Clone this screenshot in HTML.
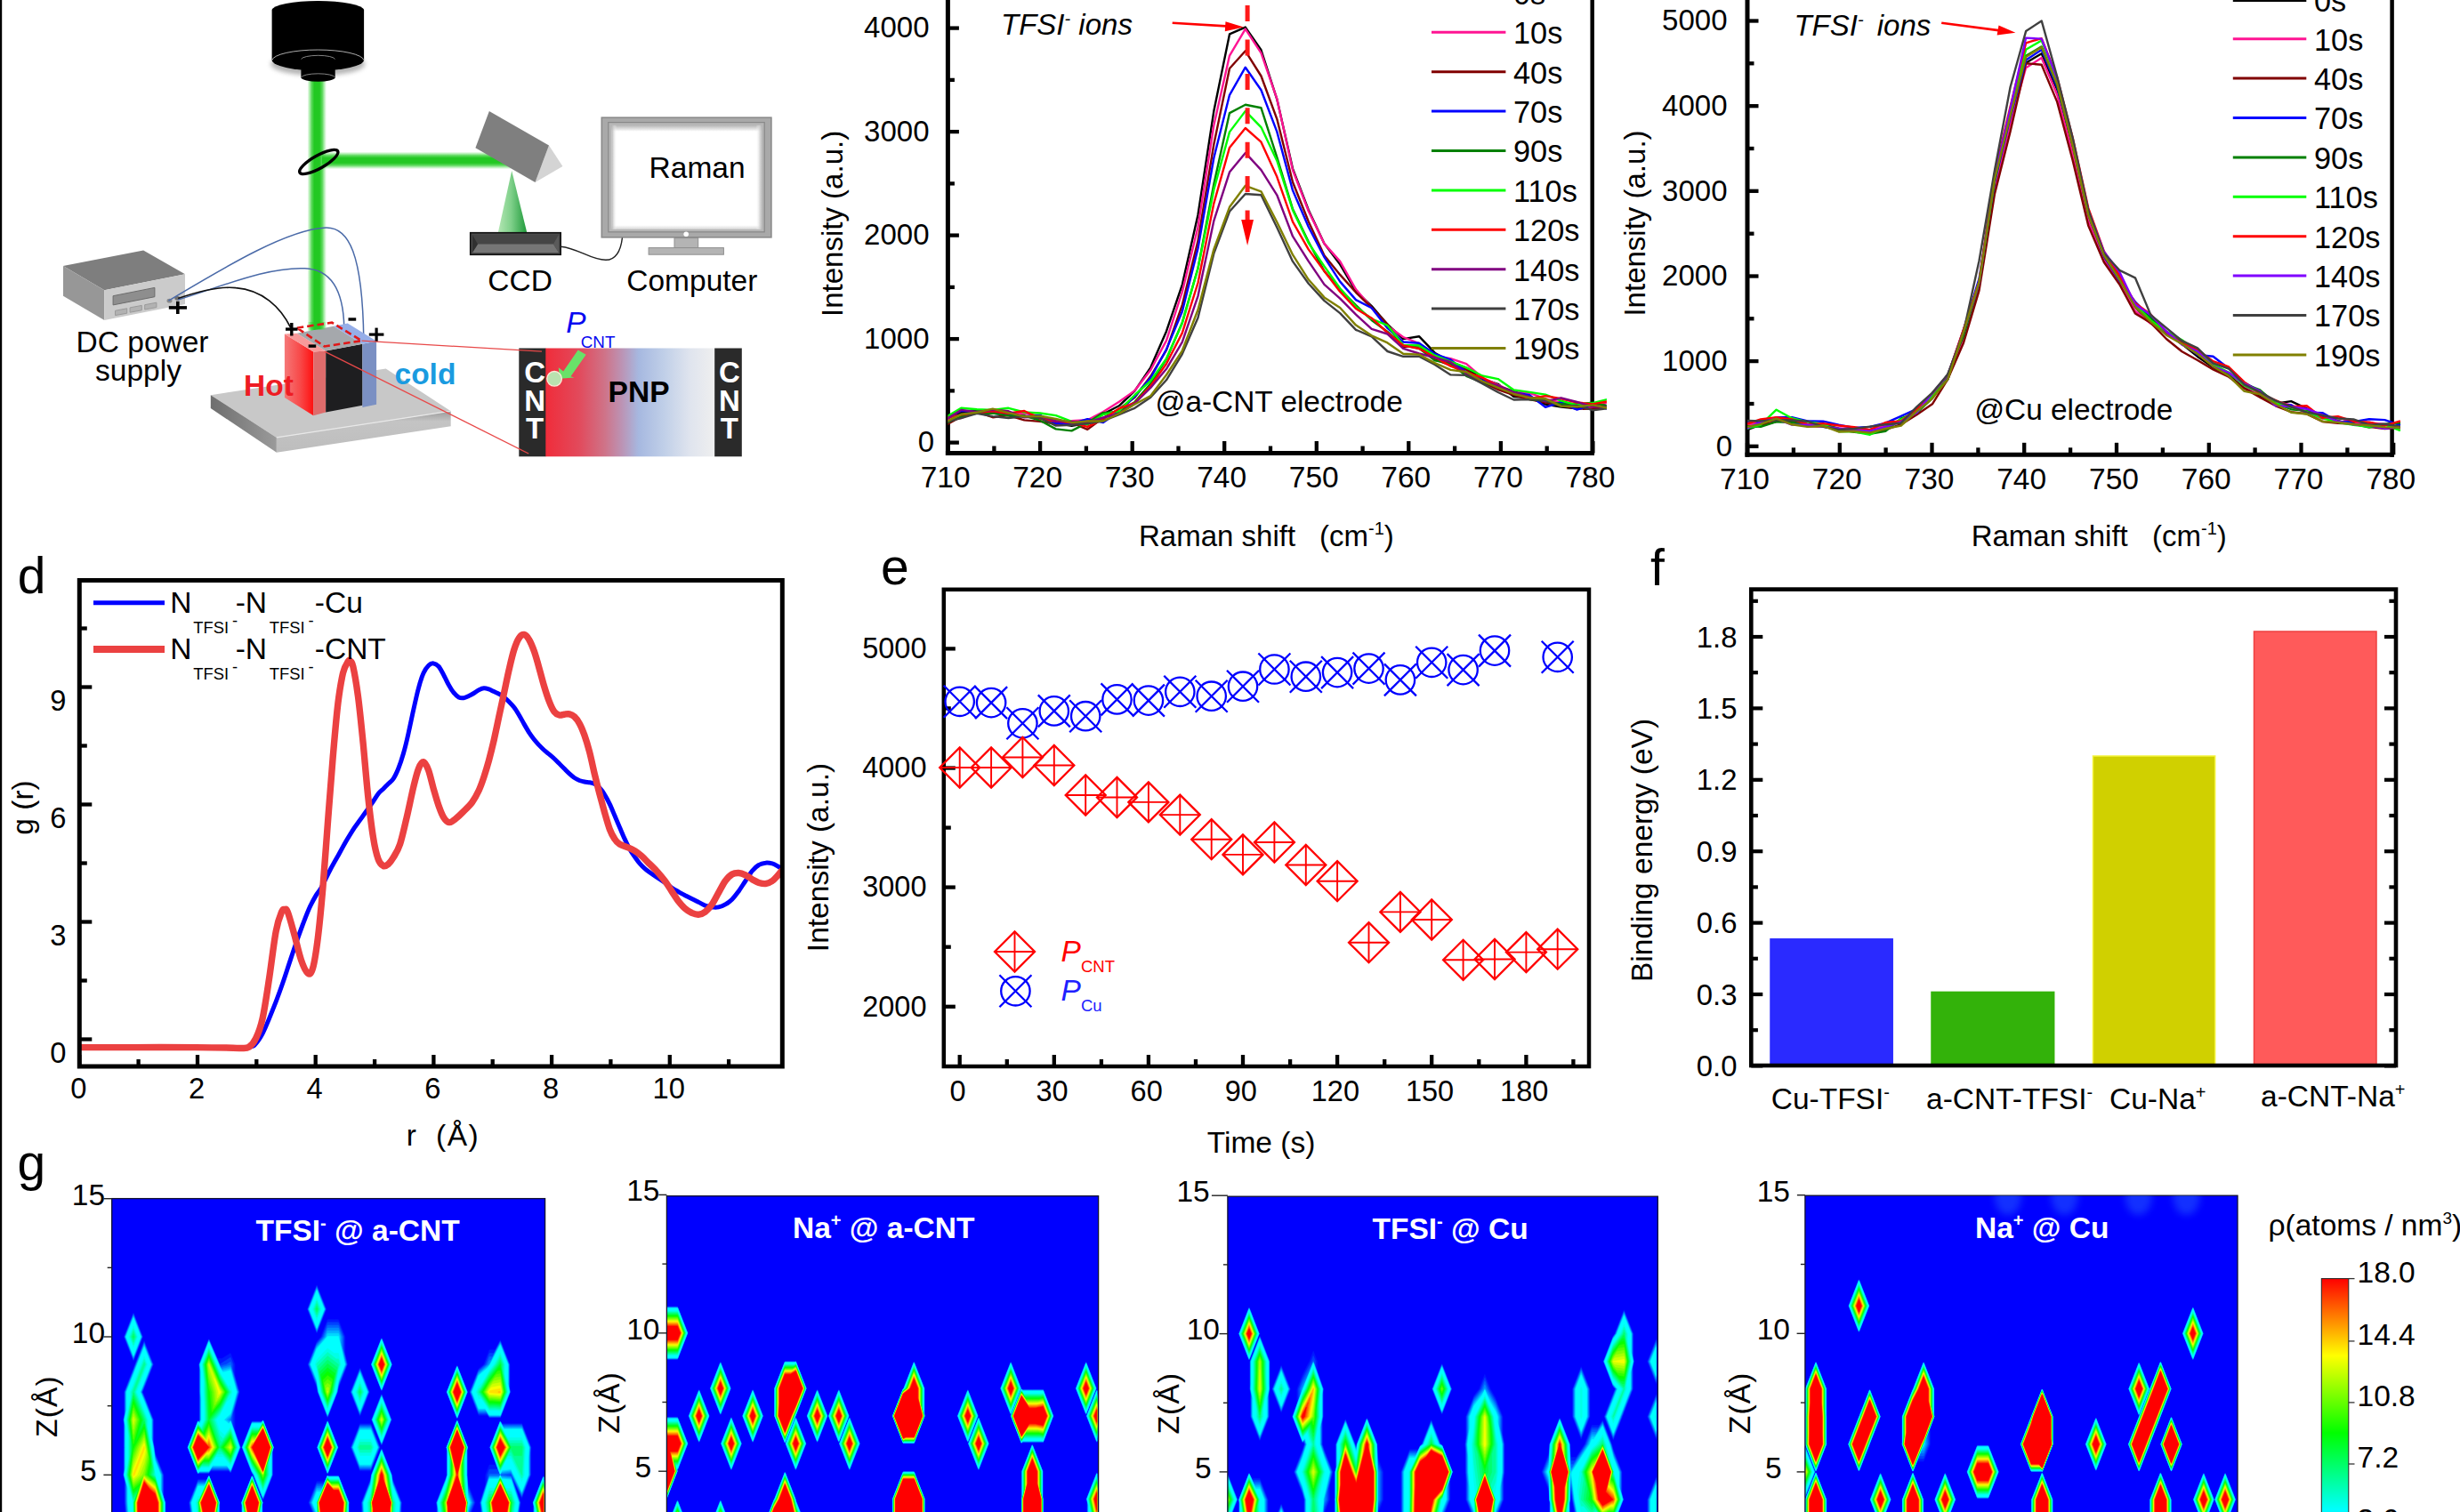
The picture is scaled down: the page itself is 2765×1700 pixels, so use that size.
<!DOCTYPE html>
<html><head><meta charset="utf-8"><title>figure</title>
<style>html,body{margin:0;padding:0;background:#fff}svg{display:block}text{font-family:"Liberation Sans",sans-serif}</style>
</head><body>
<svg width="2765" height="1700" viewBox="0 0 2765 1700" font-family='"Liberation Sans", sans-serif'>
<defs>
<clipPath id="clipb"><rect x="1065.4" y="-10" width="740.5" height="530"/></clipPath>
<clipPath id="clipc"><rect x="1964" y="-10" width="741" height="530"/></clipPath>
<linearGradient id="gbv" x1="0" x2="1" y1="0" y2="0">
<stop offset="0" stop-color="#5fe05f" stop-opacity="0"/><stop offset="0.22" stop-color="#3fd23f" stop-opacity="0.85"/><stop offset="0.36" stop-color="#22c822"/><stop offset="0.64" stop-color="#22c822"/><stop offset="0.78" stop-color="#3fd23f" stop-opacity="0.85"/><stop offset="1" stop-color="#5fe05f" stop-opacity="0"/></linearGradient>
<linearGradient id="gbh" x1="0" x2="0" y1="0" y2="1">
<stop offset="0" stop-color="#5fe05f" stop-opacity="0"/><stop offset="0.22" stop-color="#3fd23f" stop-opacity="0.85"/><stop offset="0.36" stop-color="#22c822"/><stop offset="0.64" stop-color="#22c822"/><stop offset="0.78" stop-color="#3fd23f" stop-opacity="0.85"/><stop offset="1" stop-color="#5fe05f" stop-opacity="0"/></linearGradient>
<linearGradient id="gcone" x1="0" x2="1" y1="0" y2="0"><stop offset="0" stop-color="#b4e6b4"/><stop offset="0.45" stop-color="#7fd08a"/><stop offset="1" stop-color="#1f9a3a"/></linearGradient>
<linearGradient id="ghot" x1="0" x2="1" y1="0" y2="0"><stop offset="0" stop-color="#f57878"/><stop offset="0.55" stop-color="#f84848"/><stop offset="1" stop-color="#ff1010"/></linearGradient>
<linearGradient id="gpnp" x1="0" x2="1" y1="0" y2="0"><stop offset="0" stop-color="#f02c3a"/><stop offset="0.2" stop-color="#e24a5c"/><stop offset="0.35" stop-color="#cf7388"/><stop offset="0.45" stop-color="#bc93b4"/><stop offset="0.55" stop-color="#a6b8e0"/><stop offset="0.7" stop-color="#c0cfe8"/><stop offset="0.85" stop-color="#dfe4ee"/><stop offset="1" stop-color="#efefef"/></linearGradient>
<linearGradient id="gplate" x1="0" x2="1" y1="0" y2="0"><stop offset="0" stop-color="#6e6e6e"/><stop offset="1" stop-color="#9a9a9a"/></linearGradient>
<linearGradient id="gplf" x1="0" x2="0" y1="0" y2="1"><stop offset="0" stop-color="#9c9c9c"/><stop offset="0.25" stop-color="#c4c4c4"/><stop offset="1" stop-color="#bdbdbd"/></linearGradient>
<linearGradient id="gscr" x1="0" x2="0" y1="0" y2="1"><stop offset="0" stop-color="#b5b5b5"/><stop offset="0.06" stop-color="#fff"/><stop offset="0.96" stop-color="#fff"/><stop offset="1" stop-color="#d8d8d8"/></linearGradient>
<linearGradient id="gscr2" x1="0" x2="1" y1="0" y2="0"><stop offset="0" stop-color="#b5b5b5"/><stop offset="0.035" stop-color="#fff" stop-opacity="0"/><stop offset="0.965" stop-color="#fff" stop-opacity="0"/><stop offset="1" stop-color="#c0c0c0"/></linearGradient>
<filter id="blur1" x="-20%" y="-20%" width="140%" height="140%"><feGaussianBlur stdDeviation="1.2"/></filter>
<filter id="shadow" x="-20%" y="-20%" width="140%" height="150%"><feGaussianBlur stdDeviation="2.5"/></filter>
<clipPath id="clipd"><rect x="89.3" y="652.5" width="790" height="546.5"/></clipPath>
<filter id="gblur" x="-50%" y="-50%" width="200%" height="200%"><feGaussianBlur stdDeviation="4"/></filter>
<linearGradient id="gcb" x1="0" x2="0" y1="0" y2="1"><stop offset="0" stop-color="#ff0000"/><stop offset="0.25" stop-color="#ffff00"/><stop offset="0.5" stop-color="#00ff00"/><stop offset="0.75" stop-color="#00ffff"/><stop offset="1" stop-color="#0000ff"/></linearGradient>
<clipPath id="cg1"><rect x="125.7" y="1347.6" width="486.9" height="360"/></clipPath>
<clipPath id="cg2"><rect x="749.4" y="1344.7" width="485.2" height="360"/></clipPath>
<clipPath id="cg3"><rect x="1379.9" y="1345.2" width="483.4" height="360"/></clipPath>
<clipPath id="cg4"><rect x="2028.9" y="1344.2" width="486.1" height="360"/></clipPath>
</defs>
<rect x="0" y="0" width="2765" height="1700" fill="#fff"/>
<line x1="1065.4" y1="497.6" x2="1077.9" y2="497.6" stroke="#000" stroke-width="4.3"/>
<text x="1050" y="508.4" font-size="33" text-anchor="end">0</text>
<line x1="1065.4" y1="439.4" x2="1072.9" y2="439.4" stroke="#000" stroke-width="4.3"/>
<line x1="1065.4" y1="381.1" x2="1077.9" y2="381.1" stroke="#000" stroke-width="4.3"/>
<text x="1044.5" y="391.9" font-size="33" text-anchor="end">1000</text>
<line x1="1065.4" y1="322.9" x2="1072.9" y2="322.9" stroke="#000" stroke-width="4.3"/>
<line x1="1065.4" y1="264.6" x2="1077.9" y2="264.6" stroke="#000" stroke-width="4.3"/>
<text x="1044.5" y="275.4" font-size="33" text-anchor="end">2000</text>
<line x1="1065.4" y1="206.4" x2="1072.9" y2="206.4" stroke="#000" stroke-width="4.3"/>
<line x1="1065.4" y1="148.1" x2="1077.9" y2="148.1" stroke="#000" stroke-width="4.3"/>
<text x="1044.5" y="158.9" font-size="33" text-anchor="end">3000</text>
<line x1="1065.4" y1="89.9" x2="1072.9" y2="89.9" stroke="#000" stroke-width="4.3"/>
<line x1="1065.4" y1="31.6" x2="1077.9" y2="31.6" stroke="#000" stroke-width="4.3"/>
<text x="1044.5" y="42.4" font-size="33" text-anchor="end">4000</text>
<line x1="1065.6" y1="509.5" x2="1065.6" y2="496" stroke="#000" stroke-width="4.3"/>
<text x="1062.6" y="547.8" font-size="33.5" text-anchor="middle">710</text>
<line x1="1117.4" y1="509.5" x2="1117.4" y2="501.5" stroke="#000" stroke-width="4.3"/>
<line x1="1169.1" y1="509.5" x2="1169.1" y2="496" stroke="#000" stroke-width="4.3"/>
<text x="1166.1" y="547.8" font-size="33.5" text-anchor="middle">720</text>
<line x1="1220.9" y1="509.5" x2="1220.9" y2="501.5" stroke="#000" stroke-width="4.3"/>
<line x1="1272.7" y1="509.5" x2="1272.7" y2="496" stroke="#000" stroke-width="4.3"/>
<text x="1269.7" y="547.8" font-size="33.5" text-anchor="middle">730</text>
<line x1="1324.5" y1="509.5" x2="1324.5" y2="501.5" stroke="#000" stroke-width="4.3"/>
<line x1="1376.2" y1="509.5" x2="1376.2" y2="496" stroke="#000" stroke-width="4.3"/>
<text x="1373.2" y="547.8" font-size="33.5" text-anchor="middle">740</text>
<line x1="1428" y1="509.5" x2="1428" y2="501.5" stroke="#000" stroke-width="4.3"/>
<line x1="1479.8" y1="509.5" x2="1479.8" y2="496" stroke="#000" stroke-width="4.3"/>
<text x="1476.8" y="547.8" font-size="33.5" text-anchor="middle">750</text>
<line x1="1531.6" y1="509.5" x2="1531.6" y2="501.5" stroke="#000" stroke-width="4.3"/>
<line x1="1583.3" y1="509.5" x2="1583.3" y2="496" stroke="#000" stroke-width="4.3"/>
<text x="1580.3" y="547.8" font-size="33.5" text-anchor="middle">760</text>
<line x1="1635.1" y1="509.5" x2="1635.1" y2="501.5" stroke="#000" stroke-width="4.3"/>
<line x1="1686.9" y1="509.5" x2="1686.9" y2="496" stroke="#000" stroke-width="4.3"/>
<text x="1683.9" y="547.8" font-size="33.5" text-anchor="middle">770</text>
<line x1="1738.7" y1="509.5" x2="1738.7" y2="501.5" stroke="#000" stroke-width="4.3"/>
<line x1="1790.4" y1="509.5" x2="1790.4" y2="496" stroke="#000" stroke-width="4.3"/>
<text x="1787.4" y="547.8" font-size="33.5" text-anchor="middle">780</text>
<line x1="1065.4" y1="-5" x2="1065.4" y2="512" stroke="#000" stroke-width="5"/>
<line x1="1789.7" y1="-5" x2="1789.7" y2="512" stroke="#000" stroke-width="4.5"/>
<line x1="1062.9" y1="509.5" x2="1792" y2="509.5" stroke="#000" stroke-width="5"/>
<g clip-path="url(#clipb)">
<polyline points="1062.5,470.7 1080.3,464.2 1098,461.6 1115.8,462.4 1133.5,466.7 1151.3,467.9 1169,470.2 1186.8,475.5 1204.5,478.7 1222.3,475.9 1240,465.5 1257.8,456.3 1275.5,439.4 1293.3,413.1 1311,372.4 1328.8,320.1 1346.5,241.5 1364.3,125.1 1382,38.4 1399.8,30.6 1417.5,56.3 1435.3,111.6 1453,189.6 1470.7,235.9 1488.5,273.9 1506.2,297.3 1524,327.5 1541.7,344.1 1559.5,364.7 1577.2,381.1 1595,378.2 1612.7,396.7 1630.5,406.8 1648.2,413.7 1666,425.9 1683.7,431.8 1701.5,446 1719.2,447.1 1737,454.6 1754.7,457.6 1772.5,459.4 1790.2,453.4 1808,458" fill="none" stroke="#000000" stroke-width="2.4" stroke-linejoin="round"/>
<polyline points="1062.5,472.3 1080.3,470.1 1098,462.9 1115.8,461.7 1133.5,465.9 1151.3,464.9 1169,467.4 1186.8,476.9 1204.5,473.3 1222.3,472.2 1240,463 1257.8,451.8 1275.5,439.1 1293.3,416 1311,382.9 1328.8,328.1 1346.5,255.2 1364.3,141 1382,62.6 1399.8,32.6 1417.5,59.6 1435.3,111.2 1453,191.2 1470.7,237.2 1488.5,273.9 1506.2,293.9 1524,325.3 1541.7,346 1559.5,366.3 1577.2,379 1595,386.1 1612.7,400 1630.5,403.1 1648.2,409.2 1666,424.5 1683.7,432.8 1701.5,440.7 1719.2,441.8 1737,448.3 1754.7,452.6 1772.5,454.3 1790.2,459.4 1808,451.8" fill="none" stroke="#ff1493" stroke-width="2.4" stroke-linejoin="round"/>
<polyline points="1062.5,478.2 1080.3,468.5 1098,463.2 1115.8,469.2 1133.5,467 1151.3,472.4 1169,473.9 1186.8,476.5 1204.5,475.2 1222.3,482.9 1240,469.7 1257.8,460 1275.5,446.7 1293.3,423 1311,393.7 1328.8,342.9 1346.5,270.9 1364.3,162.5 1382,77 1399.8,57.3 1417.5,85.5 1435.3,133.8 1453,204.7 1470.7,249 1488.5,287.3 1506.2,308.9 1524,328.8 1541.7,345.9 1559.5,364.7 1577.2,390.2 1595,388.4 1612.7,404.1 1630.5,410.9 1648.2,415.5 1666,429.5 1683.7,438 1701.5,444.1 1719.2,449 1737,452.6 1754.7,455.9 1772.5,459.8 1790.2,459.5 1808,458.5" fill="none" stroke="#800000" stroke-width="2.4" stroke-linejoin="round"/>
<polyline points="1062.5,471.5 1080.3,461.7 1098,463.2 1115.8,464.5 1133.5,466.7 1151.3,468.2 1169,466.8 1186.8,476 1204.5,476.4 1222.3,471.2 1240,475 1257.8,462.6 1275.5,445.6 1293.3,424.8 1311,392.9 1328.8,350.3 1346.5,279.2 1364.3,177.8 1382,106.8 1399.8,75.7 1417.5,101.3 1435.3,148.1 1453,214.1 1470.7,255 1488.5,289.2 1506.2,316.6 1524,337.1 1541.7,346.2 1559.5,368.9 1577.2,384.5 1595,385.8 1612.7,398 1630.5,404.4 1648.2,418.6 1666,427.4 1683.7,435.6 1701.5,441.3 1719.2,444.1 1737,457.8 1754.7,452.2 1772.5,460.6 1790.2,454.8 1808,460.1" fill="none" stroke="#0000ff" stroke-width="2.4" stroke-linejoin="round"/>
<polyline points="1062.5,476.1 1080.3,468.4 1098,464.7 1115.8,464.6 1133.5,467.4 1151.3,467.5 1169,472.7 1186.8,482.4 1204.5,484.4 1222.3,475.2 1240,464.1 1257.8,463 1275.5,451.9 1293.3,431.4 1311,403.9 1328.8,362.7 1346.5,301.5 1364.3,207.2 1382,127.1 1399.8,117.8 1417.5,121.3 1435.3,176.8 1453,235.1 1470.7,271.7 1488.5,304.9 1506.2,325.1 1524,343.2 1541.7,360 1559.5,373 1577.2,388.2 1595,391.5 1612.7,405.4 1630.5,408.5 1648.2,422.8 1666,430 1683.7,434.2 1701.5,439.8 1719.2,449 1737,450.9 1754.7,454.5 1772.5,454.4 1790.2,452.8 1808,456.5" fill="none" stroke="#008000" stroke-width="2.4" stroke-linejoin="round"/>
<polyline points="1062.5,469.5 1080.3,458.8 1098,460.2 1115.8,461 1133.5,458.8 1151.3,463.5 1169,464.5 1186.8,467.1 1204.5,473.8 1222.3,477.5 1240,466.1 1257.8,462.1 1275.5,444 1293.3,428.1 1311,403.1 1328.8,363.4 1346.5,301.8 1364.3,213.4 1382,148.4 1399.8,124.9 1417.5,143.1 1435.3,180.7 1453,236.2 1470.7,273.1 1488.5,299.4 1506.2,324.2 1524,344.9 1541.7,358.5 1559.5,365.8 1577.2,388 1595,388.4 1612.7,399.7 1630.5,406.5 1648.2,413.4 1666,422.5 1683.7,426.1 1701.5,438.4 1719.2,440.9 1737,443.6 1754.7,450.7 1772.5,455.3 1790.2,453.2 1808,448.7" fill="none" stroke="#00ff00" stroke-width="2.4" stroke-linejoin="round"/>
<polyline points="1062.5,470.4 1080.3,466.3 1098,464.1 1115.8,462.3 1133.5,464.7 1151.3,462 1169,470.7 1186.8,473.5 1204.5,475.2 1222.3,479.8 1240,471.2 1257.8,459.3 1275.5,453 1293.3,433.9 1311,409 1328.8,374.4 1346.5,318 1364.3,228.8 1382,165.9 1399.8,144 1417.5,159.7 1435.3,198.8 1453,249.3 1470.7,280.4 1488.5,304.8 1506.2,327.9 1524,347 1541.7,357.7 1559.5,374 1577.2,388.4 1595,392 1612.7,401.5 1630.5,411.6 1648.2,418.7 1666,424.5 1683.7,434.1 1701.5,441.6 1719.2,448.2 1737,445.1 1754.7,448.3 1772.5,452.5 1790.2,454.4 1808,451.2" fill="none" stroke="#ff0000" stroke-width="2.4" stroke-linejoin="round"/>
<polyline points="1062.5,472.1 1080.3,460.9 1098,463.2 1115.8,460.8 1133.5,462.3 1151.3,469.3 1169,468.2 1186.8,473.2 1204.5,474.1 1222.3,474.9 1240,469.5 1257.8,464.8 1275.5,453.5 1293.3,436 1311,414.8 1328.8,384.6 1346.5,332.8 1364.3,248.4 1382,193.6 1399.8,171.9 1417.5,191.1 1435.3,219.3 1453,265.7 1470.7,293.6 1488.5,319.8 1506.2,335.6 1524,353.7 1541.7,369.9 1559.5,375.5 1577.2,391.8 1595,397.5 1612.7,402 1630.5,407.2 1648.2,420.4 1666,428.8 1683.7,433.5 1701.5,441 1719.2,446.1 1737,451.3 1754.7,447.3 1772.5,452 1790.2,457.4 1808,457.5" fill="none" stroke="#800080" stroke-width="2.4" stroke-linejoin="round"/>
<polyline points="1062.5,474.5 1080.3,470.2 1098,464.8 1115.8,468.1 1133.5,470.1 1151.3,468 1169,470 1186.8,478.6 1204.5,477.8 1222.3,476.3 1240,473.2 1257.8,466.1 1275.5,458.8 1293.3,446.7 1311,427.3 1328.8,398.1 1346.5,357.3 1364.3,285.2 1382,237.8 1399.8,218 1417.5,219.2 1435.3,255.7 1453,293.9 1470.7,318.7 1488.5,338.1 1506.2,352.1 1524,370.8 1541.7,378.3 1559.5,395 1577.2,400.8 1595,400.7 1612.7,410 1630.5,421.4 1648.2,421.9 1666,431.1 1683.7,441 1701.5,449.5 1719.2,449.1 1737,450.1 1754.7,456.5 1772.5,456 1790.2,461.2 1808,459.1" fill="none" stroke="#404040" stroke-width="2.4" stroke-linejoin="round"/>
<polyline points="1062.5,474.6 1080.3,465.8 1098,463.8 1115.8,459.7 1133.5,464.1 1151.3,468.4 1169,467.8 1186.8,471 1204.5,475.1 1222.3,473.5 1240,473.5 1257.8,465 1275.5,454.5 1293.3,445 1311,421.5 1328.8,394.3 1346.5,348.2 1364.3,280.4 1382,232.8 1399.8,208.8 1417.5,215.3 1435.3,249.7 1453,286.4 1470.7,314.3 1488.5,334.4 1506.2,346 1524,365.6 1541.7,377.3 1559.5,385.4 1577.2,397.8 1595,398.6 1612.7,408.1 1630.5,415.9 1648.2,418.3 1666,428.5 1683.7,435.9 1701.5,443 1719.2,447.2 1737,448.3 1754.7,456.6 1772.5,457.3 1790.2,455.4 1808,458.8" fill="none" stroke="#808000" stroke-width="2.4" stroke-linejoin="round"/>
</g>
<line x1="1609" y1="-8.1" x2="1692.4" y2="-8.1" stroke="#000000" stroke-width="3"/>
<text x="1701" y="4.7" font-size="34.3">0s</text>
<line x1="1609" y1="36.3" x2="1692.4" y2="36.3" stroke="#ff1493" stroke-width="3"/>
<text x="1701" y="49.1" font-size="34.3">10s</text>
<line x1="1609" y1="80.7" x2="1692.4" y2="80.7" stroke="#800000" stroke-width="3"/>
<text x="1701" y="93.5" font-size="34.3">40s</text>
<line x1="1609" y1="125.1" x2="1692.4" y2="125.1" stroke="#0000ff" stroke-width="3"/>
<text x="1701" y="137.9" font-size="34.3">70s</text>
<line x1="1609" y1="169.5" x2="1692.4" y2="169.5" stroke="#008000" stroke-width="3"/>
<text x="1701" y="182.3" font-size="34.3">90s</text>
<line x1="1609" y1="213.9" x2="1692.4" y2="213.9" stroke="#00ff00" stroke-width="3"/>
<text x="1701" y="226.7" font-size="34.3">110s</text>
<line x1="1609" y1="258.3" x2="1692.4" y2="258.3" stroke="#ff0000" stroke-width="3"/>
<text x="1701" y="271.1" font-size="34.3">120s</text>
<line x1="1609" y1="302.7" x2="1692.4" y2="302.7" stroke="#800080" stroke-width="3"/>
<text x="1701" y="315.5" font-size="34.3">140s</text>
<line x1="1609" y1="347.1" x2="1692.4" y2="347.1" stroke="#404040" stroke-width="3"/>
<text x="1701" y="359.9" font-size="34.3">170s</text>
<line x1="1609" y1="391.5" x2="1692.4" y2="391.5" stroke="#808000" stroke-width="3"/>
<text x="1701" y="404.3" font-size="34.3">190s</text>
<text x="1125" y="39.2" font-size="33" font-style="italic">TFSI<tspan dy="-11" font-size="20">-</tspan><tspan dy="11"> ions</tspan></text>
<line x1="1317.7" y1="25.7" x2="1382" y2="29.6" stroke="#ff0000" stroke-width="2.6"/>
<polygon points="1398,30.6 1377.5,24.2 1376.8,35.2" fill="#ff0000"/>
<line x1="1402.1" y1="-32.3" x2="1402.1" y2="250" stroke="#ff1a1a" stroke-width="5" stroke-dasharray="18 20.4"/>
<polygon points="1402.1,276 1395.2,247 1409,247" fill="#ff0000"/>
<text x="1298.5" y="463.4" font-size="33.4">@a-CNT electrode</text>
<text x="1280" y="613.8" font-size="33">Raman shift</text>
<text x="1483" y="613.8" font-size="33">(cm<tspan dy="-13" font-size="20">-1</tspan><tspan dy="13">)</tspan></text>
<text transform="translate(946.5 251.4) rotate(-90)" font-size="33" text-anchor="middle">Intensity (a.u.)</text>
<line x1="1964" y1="501.8" x2="1976.5" y2="501.8" stroke="#000" stroke-width="4.3"/>
<text x="1947" y="512.6" font-size="33" text-anchor="end">0</text>
<line x1="1964" y1="454" x2="1971.5" y2="454" stroke="#000" stroke-width="4.3"/>
<line x1="1964" y1="406.1" x2="1976.5" y2="406.1" stroke="#000" stroke-width="4.3"/>
<text x="1941.5" y="416.9" font-size="33" text-anchor="end">1000</text>
<line x1="1964" y1="358.3" x2="1971.5" y2="358.3" stroke="#000" stroke-width="4.3"/>
<line x1="1964" y1="310.5" x2="1976.5" y2="310.5" stroke="#000" stroke-width="4.3"/>
<text x="1941.5" y="321.3" font-size="33" text-anchor="end">2000</text>
<line x1="1964" y1="262.7" x2="1971.5" y2="262.7" stroke="#000" stroke-width="4.3"/>
<line x1="1964" y1="214.8" x2="1976.5" y2="214.8" stroke="#000" stroke-width="4.3"/>
<text x="1941.5" y="225.6" font-size="33" text-anchor="end">3000</text>
<line x1="1964" y1="167" x2="1971.5" y2="167" stroke="#000" stroke-width="4.3"/>
<line x1="1964" y1="119.2" x2="1976.5" y2="119.2" stroke="#000" stroke-width="4.3"/>
<text x="1941.5" y="130" font-size="33" text-anchor="end">4000</text>
<line x1="1964" y1="71.3" x2="1971.5" y2="71.3" stroke="#000" stroke-width="4.3"/>
<line x1="1964" y1="23.5" x2="1976.5" y2="23.5" stroke="#000" stroke-width="4.3"/>
<text x="1941.5" y="34.3" font-size="33" text-anchor="end">5000</text>
<line x1="1964" y1="511.3" x2="1964" y2="497.8" stroke="#000" stroke-width="4.3"/>
<text x="1961" y="549.7" font-size="33.5" text-anchor="middle">710</text>
<line x1="2015.9" y1="511.3" x2="2015.9" y2="503.3" stroke="#000" stroke-width="4.3"/>
<line x1="2067.8" y1="511.3" x2="2067.8" y2="497.8" stroke="#000" stroke-width="4.3"/>
<text x="2064.8" y="549.7" font-size="33.5" text-anchor="middle">720</text>
<line x1="2119.6" y1="511.3" x2="2119.6" y2="503.3" stroke="#000" stroke-width="4.3"/>
<line x1="2171.5" y1="511.3" x2="2171.5" y2="497.8" stroke="#000" stroke-width="4.3"/>
<text x="2168.5" y="549.7" font-size="33.5" text-anchor="middle">730</text>
<line x1="2223.4" y1="511.3" x2="2223.4" y2="503.3" stroke="#000" stroke-width="4.3"/>
<line x1="2275.2" y1="511.3" x2="2275.2" y2="497.8" stroke="#000" stroke-width="4.3"/>
<text x="2272.2" y="549.7" font-size="33.5" text-anchor="middle">740</text>
<line x1="2327.1" y1="511.3" x2="2327.1" y2="503.3" stroke="#000" stroke-width="4.3"/>
<line x1="2379" y1="511.3" x2="2379" y2="497.8" stroke="#000" stroke-width="4.3"/>
<text x="2376" y="549.7" font-size="33.5" text-anchor="middle">750</text>
<line x1="2430.9" y1="511.3" x2="2430.9" y2="503.3" stroke="#000" stroke-width="4.3"/>
<line x1="2482.8" y1="511.3" x2="2482.8" y2="497.8" stroke="#000" stroke-width="4.3"/>
<text x="2479.8" y="549.7" font-size="33.5" text-anchor="middle">760</text>
<line x1="2534.6" y1="511.3" x2="2534.6" y2="503.3" stroke="#000" stroke-width="4.3"/>
<line x1="2586.5" y1="511.3" x2="2586.5" y2="497.8" stroke="#000" stroke-width="4.3"/>
<text x="2583.5" y="549.7" font-size="33.5" text-anchor="middle">770</text>
<line x1="2638.4" y1="511.3" x2="2638.4" y2="503.3" stroke="#000" stroke-width="4.3"/>
<line x1="2690.2" y1="511.3" x2="2690.2" y2="497.8" stroke="#000" stroke-width="4.3"/>
<text x="2687.2" y="549.7" font-size="33.5" text-anchor="middle">780</text>
<line x1="1964" y1="-5" x2="1964" y2="513.8" stroke="#000" stroke-width="5"/>
<line x1="2688.6" y1="-5" x2="2688.6" y2="513.8" stroke="#000" stroke-width="4.5"/>
<line x1="1961.5" y1="511.3" x2="2690.8" y2="511.3" stroke="#000" stroke-width="5"/>
<g clip-path="url(#clipc)">
<polyline points="1961.5,484.1 1979,477.3 1996.6,473.7 2014.1,472.9 2031.6,476.9 2049.2,479.1 2066.7,483.9 2084.2,483.6 2101.8,482.9 2119.3,480.5 2136.8,473 2154.4,461.1 2171.9,444.4 2189.4,426.3 2207,371.4 2224.5,318.2 2242,206.8 2259.6,135.4 2277.1,70.7 2294.7,60.2 2312.2,100.7 2329.7,168.5 2347.3,244.7 2364.8,289.5 2382.3,313.8 2399.9,345.1 2417.4,363.3 2434.9,373.6 2452.5,386.9 2470,400.9 2487.5,412.9 2505.1,421.6 2522.6,435.6 2540.1,444.8 2557.7,453.7 2575.2,451.1 2592.7,459.4 2610.3,468.6 2627.8,473.2 2645.3,477 2662.9,476.7 2680.4,476.9 2697.9,475.5" fill="none" stroke="#000000" stroke-width="2.4" stroke-linejoin="round"/>
<polyline points="1961.5,478.5 1979,474.7 1996.6,473.4 2014.1,469.9 2031.6,477.2 2049.2,477.4 2066.7,481.4 2084.2,481.8 2101.8,484.8 2119.3,477.9 2136.8,473.4 2154.4,459.9 2171.9,445.1 2189.4,424.1 2207,380.5 2224.5,320.6 2242,211.5 2259.6,138.6 2277.1,76.2 2294.7,65.1 2312.2,106.5 2329.7,172.7 2347.3,248.4 2364.8,292.4 2382.3,317.6 2399.9,349.8 2417.4,363.8 2434.9,374.6 2452.5,386.7 2470,398.1 2487.5,410.3 2505.1,419.2 2522.6,433.9 2540.1,443.3 2557.7,451.6 2575.2,455.3 2592.7,464.7 2610.3,470.5 2627.8,469 2645.3,475.2 2662.9,475.3 2680.4,477.2 2697.9,481.5" fill="none" stroke="#ff1493" stroke-width="2.4" stroke-linejoin="round"/>
<polyline points="1961.5,480.9 1979,478.3 1996.6,474.1 2014.1,472.5 2031.6,479.3 2049.2,479.6 2066.7,482.9 2084.2,485.7 2101.8,487.2 2119.3,483.1 2136.8,477.2 2154.4,466.3 2171.9,454.3 2189.4,426 2207,385.4 2224.5,326.6 2242,217.9 2259.6,147.8 2277.1,71.3 2294.7,72.7 2312.2,114.6 2329.7,180.5 2347.3,253.9 2364.8,294.7 2382.3,319.8 2399.9,352.5 2417.4,362.9 2434.9,381 2452.5,395.2 2470,405 2487.5,415.4 2505.1,423.7 2522.6,436.8 2540.1,446.8 2557.7,456.3 2575.2,463.2 2592.7,465.3 2610.3,474 2627.8,475.9 2645.3,476.8 2662.9,479.8 2680.4,482.1 2697.9,481" fill="none" stroke="#800000" stroke-width="2.4" stroke-linejoin="round"/>
<polyline points="1961.5,474 1979,473.7 1996.6,469.3 2014.1,469.1 2031.6,473.4 2049.2,473.7 2066.7,477.7 2084.2,481 2101.8,479.9 2119.3,475.6 2136.8,467.8 2154.4,459.9 2171.9,442.9 2189.4,423 2207,370.6 2224.5,313.4 2242,204.6 2259.6,131.9 2277.1,67.5 2294.7,55.9 2312.2,97.8 2329.7,163.2 2347.3,241.5 2364.8,288.2 2382.3,315.6 2399.9,339.3 2417.4,357.4 2434.9,374.2 2452.5,384.7 2470,398.9 2487.5,400.8 2505.1,414.2 2522.6,430 2540.1,440 2557.7,453.9 2575.2,455.5 2592.7,463.6 2610.3,464.1 2627.8,474.1 2645.3,474.1 2662.9,471.3 2680.4,472.1 2697.9,478.1" fill="none" stroke="#0000ff" stroke-width="2.4" stroke-linejoin="round"/>
<polyline points="1961.5,478.9 1979,479.9 1996.6,474.2 2014.1,475 2031.6,478.1 2049.2,476.8 2066.7,481.9 2084.2,484.2 2101.8,487.7 2119.3,484.9 2136.8,470.3 2154.4,464.2 2171.9,447.8 2189.4,420.3 2207,377.5 2224.5,318.2 2242,203 2259.6,129.2 2277.1,62.9 2294.7,52.4 2312.2,95.6 2329.7,163.6 2347.3,240.9 2364.8,283.4 2382.3,313.9 2399.9,343.3 2417.4,357.7 2434.9,373.1 2452.5,385.1 2470,397.4 2487.5,410.9 2505.1,420.1 2522.6,431.6 2540.1,438.4 2557.7,453.5 2575.2,460.2 2592.7,461.9 2610.3,469.7 2627.8,473.6 2645.3,476.7 2662.9,480.6 2680.4,477.3 2697.9,475.2" fill="none" stroke="#008000" stroke-width="2.4" stroke-linejoin="round"/>
<polyline points="1961.5,482.4 1979,477.6 1996.6,460.7 2014.1,470.2 2031.6,474.4 2049.2,476.8 2066.7,485 2084.2,485.2 2101.8,488.7 2119.3,480.2 2136.8,471.7 2154.4,463.5 2171.9,444.5 2189.4,421.5 2207,372.2 2224.5,316.8 2242,200.2 2259.6,124.9 2277.1,55.8 2294.7,45.5 2312.2,89.8 2329.7,158.7 2347.3,237.9 2364.8,283.8 2382.3,309.3 2399.9,342.4 2417.4,360.4 2434.9,372.5 2452.5,382.3 2470,395.5 2487.5,409.5 2505.1,418.7 2522.6,433.3 2540.1,441.4 2557.7,453.5 2575.2,457.8 2592.7,462.9 2610.3,470.2 2627.8,474.7 2645.3,477.8 2662.9,479.7 2680.4,477.3 2697.9,484.2" fill="none" stroke="#00ff00" stroke-width="2.4" stroke-linejoin="round"/>
<polyline points="1961.5,477.2 1979,471.5 1996.6,469.3 2014.1,471.4 2031.6,477.2 2049.2,476.1 2066.7,478.5 2084.2,480.1 2101.8,483.2 2119.3,475 2136.8,473.5 2154.4,459.9 2171.9,442.5 2189.4,421.6 2207,370.5 2224.5,316.6 2242,194.6 2259.6,119.7 2277.1,48.4 2294.7,43.1 2312.2,87.1 2329.7,155.1 2347.3,234.1 2364.8,282.3 2382.3,309.9 2399.9,340.8 2417.4,353.5 2434.9,373.3 2452.5,386.2 2470,393.4 2487.5,406.1 2505.1,412.5 2522.6,429.7 2540.1,442.4 2557.7,450 2575.2,457.3 2592.7,456.3 2610.3,469.8 2627.8,468.1 2645.3,473.7 2662.9,474.6 2680.4,478.7 2697.9,473.4" fill="none" stroke="#ff0000" stroke-width="2.4" stroke-linejoin="round"/>
<polyline points="1961.5,482.7 1979,474.3 1996.6,470.9 2014.1,477.6 2031.6,477.6 2049.2,479.7 2066.7,481.7 2084.2,483.9 2101.8,484.7 2119.3,479.9 2136.8,474.4 2154.4,464 2171.9,441.9 2189.4,421.2 2207,373.2 2224.5,317.8 2242,198.5 2259.6,122.1 2277.1,42.6 2294.7,43.6 2312.2,88.3 2329.7,157.2 2347.3,237.1 2364.8,283.1 2382.3,305.8 2399.9,342.2 2417.4,354.1 2434.9,372.5 2452.5,387.6 2470,395 2487.5,411.8 2505.1,419 2522.6,431.6 2540.1,439.7 2557.7,456 2575.2,457.3 2592.7,459.7 2610.3,466.4 2627.8,473.8 2645.3,477.2 2662.9,478.3 2680.4,481.9 2697.9,480.1" fill="none" stroke="#8000ff" stroke-width="2.4" stroke-linejoin="round"/>
<polyline points="1961.5,473 1979,473.4 1996.6,472.2 2014.1,472.5 2031.6,473.7 2049.2,479.8 2066.7,483 2084.2,482 2101.8,479.6 2119.3,477.2 2136.8,475.7 2154.4,457.4 2171.9,441.6 2189.4,420.8 2207,373.2 2224.5,293.3 2242,191.2 2259.6,97.8 2277.1,35.1 2294.7,23.4 2312.2,86.2 2329.7,155.1 2347.3,236.5 2364.8,284.8 2382.3,303.8 2399.9,312.3 2417.4,354.1 2434.9,368.7 2452.5,383.2 2470,391.4 2487.5,408.4 2505.1,414.5 2522.6,432.3 2540.1,440.9 2557.7,450.4 2575.2,457.5 2592.7,463.3 2610.3,467 2627.8,470.5 2645.3,471.5 2662.9,477.6 2680.4,476.7 2697.9,479.7" fill="none" stroke="#404040" stroke-width="2.4" stroke-linejoin="round"/>
<polyline points="1961.5,480.6 1979,476.9 1996.6,470.6 2014.1,477.3 2031.6,479.9 2049.2,478.9 2066.7,485.5 2084.2,484.7 2101.8,486.6 2119.3,482 2136.8,478.6 2154.4,462.3 2171.9,448.1 2189.4,426.3 2207,372.9 2224.5,317.2 2242,201.5 2259.6,129.7 2277.1,64.1 2294.7,53.1 2312.2,94.5 2329.7,164.3 2347.3,242.1 2364.8,287.1 2382.3,314.5 2399.9,344.8 2417.4,361.9 2434.9,376.7 2452.5,386.8 2470,397.9 2487.5,412 2505.1,422.6 2522.6,439.9 2540.1,443.3 2557.7,454.3 2575.2,463.7 2592.7,465.5 2610.3,473.7 2627.8,474.9 2645.3,477.1 2662.9,478.4 2680.4,480.4 2697.9,480.6" fill="none" stroke="#808000" stroke-width="2.4" stroke-linejoin="round"/>
</g>
<line x1="2509.8" y1="0.4" x2="2592.3" y2="0.4" stroke="#000000" stroke-width="3"/>
<text x="2601" y="13.2" font-size="34.3">0s</text>
<line x1="2509.8" y1="43.7" x2="2592.3" y2="43.7" stroke="#ff1493" stroke-width="3"/>
<text x="2601" y="56.5" font-size="34.3">10s</text>
<line x1="2509.8" y1="88.1" x2="2592.3" y2="88.1" stroke="#800000" stroke-width="3"/>
<text x="2601" y="100.9" font-size="34.3">40s</text>
<line x1="2509.8" y1="132.5" x2="2592.3" y2="132.5" stroke="#0000ff" stroke-width="3"/>
<text x="2601" y="145.3" font-size="34.3">70s</text>
<line x1="2509.8" y1="176.9" x2="2592.3" y2="176.9" stroke="#008000" stroke-width="3"/>
<text x="2601" y="189.7" font-size="34.3">90s</text>
<line x1="2509.8" y1="221.3" x2="2592.3" y2="221.3" stroke="#00ff00" stroke-width="3"/>
<text x="2601" y="234.1" font-size="34.3">110s</text>
<line x1="2509.8" y1="265.7" x2="2592.3" y2="265.7" stroke="#ff0000" stroke-width="3"/>
<text x="2601" y="278.5" font-size="34.3">120s</text>
<line x1="2509.8" y1="310.1" x2="2592.3" y2="310.1" stroke="#8000ff" stroke-width="3"/>
<text x="2601" y="322.9" font-size="34.3">140s</text>
<line x1="2509.8" y1="354.5" x2="2592.3" y2="354.5" stroke="#404040" stroke-width="3"/>
<text x="2601" y="367.3" font-size="34.3">170s</text>
<line x1="2509.8" y1="398.9" x2="2592.3" y2="398.9" stroke="#808000" stroke-width="3"/>
<text x="2601" y="411.7" font-size="34.3">190s</text>
<text x="2016.4" y="40.4" font-size="33" font-style="italic">TFSI<tspan dy="-11" font-size="20">-</tspan><tspan dy="11" dx="6"> ions</tspan></text>
<line x1="2182.2" y1="25.7" x2="2250" y2="34.6" stroke="#ff0000" stroke-width="2.6"/>
<polygon points="2265.4,36.7 2246.5,28.5 2244.6,39.6" fill="#ff0000"/>
<text x="2219.2" y="471.9" font-size="33.4">@Cu electrode</text>
<text x="2215.7" y="613.8" font-size="33">Raman shift</text>
<text x="2419" y="613.8" font-size="33">(cm<tspan dy="-13" font-size="20">-1</tspan><tspan dy="13">)</tspan></text>
<text transform="translate(1848.5 251) rotate(-90)" font-size="33" text-anchor="middle">Intensity (a.u.)</text>
<polygon points="236.8,444.2 433.7,414.6 506.7,462.2 310.9,491.9" fill="#c8c8c8"/>
<polygon points="236.8,444.2 310.9,491.9 310.9,508.8 236.8,459" fill="url(#gplate)"/>
<polygon points="310.9,491.9 506.7,462.2 506.7,479.2 310.9,508.8" fill="url(#gplf)"/>
<line x1="310.9" y1="491.9" x2="506.7" y2="462.2" stroke="#e8e8e8" stroke-width="1.2"/>
<rect x="345.4" y="90" width="21.6" height="282" fill="url(#gbv)"/>
<rect x="362" y="170.6" width="212" height="19.6" fill="url(#gbh)"/>
<ellipse cx="357.3" cy="72" rx="53" ry="13" fill="#777" opacity="0.55" filter="url(#shadow)"/>
<path d="M305.6,11 A51.8,10.5 0 0 1 409.1,11 L409.1,67.7 A51.8,12.2 0 0 1 305.6,67.7 Z" fill="#000"/>
<path d="M305.8,67.7 A51.6,12.2 0 0 1 408.9,67.7" fill="none" stroke="#d8d8d8" stroke-width="0.8"/>
<path d="M338.4,67 L338.4,87.3 A19.2,4.8 0 0 0 376.7,87.3 L376.7,67 Z" fill="#000"/>
<path d="M338.6,66.5 A19,4.5 0 0 1 376.5,66.5" fill="none" stroke="#bbb" stroke-width="0.7"/>
<path d="M338.6,87 A19,4.5 0 0 1 376.5,87" fill="none" stroke="#bbb" stroke-width="0.7"/>
<ellipse cx="358.3" cy="182" rx="24.5" ry="7.2" transform="rotate(-29.5 358.3 182)" fill="none" stroke="#000" stroke-width="3.4"/>
<polygon points="617,163.6 632.4,186.9 601.5,204.9" fill="#d4d4d4"/>
<polygon points="549.9,124.9 617,163.6 601.5,204.9 534.4,166.2" fill="#7f7f7f"/>
<polygon points="575.2,192 559.7,262 592.4,262" fill="url(#gcone)"/>
<rect x="528.7" y="261.7" width="101.5" height="24.6" fill="#4a4a4a" stroke="#111" stroke-width="1.6"/>
<polygon points="531,264 628,264 622,274.5 537,274.5" fill="#454545"/>
<polygon points="537,274.5 622,274.5 628,284 531,284" fill="#767676"/>
<polygon points="531,264 537,274.5 531,284" fill="#303030"/>
<polygon points="628,264 622,274.5 628,284" fill="#5a5a5a"/>
<path d="M630.2,277.2 C650,279 664,292.5 681,292.3 C694,292 698,280 699.5,266.8" fill="none" stroke="#222" stroke-width="1.4"/>
<rect x="676.3" y="132.2" width="190.6" height="134.6" fill="#a9a9a9" stroke="#8a8a8a" stroke-width="1.6"/>
<rect x="683.8" y="137.6" width="175.4" height="123.2" fill="#b6b6b6" stroke="#888" stroke-width="1.2"/>
<rect x="687.6" y="140.8" width="167.8" height="117" fill="url(#gscr)"/>
<rect x="687.6" y="140.8" width="167.8" height="117" fill="url(#gscr2)"/>
<circle cx="771.2" cy="263.3" r="2.8" fill="#fff"/>
<rect x="758" y="267.6" width="26.7" height="11" fill="#b4b4b4" stroke="#8f8f8f" stroke-width="1"/>
<rect x="729.1" y="278.6" width="84.3" height="7.6" fill="#b4b4b4" stroke="#8f8f8f" stroke-width="1"/>
<text x="729.6" y="199.6" font-size="33.5">Raman</text>
<text x="548.3" y="326.7" font-size="33.5">CCD</text>
<text x="704.3" y="326.7" font-size="33.5">Computer</text>
<polygon points="71,299 161.2,281.5 208,308.3 117.3,326.3" fill="#7e7e7e"/>
<polygon points="71,299 117.3,326.3 117.3,360 71,332.7" fill="#979797"/>
<polygon points="117.3,326.3 208,308.3 208,342 117.3,360" fill="#cbcbcb"/>
<polygon points="127.1,332.7 173.9,323.4 173.9,333.7 127.1,342.9" fill="#8e8e8e" stroke="#6c6c6c" stroke-width="1"/>
<polygon points="129.5,349.3 142.7,346.8 142.7,352.2 129.5,354.6" fill="#b2b2b2" stroke="#9a9a9a" stroke-width="1"/>
<polygon points="146.1,345.9 159.3,343.4 159.3,348.8 146.1,351.2" fill="#b2b2b2" stroke="#9a9a9a" stroke-width="1"/>
<polygon points="162.7,342.7 175.9,340.2 175.9,345.6 162.7,348" fill="#b2b2b2" stroke="#9a9a9a" stroke-width="1"/>
<ellipse cx="190.5" cy="338.2" rx="3" ry="2.4" fill="#8a8a8a"/><ellipse cx="199.3" cy="335.3" rx="3" ry="2.4" fill="#6f6f6f"/>
<text x="85.6" y="395.6" font-size="33.5">DC power</text>
<text x="107.1" y="428.4" font-size="33.5">supply</text>
<path d="M189.5,338 C250,302 322,258 366,256 C392,255 407.5,285 408.8,382" fill="none" stroke="#4a6aa8" stroke-width="1.5"/>
<path d="M200.2,337 C250,322 300,300 342.6,301.8 C375,303 386,330 386.8,368" fill="none" stroke="#4a6aa8" stroke-width="1.5"/>
<path d="M200.2,335.5 C225,327 250,322 265,323.6 C295,326 315,345 326.5,368" fill="none" stroke="#111" stroke-width="1.7"/>
<line x1="189.8" y1="345.9" x2="210" y2="345.9" stroke="#000" stroke-width="3.6"/>
<line x1="199.8" y1="338.8" x2="199.8" y2="353" stroke="#000" stroke-width="3.6"/>
<polygon points="319.9,375.6 352.3,395.6 352.3,467.3 319.9,446.9" fill="url(#ghot)"/>
<polygon points="352.3,395.6 366.2,394.6 366.2,463.6 352.3,467.3" fill="#de6c6c"/>
<polygon points="366.2,394.6 407.4,386.8 407.4,455.7 366.2,463.6" fill="#1e1e20"/>
<polygon points="407.4,386.8 423.1,383.5 423.1,454.8 407.4,458.1" fill="#7b90c3"/>
<polygon points="319.9,375.6 333.8,374.7 366.2,394.6 352.3,395.6" fill="#f79a9a"/>
<polygon points="333.8,374.7 375,366.8 407.4,386.8 366.2,394.6" fill="#a5a8ac"/>
<polygon points="375,366.8 390.7,363.6 423.1,383.5 407.4,386.8" fill="#96aee8"/>
<rect x="345.4" y="362" width="21.6" height="8.5" fill="url(#gbv)" opacity="0.9"/>
<polygon points="333.8,368.7 373.1,362.7 406.5,383.1 364.8,389.5" fill="none" stroke="#e01818" stroke-width="2.6" stroke-dasharray="7.5 4"/>
<line x1="321" y1="370.1" x2="334.5" y2="370.1" stroke="#000" stroke-width="3.4"/>
<line x1="327.8" y1="363" x2="327.8" y2="377.5" stroke="#000" stroke-width="3.4"/>
<line x1="414.8" y1="376.1" x2="431.4" y2="376.1" stroke="#000" stroke-width="3.2"/>
<line x1="423.1" y1="368.6" x2="423.1" y2="384" stroke="#000" stroke-width="3.2"/>
<line x1="391.5" y1="359" x2="400.2" y2="359" stroke="#000" stroke-width="3.4"/>
<line x1="346.7" y1="389.1" x2="355.2" y2="389.1" stroke="#000" stroke-width="3.4"/>
<text x="274" y="445.3" font-size="33.5" font-weight="bold" fill="#ee1c24">Hot</text>
<text x="443.5" y="431.5" font-size="33.5" font-weight="bold" fill="#1a9be0">cold</text>
<rect x="613" y="391.5" width="190.5" height="121.8" fill="url(#gpnp)"/>
<rect x="583.3" y="391.5" width="30" height="121.8" fill="#2a2a2a"/>
<rect x="803.2" y="391.5" width="30.6" height="121.8" fill="#2a2a2a"/>
<text x="601.1" y="430" font-size="33" text-anchor="middle" font-weight="bold" fill="#fff">C</text>
<text x="601.1" y="462" font-size="33" text-anchor="middle" font-weight="bold" fill="#fff">N</text>
<text x="601.1" y="493.4" font-size="33" text-anchor="middle" font-weight="bold" fill="#fff">T</text>
<text x="819.9" y="430" font-size="33" text-anchor="middle" font-weight="bold" fill="#fff">C</text>
<text x="819.9" y="462" font-size="33" text-anchor="middle" font-weight="bold" fill="#fff">N</text>
<text x="819.9" y="493.4" font-size="33" text-anchor="middle" font-weight="bold" fill="#fff">T</text>
<text x="683.6" y="452" font-size="33.5" font-weight="bold">PNP</text>
<line x1="406.5" y1="383.1" x2="609" y2="395.2" stroke="#e84848" stroke-width="1.3"/>
<line x1="364.8" y1="395.1" x2="594.2" y2="510" stroke="#e84848" stroke-width="1.3"/>
<polygon points="649.7,393.6 658.7,398.8 641.5,423.2 645.6,424.4 628.9,425.8 627.8,413.3 633.2,417.5" fill="#69e169"/>
<circle cx="623.1" cy="425.8" r="8.3" fill="#b9e1af" stroke="#fbe9d7" stroke-width="1.4"/>
<text x="636.2" y="374.2" font-size="33.5" font-style="italic" fill="#0808f0">P</text>
<text x="652.8" y="391.1" font-size="18.8" fill="#0808f0">CNT</text>
<line x1="89.3" y1="1168.5" x2="103.3" y2="1168.5" stroke="#000" stroke-width="4.3"/>
<text x="74.5" y="1194.5" font-size="32.7" text-anchor="end">0</text>
<line x1="89.3" y1="1102.5" x2="97.8" y2="1102.5" stroke="#000" stroke-width="4.3"/>
<line x1="89.3" y1="1036.5" x2="103.3" y2="1036.5" stroke="#000" stroke-width="4.3"/>
<text x="74.5" y="1062.5" font-size="32.7" text-anchor="end">3</text>
<line x1="89.3" y1="970.5" x2="97.8" y2="970.5" stroke="#000" stroke-width="4.3"/>
<line x1="89.3" y1="904.5" x2="103.3" y2="904.5" stroke="#000" stroke-width="4.3"/>
<text x="74.5" y="930.5" font-size="32.7" text-anchor="end">6</text>
<line x1="89.3" y1="838.5" x2="97.8" y2="838.5" stroke="#000" stroke-width="4.3"/>
<line x1="89.3" y1="772.5" x2="103.3" y2="772.5" stroke="#000" stroke-width="4.3"/>
<text x="74.5" y="798.5" font-size="32.7" text-anchor="end">9</text>
<line x1="89.3" y1="706.5" x2="97.8" y2="706.5" stroke="#000" stroke-width="4.3"/>
<line x1="89.3" y1="1199" x2="89.3" y2="1186" stroke="#000" stroke-width="4.3"/>
<text x="88.3" y="1235" font-size="32.7" text-anchor="middle">0</text>
<line x1="155.6" y1="1199" x2="155.6" y2="1191" stroke="#000" stroke-width="4.3"/>
<line x1="222" y1="1199" x2="222" y2="1186" stroke="#000" stroke-width="4.3"/>
<text x="221" y="1235" font-size="32.7" text-anchor="middle">2</text>
<line x1="288.3" y1="1199" x2="288.3" y2="1191" stroke="#000" stroke-width="4.3"/>
<line x1="354.7" y1="1199" x2="354.7" y2="1186" stroke="#000" stroke-width="4.3"/>
<text x="353.7" y="1235" font-size="32.7" text-anchor="middle">4</text>
<line x1="421.1" y1="1199" x2="421.1" y2="1191" stroke="#000" stroke-width="4.3"/>
<line x1="487.4" y1="1199" x2="487.4" y2="1186" stroke="#000" stroke-width="4.3"/>
<text x="486.4" y="1235" font-size="32.7" text-anchor="middle">6</text>
<line x1="553.7" y1="1199" x2="553.7" y2="1191" stroke="#000" stroke-width="4.3"/>
<line x1="620.1" y1="1199" x2="620.1" y2="1186" stroke="#000" stroke-width="4.3"/>
<text x="619.1" y="1235" font-size="32.7" text-anchor="middle">8</text>
<line x1="686.4" y1="1199" x2="686.4" y2="1191" stroke="#000" stroke-width="4.3"/>
<line x1="752.8" y1="1199" x2="752.8" y2="1186" stroke="#000" stroke-width="4.3"/>
<text x="751.8" y="1235" font-size="32.7" text-anchor="middle">10</text>
<line x1="819.1" y1="1199" x2="819.1" y2="1191" stroke="#000" stroke-width="4.3"/>
<g clip-path="url(#clipd)">
<path d="M89.3,1177.6C116.1,1177.6 218.2,1177.7 250,1177.6C281.8,1177.5 273.7,1177.8 280,1177.1C286.3,1176.4 285,1175.9 287.5,1173.4C290.1,1170.8 292.6,1166.8 295.1,1162.1C297.6,1157.3 300.1,1151.1 302.6,1145.1C305.1,1139.1 307.6,1132.8 310.2,1126.2C312.7,1119.6 315.2,1112.7 317.7,1105.5C320.2,1098.3 322.7,1090.4 325.2,1082.9C327.7,1075.4 330.3,1067.5 332.8,1060.3C335.3,1053.1 337.8,1046.1 340.3,1039.5C342.8,1033 345.3,1026.2 347.8,1020.7C350.4,1015.2 353.2,1010.1 355.4,1006.4C357.6,1002.6 358.5,1002.6 361,998.1C363.6,993.6 367.3,985.2 370.5,979.2C373.6,973.3 376.7,967.9 379.9,962.3C383,956.6 386.2,950.7 389.3,945.3C392.5,940 395.6,934.9 398.7,930.2C401.9,925.5 405,921.4 408.2,917C411.3,912.6 414.8,907.9 417.6,903.9C420.4,899.8 422.9,895.4 425.1,892.5C427.3,889.7 428.9,888.8 430.8,886.9C432.7,885 434.5,883.1 436.4,881.2C438.3,879.4 440.2,878.4 442.1,875.6C444,872.8 445.8,869 447.7,864.3C449.6,859.6 451.5,853.9 453.4,847.3C455.3,840.7 457.2,832.9 459,824.7C460.9,816.5 462.8,806.8 464.7,798.3C466.6,789.8 468.5,780.7 470.4,773.8C472.2,766.9 474.1,761.1 476,756.8C477.9,752.6 479.8,750 481.7,748.2C483.5,746.4 485.4,745.7 487.3,745.9C489.2,746.1 491.1,747.2 493,749.3C494.9,751.4 496.7,755.3 498.6,758.7C500.5,762.2 502.4,766.7 504.3,770C506.2,773.4 508,776.4 509.9,778.7C511.8,781 513.7,783 515.6,784C517.5,785 519.4,785 521.2,784.7C523.1,784.5 525,783.4 526.9,782.5C528.8,781.6 530.7,780.6 532.5,779.5C534.4,778.3 536.3,776.6 538.2,775.7C540.1,774.8 542,773.9 543.9,773.8C545.7,773.7 547.6,774.3 549.5,774.9C551.4,775.6 553.3,776.7 555.2,777.6C557,778.5 558.9,779.2 560.8,780.2C562.7,781.3 564.6,782.5 566.5,784C568.4,785.4 570.2,787 572.1,788.9C574,790.8 575.9,792.8 577.8,795.3C579.7,797.8 581.5,800.8 583.4,804C585.3,807.1 587.2,810.9 589.1,814.1C591,817.4 592.9,820.7 594.7,823.6C596.6,826.5 598.5,829.1 600.4,831.5C602.3,833.9 604.2,835.9 606,837.9C607.9,839.9 609.8,841.8 611.7,843.5C613.6,845.2 615.5,846.5 617.4,848.1C619.2,849.6 621.1,851.2 623,853C624.9,854.7 626.8,856.7 628.7,858.6C630.5,860.5 632.4,862.4 634.3,864.3C636.2,866.2 638.1,868.2 640,869.9C641.9,871.6 643.7,873.2 645.6,874.5C647.5,875.7 649.4,876.7 651.3,877.5C653.2,878.2 655,878.6 656.9,879C658.8,879.4 660.7,879.4 662.6,879.7C664.5,880.1 666.4,880.2 668.2,881.2C670.1,882.2 672,883.7 673.9,885.8C675.8,887.8 677.7,890.3 679.5,893.3C681.4,896.3 683.3,899.9 685.2,903.9C687.1,907.8 689,912.6 690.9,917C692.7,921.4 694.6,925.8 696.5,930.2C698.4,934.6 700.3,939.3 702.2,943.4C704,947.5 705.9,951.4 707.8,954.7C709.7,958.1 711.6,960.7 713.5,963.4C715.4,966.1 717.2,968.7 719.1,970.9C721,973.1 722.6,974.7 724.8,976.6C727,978.5 729.8,980.4 732.3,982.3C734.8,984.1 737.3,985.8 739.9,987.5C742.4,989.2 744.9,990.7 747.4,992.4C749.9,994.2 752.4,996.4 754.9,998.1C757.4,999.8 760,1001.2 762.5,1002.6C765,1004.1 767.5,1005.4 770,1006.8C772.5,1008.1 775,1009.3 777.5,1010.5C780.1,1011.8 782.6,1013 785.1,1014.3C787.6,1015.5 790.1,1017.1 792.6,1018.1C795.1,1019 797.7,1019.6 800.2,1019.9C802.7,1020.3 805.2,1020.4 807.7,1019.9C810.2,1019.4 812.7,1018.4 815.2,1016.9C817.8,1015.5 820.3,1013.8 822.8,1011.3C825.3,1008.8 827.8,1005.3 830.3,1001.9C832.8,998.4 835.3,994.3 837.9,990.5C840.4,986.8 842.9,982.3 845.4,979.2C847.9,976.2 850.4,974 852.9,972.5C855.4,970.9 858,970.4 860.5,970.2C863,969.9 865.8,970.4 868,970.9C870.2,971.5 871.8,972.5 873.7,973.6C875.6,974.7 878.4,976.7 879.3,977.4" fill="none" stroke="#0000ff" stroke-width="5" stroke-linejoin="round"/>
<path d="M89.3,1177.6C99.4,1177.6 128.2,1177.6 150,1177.6C171.8,1177.6 201.3,1177.5 220,1177.6C238.7,1177.7 253.3,1178 262,1178.2C270.7,1178.4 269,1178.7 272,1178.5C275,1178.3 277.4,1178.9 280,1177.1C282.6,1175.3 285,1173 287.5,1167.7C290.1,1162.4 292.6,1156.4 295.1,1145.1C297.6,1133.8 300.1,1116.2 302.6,1099.9C305.1,1083.5 307.8,1059.5 310.2,1047.1C312.5,1034.6 314.9,1029.3 316.6,1025.2C318.2,1021.1 318.8,1022.6 320,1022.6C321.1,1022.6 321.5,1020.5 323.3,1025.2C325.2,1029.9 328.4,1041.9 330.9,1050.9C333.4,1059.8 335.9,1071.9 338.4,1079.1C340.9,1086.4 343.8,1092.6 346,1094.2C348.2,1095.8 349.7,1095.1 351.6,1088.5C353.5,1082 355.4,1069.7 357.3,1054.6C359.2,1039.5 361,1020.1 362.9,998.1C364.8,976.1 366.7,947.2 368.6,922.7C370.5,898.2 372.3,873.1 374.2,851.1C376.1,829.1 378,806.5 379.9,790.8C381.8,775.1 383.7,764.7 385.5,756.8C387.4,749 389.8,745.9 391.2,743.7C392.6,741.4 392.9,742.3 393.8,743.3C394.8,744.2 395.4,742.7 396.8,749.3C398.3,756 400.6,768.8 402.5,783.2C404.4,797.7 406.3,817.2 408.2,836C410,854.9 411.9,878.7 413.8,896.3C415.7,913.9 417.6,929.9 419.5,941.5C421.3,953.2 423.2,960.7 425.1,966C427,971.4 428.9,972.6 430.8,973.6C432.7,974.5 434.5,973.3 436.4,971.7C438.3,970.1 439.9,967.9 442.1,964.2C444.3,960.4 447.1,956.6 449.6,949.1C452.1,941.5 454.6,929.6 457.2,918.9C459.7,908.2 462.5,894.1 464.7,885C466.9,875.9 468.5,869 470.4,864.3C472.2,859.6 474.1,856.4 476,856.7C477.9,857 479.8,861.1 481.7,866.2C483.5,871.2 485.4,880.3 487.3,886.9C489.2,893.5 491.1,900.4 493,905.7C494.9,911.1 496.6,915.8 498.6,918.9C500.6,922.1 502.8,924.3 505,924.6C507.2,924.9 509.1,922.9 511.8,920.8C514.5,918.7 518.1,915.3 521.2,912.1C524.4,909 527.8,905.9 530.7,902C533.5,898.1 536,893.5 538.2,888.8C540.4,884.1 542,879.4 543.9,873.7C545.7,868 547.6,861.8 549.5,854.9C551.4,847.9 553.3,840.4 555.2,832.2C557,824.1 558.9,814.6 560.8,805.8C562.7,797.1 564.6,788.3 566.5,779.5C568.4,770.7 570.2,761.2 572.1,753.1C574,744.9 575.9,736.4 577.8,730.5C579.7,724.5 581.5,720.1 583.4,717.3C585.3,714.4 587.2,713.2 589.1,713.5C591,713.8 592.9,716 594.7,719.2C596.6,722.3 598.5,727 600.4,732.3C602.3,737.7 604.2,744.6 606,751.2C607.9,757.8 609.8,765.6 611.7,771.9C613.6,778.2 615.5,784.2 617.4,788.9C619.2,793.6 621.1,797.7 623,800.2C624.9,802.7 626.8,803.5 628.7,804C630.5,804.5 632.4,803.4 634.3,803.2C636.2,803 638.1,802.4 640,802.8C641.9,803.3 643.7,804.1 645.6,805.8C647.5,807.6 649.4,809.9 651.3,813.4C653.2,816.8 655,821.2 656.9,826.6C658.8,831.9 660.7,838.2 662.6,845.4C664.5,852.7 666.4,862.1 668.2,869.9C670.1,877.8 672,885.3 673.9,892.5C675.8,899.8 677.7,906.7 679.5,913.3C681.4,919.9 683.3,927.1 685.2,932.1C687.1,937.1 689,940.6 690.9,943.4C692.7,946.3 694,947.5 696.5,949.1C699,950.7 703.1,951.6 705.9,952.9C708.8,954.1 711,955.1 713.5,956.6C716,958.2 718.5,960.1 721,962.3C723.5,964.5 725.7,967 728.5,969.8C731.4,972.6 734.8,975.8 738,979.2C741.1,982.7 744.6,986.8 747.4,990.5C750.2,994.3 752.4,998.1 754.9,1001.9C757.4,1005.6 760,1009.9 762.5,1013.2C765,1016.4 767.5,1019.3 770,1021.5C772.5,1023.7 775,1025.2 777.5,1026.4C780.1,1027.5 782.6,1028.4 785.1,1028.2C787.6,1028.1 790.1,1027.1 792.6,1025.2C795.1,1023.3 797.7,1020.5 800.2,1016.9C802.7,1013.4 805.2,1008.1 807.7,1003.7C810.2,999.3 812.7,994 815.2,990.5C817.8,987.1 820.3,984.5 822.8,983C825.3,981.5 827.8,981.4 830.3,981.5C832.8,981.6 835.3,982.6 837.9,983.8C840.4,985 842.9,987.2 845.4,988.7C847.9,990.1 850.4,991.6 852.9,992.4C855.4,993.2 858,993.9 860.5,993.6C863,993.2 865.8,992 868,990.5C870.2,989.1 871.8,987 873.7,984.9C875.6,982.8 878.4,979.2 879.3,978.1" fill="none" stroke="#eb4141" stroke-width="7.4" stroke-linejoin="round"/>
</g>
<rect x="89.3" y="652.5" width="790" height="546.5" fill="none" stroke="#000" stroke-width="5"/>
<line x1="105" y1="677.7" x2="185" y2="677.7" stroke="#0000ff" stroke-width="5"/>
<text x="191.3" y="689.2" font-size="33.5">N</text>
<text x="217.2" y="711.8" font-size="18.4">TFSI</text>
<text x="261" y="703.8" font-size="18.4">-</text>
<text x="264.7" y="689.2" font-size="33.5">-N</text>
<text x="302.7" y="711.8" font-size="18.4">TFSI</text>
<text x="346.5" y="703.8" font-size="18.4">-</text>
<text x="353.8" y="689.2" font-size="33.5">-Cu</text>
<line x1="105" y1="730.1" x2="185" y2="730.1" stroke="#eb4141" stroke-width="8"/>
<text x="191.3" y="741.3" font-size="33.5">N</text>
<text x="217.2" y="764.4" font-size="18.4">TFSI</text>
<text x="261" y="756.4" font-size="18.4">-</text>
<text x="264.7" y="741.3" font-size="33.5">-N</text>
<text x="302.7" y="764.4" font-size="18.4">TFSI</text>
<text x="346.5" y="756.4" font-size="18.4">-</text>
<text x="353.8" y="741.3" font-size="33.5">-CNT</text>
<text x="19.8" y="667" font-size="57">d</text>
<text transform="translate(36.5 908) rotate(-90)" font-size="33.5" text-anchor="middle">g (r)</text>
<text x="456.8" y="1287.7" font-size="33.5">r</text>
<text x="490" y="1287.7" font-size="33.5" letter-spacing="1.5">(Å)</text>
<line x1="1060.8" y1="1131.8" x2="1073.8" y2="1131.8" stroke="#000" stroke-width="4.3"/>
<text x="1041.5" y="1142.6" font-size="32.5" text-anchor="end">2000</text>
<line x1="1060.8" y1="1064.7" x2="1068.8" y2="1064.7" stroke="#000" stroke-width="4.3"/>
<line x1="1060.8" y1="997.6" x2="1073.8" y2="997.6" stroke="#000" stroke-width="4.3"/>
<text x="1041.5" y="1008.4" font-size="32.5" text-anchor="end">3000</text>
<line x1="1060.8" y1="930.6" x2="1068.8" y2="930.6" stroke="#000" stroke-width="4.3"/>
<line x1="1060.8" y1="863.5" x2="1073.8" y2="863.5" stroke="#000" stroke-width="4.3"/>
<text x="1041.5" y="874.3" font-size="32.5" text-anchor="end">4000</text>
<line x1="1060.8" y1="796.4" x2="1068.8" y2="796.4" stroke="#000" stroke-width="4.3"/>
<line x1="1060.8" y1="729.4" x2="1073.8" y2="729.4" stroke="#000" stroke-width="4.3"/>
<text x="1041.5" y="740.2" font-size="32.5" text-anchor="end">5000</text>
<line x1="1078.7" y1="1199" x2="1078.7" y2="1186" stroke="#000" stroke-width="4.3"/>
<text x="1076.5" y="1238" font-size="32.5" text-anchor="middle">0</text>
<line x1="1131.8" y1="1199" x2="1131.8" y2="1191" stroke="#000" stroke-width="4.3"/>
<line x1="1184.8" y1="1199" x2="1184.8" y2="1186" stroke="#000" stroke-width="4.3"/>
<text x="1182.6" y="1238" font-size="32.5" text-anchor="middle">30</text>
<line x1="1237.9" y1="1199" x2="1237.9" y2="1191" stroke="#000" stroke-width="4.3"/>
<line x1="1290.9" y1="1199" x2="1290.9" y2="1186" stroke="#000" stroke-width="4.3"/>
<text x="1288.7" y="1238" font-size="32.5" text-anchor="middle">60</text>
<line x1="1344" y1="1199" x2="1344" y2="1191" stroke="#000" stroke-width="4.3"/>
<line x1="1397" y1="1199" x2="1397" y2="1186" stroke="#000" stroke-width="4.3"/>
<text x="1394.8" y="1238" font-size="32.5" text-anchor="middle">90</text>
<line x1="1450.1" y1="1199" x2="1450.1" y2="1191" stroke="#000" stroke-width="4.3"/>
<line x1="1503.1" y1="1199" x2="1503.1" y2="1186" stroke="#000" stroke-width="4.3"/>
<text x="1500.9" y="1238" font-size="32.5" text-anchor="middle">120</text>
<line x1="1556.2" y1="1199" x2="1556.2" y2="1191" stroke="#000" stroke-width="4.3"/>
<line x1="1609.2" y1="1199" x2="1609.2" y2="1186" stroke="#000" stroke-width="4.3"/>
<text x="1607" y="1238" font-size="32.5" text-anchor="middle">150</text>
<line x1="1662.3" y1="1199" x2="1662.3" y2="1191" stroke="#000" stroke-width="4.3"/>
<line x1="1715.4" y1="1199" x2="1715.4" y2="1186" stroke="#000" stroke-width="4.3"/>
<text x="1713.2" y="1238" font-size="32.5" text-anchor="middle">180</text>
<line x1="1768.4" y1="1199" x2="1768.4" y2="1191" stroke="#000" stroke-width="4.3"/>
<rect x="1060.8" y="662.8" width="725.2" height="536.2" fill="none" stroke="#000" stroke-width="4.5"/>
<g fill="none" stroke="#0000ff" stroke-width="2.3">
<circle cx="1078.7" cy="788.8" r="16.2"/><path d="M1060.7,770.8 L1096.7,806.8 M1060.7,806.8 L1096.7,770.8"/>
<circle cx="1114.1" cy="790.1" r="16.2"/><path d="M1096.1,772.1 L1132.1,808.1 M1096.1,808.1 L1132.1,772.1"/>
<circle cx="1149.4" cy="813.3" r="16.2"/><path d="M1131.4,795.3 L1167.4,831.3 M1131.4,831.3 L1167.4,795.3"/>
<circle cx="1184.8" cy="799.4" r="16.2"/><path d="M1166.8,781.4 L1202.8,817.4 M1166.8,817.4 L1202.8,781.4"/>
<circle cx="1220.2" cy="805.2" r="16.2"/><path d="M1202.2,787.2 L1238.2,823.2 M1202.2,823.2 L1238.2,787.2"/>
<circle cx="1255.5" cy="786.4" r="16.2"/><path d="M1237.5,768.4 L1273.5,804.4 M1237.5,804.4 L1273.5,768.4"/>
<circle cx="1290.9" cy="787.6" r="16.2"/><path d="M1272.9,769.6 L1308.9,805.6 M1272.9,805.6 L1308.9,769.6"/>
<circle cx="1326.3" cy="777.8" r="16.2"/><path d="M1308.3,759.8 L1344.3,795.8 M1308.3,795.8 L1344.3,759.8"/>
<circle cx="1361.7" cy="782.7" r="16.2"/><path d="M1343.7,764.7 L1379.7,800.7 M1343.7,800.7 L1379.7,764.7"/>
<circle cx="1397" cy="771.7" r="16.2"/><path d="M1379,753.7 L1415,789.7 M1379,789.7 L1415,753.7"/>
<circle cx="1432.4" cy="752.5" r="16.2"/><path d="M1414.4,734.5 L1450.4,770.5 M1414.4,770.5 L1450.4,734.5"/>
<circle cx="1467.8" cy="760.7" r="16.2"/><path d="M1449.8,742.7 L1485.8,778.7 M1449.8,778.7 L1485.8,742.7"/>
<circle cx="1503.1" cy="756.1" r="16.2"/><path d="M1485.1,738.1 L1521.1,774.1 M1485.1,774.1 L1521.1,738.1"/>
<circle cx="1538.5" cy="751.6" r="16.2"/><path d="M1520.5,733.6 L1556.5,769.6 M1520.5,769.6 L1556.5,733.6"/>
<circle cx="1573.9" cy="764.4" r="16.2"/><path d="M1555.9,746.4 L1591.9,782.4 M1555.9,782.4 L1591.9,746.4"/>
<circle cx="1609.2" cy="744.8" r="16.2"/><path d="M1591.2,726.8 L1627.2,762.8 M1591.2,762.8 L1627.2,726.8"/>
<circle cx="1644.6" cy="753.1" r="16.2"/><path d="M1626.6,735.1 L1662.6,771.1 M1626.6,771.1 L1662.6,735.1"/>
<circle cx="1680" cy="731.6" r="16.2"/><path d="M1662,713.6 L1698,749.6 M1662,749.6 L1698,713.6"/>
<circle cx="1750.7" cy="738.8" r="16.2"/><path d="M1732.7,720.8 L1768.7,756.8 M1732.7,756.8 L1768.7,720.8"/>
<circle cx="1141.4" cy="1114.3" r="16.2"/><path d="M1123.4,1096.3 L1159.4,1132.3 M1123.4,1132.3 L1159.4,1096.3"/>
</g>
<g fill="none" stroke="#ff0000" stroke-width="2.3" stroke-linejoin="miter">
<path d="M1056.2,863 L1078.7,840.5 L1101.2,863 L1078.7,885.5 Z"/><path stroke-width="1.9" d="M1056.2,863 L1101.2,863 M1078.7,840.5 L1078.7,885.5"/>
<path d="M1091.6,863 L1114.1,840.5 L1136.6,863 L1114.1,885.5 Z"/><path stroke-width="1.9" d="M1091.6,863 L1136.6,863 M1114.1,840.5 L1114.1,885.5"/>
<path d="M1126.9,851.5 L1149.4,829 L1171.9,851.5 L1149.4,874 Z"/><path stroke-width="1.9" d="M1126.9,851.5 L1171.9,851.5 M1149.4,829 L1149.4,874"/>
<path d="M1162.3,860.5 L1184.8,838 L1207.3,860.5 L1184.8,883 Z"/><path stroke-width="1.9" d="M1162.3,860.5 L1207.3,860.5 M1184.8,838 L1184.8,883"/>
<path d="M1197.7,894 L1220.2,871.5 L1242.7,894 L1220.2,916.5 Z"/><path stroke-width="1.9" d="M1197.7,894 L1242.7,894 M1220.2,871.5 L1220.2,916.5"/>
<path d="M1233,896.5 L1255.5,874 L1278,896.5 L1255.5,919 Z"/><path stroke-width="1.9" d="M1233,896.5 L1278,896.5 M1255.5,874 L1255.5,919"/>
<path d="M1268.4,901.9 L1290.9,879.4 L1313.4,901.9 L1290.9,924.4 Z"/><path stroke-width="1.9" d="M1268.4,901.9 L1313.4,901.9 M1290.9,879.4 L1290.9,924.4"/>
<path d="M1303.8,916.1 L1326.3,893.6 L1348.8,916.1 L1326.3,938.6 Z"/><path stroke-width="1.9" d="M1303.8,916.1 L1348.8,916.1 M1326.3,893.6 L1326.3,938.6"/>
<path d="M1339.2,943.7 L1361.7,921.2 L1384.2,943.7 L1361.7,966.2 Z"/><path stroke-width="1.9" d="M1339.2,943.7 L1384.2,943.7 M1361.7,921.2 L1361.7,966.2"/>
<path d="M1374.5,960.9 L1397,938.4 L1419.5,960.9 L1397,983.4 Z"/><path stroke-width="1.9" d="M1374.5,960.9 L1419.5,960.9 M1397,938.4 L1397,983.4"/>
<path d="M1409.9,947 L1432.4,924.5 L1454.9,947 L1432.4,969.5 Z"/><path stroke-width="1.9" d="M1409.9,947 L1454.9,947 M1432.4,924.5 L1432.4,969.5"/>
<path d="M1445.3,972.5 L1467.8,950 L1490.3,972.5 L1467.8,995 Z"/><path stroke-width="1.9" d="M1445.3,972.5 L1490.3,972.5 M1467.8,950 L1467.8,995"/>
<path d="M1480.6,990.7 L1503.1,968.2 L1525.6,990.7 L1503.1,1013.2 Z"/><path stroke-width="1.9" d="M1480.6,990.7 L1525.6,990.7 M1503.1,968.2 L1503.1,1013.2"/>
<path d="M1516,1059.7 L1538.5,1037.2 L1561,1059.7 L1538.5,1082.2 Z"/><path stroke-width="1.9" d="M1516,1059.7 L1561,1059.7 M1538.5,1037.2 L1538.5,1082.2"/>
<path d="M1551.4,1025.4 L1573.9,1002.9 L1596.4,1025.4 L1573.9,1047.9 Z"/><path stroke-width="1.9" d="M1551.4,1025.4 L1596.4,1025.4 M1573.9,1002.9 L1573.9,1047.9"/>
<path d="M1586.8,1034 L1609.2,1011.5 L1631.8,1034 L1609.2,1056.5 Z"/><path stroke-width="1.9" d="M1586.8,1034 L1631.8,1034 M1609.2,1011.5 L1609.2,1056.5"/>
<path d="M1622.1,1079.3 L1644.6,1056.8 L1667.1,1079.3 L1644.6,1101.8 Z"/><path stroke-width="1.9" d="M1622.1,1079.3 L1667.1,1079.3 M1644.6,1056.8 L1644.6,1101.8"/>
<path d="M1657.5,1078.5 L1680,1056 L1702.5,1078.5 L1680,1101 Z"/><path stroke-width="1.9" d="M1657.5,1078.5 L1702.5,1078.5 M1680,1056 L1680,1101"/>
<path d="M1692.9,1070.6 L1715.4,1048.1 L1737.9,1070.6 L1715.4,1093.1 Z"/><path stroke-width="1.9" d="M1692.9,1070.6 L1737.9,1070.6 M1715.4,1048.1 L1715.4,1093.1"/>
<path d="M1728.2,1067.2 L1750.7,1044.7 L1773.2,1067.2 L1750.7,1089.7 Z"/><path stroke-width="1.9" d="M1728.2,1067.2 L1773.2,1067.2 M1750.7,1044.7 L1750.7,1089.7"/>
<path d="M1118,1070 L1140.5,1047.5 L1163,1070 L1140.5,1092.5 Z"/><path stroke-width="1.9" d="M1118,1070 L1163,1070 M1140.5,1047.5 L1140.5,1092.5"/>
</g>
<text x="1192.5" y="1081" font-size="33.5" font-style="italic" fill="#ff0000">P</text>
<text x="1215" y="1092.5" font-size="18.5" fill="#ff0000">CNT</text>
<text x="1192.5" y="1125" font-size="33.5" font-style="italic" fill="#2020ff">P</text>
<text x="1215" y="1137" font-size="18.5" fill="#2020ff">Cu</text>
<text x="990" y="657" font-size="57">e</text>
<text transform="translate(931.3 964) rotate(-90)" font-size="33.5" text-anchor="middle">Intensity (a.u.)</text>
<text x="1417.6" y="1296" font-size="33.5" text-anchor="middle">Time (s)</text>
<rect x="1990" y="1055.8" width="137.2" height="142.2" fill="#2a2aff" stroke="#2a2aff" stroke-width="1.5"/>
<rect x="2171" y="1115.4" width="137.7" height="82.6" fill="#33b20a" stroke="#33b20a" stroke-width="1.5"/>
<rect x="2352.5" y="850" width="137.2" height="348" fill="#d0d000" stroke="#f4f43c" stroke-width="1.5"/>
<rect x="2533.5" y="710" width="137.5" height="488" fill="#ff5a5a" stroke="#ee4040" stroke-width="1.5"/>
<line x1="1968.3" y1="1198.4" x2="1981.3" y2="1198.4" stroke="#000" stroke-width="4.2"/>
<line x1="2693" y1="1198.4" x2="2680" y2="1198.4" stroke="#000" stroke-width="4.2"/>
<text x="1952.5" y="1209.9" font-size="32.9" text-anchor="end">0.0</text>
<line x1="1968.3" y1="1158.2" x2="1975.9" y2="1158.2" stroke="#000" stroke-width="4.2"/>
<line x1="2693" y1="1158.2" x2="2685.4" y2="1158.2" stroke="#000" stroke-width="4.2"/>
<line x1="1968.3" y1="1118" x2="1981.3" y2="1118" stroke="#000" stroke-width="4.2"/>
<line x1="2693" y1="1118" x2="2680" y2="1118" stroke="#000" stroke-width="4.2"/>
<text x="1952.5" y="1129.5" font-size="32.9" text-anchor="end">0.3</text>
<line x1="1968.3" y1="1077.8" x2="1975.9" y2="1077.8" stroke="#000" stroke-width="4.2"/>
<line x1="2693" y1="1077.8" x2="2685.4" y2="1077.8" stroke="#000" stroke-width="4.2"/>
<line x1="1968.3" y1="1037.6" x2="1981.3" y2="1037.6" stroke="#000" stroke-width="4.2"/>
<line x1="2693" y1="1037.6" x2="2680" y2="1037.6" stroke="#000" stroke-width="4.2"/>
<text x="1952.5" y="1049.1" font-size="32.9" text-anchor="end">0.6</text>
<line x1="1968.3" y1="997.4" x2="1975.9" y2="997.4" stroke="#000" stroke-width="4.2"/>
<line x1="2693" y1="997.4" x2="2685.4" y2="997.4" stroke="#000" stroke-width="4.2"/>
<line x1="1968.3" y1="957.2" x2="1981.3" y2="957.2" stroke="#000" stroke-width="4.2"/>
<line x1="2693" y1="957.2" x2="2680" y2="957.2" stroke="#000" stroke-width="4.2"/>
<text x="1952.5" y="968.7" font-size="32.9" text-anchor="end">0.9</text>
<line x1="1968.3" y1="917" x2="1975.9" y2="917" stroke="#000" stroke-width="4.2"/>
<line x1="2693" y1="917" x2="2685.4" y2="917" stroke="#000" stroke-width="4.2"/>
<line x1="1968.3" y1="876.8" x2="1981.3" y2="876.8" stroke="#000" stroke-width="4.2"/>
<line x1="2693" y1="876.8" x2="2680" y2="876.8" stroke="#000" stroke-width="4.2"/>
<text x="1952.5" y="888.3" font-size="32.9" text-anchor="end">1.2</text>
<line x1="1968.3" y1="836.6" x2="1975.9" y2="836.6" stroke="#000" stroke-width="4.2"/>
<line x1="2693" y1="836.6" x2="2685.4" y2="836.6" stroke="#000" stroke-width="4.2"/>
<line x1="1968.3" y1="796.4" x2="1981.3" y2="796.4" stroke="#000" stroke-width="4.2"/>
<line x1="2693" y1="796.4" x2="2680" y2="796.4" stroke="#000" stroke-width="4.2"/>
<text x="1952.5" y="807.9" font-size="32.9" text-anchor="end">1.5</text>
<line x1="1968.3" y1="756.2" x2="1975.9" y2="756.2" stroke="#000" stroke-width="4.2"/>
<line x1="2693" y1="756.2" x2="2685.4" y2="756.2" stroke="#000" stroke-width="4.2"/>
<line x1="1968.3" y1="716" x2="1981.3" y2="716" stroke="#000" stroke-width="4.2"/>
<line x1="2693" y1="716" x2="2680" y2="716" stroke="#000" stroke-width="4.2"/>
<text x="1952.5" y="727.5" font-size="32.9" text-anchor="end">1.8</text>
<line x1="1968.3" y1="675.8" x2="1975.9" y2="675.8" stroke="#000" stroke-width="4.2"/>
<line x1="2693" y1="675.8" x2="2685.4" y2="675.8" stroke="#000" stroke-width="4.2"/>
<rect x="1968.3" y="662.6" width="724.7" height="535.4" fill="none" stroke="#000" stroke-width="4.6"/>
<text x="1990.7" y="1246.8" font-size="33.5">Cu-TFSI<tspan dy="-12" font-size="20">-</tspan></text>
<text x="2165" y="1246.8" font-size="33.5">a-CNT-TFSI<tspan dy="-12" font-size="20">-</tspan></text>
<text x="2371" y="1246.8" font-size="33.5">Cu-Na<tspan dy="-12" font-size="20">+</tspan></text>
<text x="2541" y="1243.5" font-size="33.5">a-CNT-Na<tspan dy="-12" font-size="20">+</tspan></text>
<text x="1855" y="658" font-size="57">f</text>
<text transform="translate(1856.5 956) rotate(-90)" font-size="33.5" text-anchor="middle">Binding energy (eV)</text>
<rect x="125.7" y="1347.6" width="486.9" height="357.4" fill="#0000ff"/>
<g clip-path="url(#cg1)">
<path d="M610.8,1749.1L599.6,1720.5L599.6,1691.9L599.1,1689.4L610.8,1659.5L610.8,1689.4L610.8,1720.5ZM140.7,1720.5L140.7,1696.8L140.1,1689.4L140.1,1664.3L138.6,1658.3L139.1,1655.1L139.1,1627.3L139.1,1599.5L138.7,1596.2L139.6,1591.7L139.6,1565.1L150,1538.6L151.7,1534.1L162.1,1507.5L172.4,1534.1L162.1,1560.6L160.3,1565.1L162.1,1569.4L172.6,1596.2L172.6,1623.1L173.4,1627.3L174.2,1633.2L184,1658.3L184,1683.5L185.8,1689.4L185.8,1719.2L185.9,1720.5L174.2,1750.4L162.5,1750.4L162.1,1750.8L159.2,1744.2L150,1744.2ZM213.5,1720.5L213.5,1696.8L212.5,1689.4L222.7,1663.3L232.9,1663.3L234.8,1659L246.7,1689.4L246.5,1690.6L246.5,1720.5L234.8,1750.4L232,1744.2L222.7,1744.2ZM271.8,1720.5L271.8,1690.9L271.5,1689.4L283.4,1659.1L295.2,1689.4L294.9,1690.9L294.9,1720.5L283.4,1750.1ZM356.4,1720.5L356.1,1713.1L346.9,1689.4L356.1,1665.7L365.4,1665.7L368.2,1658.9L368.6,1659.3L380.4,1659.3L392.1,1689.4L392,1690.6L392,1720.5L380.4,1750.4L368.7,1750.4L368.2,1750.8ZM406.5,1720.5L406.5,1694.3L406.3,1689.4L416.7,1662.6L417.4,1658.3L428.9,1628.8L440.4,1658.3L441,1662.6L451.5,1689.4L451.2,1694.3L451.2,1720.5L441,1746.6L430.8,1746.6L428.9,1751L427,1746.6L416.7,1746.6ZM491,1720.5L491,1693.1L490.5,1689.4L501.6,1660.8L502.3,1658.3L502.3,1629L501.9,1627.3L513.8,1596.9L525.6,1627.3L525.2,1629L525.2,1658.3L525.9,1668.2L534.2,1689.4L525.9,1710.7L525.6,1720.5L513.8,1750.9L512.3,1747.9L501.6,1747.9ZM540.3,1720.5L540.3,1695.3L539.5,1689.4L545.7,1669.7L545.7,1658.3L550.1,1647L557.8,1647L550.6,1627.3L562.3,1597.4L563.9,1600.4L574.4,1600.4L584.9,1600.4L586.5,1600.4L597,1627.3L596.7,1632.2L596.7,1658.3L586.5,1684.5L576.9,1664.8L585.1,1689.4L584.2,1695.3L584.2,1720.5L574.4,1745.7L564.6,1745.7L562.3,1750.6L560,1745.7L550.1,1745.7ZM284.4,1658.3L283.4,1656.6L271.9,1627.3L283.4,1597.9L294.8,1597.9L295.5,1596.8L307.4,1627.3L306.6,1630L306.6,1658.3L295.5,1686.7ZM211,1627.3L222.7,1597.2L223.4,1597.9L224.2,1596.2L224.2,1568.8L224,1565.1L224,1537.3L223.6,1534.1L234.8,1505.4L244.4,1527.6L247,1527.6L249.5,1527.6L259.1,1521.4L264,1534.1L264,1546.7L269.1,1565.1L264,1583.6L264,1596.2L264,1608.8L270.3,1627.3L259.1,1656.1L257.5,1654.1L247,1654.1L236.5,1654.1L234.8,1656.6L223.4,1656.6L222.7,1657.4ZM356.6,1627.3L368.2,1597.4L379.9,1627.3L368.2,1657.2ZM394.3,1627.3L404.6,1600.8L415,1600.8L416.7,1600.8L427.1,1627.3L416.7,1653.8L406.4,1653.8L404.6,1653.8ZM417.6,1596.2L428.9,1567.4L440.1,1596.2L428.9,1625ZM357,1565.1L356.1,1559.8L346.1,1534.1L356.1,1508.4L360.7,1503L368.2,1483.7L375.8,1483.7L380.4,1483.7L387.9,1503L387.9,1522.3L390.6,1534.1L380.4,1560.2L379.4,1565.1L368.2,1593.8ZM394,1565.1L404.6,1538L415.2,1565.1L404.6,1592.3ZM502.1,1565.1L513.8,1535.3L525.4,1565.1L513.8,1595ZM527.8,1565.1L538,1539L543.8,1534.1L550.1,1517.8L556.5,1517.8L562.3,1506.7L573,1534.1L573,1561.5L573.6,1565.1L562.3,1594.2L561.4,1594.1L550.1,1594.1L548.2,1591.3L538,1591.3ZM417.3,1534.1L428.9,1504.3L440.5,1534.1L428.9,1563.8ZM139.4,1503L150,1475.9L160.5,1503L150,1530.1ZM345.5,1471.9L356.1,1444.8L366.7,1471.9L356.1,1499.1Z" fill="#001aff" fill-rule="evenodd" stroke="#001aff" stroke-width="0.6"/>
<path d="M610.8,1748.5L599.9,1720.5L599.9,1692.5L599.2,1689.4L610.8,1659.8L610.8,1689.4L610.8,1720.5ZM141.5,1720.5L141.5,1698.7L140.7,1689.4L140.7,1665.8L138.9,1658.3L139.4,1654.2L139.4,1627.3L139.4,1600.4L138.9,1596.2L140.1,1590.5L140.1,1565.1L150,1539.8L152.2,1534.1L162.1,1508.7L172,1534.1L162.1,1559.4L159.8,1565.1L162.1,1570.5L172.1,1596.2L172.1,1622L173.2,1627.3L174.2,1634.7L183.4,1658.3L183.4,1682L185.7,1689.4L185.7,1718.9L185.8,1720.5L174.2,1750.1L162.7,1750.1L162.1,1750.6L158.4,1742.2L150,1742.2ZM214.2,1720.5L214.2,1698.7L213,1689.4L222.7,1664.6L232.4,1664.6L234.8,1659.2L246.6,1689.4L246.4,1690.9L246.4,1720.5L234.8,1750.1L231.2,1742.2L222.7,1742.2ZM272,1720.5L272,1691.3L271.6,1689.4L283.4,1659.3L295.1,1689.4L294.8,1691.3L294.8,1720.5L283.4,1749.7ZM356.5,1720.5L356.1,1711.2L347.6,1689.4L356.1,1667.7L364.6,1667.7L368.2,1659L368.7,1659.6L380.4,1659.6L392,1689.4L391.9,1690.9L391.9,1720.5L380.4,1750.1L368.8,1750.1L368.2,1750.6ZM407,1720.5L407,1695.6L406.7,1689.4L416.7,1663.7L417.5,1658.3L428.9,1629.2L440.2,1658.3L441,1663.7L451.1,1689.4L450.7,1695.6L450.7,1720.5L441,1745.3L431.3,1745.3L428.9,1750.8L426.5,1745.3L416.7,1745.3ZM491.3,1720.5L491.3,1694.1L490.7,1689.4L501.6,1661.5L502.5,1658.3L502.5,1629.5L502,1627.3L513.8,1597.1L525.5,1627.3L525,1629.5L525,1658.3L525.9,1670.8L533.2,1689.4L525.9,1708.1L525.6,1720.5L513.8,1750.7L511.9,1746.9L501.6,1746.9ZM540.9,1720.5L540.9,1696.9L539.8,1689.4L547.7,1664.6L547.7,1658.3L550.1,1652.1L559.8,1652.1L550.8,1627.3L562.3,1597.8L564.4,1601.5L574.4,1601.5L584.4,1601.5L586.5,1601.5L596.6,1627.3L596.2,1633.5L596.2,1658.3L586.5,1683.2L574.4,1658.3L584.7,1689.4L583.6,1696.9L583.6,1720.5L574.4,1744.1L565.2,1744.1L562.3,1750.3L559.4,1744.1L550.1,1744.1ZM284.7,1658.3L283.4,1656.2L272.1,1627.3L283.4,1598.4L294.6,1598.4L295.5,1597L307.3,1627.3L306.3,1630.7L306.3,1658.3L295.5,1686ZM211.1,1627.3L222.7,1597.5L223.6,1598.4L224.5,1596.2L224.5,1569.8L224.3,1565.1L224.3,1538.2L223.9,1534.1L234.8,1506L247,1534.1L259.1,1526.3L262.1,1534.1L262.1,1541.8L268.6,1565.1L262.1,1588.4L262.1,1596.2L262.1,1604L270.1,1627.3L259.1,1655.5L257,1653L247,1653L236.9,1653L234.8,1656.2L223.6,1656.2L222.7,1657.1ZM356.7,1627.3L368.2,1597.7L379.8,1627.3L368.2,1656.9ZM394.7,1627.3L404.6,1601.9L414.5,1601.9L416.7,1601.9L426.6,1627.3L416.7,1652.6L406.9,1652.6L404.6,1652.6ZM417.9,1596.2L428.9,1568L439.9,1596.2L428.9,1624.4ZM357.3,1565.1L356.1,1558.4L346.6,1534.1L356.1,1509.8L361.9,1503L368.2,1486.8L374.5,1486.8L380.4,1486.8L386.7,1503L386.7,1519.2L390.1,1534.1L380.4,1558.9L379.2,1565.1L368.2,1593.2ZM394.4,1565.1L404.6,1539L414.8,1565.1L404.6,1591.2ZM502.2,1565.1L513.8,1535.6L525.3,1565.1L513.8,1594.7ZM528.3,1565.1L538,1540.3L545.3,1534.1L550.1,1521.6L555,1521.6L562.3,1507.7L572.6,1534.1L572.6,1560.5L573.4,1565.1L562.3,1593.6L561.2,1593.5L550.1,1593.5L547.7,1590L538,1590ZM417.4,1534.1L428.9,1504.7L440.3,1534.1L428.9,1563.4ZM139.8,1503L150,1476.9L160.1,1503L150,1529.1ZM345.9,1471.9L356.1,1445.8L366.3,1471.9L356.1,1498Z" fill="#0040ff" fill-rule="evenodd" stroke="#0040ff" stroke-width="0.6"/>
<path d="M610.8,1747.8L600.1,1720.5L600.1,1693.2L599.4,1689.4L610.8,1660.2L610.8,1689.4L610.8,1720.5ZM142.2,1720.5L142.2,1700.7L141.3,1689.4L141.3,1667.4L139.1,1658.3L139.8,1653.3L139.8,1627.3L139.8,1601.2L139.2,1596.2L140.5,1589.3L140.5,1565.1L150,1541L152.7,1534.1L162.1,1509.9L171.5,1534.1L162.1,1558.2L159.4,1565.1L162.1,1571.6L171.7,1596.2L171.7,1620.8L173,1627.3L174.2,1636.3L182.8,1658.3L182.8,1680.4L185.6,1689.4L185.6,1718.5L185.6,1720.5L174.2,1749.8L162.8,1749.8L162.1,1750.4L157.7,1740.3L150,1740.3ZM215,1720.5L215,1700.7L213.5,1689.4L222.7,1665.9L231.9,1665.9L234.8,1659.4L246.6,1689.4L246.3,1691.2L246.3,1720.5L234.8,1749.8L230.4,1740.3L222.7,1740.3ZM272.1,1720.5L272.1,1691.7L271.7,1689.4L283.4,1659.5L295,1689.4L294.6,1691.7L294.6,1720.5L283.4,1749.3ZM356.6,1720.5L356.1,1709.2L348.4,1689.4L356.1,1669.6L363.8,1669.6L368.2,1659.2L368.8,1659.8L380.4,1659.8L391.9,1689.4L391.8,1691.2L391.8,1720.5L380.4,1749.8L368.9,1749.8L368.2,1750.4ZM407.6,1720.5L407.6,1696.9L407.1,1689.4L416.7,1664.8L417.7,1658.3L428.9,1629.7L440.1,1658.3L441,1664.8L450.6,1689.4L450.2,1696.9L450.2,1720.5L441,1744.1L431.8,1744.1L428.9,1750.7L425.9,1744.1L416.7,1744.1ZM491.7,1720.5L491.7,1695.1L491,1689.4L501.6,1662.1L502.7,1658.3L502.7,1629.9L502.1,1627.3L513.8,1597.3L525.5,1627.3L524.9,1629.9L524.9,1658.3L525.9,1673.4L532.2,1689.4L525.9,1705.5L525.5,1720.5L513.8,1750.6L511.6,1745.9L501.6,1745.9ZM541.5,1720.5L541.5,1698.4L540.2,1689.4L549.7,1659.4L549.7,1658.3L550.1,1657.3L561.9,1657.3L550.9,1627.3L562.3,1598.1L564.8,1602.6L574.4,1602.6L584,1602.6L586.5,1602.6L596.1,1627.3L595.7,1634.8L595.7,1658.3L586.5,1681.9L575,1658.3L574.4,1657L564.3,1658.3L574.4,1659.5L584.3,1689.4L583,1698.4L583,1720.5L574.4,1742.5L565.8,1742.5L562.3,1750.1L558.8,1742.5L550.1,1742.5ZM284.9,1658.3L283.4,1655.7L272.3,1627.3L283.4,1598.9L294.4,1598.9L295.5,1597.1L307.3,1627.3L306,1631.4L306,1658.3L295.5,1685.3ZM211.2,1627.3L222.7,1597.7L223.8,1598.9L224.9,1596.2L224.9,1570.8L224.7,1565.1L224.7,1539.1L224.1,1534.1L234.8,1506.6L246.7,1534.1L247,1534.7L247.7,1535.9L254.5,1534.1L259.1,1531.2L260.2,1534.1L260.2,1537L268,1565.1L260.2,1593.3L260.2,1596.2L260.2,1599.1L269.9,1627.3L259.1,1654.9L256.6,1651.9L247,1651.9L237.4,1651.9L234.8,1655.7L223.8,1655.7L222.7,1656.8ZM356.8,1627.3L368.2,1598L379.7,1627.3L368.2,1656.5ZM395.2,1627.3L404.6,1603.1L414,1603.1L416.7,1603.1L426.2,1627.3L416.7,1651.4L407.3,1651.4L404.6,1651.4ZM418.1,1596.2L428.9,1568.6L439.6,1596.2L428.9,1623.8ZM357.5,1565.1L356.1,1556.9L347.2,1534.1L356.1,1511.2L363.1,1503L368.2,1490L373.3,1490L380.4,1490L385.5,1503L385.5,1516L389.6,1534.1L380.4,1557.6L379,1565.1L368.2,1592.6ZM394.8,1565.1L404.6,1540.1L414.4,1565.1L404.6,1590.2ZM502.3,1565.1L513.8,1535.9L525.2,1565.1L513.8,1594.4ZM528.8,1565.1L538,1541.6L546.8,1534.1L550.1,1525.5L553.5,1525.5L562.3,1508.6L572.2,1534.1L572.2,1559.5L573.2,1565.1L562.3,1593.1L561,1593L550.1,1593L547.2,1588.7L538,1588.7ZM417.5,1534.1L428.9,1505L440.2,1534.1L428.9,1563.1ZM140.2,1503L150,1477.9L159.7,1503L150,1528.1ZM346.3,1471.9L356.1,1446.9L365.9,1471.9L356.1,1497Z" fill="#0065ff" fill-rule="evenodd" stroke="#0065ff" stroke-width="0.6"/>
<path d="M610.8,1747.2L600.4,1720.5L600.4,1693.8L599.5,1689.4L610.8,1660.5L610.8,1689.4L610.8,1720.5ZM143,1720.5L143,1702.6L142,1689.4L142,1668.9L139.3,1658.3L140.1,1652.5L140.1,1627.3L140.1,1602.1L139.4,1596.2L141,1588.1L141,1565.1L150,1542.2L153.1,1534.1L162.1,1511.1L171,1534.1L162.1,1557L158.9,1565.1L162.1,1572.7L171.3,1596.2L171.3,1619.7L172.7,1627.3L174.2,1637.8L182.2,1658.3L182.2,1678.9L185.4,1689.4L185.4,1718.2L185.5,1720.5L174.2,1749.4L162.9,1749.4L162.1,1750.2L156.9,1738.4L150,1738.4ZM215.7,1720.5L215.7,1702.6L214,1689.4L222.7,1667.2L231.4,1667.2L234.8,1659.5L246.5,1689.4L246.1,1691.5L246.1,1720.5L234.8,1749.4L229.7,1738.4L222.7,1738.4ZM272.3,1720.5L272.3,1692.1L271.7,1689.4L283.4,1659.7L295,1689.4L294.4,1692.1L294.4,1720.5L283.4,1748.9ZM356.6,1720.5L356.1,1707.3L349.1,1689.4L356.1,1671.6L363.1,1671.6L368.2,1659.3L368.9,1660.1L380.4,1660.1L391.8,1689.4L391.7,1691.5L391.7,1720.5L380.4,1749.4L369.1,1749.4L368.2,1750.2ZM408.1,1720.5L408.1,1698.2L407.6,1689.4L416.7,1665.9L417.8,1658.3L428.9,1630.1L439.9,1658.3L441,1665.9L450.2,1689.4L449.7,1698.2L449.7,1720.5L441,1742.8L432.3,1742.8L428.9,1750.5L425.4,1742.8L416.7,1742.8ZM492.1,1720.5L492.1,1696L491.2,1689.4L501.6,1662.8L502.9,1658.3L502.9,1630.4L502.1,1627.3L513.8,1597.5L525.4,1627.3L524.7,1630.4L524.7,1658.3L525.9,1676L531.1,1689.4L525.9,1702.9L525.4,1720.5L513.8,1750.4L511.2,1745L501.6,1745ZM542.1,1720.5L542.1,1700L540.6,1689.4L550.1,1659.3L561.9,1659.3L562.3,1658.5L562.6,1659.3L574.4,1660.6L583.9,1689.4L582.4,1700L582.4,1720.5L574.4,1741L566.4,1741L562.3,1749.8L558.1,1741L550.1,1741ZM285.2,1658.3L283.4,1655.2L272.4,1627.3L283.4,1599.3L294.3,1599.3L295.5,1597.3L307.2,1627.3L305.7,1632.1L305.7,1658.3L295.5,1684.6ZM575.7,1658.4L574.4,1655.7L562.7,1657.2L562.3,1658.1L551,1627.3L562.3,1598.4L565.2,1603.8L574.4,1603.8L583.6,1603.8L586.5,1603.8L595.7,1627.3L595.2,1636.1L595.2,1658.3L586.5,1680.6ZM211.3,1627.3L222.7,1598L223.9,1599.3L225.3,1596.2L225.3,1571.7L225,1565.1L225,1539.9L224.4,1534.1L234.8,1507.2L246.4,1534.1L247,1535.3L248.4,1537.7L259.1,1534.9L267.5,1565.1L259.1,1595.4L258.2,1596.2L258.9,1596.8L259.1,1596.5L269.6,1627.3L259.1,1654.3L256.2,1650.8L247,1650.8L237.8,1650.8L234.8,1655.2L223.9,1655.2L222.7,1656.6ZM356.9,1627.3L368.2,1598.3L379.5,1627.3L368.2,1656.2ZM395.7,1627.3L404.6,1604.3L413.6,1604.3L416.7,1604.3L425.7,1627.3L416.7,1650.2L407.8,1650.2L404.6,1650.2ZM418.3,1596.2L428.9,1569.2L439.4,1596.2L428.9,1623.2ZM357.8,1565.1L356.1,1555.5L347.7,1534.1L356.1,1512.6L364.4,1503L368.2,1493.1L372.1,1493.1L380.4,1493.1L384.2,1503L384.2,1512.9L389.1,1534.1L380.4,1556.3L378.7,1565.1L368.2,1592ZM395.2,1565.1L404.6,1541.1L414,1565.1L404.6,1589.2ZM502.5,1565.1L513.8,1536.2L525.1,1565.1L513.8,1594.1ZM529.3,1565.1L538,1542.9L548.3,1534.1L550.1,1529.4L552,1529.4L562.3,1509.6L571.8,1534.1L571.8,1558.5L573,1565.1L562.3,1592.6L560.8,1592.4L550.1,1592.4L546.7,1587.4L538,1587.4ZM417.7,1534.1L428.9,1505.4L440.1,1534.1L428.9,1562.7ZM140.6,1503L150,1479L159.3,1503L150,1527ZM346.7,1471.9L356.1,1447.9L365.5,1471.9L356.1,1496Z" fill="#008bff" fill-rule="evenodd" stroke="#008bff" stroke-width="0.6"/>
<path d="M610.8,1746.5L600.6,1720.5L600.6,1694.5L599.6,1689.4L610.8,1660.8L610.8,1689.4L610.8,1720.5ZM143.7,1720.5L143.7,1704.6L142.6,1689.4L142.6,1670.5L139.5,1658.3L140.5,1651.6L140.5,1627.3L140.5,1602.9L139.6,1596.2L141.5,1586.9L141.5,1565.1L150,1543.4L153.6,1534.1L162.1,1512.3L170.6,1534.1L162.1,1555.8L158.4,1565.1L162.1,1573.8L170.8,1596.2L170.8,1618.6L172.5,1627.3L174.2,1639.4L181.6,1658.3L181.6,1677.3L185.3,1689.4L185.3,1717.9L185.4,1720.5L174.2,1749.1L163,1749.1L162.1,1750L156.2,1736.4L150,1736.4ZM216.5,1720.5L216.5,1704.6L214.5,1689.4L222.7,1668.4L230.9,1668.4L234.8,1659.7L246.4,1689.4L246,1691.8L246,1720.5L234.8,1749.1L228.9,1736.4L222.7,1736.4ZM272.4,1720.5L272.4,1692.4L271.8,1689.4L283.4,1659.9L294.9,1689.4L294.3,1692.4L294.3,1720.5L283.4,1748.5ZM356.7,1720.5L356.1,1705.3L349.9,1689.4L356.1,1673.5L362.3,1673.5L368.2,1659.5L369,1660.3L380.4,1660.3L391.7,1689.4L391.5,1691.8L391.5,1720.5L380.4,1749.1L369.2,1749.1L368.2,1750ZM408.6,1720.5L408.6,1699.5L408,1689.4L416.7,1667L418,1658.3L428.9,1630.5L439.8,1658.3L441,1667L449.8,1689.4L449.2,1699.5L449.2,1720.5L441,1741.5L432.8,1741.5L428.9,1750.3L424.9,1741.5L416.7,1741.5ZM492.5,1720.5L492.5,1697L491.5,1689.4L501.6,1663.4L503,1658.3L503,1630.8L502.2,1627.3L513.8,1597.7L525.3,1627.3L524.5,1630.8L524.5,1658.3L525.9,1678.5L530.1,1689.4L525.9,1700.3L525.4,1720.5L513.8,1750.2L510.8,1744L501.6,1744ZM542.7,1720.5L542.7,1701.5L541,1689.4L550.1,1660.5L561.4,1660.5L562.3,1658.7L563.1,1660.5L574.4,1661.8L583.6,1689.4L581.8,1701.5L581.8,1720.5L574.4,1739.4L567,1739.4L562.3,1749.5L557.5,1739.4L550.1,1739.4ZM285.5,1658.3L283.4,1654.8L272.6,1627.3L283.4,1599.8L294.1,1599.8L295.5,1597.4L307.1,1627.3L305.5,1632.8L305.5,1658.3L295.5,1683.9ZM576.3,1658.3L574.4,1654.3L563.3,1655.8L562.3,1657.7L551.1,1627.3L562.3,1598.7L565.7,1604.9L574.4,1604.9L583.1,1604.9L586.5,1604.9L595.3,1627.3L594.7,1637.4L594.7,1658.3L586.5,1679.3ZM211.4,1627.3L222.7,1598.2L224.1,1599.8L225.7,1596.2L225.7,1572.7L225.3,1565.1L225.3,1540.8L224.6,1534.1L234.8,1507.8L246.2,1534.1L247,1536L249.1,1539.5L259.1,1536.9L266.9,1565.1L259.1,1593.4L256.1,1596.2L258.3,1598.2L259.1,1597.2L269.4,1627.3L259.1,1653.7L255.7,1649.7L247,1649.7L238.2,1649.7L234.8,1654.8L224.1,1654.8L222.7,1656.3ZM357.1,1627.3L368.2,1598.6L379.4,1627.3L368.2,1655.9ZM396.1,1627.3L404.6,1605.5L413.1,1605.5L416.7,1605.5L425.2,1627.3L416.7,1649L408.3,1649L404.6,1649ZM418.6,1596.2L428.9,1569.8L439.2,1596.2L428.9,1622.6ZM358,1565.1L356.1,1554.1L348.3,1534.1L356.1,1514L365.6,1503L368.2,1496.2L370.9,1496.2L380.4,1496.2L383,1503L383,1509.8L388.6,1534.1L380.4,1555L378.5,1565.1L368.2,1591.4ZM395.6,1565.1L404.6,1542.1L413.6,1565.1L404.6,1588.1ZM502.6,1565.1L513.8,1536.5L524.9,1565.1L513.8,1593.8ZM529.8,1565.1L538,1544.2L549.8,1534.1L550.1,1533.3L550.4,1533.3L562.3,1510.6L571.4,1534.1L571.4,1557.6L572.8,1565.1L562.3,1592L560.6,1591.9L550.1,1591.9L546.2,1586.1L538,1586.1ZM417.8,1534.1L428.9,1505.8L439.9,1534.1L428.9,1562.4ZM141,1503L150,1480L158.9,1503L150,1526ZM347.1,1471.9L356.1,1448.9L365.1,1471.9L356.1,1494.9Z" fill="#00b0ff" fill-rule="evenodd" stroke="#00b0ff" stroke-width="0.6"/>
<path d="M610.8,1745.9L600.9,1720.5L600.9,1695.1L599.7,1689.4L610.8,1661.1L610.8,1689.4L610.8,1720.5ZM144.5,1720.5L144.5,1706.5L143.2,1689.4L143.2,1672L139.7,1658.3L140.8,1650.8L140.8,1627.3L140.8,1603.8L139.9,1596.2L141.9,1585.7L141.9,1565.1L150,1544.6L154.1,1534.1L162.1,1513.5L170.1,1534.1L162.1,1554.6L158,1565.1L162.1,1574.9L170.4,1596.2L170.4,1617.5L172.3,1627.3L174.2,1641L181,1658.3L181,1675.7L185.2,1689.4L185.2,1717.5L185.3,1720.5L174.2,1748.8L163.1,1748.8L162.1,1749.9L155.4,1734.5L150,1734.5ZM217.3,1720.5L217.3,1706.5L215,1689.4L222.7,1669.7L230.4,1669.7L234.8,1659.9L246.4,1689.4L245.9,1692.2L245.9,1720.5L234.8,1748.8L228.2,1734.5L222.7,1734.5ZM272.6,1720.5L272.6,1692.8L271.9,1689.4L283.4,1660.1L294.8,1689.4L294.1,1692.8L294.1,1720.5L283.4,1748.1ZM356.8,1720.5L356.1,1703.4L350.7,1689.4L356.1,1675.4L361.6,1675.4L368.2,1659.6L369.1,1660.6L380.4,1660.6L391.6,1689.4L391.4,1692.2L391.4,1720.5L380.4,1748.8L369.3,1748.8L368.2,1749.9ZM409.1,1720.5L409.1,1700.8L408.4,1689.4L416.7,1668.1L418.2,1658.3L428.9,1630.9L439.6,1658.3L441,1668.1L449.3,1689.4L448.7,1700.8L448.7,1720.5L441,1740.2L433.3,1740.2L428.9,1750.2L424.4,1740.2L416.7,1740.2ZM492.8,1720.5L492.8,1698L491.7,1689.4L501.6,1664L503.2,1658.3L503.2,1631.3L502.3,1627.3L513.8,1597.8L525.3,1627.3L524.3,1631.3L524.3,1658.3L525.9,1681.1L529.1,1689.4L525.9,1697.7L525.3,1720.5L513.8,1750L510.4,1743L501.6,1743ZM543.4,1720.5L543.4,1703.1L541.4,1689.4L550.1,1661.7L561,1661.7L562.3,1658.8L563.6,1661.7L574.4,1662.9L583.2,1689.4L581.2,1703.1L581.2,1720.5L574.4,1737.9L567.6,1737.9L562.3,1749.3L556.9,1737.9L550.1,1737.9ZM285.8,1658.4L283.4,1654.3L272.8,1627.3L283.4,1600.2L293.9,1600.2L295.5,1597.6L307.1,1627.3L305.2,1633.5L305.2,1658.3L295.5,1683.2ZM576.9,1658.3L574.4,1653L563.8,1654.4L562.3,1657.4L551.3,1627.3L562.3,1599.1L566.1,1606L574.4,1606L582.7,1606L586.5,1606L594.8,1627.3L594.2,1638.7L594.2,1658.3L586.5,1678ZM211.5,1627.3L222.7,1598.5L224.3,1600.2L226.1,1596.2L226.1,1573.7L225.7,1565.1L225.7,1541.7L224.9,1534.1L234.8,1508.5L245.9,1534.1L247,1536.6L249.8,1541.3L259.1,1538.8L266.4,1565.1L259.1,1591.4L253.9,1596.2L257.7,1599.7L259.1,1597.8L269.2,1627.3L259.1,1653.1L255.3,1648.6L247,1648.6L238.7,1648.6L234.8,1654.3L224.3,1654.3L222.7,1656.1ZM357.2,1627.3L368.2,1598.9L379.3,1627.3L368.2,1655.6ZM396.6,1627.3L404.6,1606.7L412.6,1606.7L416.7,1606.7L424.8,1627.3L416.7,1647.8L408.7,1647.8L404.6,1647.8ZM418.8,1596.2L428.9,1570.4L439,1596.2L428.9,1622ZM358.2,1565.1L356.1,1552.7L348.8,1534.1L356.1,1515.4L366.8,1503L368.2,1499.3L369.7,1499.3L380.4,1499.3L381.8,1503L381.8,1506.7L388,1534.1L380.4,1553.7L378.2,1565.1L368.2,1590.7ZM396.1,1565.1L404.6,1543.2L413.2,1565.1L404.6,1587.1ZM502.7,1565.1L513.8,1536.8L524.8,1565.1L513.8,1593.5ZM530.3,1565.1L538,1545.5L549.5,1535.6L550.1,1534.6L550.6,1534.1L562.3,1511.5L571.1,1534.1L571.1,1556.6L572.6,1565.1L562.3,1591.5L560.4,1591.3L550.1,1591.3L545.7,1584.8L538,1584.8ZM418,1534.1L428.9,1506.1L439.8,1534.1L428.9,1562ZM141.4,1503L150,1481L158.5,1503L150,1525ZM347.5,1471.9L356.1,1450L364.7,1471.9L356.1,1493.9Z" fill="#00d6ff" fill-rule="evenodd" stroke="#00d6ff" stroke-width="0.6"/>
<path d="M610.8,1745.2L601.1,1720.5L601.1,1695.8L599.8,1689.4L610.8,1661.4L610.8,1689.4L610.8,1720.5ZM145.3,1720.5L145.3,1708.5L143.8,1689.4L143.8,1673.6L139.9,1658.3L141.1,1649.9L141.1,1627.3L141.1,1604.7L140.1,1596.2L142.4,1584.5L142.4,1565.1L150,1545.8L154.5,1534.1L162.1,1514.7L169.6,1534.1L162.1,1553.4L157.5,1565.1L162.1,1576L170,1596.2L170,1616.4L172.1,1627.3L174.2,1642.5L180.4,1658.3L180.4,1674.2L185,1689.4L185,1717.2L185.1,1720.5L174.2,1748.5L163.3,1748.5L162.1,1749.7L154.7,1732.5L150,1732.5ZM218,1720.5L218,1708.5L215.5,1689.4L222.7,1671L229.9,1671L234.8,1660L246.3,1689.4L245.8,1692.5L245.8,1720.5L234.8,1748.5L227.4,1732.5L222.7,1732.5ZM272.7,1720.5L272.7,1693.2L272,1689.4L283.4,1660.3L294.7,1689.4L294,1693.2L294,1720.5L283.4,1747.8ZM356.9,1720.5L356.1,1701.5L351.4,1689.4L356.1,1677.4L360.8,1677.4L368.2,1659.7L369.2,1660.8L380.4,1660.8L391.5,1689.4L391.3,1692.5L391.3,1720.5L380.4,1748.5L369.4,1748.5L368.2,1749.7ZM409.6,1720.5L409.6,1702.1L408.9,1689.4L416.7,1669.2L418.3,1658.3L428.9,1631.3L439.4,1658.3L441,1669.2L448.9,1689.4L448.2,1702.1L448.2,1720.5L441,1738.9L433.8,1738.9L428.9,1750L423.9,1738.9L416.7,1738.9ZM493.2,1720.5L493.2,1698.9L492,1689.4L501.6,1664.7L503.4,1658.3L503.4,1631.8L502.3,1627.3L513.8,1598L525.2,1627.3L524.1,1631.8L524.1,1658.3L525.9,1683.7L528.1,1689.4L525.9,1695.1L525.2,1720.5L513.8,1749.9L510.1,1742L501.6,1742ZM544,1720.5L544,1704.6L541.7,1689.4L550.1,1662.9L560.5,1662.9L562.3,1659L564,1662.9L574.4,1664.1L582.8,1689.4L580.6,1704.6L580.6,1720.5L574.4,1736.3L568.2,1736.3L562.3,1749L556.3,1736.3L550.1,1736.3ZM286.1,1658.3L283.4,1653.9L273,1627.3L283.4,1600.7L293.7,1600.7L295.5,1597.7L307,1627.3L304.9,1634.2L304.9,1658.3L295.5,1682.5ZM577.6,1658.3L574.4,1651.7L564.4,1653L562.3,1657L551.4,1627.3L562.3,1599.4L566.5,1607.1L574.4,1607.1L582.3,1607.1L586.5,1607.1L594.4,1627.3L593.7,1640L593.7,1658.3L586.5,1676.7ZM211.6,1627.3L222.7,1598.7L224.5,1600.7L226.4,1596.2L226.4,1574.7L226,1565.1L226,1542.5L225.1,1534.1L234.8,1509.1L245.6,1534.1L247,1537.2L250.5,1543.1L259.1,1540.8L265.8,1565.1L259.1,1589.4L251.7,1596.2L257.2,1601.1L259.1,1598.5L268.9,1627.3L259.1,1652.5L254.9,1647.5L247,1647.5L239.1,1647.5L234.8,1653.9L224.5,1653.9L222.7,1655.8ZM357.3,1627.3L368.2,1599.3L379.2,1627.3L368.2,1655.3ZM397.1,1627.3L404.6,1607.9L412.2,1607.9L416.7,1607.9L424.3,1627.3L416.7,1646.6L409.2,1646.6L404.6,1646.6ZM419,1596.2L428.9,1571L438.7,1596.2L428.9,1621.4ZM358.5,1565.1L356.1,1551.3L349.4,1534.1L356.1,1516.8L368,1503L368.2,1502.4L368.5,1502.4L380.4,1502.4L380.6,1503L380.6,1503.6L387.5,1534.1L380.4,1552.5L378,1565.1L368.2,1590.1ZM396.5,1565.1L404.6,1544.2L412.8,1565.1L404.6,1586.1ZM502.8,1565.1L513.8,1537.1L524.7,1565.1L513.8,1593.2ZM530.8,1565.1L538,1546.8L548.8,1537.6L550.1,1535.2L551.1,1534.1L562.3,1512.5L570.7,1534.1L570.7,1555.6L572.4,1565.1L562.3,1591L560.2,1590.8L550.1,1590.8L545.2,1583.5L538,1583.5ZM418.1,1534.1L428.9,1506.5L439.7,1534.1L428.9,1561.7ZM141.8,1503L150,1482.1L158.1,1503L150,1523.9ZM347.9,1471.9L356.1,1451L364.3,1471.9L356.1,1492.9Z" fill="#00ffff" fill-rule="evenodd" stroke="#00ffff" stroke-width="0.6"/>
<path d="M610.8,1739.6L603.3,1720.5L603.3,1701.3L600.9,1689.4L610.8,1664.1L610.8,1689.4L610.8,1720.5ZM150.2,1720.5L150.2,1719.9L150,1701.8L149,1689.4L149,1686.9L141.8,1658.3L144,1642.5L144,1627.3L144,1612.1L142.1,1596.2L146.4,1574.2L146.4,1565.1L150,1556.1L158.5,1534.1L162.1,1525L165.6,1534.1L162.1,1543.2L153.5,1565.1L162.1,1585.6L166.2,1596.2L166.2,1606.9L170.2,1627.3L174.2,1655.9L175.2,1658.3L175.2,1660.8L183.9,1689.4L183.9,1714.3L184.1,1720.5L174.2,1745.8L164.3,1745.8L162.1,1748ZM223.1,1720.5L222.7,1711.2L219.9,1689.4L222.7,1682.2L225.5,1682.2L234.8,1661.5L245.7,1689.4L244.7,1695.1L244.7,1720.5L234.8,1745.8ZM274,1720.5L274,1696.6L272.6,1689.4L283.4,1661.9L294.1,1689.4L292.7,1696.6L292.7,1720.5L283.4,1744.4ZM357.5,1720.5L356.3,1689.9L356.3,1689.4L368.2,1660.9L370,1663L380.4,1663L390.7,1689.4L390.3,1695.1L390.3,1720.5L380.4,1745.8L370.5,1745.8L368.2,1748ZM413.9,1720.5L413.9,1713.2L412.6,1689.4L416.7,1678.8L419.7,1658.3L428.9,1634.8L438.1,1658.3L441,1678.8L445.2,1689.4L443.8,1713.2L443.8,1720.5L441,1727.7L438.2,1727.7L428.9,1748.7L419.6,1727.7L416.7,1727.7ZM496.5,1720.5L496.5,1707.3L494.2,1689.4L501.6,1670.3L504.9,1658.3L504.9,1635.7L503,1627.3L513.8,1599.6L524.6,1627.3L522.6,1635.7L522.6,1658.3L524.5,1685.9L525.6,1689.4L525.4,1690.6L524.7,1720.5L513.8,1748.4L506.8,1733.7L501.6,1733.7ZM549.2,1720.5L549.2,1718L545,1689.4L550.1,1673.2L556.5,1673.2L562.3,1660.6L568.1,1673.2L574.4,1673.9L579.6,1689.4L575.4,1718L575.4,1720.5L574.4,1723L573.4,1723L562.3,1746.8L551.1,1723L550.1,1723ZM288.4,1658.3L283.4,1649.9L274.5,1627.3L283.4,1604.6L292.2,1604.6L295.5,1599.1L306.5,1627.3L302.5,1640.3L302.5,1658.3L295.5,1676.4ZM583,1658.3L574.4,1640.1L569.1,1640.8L562.3,1654.1L552.5,1627.3L562.3,1602.2L570.2,1616.6L574.4,1616.6L578.6,1616.6L586.5,1616.6L590.7,1627.3L589.4,1651.1L589.4,1658.3L586.5,1665.6ZM212.4,1627.3L222.7,1601L226,1604.6L229.7,1596.2L229.7,1583L228.9,1565.1L228.9,1550L227.2,1534.1L234.8,1514.4L243.3,1534.1L247,1542.7L256.6,1558.6L259.1,1558L261.1,1565.1L259.1,1572.3L254.7,1576.3L247,1591.5L243.1,1596.2L247,1608.6L252.4,1613.5L259.1,1604.4L266.9,1627.3L259.1,1647.4L251.1,1637.9L247,1637.9L242.8,1637.9L234.8,1649.9L226,1649.9L222.7,1653.6ZM358.3,1627.3L368.2,1601.9L378.1,1627.3L368.2,1652.6ZM401.1,1627.3L404.6,1618.2L408.2,1618.2L416.7,1618.2L420.3,1627.3L416.7,1636.4L413.2,1636.4L404.6,1636.4ZM421,1596.2L428.9,1576.1L436.7,1596.2L428.9,1616.3ZM360.6,1565.1L356.1,1539.2L354.1,1534.1L356.1,1529L359.8,1524.7L368.2,1516L375.5,1521.6L380.4,1521.6L383.2,1534.1L380.4,1541.3L375.9,1565.1L368.2,1584.8ZM399.9,1565.1L404.6,1553.1L409.3,1565.1L404.6,1577.2ZM503.9,1565.1L513.8,1539.8L523.7,1565.1L513.8,1590.5ZM535.2,1565.1L538,1557.9L542.3,1554.3L550.1,1540.8L555.4,1534.1L562.3,1520.9L567.4,1534.1L567.4,1547.3L570.6,1565.1L562.3,1586.4L558.3,1586L550.1,1586L540.8,1572.4L538,1572.4ZM419.3,1534.1L428.9,1509.5L438.5,1534.1L428.9,1558.6ZM145.3,1503L150,1491L154.6,1503L150,1515ZM351.4,1471.9L356.1,1459.9L360.8,1471.9L356.1,1483.9Z" fill="#00ffe6" fill-rule="evenodd" stroke="#00ffe6" stroke-width="0.6"/>
<path d="M610.8,1737.8L604,1720.5L604,1703.1L601.2,1689.4L610.8,1664.9L610.8,1689.4L610.8,1720.5ZM150.4,1720.5L150.5,1719.2L150.1,1689.4L150.6,1687.9L150,1688.4L142.4,1658.3L145,1640.1L145,1627.3L145,1614.5L142.8,1596.2L147.7,1570.9L147.7,1565.1L150,1559.4L159.8,1534.1L162.1,1528.3L164.3,1534.1L162.1,1539.8L152.2,1565.1L162.1,1588.7L165,1596.2L165,1603.8L169.6,1627.3L173.8,1657.3L173.6,1658.3L174.2,1658.9L183.5,1689.4L183.5,1713.3L183.8,1720.5L174.2,1745L164.7,1745L162.1,1747.4ZM223.5,1720.5L222.7,1700.3L221.3,1689.4L222.7,1685.8L224.1,1685.8L234.8,1662L245.5,1689.4L244.4,1696L244.4,1720.5L234.8,1745ZM274.4,1720.5L274.4,1697.7L272.8,1689.4L283.4,1662.5L293.9,1689.4L292.3,1697.7L292.3,1720.5L283.4,1743.3ZM357.7,1720.5L356.6,1690.5L356.4,1689.4L368.2,1661.3L370.3,1663.7L380.4,1663.7L390.4,1689.4L389.9,1696L389.9,1720.5L380.4,1745L370.8,1745L368.2,1747.4ZM415.3,1720.5L415.3,1716.9L413.8,1689.4L416.7,1681.9L420.1,1658.3L428.9,1635.9L437.6,1658.3L441,1681.9L443.9,1689.4L442.4,1716.9L442.4,1720.5L441,1724.1L439.6,1724.1L428.9,1748.3L418.2,1724.1L416.7,1724.1ZM497.5,1720.5L497.5,1710L494.9,1689.4L501.6,1672.1L505.4,1658.3L505.4,1637L503.2,1627.3L513.8,1600.1L524.4,1627.3L522.1,1637L522.1,1658.3L523.9,1684.3L525.5,1689.4L525.2,1691.1L524.5,1720.5L513.8,1747.9L505.7,1731L501.6,1731ZM550.3,1720.5L550.1,1717.4L546.1,1689.4L550.1,1676.5L555.2,1676.5L562.3,1661.1L569.4,1676.5L574.4,1677.1L578.5,1689.4L574.4,1717.4L574.3,1720.5L562.3,1746.1ZM289.2,1658.3L283.4,1648.7L275,1627.3L283.4,1605.9L291.7,1605.9L295.5,1599.5L306.3,1627.3L301.8,1642.3L301.8,1658.3L295.5,1674.4ZM584.8,1658.3L574.4,1636.4L570.7,1636.9L562.3,1653.1L552.8,1627.3L562.3,1603.1L571.5,1619.7L574.4,1619.7L577.3,1619.7L586.5,1619.7L589.5,1627.3L587.9,1654.7L587.9,1658.3L586.5,1662ZM212.7,1627.3L222.7,1601.7L226.5,1605.9L230.8,1596.2L230.8,1585.7L229.9,1565.1L229.9,1552.4L227.9,1534.1L234.8,1516.2L242.6,1534.1L247,1544.4L258.5,1563.7L259.1,1563.5L259.5,1565.1L259.1,1566.7L258.1,1567.6L247,1589.4L241.4,1596.2L247,1614.1L250.8,1617.5L259.1,1606.3L266.3,1627.3L259.1,1645.7L249.9,1634.8L247,1634.8L244,1634.8L234.8,1648.7L226.5,1648.7L222.7,1652.9ZM358.7,1627.3L368.2,1602.8L377.8,1627.3L368.2,1651.8ZM402.4,1627.3L404.6,1621.5L406.9,1621.5L416.7,1621.5L419,1627.3L416.7,1633L414.5,1633L404.6,1633ZM421.7,1596.2L428.9,1577.8L436.1,1596.2L428.9,1614.6ZM361.3,1565.1L356.1,1535.2L355.7,1534.1L356.1,1532.9L356.9,1532L368.2,1520.4L377.9,1527.9L380.4,1527.9L381.8,1534.1L380.4,1537.7L375.2,1565.1L368.2,1583ZM401.1,1565.1L404.6,1556L408.2,1565.1L404.6,1574.3ZM504.2,1565.1L513.8,1540.7L523.3,1565.1L513.8,1589.6ZM536.6,1565.1L538,1561.5L540.1,1559.7L550.1,1542.6L556.8,1534.1L562.3,1523.6L566.4,1534.1L566.4,1544.6L570,1565.1L562.3,1584.9L557.7,1584.4L550.1,1584.4L539.4,1568.8L538,1568.8ZM419.7,1534.1L428.9,1510.5L438.1,1534.1L428.9,1557.7ZM146.4,1503L150,1493.9L153.5,1503L150,1512.1ZM352.6,1471.9L356.1,1462.8L359.7,1471.9L356.1,1481Z" fill="#00ffbe" fill-rule="evenodd" stroke="#00ffbe" stroke-width="0.6"/>
<path d="M610.8,1736L604.7,1720.5L604.7,1705L601.6,1689.4L610.8,1665.8L610.8,1689.4L610.8,1720.5ZM150.6,1720.5L150.7,1718.5L150.4,1689.4L152,1684.2L150,1686L143,1658.3L145.9,1637.6L145.9,1627.3L145.9,1616.9L143.4,1596.2L149,1567.5L149,1565.1L150,1562.8L161.1,1534.1L162.1,1531.7L163,1534.1L162.1,1536.5L150.9,1565.1L162.1,1591.8L163.8,1596.2L163.8,1600.6L169,1627.3L172.9,1654.9L172.2,1658.3L174.2,1660.1L183.2,1689.4L183.2,1712.4L183.4,1720.5L174.2,1744.1L165,1744.1L162.1,1746.9ZM223.9,1720.5L222.7,1689.4L234.8,1662.5L245.4,1689.4L244.1,1696.9L244.1,1720.5L234.8,1744.1ZM274.9,1720.5L274.9,1698.7L273,1689.4L283.4,1663L293.7,1689.4L291.8,1698.7L291.8,1720.5L283.4,1742.2ZM357.9,1720.5L356.8,1691.1L356.6,1689.4L368.2,1661.7L370.6,1664.4L380.4,1664.4L390.1,1689.4L389.6,1696.9L389.6,1720.5L380.4,1744.1L371.2,1744.1L368.2,1746.9ZM416.7,1720.5L415,1689.4L416.7,1685L420.6,1658.3L428.9,1637.1L437.2,1658.3L441,1685L442.7,1689.4L441,1720.5L428.9,1747.8ZM498.6,1720.5L498.6,1712.7L495.6,1689.4L501.6,1673.9L505.9,1658.3L505.9,1638.2L503.4,1627.3L513.8,1600.6L524.2,1627.3L521.6,1638.2L521.6,1658.3L523.3,1682.8L525.3,1689.4L525,1691.6L524.3,1720.5L513.8,1747.4L504.7,1728.3L501.6,1728.3ZM550.6,1720.5L550.1,1710.1L547.1,1689.4L550.1,1679.9L553.9,1679.9L562.3,1661.6L570.7,1679.9L574.4,1680.3L577.4,1689.4L574.4,1710.1L573.9,1720.5L562.3,1745.3ZM290,1658.3L283.4,1647.4L275.5,1627.3L283.4,1607.2L291.2,1607.2L295.5,1599.9L306.2,1627.3L301,1644.2L301,1658.3L295.5,1672.5ZM586.5,1658.3L574.4,1632.6L572.2,1632.9L562.3,1652.1L553.2,1627.3L562.3,1604L572.7,1622.8L574.4,1622.8L576.1,1622.8L586.5,1622.8L588.3,1627.3ZM213,1627.3L222.7,1602.4L227,1607.2L231.8,1596.2L231.8,1588.4L230.8,1565.1L230.8,1554.8L228.5,1534.1L234.8,1517.9L241.8,1534.1L247,1546.2L258.3,1565.1L247,1587.3L239.7,1596.2L247,1619.5L249.2,1621.5L259.1,1608.2L265.6,1627.3L259.1,1644L248.7,1631.7L247,1631.7L245.2,1631.7L234.8,1647.4L227,1647.4L222.7,1652.1ZM359,1627.3L368.2,1603.7L377.5,1627.3L368.2,1650.9ZM403.7,1627.3L404.6,1624.9L405.6,1624.9L416.7,1624.9L417.7,1627.3L416.7,1629.7L415.8,1629.7L404.6,1629.7ZM422.3,1596.2L428.9,1579.5L435.4,1596.2L428.9,1612.9ZM361.9,1565.1L357,1536.3L359.1,1534.1L368.2,1524.7L380.4,1534.1L374.5,1565.1L368.2,1581.3ZM402.2,1565.1L404.6,1558.9L407,1565.1L404.6,1571.4ZM504.5,1565.1L513.8,1541.5L523,1565.1L513.8,1588.8ZM538,1565.1L550.1,1544.4L558.2,1534.1L562.3,1526.3L565.3,1534.1L565.3,1541.8L569.4,1565.1L562.3,1583.4L557.1,1582.9L550.1,1582.9ZM420.1,1534.1L428.9,1511.5L437.7,1534.1L428.9,1556.7ZM147.5,1503L150,1496.8L152.4,1503L150,1509.2ZM353.7,1471.9L356.1,1465.7L358.5,1471.9L356.1,1478.1Z" fill="#00ff96" fill-rule="evenodd" stroke="#00ff96" stroke-width="0.6"/>
<path d="M610.8,1734.2L605.4,1720.5L605.4,1706.8L601.9,1689.4L610.8,1666.7L610.8,1689.4L610.8,1720.5ZM150.9,1720.5L151,1717.8L150.6,1689.4L153.4,1680.6L150,1683.6L143.6,1658.3L146.9,1635.2L146.9,1627.3L146.9,1619.3L144.1,1596.2L150,1566.1L154.8,1577.6L162.1,1594.9L162.6,1596.2L162.6,1597.5L168.4,1627.3L171.9,1652.5L170.8,1658.3L174.2,1661.3L182.8,1689.4L182.8,1711.4L183.1,1720.5L174.2,1743.2L165.3,1743.2L162.1,1746.4ZM224.3,1720.5L223.2,1690.6L222.9,1689.4L234.8,1663L245.2,1689.4L243.7,1697.7L243.7,1720.5L234.8,1743.2ZM275.3,1720.5L275.3,1699.8L273.3,1689.4L283.4,1663.6L293.4,1689.4L291.4,1699.8L291.4,1720.5L283.4,1741.2ZM358.1,1720.5L357,1691.8L356.8,1689.4L368.2,1662.1L370.9,1665.1L380.4,1665.1L389.9,1689.4L389.2,1697.7L389.2,1720.5L380.4,1743.2L371.5,1743.2L368.2,1746.4ZM416.9,1720.5L416.7,1698.7L416.2,1689.4L416.7,1688.1L421,1658.3L428.9,1638.2L436.7,1658.3L441,1688.1L441.5,1689.4L441,1698.7L440.8,1720.5L428.9,1747.4ZM499.7,1720.5L499.7,1715.4L496.3,1689.4L501.6,1675.7L506.4,1658.3L506.4,1639.5L503.6,1627.3L513.8,1601.2L524,1627.3L521.1,1639.5L521.1,1658.3L522.7,1681.2L525.2,1689.4L524.8,1692.2L524.1,1720.5L513.8,1746.9L503.6,1725.5L501.6,1725.5ZM551,1720.5L550.1,1702.9L548.2,1689.4L550.1,1683.2L552.6,1683.2L562.3,1662.1L572,1683.2L574.4,1683.5L576.4,1689.4L574.4,1702.9L573.6,1720.5L562.3,1744.6ZM290.7,1658.3L283.4,1646.1L276,1627.3L283.4,1608.5L290.7,1608.5L295.5,1600.4L306,1627.3L300.2,1646.2L300.2,1658.3L295.5,1670.5ZM213.3,1627.3L222.7,1603.1L227.5,1608.5L232.9,1596.2L232.9,1591.2L231.7,1565.1L231.7,1557.2L229.2,1534.1L234.8,1519.7L241.1,1534.1L247,1548L257.3,1565.1L247,1585.3L238,1596.2L247,1624.9L247.6,1625.6L259.1,1610.1L265,1627.3L259.1,1642.3L247.5,1628.6L247,1628.6L246.5,1628.6L234.8,1646.1L227.5,1646.1L222.7,1651.4ZM359.4,1627.3L368.2,1604.5L377.1,1627.3L368.2,1650ZM553.5,1627.3L562.3,1604.9L573.9,1625.9L574.4,1625.9L574.9,1625.9L586.5,1625.9L587,1627.3L586.5,1636.6L578,1636.6L574.4,1628.9L573.7,1629L562.3,1651.2ZM423,1596.2L428.9,1581.2L434.8,1596.2L428.9,1611.3ZM362.6,1565.1L358.2,1539.4L363.4,1534.1L368.2,1529.1L374.7,1534.1L379.1,1537.4L373.9,1565.1L368.2,1579.6ZM403.3,1565.1L404.6,1561.8L405.9,1565.1L404.6,1568.5ZM504.9,1565.1L513.8,1542.4L522.6,1565.1L513.8,1587.9ZM539.1,1565.1L550.1,1546.2L559.6,1534.1L562.3,1529L564.2,1534.1L564.2,1539.1L568.8,1565.1L562.3,1581.9L556.5,1581.3L550.1,1581.3ZM420.4,1534.1L428.9,1512.5L437.3,1534.1L428.9,1555.7ZM148.7,1503L150,1499.7L151.2,1503L150,1506.3ZM354.8,1471.9L356.1,1468.6L357.4,1471.9L356.1,1475.2Z" fill="#00ff6e" fill-rule="evenodd" stroke="#00ff6e" stroke-width="0.6"/>
<path d="M610.8,1732.4L606.1,1720.5L606.1,1708.6L602.2,1689.4L610.8,1667.5L610.8,1689.4L610.8,1720.5ZM151.1,1720.5L151.3,1717.1L150.9,1689.4L154.8,1677L150,1681.1L144.2,1658.3L147.8,1632.8L147.8,1627.3L147.8,1621.8L144.7,1596.2L150,1569.4L161.3,1596.2L159.7,1602.4L162.1,1598L167.8,1627.3L171,1650.1L169.4,1658.3L174.2,1662.5L182.4,1689.4L182.4,1710.5L182.7,1720.5L174.2,1742.4L165.7,1742.4L162.1,1745.8ZM224.7,1720.5L223.6,1691.7L223.2,1689.4L234.8,1663.5L245,1689.4L243.4,1698.6L243.4,1720.5L234.8,1742.4ZM275.7,1720.5L275.7,1700.9L273.5,1689.4L283.4,1664.1L293.2,1689.4L291,1700.9L291,1720.5L283.4,1740.1ZM358.4,1720.5L357.3,1692.4L356.9,1689.4L368.2,1662.5L371.1,1665.8L380.4,1665.8L389.6,1689.4L388.9,1698.6L388.9,1720.5L380.4,1742.4L371.8,1742.4L368.2,1745.8ZM417.1,1720.5L416.9,1689.7L416.8,1689.4L417.2,1688.4L421.5,1658.3L428.9,1639.4L436.3,1658.3L440.6,1688.4L440.9,1689.4L440.9,1689.7L440.6,1720.5L428.9,1747ZM500.7,1720.5L500.7,1718.2L497,1689.4L501.6,1677.5L506.9,1658.3L506.9,1640.8L503.8,1627.3L513.8,1601.7L523.8,1627.3L520.6,1640.8L520.6,1658.3L522.1,1679.7L525.1,1689.4L524.6,1692.7L523.9,1720.5L513.8,1746.5L502.5,1722.8L501.6,1722.8ZM551.3,1720.5L550.1,1695.6L549.2,1689.4L550.1,1686.6L551.3,1686.6L562.3,1662.6L573.3,1686.6L574.4,1686.7L575.3,1689.4L574.4,1695.6L573.2,1720.5L562.3,1743.9ZM291.5,1658.3L283.4,1644.8L276.5,1627.3L283.4,1609.7L290.2,1609.7L295.5,1600.8L305.8,1627.3L299.4,1648.2L299.4,1658.3L295.5,1668.5ZM213.6,1627.3L222.7,1603.9L228,1609.7L233.9,1596.2L233.9,1593.9L232.7,1565.1L232.7,1559.6L229.9,1534.1L234.8,1521.4L240.3,1534.1L247,1549.7L256.2,1565.1L247,1583.2L236.3,1596.2L242.1,1614.9L246.5,1627.3L234.8,1644.8L228,1644.8L222.7,1650.7ZM247.8,1627.3L259.1,1612L264.3,1627.3L259.1,1640.7ZM359.7,1627.3L368.2,1605.4L376.8,1627.3L368.2,1649.2ZM553.9,1627.3L562.3,1605.8L574.1,1627.3L562.3,1650.2ZM423.7,1596.2L428.9,1582.8L434.1,1596.2L428.9,1609.6ZM363.3,1565.1L359.4,1542.5L367.6,1534.1L368.2,1533.4L369,1534.1L377.8,1540.8L373.2,1565.1L368.2,1577.8ZM404.5,1565.1L404.6,1564.7L404.8,1565.1L404.6,1565.6ZM505.2,1565.1L513.8,1543.3L522.3,1565.1L513.8,1587ZM540.1,1565.1L550.1,1548.1L561.1,1534.1L562.3,1531.7L563.2,1534.1L563.2,1536.4L568.2,1565.1L562.3,1580.4L555.9,1579.8L550.1,1579.8ZM420.8,1534.1L428.9,1513.5L436.9,1534.1L428.9,1554.7ZM149.8,1503L150,1502.6L150.1,1503L150,1503.4ZM356,1471.9L356.1,1471.5L356.3,1471.9L356.1,1472.3Z" fill="#00ff47" fill-rule="evenodd" stroke="#00ff47" stroke-width="0.6"/>
<path d="M610.8,1730.6L606.8,1720.5L606.8,1710.4L602.6,1689.4L610.8,1668.4L610.8,1689.4L610.8,1720.5ZM151.3,1720.5L151.6,1716.4L151.2,1689.4L156.2,1673.4L150,1678.7L144.8,1658.3L148.7,1630.4L148.7,1627.3L148.7,1624.2L145.4,1596.2L150,1572.8L159.9,1596.2L155.4,1613.3L162.1,1601.1L167.2,1627.3L170,1647.6L167.9,1658.3L174.2,1663.7L182.1,1689.4L182.1,1709.5L182.4,1720.5L174.2,1741.5L166,1741.5L162.1,1745.3ZM225.1,1720.5L224.1,1692.9L223.4,1689.4L234.8,1663.9L244.8,1689.4L243,1699.5L243,1720.5L234.8,1741.5ZM276.1,1720.5L276.1,1702L273.7,1689.4L283.4,1664.6L293,1689.4L290.6,1702L290.6,1720.5L283.4,1739ZM358.6,1720.5L357.5,1693L357.1,1689.4L368.2,1662.9L371.4,1666.5L380.4,1666.5L389.3,1689.4L388.6,1699.5L388.6,1720.5L380.4,1741.5L372.2,1741.5L368.2,1745.3ZM417.3,1720.5L417.1,1690.2L416.9,1689.4L417.9,1686.6L421.9,1658.3L428.9,1640.5L435.8,1658.3L439.9,1686.6L440.8,1689.4L440.7,1690.2L440.4,1720.5L428.9,1746.5ZM501.7,1720.5L501.6,1719.7L497.7,1689.4L501.6,1679.3L507.4,1658.3L507.4,1642.1L504,1627.3L513.8,1602.2L523.6,1627.3L520.1,1642.1L520.1,1658.3L521.5,1678.1L525,1689.4L524.4,1693.2L523.7,1720.5L513.8,1746ZM551.6,1720.5L550.2,1689.6L550.2,1689.4L562.3,1663.1L574.4,1689.4L574.3,1689.6L572.9,1720.5L562.3,1743.2ZM292.3,1658.3L283.4,1643.5L277,1627.3L283.4,1611L289.7,1611L295.5,1601.2L305.6,1627.3L298.7,1650.2L298.7,1658.3L295.5,1666.5ZM213.9,1627.3L222.7,1604.6L228.5,1611L234.8,1596.6L245.6,1627.3L234.8,1643.5L228.5,1643.5L222.7,1650ZM249.2,1627.3L259.1,1613.9L263.7,1627.3L259.1,1639ZM360,1627.3L368.2,1606.3L376.4,1627.3L368.2,1648.3ZM554.2,1627.3L562.3,1606.7L573.6,1627.3L562.3,1649.2ZM424.3,1596.2L428.9,1584.5L433.4,1596.2L428.9,1607.9ZM233.6,1565.1L233.6,1562L230.6,1534.1L234.8,1523.1L239.6,1534.1L247,1551.5L255.2,1565.1L247,1581.1L235.1,1595.6L234.8,1593.1ZM364,1565.1L360.6,1545.6L368.2,1537.8L376.4,1544.1L372.5,1565.1L368.2,1576.1ZM505.6,1565.1L513.8,1544.1L522,1565.1L513.8,1586.1ZM541.2,1565.1L550.1,1549.9L562.1,1534.6L562.3,1534.5L567.6,1565.1L562.3,1578.9L555.3,1578.2L550.1,1578.2ZM421.2,1534.1L428.9,1514.4L436.5,1534.1L428.9,1553.7Z" fill="#00ff1f" fill-rule="evenodd" stroke="#00ff1f" stroke-width="0.6"/>
<path d="M610.8,1728.8L607.5,1720.5L607.5,1712.2L602.9,1689.4L610.8,1669.3L610.8,1689.4L610.8,1720.5ZM151.6,1720.5L151.8,1715.7L151.5,1689.4L157.6,1669.7L150,1676.3L145.4,1658.3L149.7,1628L149.7,1627.3L149.7,1626.6L146,1596.2L150,1576.1L158.4,1596.2L151.2,1624.2L162.1,1604.2L166.6,1627.3L169.1,1645.2L166.5,1658.3L174.2,1664.9L181.7,1689.4L181.7,1708.6L182.1,1720.5L174.2,1740.6L166.3,1740.6L162.1,1744.7ZM225.5,1720.5L224.5,1694L223.6,1689.4L234.8,1664.4L244.6,1689.4L242.7,1700.4L242.7,1720.5L234.8,1740.6ZM276.6,1720.5L276.6,1703.1L273.9,1689.4L283.4,1665.2L292.8,1689.4L290.1,1703.1L290.1,1720.5L283.4,1737.9ZM358.8,1720.5L357.7,1693.6L357.3,1689.4L368.2,1663.3L371.7,1667.2L380.4,1667.2L389.1,1689.4L388.2,1700.4L388.2,1720.5L380.4,1740.6L372.5,1740.6L368.2,1744.7ZM417.5,1720.5L417.3,1690.7L417.1,1689.4L418.6,1684.8L422.4,1658.3L428.9,1641.7L435.4,1658.3L439.2,1684.8L440.7,1689.4L440.5,1690.7L440.2,1720.5L428.9,1746.1ZM501.9,1720.5L501.6,1714.3L498.4,1689.4L501.6,1681.1L507.9,1658.3L507.9,1643.4L504.2,1627.3L513.8,1602.7L523.4,1627.3L519.6,1643.4L519.6,1658.3L520.9,1676.5L524.8,1689.4L524.2,1693.7L523.5,1720.5L513.8,1745.5ZM552,1720.5L550.6,1690.5L550.4,1689.4L562.3,1663.6L574.1,1689.4L574,1690.5L572.6,1720.5L562.3,1742.4ZM293.1,1658.3L283.4,1642.3L277.5,1627.3L283.4,1612.3L289.2,1612.3L295.5,1601.7L305.5,1627.3L297.9,1652.1L297.9,1658.3L295.5,1664.6ZM214.1,1627.3L222.7,1605.3L229,1612.3L234.8,1599L244.8,1627.3L234.8,1642.3L229,1642.3L222.7,1649.2ZM250.6,1627.3L259.1,1615.8L263,1627.3L259.1,1637.3ZM360.4,1627.3L368.2,1607.1L376.1,1627.3L368.2,1647.4ZM554.6,1627.3L562.3,1607.6L573.1,1627.3L562.3,1648.3ZM425,1596.2L428.9,1586.2L432.8,1596.2L428.9,1606.2ZM234.6,1565.1L234.6,1564.4L231.3,1534.1L234.8,1524.9L238.8,1534.1L247,1553.3L254.1,1565.1L247,1579L236.6,1591.7L234.8,1571.4ZM364.7,1565.1L361.8,1548.7L368.2,1542.1L375.1,1547.5L371.8,1565.1L368.2,1574.3ZM505.9,1565.1L513.8,1545L521.6,1565.1L513.8,1585.3ZM542.3,1565.1L550.1,1551.7L560.7,1538.2L562.3,1537.9L567,1565.1L562.3,1577.4L554.7,1576.7L550.1,1576.7ZM421.6,1534.1L428.9,1515.4L436.2,1534.1L428.9,1552.7Z" fill="#08ff00" fill-rule="evenodd" stroke="#08ff00" stroke-width="0.6"/>
<path d="M610.8,1727L608.3,1720.5L608.3,1714L603.3,1689.4L610.8,1670.2L610.8,1689.4L610.8,1720.5ZM151.8,1720.5L152.1,1715L151.8,1689.4L159,1666.1L150,1673.9L146.1,1658.3L150,1630.4L151.2,1627.3L162.1,1607.3L166,1627.3L168.1,1642.8L165.1,1658.3L174.2,1666.1L181.3,1689.4L181.3,1707.7L181.7,1720.5L174.2,1739.8L166.7,1739.8L162.1,1744.2ZM225.9,1720.5L225,1695.1L223.8,1689.4L234.8,1664.9L244.4,1689.4L242.4,1701.2L242.4,1720.5L234.8,1739.8ZM277,1720.5L277,1704.2L274.1,1689.4L283.4,1665.7L292.6,1689.4L289.7,1704.2L289.7,1720.5L283.4,1736.8ZM359,1720.5L358,1694.2L357.4,1689.4L368.2,1663.7L372,1667.9L380.4,1667.9L388.8,1689.4L387.9,1701.2L387.9,1720.5L380.4,1739.8L372.8,1739.8L368.2,1744.2ZM417.7,1720.5L417.5,1691.2L417.2,1689.4L419.3,1682.9L422.8,1658.3L428.9,1642.8L434.9,1658.3L438.5,1682.9L440.6,1689.4L440.3,1691.2L440,1720.5L428.9,1745.7ZM502.1,1720.5L501.6,1708.8L499.1,1689.4L501.6,1682.9L508.4,1658.3L508.4,1644.6L504.4,1627.3L513.8,1603.2L523.1,1627.3L519.1,1644.6L519.1,1658.3L520.3,1675L524.7,1689.4L524,1694.2L523.3,1720.5L513.8,1745ZM552.3,1720.5L551,1691.5L550.6,1689.4L562.3,1664.1L573.9,1689.4L573.6,1691.5L572.2,1720.5L562.3,1741.7ZM293.8,1658.3L283.4,1641L278,1627.3L283.4,1613.6L288.7,1613.6L295.5,1602.1L305.3,1627.3L297.1,1654.1L297.1,1658.3L295.5,1662.6ZM214.4,1627.3L222.7,1606L229.5,1613.6L234.8,1601.4L243.9,1627.3L234.8,1641L229.5,1641L222.7,1648.5ZM252,1627.3L259.1,1617.7L262.4,1627.3L259.1,1635.6ZM360.7,1627.3L368.2,1608L375.8,1627.3L368.2,1646.5ZM554.9,1627.3L562.3,1608.5L572.6,1627.3L562.3,1647.3ZM146.7,1596.2L150,1579.5L157,1596.2L150,1623.4ZM425.6,1596.2L428.9,1587.8L432.1,1596.2L428.9,1604.6ZM238.2,1587.7L236.2,1565.1L234.8,1560.7L231.9,1534.1L234.8,1526.6L238.1,1534.1L247,1555L253,1565.1L247,1577ZM365.3,1565.1L363,1551.8L368.2,1546.5L373.8,1550.8L371.2,1565.1L368.2,1572.6ZM506.2,1565.1L513.8,1545.9L521.3,1565.1L513.8,1584.4ZM543.3,1565.1L550.1,1553.5L559.2,1541.8L562.3,1541.2L566.5,1565.1L562.3,1575.9L554,1575.1L550.1,1575.1ZM422,1534.1L428.9,1516.4L435.8,1534.1L428.9,1551.7Z" fill="#30ff00" fill-rule="evenodd" stroke="#30ff00" stroke-width="0.6"/>
<path d="M610.8,1725.2L609,1720.5L609,1715.8L603.6,1689.4L610.8,1671L610.8,1689.4L610.8,1720.5ZM152,1720.5L152.4,1714.3L152.1,1689.4L160.5,1662.5L150,1671.5L146.7,1658.3L150,1634.7L152.9,1627.3L162.1,1610.4L165.4,1627.3L167.2,1640.4L163.7,1658.3L174.2,1667.3L181,1689.4L181,1706.7L181.4,1720.5L174.2,1738.9L167,1738.9L162.1,1743.6ZM226.3,1720.5L225.4,1696.3L224,1689.4L234.8,1665.4L244.2,1689.4L242,1702.1L242,1720.5L234.8,1738.9ZM277.4,1720.5L277.4,1705.3L274.3,1689.4L283.4,1666.3L292.4,1689.4L289.3,1705.3L289.3,1720.5L283.4,1735.7ZM359.2,1720.5L358.2,1694.8L357.6,1689.4L368.2,1664.1L372.2,1668.6L380.4,1668.6L388.5,1689.4L387.5,1702.1L387.5,1720.5L380.4,1738.9L373.2,1738.9L368.2,1743.6ZM417.9,1720.5L417.7,1691.7L417.3,1689.4L420,1681.1L423.3,1658.3L428.9,1644L434.5,1658.3L437.8,1681.1L440.4,1689.4L440.1,1691.7L439.8,1720.5L428.9,1745.2ZM502.4,1720.5L501.6,1703.4L499.8,1689.4L501.6,1684.8L508.9,1658.3L508.9,1645.9L504.6,1627.3L513.8,1603.8L522.9,1627.3L518.6,1645.9L518.6,1658.3L519.7,1673.4L524.6,1689.4L523.8,1694.7L523.1,1720.5L513.8,1744.5ZM552.7,1720.5L551.4,1692.5L550.9,1689.4L562.3,1664.6L573.7,1689.4L573.2,1692.5L571.9,1720.5L562.3,1741ZM294.6,1658.3L283.4,1639.7L278.5,1627.3L283.4,1614.9L288.2,1614.9L295.5,1602.5L305.1,1627.3L296.4,1656.1L296.4,1658.3L295.5,1660.6ZM214.7,1627.3L222.7,1606.8L230,1614.9L234.8,1603.8L243.1,1627.3L234.8,1639.7L230,1639.7L222.7,1647.8ZM253.4,1627.3L259.1,1619.6L261.7,1627.3L259.1,1634ZM361.1,1627.3L368.2,1608.9L375.4,1627.3L368.2,1645.7ZM555.3,1627.3L562.3,1609.4L572.1,1627.3L562.3,1646.3ZM147.3,1596.2L150,1582.8L155.6,1596.2L150,1618ZM426.3,1596.2L428.9,1589.5L431.5,1596.2L428.9,1602.9ZM239.7,1583.8L238.1,1565.1L234.8,1554.5L232.6,1534.1L234.8,1528.4L237.3,1534.1L247,1556.8L252,1565.1L247,1574.9ZM366,1565.1L364.3,1554.9L368.2,1550.8L372.5,1554.1L370.5,1565.1L368.2,1570.9ZM506.6,1565.1L513.8,1546.7L520.9,1565.1L513.8,1583.5ZM544.4,1565.1L550.1,1555.3L557.8,1545.5L562.3,1544.6L565.9,1565.1L562.3,1574.4L553.4,1573.6L550.1,1573.6ZM422.4,1534.1L428.9,1517.4L435.4,1534.1L428.9,1550.7Z" fill="#58ff00" fill-rule="evenodd" stroke="#58ff00" stroke-width="0.6"/>
<path d="M610.8,1723.3L609.7,1720.5L609.7,1717.6L603.9,1689.4L610.8,1671.9L610.8,1689.4L610.8,1720.5ZM152.3,1720.5L152.7,1713.6L152.3,1689.4L161.9,1658.9L150,1669.1L147.3,1658.3L150,1639.1L154.6,1627.3L162.1,1613.5L164.8,1627.3L166.3,1638L162.3,1658.3L174.2,1668.5L180.6,1689.4L180.6,1705.8L181,1720.5L174.2,1738L167.4,1738L162.1,1743.1ZM226.7,1720.5L225.8,1697.4L224.2,1689.4L234.8,1665.9L244,1689.4L241.7,1703L241.7,1720.5L234.8,1738ZM277.8,1720.5L277.8,1706.4L274.5,1689.4L283.4,1666.8L292.2,1689.4L288.9,1706.4L288.9,1720.5L283.4,1734.6ZM359.4,1720.5L358.4,1695.4L357.8,1689.4L368.2,1664.5L372.5,1669.3L380.4,1669.3L388.2,1689.4L387.2,1703L387.2,1720.5L380.4,1738L373.5,1738L368.2,1743.1ZM418.1,1720.5L417.8,1692.2L417.4,1689.4L420.7,1679.3L423.7,1658.3L428.9,1645.1L434,1658.3L437.1,1679.3L440.3,1689.4L439.9,1692.2L439.7,1720.5L428.9,1744.8ZM502.6,1720.5L501.6,1698L500.5,1689.4L501.6,1686.6L509.4,1658.3L509.4,1647.2L504.8,1627.3L513.8,1604.3L522.7,1627.3L518.1,1647.2L518.1,1658.3L519,1671.9L524.5,1689.4L523.6,1695.3L523,1720.5L513.8,1744ZM553,1720.5L551.7,1693.5L551.1,1689.4L562.3,1665.1L573.4,1689.4L572.8,1693.5L571.5,1720.5L562.3,1740.3ZM295.4,1658.3L283.4,1638.4L279,1627.3L283.4,1616.1L287.7,1616.1L295.5,1603L305,1627.3L295.6,1658.1L295.6,1658.4L295.5,1658.6ZM215,1627.3L222.7,1607.5L230.5,1616.1L234.8,1606.2L242.2,1627.3L234.8,1638.4L230.5,1638.4L222.7,1647.1ZM254.9,1627.3L259.1,1621.6L261.1,1627.3L259.1,1632.3ZM361.4,1627.3L368.2,1609.8L375.1,1627.3L368.2,1644.8ZM555.7,1627.3L562.3,1610.3L571.6,1627.3L562.3,1645.4ZM148,1596.2L150,1586.2L154.2,1596.2L150,1612.5ZM426.9,1596.2L428.9,1591.2L430.8,1596.2L428.9,1601.2ZM241.2,1579.8L240,1565.1L234.8,1548.3L233.3,1534.1L234.8,1530.1L236.6,1534.1L247,1558.6L250.9,1565.1L247,1572.8ZM366.7,1565.1L365.5,1558L368.2,1555.2L371.2,1557.5L369.8,1565.1L368.2,1569.1ZM506.9,1565.1L513.8,1547.6L520.6,1565.1L513.8,1582.7ZM545.4,1565.1L550.1,1557.1L556.4,1549.1L562.3,1547.9L565.3,1565.1L562.3,1572.9L552.8,1572L550.1,1572ZM422.8,1534.1L428.9,1518.4L435,1534.1L428.9,1549.7Z" fill="#80ff00" fill-rule="evenodd" stroke="#80ff00" stroke-width="0.6"/>
<path d="M610.8,1721.5L610.4,1720.5L610.4,1719.5L604.3,1689.4L610.8,1672.8L610.8,1689.4L610.8,1720.5ZM152.5,1720.5L152.9,1712.9L152.6,1689.4L162.1,1659.1L162.7,1659.9L174.2,1669.7L180.2,1689.4L180.2,1704.8L180.7,1720.5L174.2,1737.1L167.7,1737.1L162.1,1742.5ZM227.1,1720.5L226.3,1698.6L224.5,1689.4L234.8,1666.4L243.8,1689.4L241.3,1703.8L241.3,1720.5L234.8,1737.1ZM278.3,1720.5L278.3,1707.4L274.7,1689.4L283.4,1667.4L292,1689.4L288.4,1707.4L288.4,1720.5L283.4,1733.5ZM359.6,1720.5L358.7,1696L357.9,1689.4L368.2,1664.9L372.8,1670L380.4,1670L388,1689.4L386.9,1703.8L386.9,1720.5L380.4,1737.1L373.9,1737.1L368.2,1742.5ZM418.3,1720.5L418,1692.7L417.6,1689.4L421.4,1677.5L424.2,1658.3L428.9,1646.2L433.6,1658.3L436.4,1677.5L440.2,1689.4L439.7,1692.7L439.5,1720.5L428.9,1744.4ZM502.8,1720.5L501.6,1692.5L501.2,1689.4L501.6,1688.4L509.9,1658.3L509.9,1648.5L505,1627.3L513.8,1604.8L522.5,1627.3L517.6,1648.5L517.6,1658.3L518.4,1670.3L524.3,1689.4L523.4,1695.8L522.8,1720.5L513.8,1743.6ZM553.3,1720.5L552.1,1694.5L551.3,1689.4L562.3,1665.6L573.2,1689.4L572.4,1694.5L571.2,1720.5L562.3,1739.5ZM147.9,1658.3L150,1643.4L156.3,1627.3L162.1,1616.6L164.2,1627.3L165.3,1635.6L162.1,1652.1L159.7,1658.3L150,1666.6ZM215.3,1627.3L222.7,1608.2L231,1617.4L234.8,1608.6L241.4,1627.3L234.8,1637.1L231,1637.1L222.7,1646.3ZM256.3,1627.3L259.1,1623.5L260.4,1627.3L259.1,1630.6ZM279.5,1627.3L283.4,1617.4L287.2,1617.4L295.5,1603.4L304.8,1627.3L295.5,1657.9L294.3,1655.2L283.4,1637.1ZM361.7,1627.3L368.2,1610.6L374.7,1627.3L368.2,1643.9ZM556,1627.3L562.3,1611.2L571.1,1627.3L562.3,1644.4ZM148.6,1596.2L150,1589.5L152.8,1596.2L150,1607.1ZM427.6,1596.2L428.9,1592.9L430.2,1596.2L428.9,1599.6ZM242.8,1575.9L241.8,1565.1L234.8,1542.1L234,1534.1L234.8,1531.8L235.8,1534.1L247,1560.3L249.9,1565.1L247,1570.8ZM367.4,1565.1L366.7,1561.1L368.2,1559.5L369.9,1560.8L369.1,1565.1L368.2,1567.4ZM507.3,1565.1L513.8,1548.5L520.3,1565.1L513.8,1581.8ZM546.5,1565.1L550.1,1558.9L555,1552.7L562.3,1551.3L564.7,1565.1L562.3,1571.4L552.2,1570.5L550.1,1570.5ZM423.1,1534.1L428.9,1519.4L434.6,1534.1L428.9,1548.8Z" fill="#a7ff00" fill-rule="evenodd" stroke="#a7ff00" stroke-width="0.6"/>
<path d="M610.8,1719.8L604.6,1689.4L610.8,1673.6L610.8,1689.4ZM152.8,1720.5L153.2,1712.2L152.9,1689.4L162.1,1660L163.4,1661.7L174.2,1671L179.8,1689.4L179.8,1703.9L180.4,1720.5L174.2,1736.3L168,1736.3L162.1,1742ZM227.5,1720.5L226.7,1699.7L224.7,1689.4L234.8,1666.8L243.7,1689.4L241,1704.7L241,1720.5L234.8,1736.3ZM278.7,1720.5L278.7,1708.5L275,1689.4L283.4,1667.9L291.7,1689.4L288,1708.5L288,1720.5L283.4,1732.5ZM359.8,1720.5L358.9,1696.6L358.1,1689.4L368.2,1665.3L373.1,1670.7L380.4,1670.7L387.7,1689.4L386.5,1704.7L386.5,1720.5L380.4,1736.3L374.2,1736.3L368.2,1742ZM418.5,1720.5L418.2,1693.2L417.7,1689.4L422.1,1675.7L424.6,1658.3L428.9,1647.4L433.2,1658.3L435.6,1675.7L440.1,1689.4L439.5,1693.2L439.3,1720.5L428.9,1743.9ZM503,1720.5L501.7,1689.7L501.7,1689.4L502.4,1687.6L510.4,1658.3L510.4,1649.8L505.2,1627.3L513.8,1605.3L522.3,1627.3L517.1,1649.8L517.1,1658.3L517.8,1668.8L524.2,1689.4L523.2,1696.3L522.6,1720.5L513.8,1743.1ZM553.7,1720.5L552.5,1695.5L551.6,1689.4L562.3,1666.1L573,1689.4L572,1695.5L570.9,1720.5L562.3,1738.8ZM148.5,1658.3L150,1647.8L158,1627.3L162.1,1619.7L163.6,1627.3L164.4,1633.1L162.1,1644.9L156.8,1658.3L150,1664.2ZM215.6,1627.3L222.7,1608.9L231.5,1618.7L234.8,1611.1L240.5,1627.3L234.8,1635.9L231.5,1635.9L222.7,1645.6ZM257.7,1627.3L259.1,1625.4L259.8,1627.3L259.1,1629ZM280,1627.3L283.4,1618.7L286.7,1618.7L295.5,1603.9L304.6,1627.3L295.5,1657.3L292.9,1651.6L283.4,1635.9ZM362.1,1627.3L368.2,1611.5L374.4,1627.3L368.2,1643.1ZM556.4,1627.3L562.3,1612.1L570.6,1627.3L562.3,1643.4ZM149.3,1596.2L150,1592.9L151.4,1596.2L150,1601.6ZM428.2,1596.2L428.9,1594.5L429.5,1596.2L428.9,1597.9ZM244.3,1571.9L243.7,1565.1L234.8,1535.8L234.6,1534.1L234.8,1533.6L235.1,1534.1L247,1562.1L248.8,1565.1L247,1568.7ZM368,1565.1L367.9,1564.3L368.2,1563.9L368.6,1564.2L368.4,1565.1L368.2,1565.6ZM507.6,1565.1L513.8,1549.4L519.9,1565.1L513.8,1580.9ZM547.6,1565.1L550.1,1560.7L553.6,1556.3L562.3,1554.6L564.1,1565.1L562.3,1569.9L551.6,1568.9L550.1,1568.9ZM423.5,1534.1L428.9,1520.4L434.2,1534.1L428.9,1547.8Z" fill="#cfff00" fill-rule="evenodd" stroke="#cfff00" stroke-width="0.6"/>
<path d="M610.8,1718.1L605,1689.4L610.8,1674.5L610.8,1689.4ZM153,1720.5L153.5,1711.5L153.2,1689.4L162.1,1660.9L164.1,1663.5L174.2,1672.2L179.5,1689.4L179.5,1702.9L180,1720.5L174.2,1735.4L168.4,1735.4L162.1,1741.5ZM227.9,1720.5L227.2,1700.9L224.9,1689.4L234.8,1667.3L243.5,1689.4L240.7,1705.6L240.7,1720.5L234.8,1735.4ZM279.1,1720.5L279.1,1709.6L275.2,1689.4L283.4,1668.4L291.5,1689.4L287.6,1709.6L287.6,1720.5L283.4,1731.4ZM360.1,1720.5L359.1,1697.2L358.3,1689.4L368.2,1665.7L373.3,1671.4L380.4,1671.4L387.4,1689.4L386.2,1705.6L386.2,1720.5L380.4,1735.4L374.5,1735.4L368.2,1741.5ZM418.7,1720.5L418.4,1693.8L417.8,1689.4L422.8,1673.9L425,1658.3L428.9,1648.5L432.7,1658.3L434.9,1673.9L439.9,1689.4L439.3,1693.8L439.1,1720.5L428.9,1743.5ZM503.3,1720.5L502,1690.4L501.8,1689.4L504.1,1683.2L510.9,1658.3L510.9,1651L505.4,1627.3L513.8,1605.8L522.1,1627.3L516.6,1651L516.6,1658.3L517.2,1667.2L524.1,1689.4L523,1696.8L522.4,1720.5L513.8,1742.6ZM554,1720.5L552.9,1696.5L551.8,1689.4L562.3,1666.6L572.8,1689.4L571.6,1696.5L570.5,1720.5L562.3,1738.1ZM149.1,1658.3L150,1652.1L159.7,1627.3L162.1,1622.8L162.9,1627.3L163.4,1630.7L162.1,1637.6L154,1658.4L150,1661.8ZM215.8,1627.3L222.7,1609.7L232,1620L234.8,1613.5L239.7,1627.3L234.8,1634.6L232,1634.6L222.7,1644.9ZM259.1,1627.3M280.5,1627.3L283.4,1620L286.2,1620L295.5,1604.3L304.5,1627.3L295.5,1656.8L291.4,1648L283.4,1634.6ZM362.4,1627.3L368.2,1612.4L374.1,1627.3L368.2,1642.2ZM556.7,1627.3L562.3,1613L570.1,1627.3L562.3,1642.5ZM150,1596.2M428.9,1596.2M245.9,1568L245.6,1565.1L240.9,1549.6L247,1563.9L247.7,1565.1L247,1566.6ZM507.9,1565.1L513.8,1550.2L519.6,1565.1L513.8,1580.1ZM548.6,1565.1L550.1,1562.6L552.2,1560L562.3,1558L563.5,1565.1L562.3,1568.4L551,1567.4L550.1,1567.4ZM423.9,1534.1L428.9,1521.4L433.8,1534.1L428.9,1546.8Z" fill="#f7ff00" fill-rule="evenodd" stroke="#f7ff00" stroke-width="0.6"/>
<path d="M610.8,1716.4L605.3,1689.4L610.8,1675.4L610.8,1689.4ZM153.2,1720.5L153.7,1710.8L153.5,1689.4L162.1,1661.8L164.8,1665.3L174.2,1673.4L179.1,1689.4L179.1,1702L179.7,1720.5L174.2,1734.5L168.7,1734.5L162.1,1740.9ZM228.3,1720.5L227.6,1702L225.1,1689.4L234.8,1667.8L243.3,1689.4L240.3,1706.4L240.3,1720.5L234.8,1734.5ZM279.5,1720.5L279.5,1710.7L275.4,1689.4L283.4,1669L291.3,1689.4L287.2,1710.7L287.2,1720.5L283.4,1730.3ZM360.3,1720.5L359.4,1697.8L358.4,1689.4L368.2,1666.1L373.6,1672.1L380.4,1672.1L387.1,1689.4L385.8,1706.4L385.8,1720.5L380.4,1734.5L374.9,1734.5L368.2,1740.9ZM418.9,1720.5L418.6,1694.3L417.9,1689.4L423.5,1672.1L425.5,1658.4L428.9,1649.7L432.3,1658.4L434.2,1672.1L439.8,1689.4L439.1,1694.3L438.9,1720.5L428.9,1743ZM503.5,1720.5L502.3,1691L502,1689.4L505.8,1678.9L511.4,1658.3L511.4,1652.3L505.6,1627.3L513.8,1606.3L521.9,1627.3L516.1,1652.3L516.1,1658.3L516.6,1665.7L524,1689.4L522.8,1697.3L522.2,1720.5L513.8,1742.1ZM554.4,1720.5L553.3,1697.5L552,1689.4L562.3,1667.1L572.5,1689.4L571.3,1697.5L570.2,1720.5L562.3,1737.4ZM149.7,1658.3L150,1656.5L161.4,1627.3L162.1,1625.9L162.3,1627.3L162.5,1628.3L162.1,1630.4L151.2,1658.3L150,1659.4ZM216.1,1627.3L222.7,1610.4L232.5,1621.2L234.8,1615.9L238.8,1627.3L234.8,1633.3L232.5,1633.3L222.7,1644.2ZM281,1627.3L283.4,1621.2L285.7,1621.2L295.5,1604.7L304.3,1627.3L295.5,1656.2L290,1644.4L283.4,1633.3ZM362.8,1627.3L368.2,1613.2L373.7,1627.3L368.2,1641.3ZM557.1,1627.3L562.3,1613.9L569.6,1627.3L562.3,1641.5ZM508.3,1565.1L513.8,1551.1L519.2,1565.1L513.8,1579.2ZM549.7,1565.1L550.1,1564.4L550.8,1563.6L562.3,1561.3L562.9,1565.1L562.3,1566.9L550.4,1565.8L550.1,1565.8ZM424.3,1534.1L428.9,1522.3L433.5,1534.1L428.9,1545.8Z" fill="#ffe000" fill-rule="evenodd" stroke="#ffe000" stroke-width="0.6"/>
<path d="M610.8,1714.8L605.6,1689.4L610.8,1676.2L610.8,1689.4ZM153.5,1720.5L154,1710.1L153.8,1689.4L162.1,1662.8L165.5,1667.2L174.2,1674.6L178.7,1689.4L178.7,1701L179.3,1720.5L174.2,1733.7L169.1,1733.7L162.1,1740.4ZM228.7,1720.5L228.1,1703.2L225.3,1689.4L234.8,1668.3L243.1,1689.4L240,1707.3L240,1720.5L234.8,1733.7ZM280,1720.5L280,1711.8L275.6,1689.4L283.4,1669.5L291.1,1689.4L286.7,1711.8L286.7,1720.5L283.4,1729.2ZM360.5,1720.5L359.6,1698.4L358.6,1689.4L368.2,1666.5L373.9,1672.8L380.4,1672.8L386.9,1689.4L385.5,1707.3L385.5,1720.5L380.4,1733.7L375.2,1733.7L368.2,1740.4ZM419.1,1720.5L418.8,1694.8L418.1,1689.4L424.2,1670.3L425.9,1658.3L428.9,1650.8L431.8,1658.3L433.5,1670.3L439.7,1689.4L438.9,1694.8L438.7,1720.5L428.9,1742.6ZM503.7,1720.5L502.5,1691.7L502.1,1689.4L507.5,1674.5L511.9,1658.3L511.9,1653.6L505.8,1627.3L513.8,1606.9L521.7,1627.3L515.6,1653.6L515.6,1658.3L516,1664.1L523.8,1689.4L522.6,1697.9L522,1720.5L513.8,1741.6ZM554.7,1720.5L553.7,1698.5L552.2,1689.4L562.3,1667.6L572.3,1689.4L570.9,1698.5L569.8,1720.5L562.3,1736.6ZM216.4,1627.3L222.7,1611.1L233,1622.5L234.8,1618.3L238,1627.3L234.8,1632L233,1632L222.7,1643.4ZM281.5,1627.3L283.4,1622.5L285.2,1622.5L295.5,1605.2L304.1,1627.3L295.5,1655.6L288.6,1640.7L283.4,1632ZM363.1,1627.3L368.2,1614.1L373.4,1627.3L368.2,1640.5ZM557.4,1627.3L562.3,1614.9L569.1,1627.3L562.3,1640.5ZM508.6,1565.1L513.8,1552L518.9,1565.1L513.8,1578.3ZM559.8,1565.1L562.3,1564.7L562.4,1565.1L562.3,1565.4ZM424.7,1534.1L428.9,1523.3L433.1,1534.1L428.9,1544.8Z" fill="#ffb800" fill-rule="evenodd" stroke="#ffb800" stroke-width="0.6"/>
<path d="M610.8,1713.1L606,1689.4L610.8,1677.1L610.8,1689.4ZM153.7,1720.5L154.3,1709.4L154,1689.4L162.1,1663.7L166.2,1669L174.2,1675.8L178.4,1689.4L178.4,1700.1L179,1720.5L174.2,1732.8L169.4,1732.8L162.1,1739.8ZM229.1,1720.5L228.5,1704.3L225.5,1689.4L234.8,1668.8L242.9,1689.4L239.6,1708.2L239.6,1720.5L234.8,1732.8ZM280.4,1720.5L280.4,1712.9L275.8,1689.4L283.4,1670.1L290.9,1689.4L286.3,1712.9L286.3,1720.5L283.4,1728.1ZM360.7,1720.5L359.9,1699L358.8,1689.4L368.2,1666.9L374.1,1673.5L380.4,1673.5L386.6,1689.4L385.2,1708.2L385.2,1720.5L380.4,1732.8L375.6,1732.8L368.2,1739.8ZM419.3,1720.5L419,1695.3L418.2,1689.4L424.9,1668.4L426.4,1658.3L428.9,1652L431.4,1658.3L432.8,1668.4L439.6,1689.4L438.7,1695.3L438.5,1720.5L428.9,1742.2ZM504,1720.5L502.8,1692.3L502.3,1689.4L509.2,1670.2L512.4,1658.3L512.4,1654.9L506,1627.3L513.8,1607.4L521.5,1627.3L515.1,1654.9L515.1,1658.3L515.4,1662.6L523.7,1689.4L522.4,1698.4L521.8,1720.5L513.8,1741.1ZM555,1720.5L554.1,1699.4L552.5,1689.4L562.3,1668.1L572.1,1689.4L570.5,1699.4L569.5,1720.5L562.3,1735.9ZM216.7,1627.3L222.7,1611.8L233.5,1623.8L234.8,1620.7L237.1,1627.3L234.8,1630.8L233.5,1630.8L222.7,1642.7ZM282,1627.3L283.4,1623.8L284.7,1623.8L295.5,1605.6L303.9,1627.3L295.5,1655.1L287.2,1637.1L283.4,1630.8ZM363.4,1627.3L368.2,1615L373,1627.3L368.2,1639.6ZM557.8,1627.3L562.3,1615.8L568.6,1627.3L562.3,1639.6ZM509,1565.1L513.8,1552.8L518.6,1565.1L513.8,1577.4ZM425.1,1534.1L428.9,1524.3L432.7,1534.1L428.9,1543.8Z" fill="#ff9100" fill-rule="evenodd" stroke="#ff9100" stroke-width="0.6"/>
<path d="M610.8,1711.4L606.3,1689.4L610.8,1678L610.8,1689.4ZM153.9,1720.5L154.6,1708.7L154.3,1689.4L162.1,1664.6L166.9,1670.8L174.2,1677L178,1689.4L178,1699.1L178.7,1720.5L174.2,1731.9L169.7,1731.9L162.1,1739.3ZM229.5,1720.5L229,1705.4L225.8,1689.4L234.8,1669.3L242.7,1689.4L239.3,1709.1L239.3,1720.5L234.8,1731.9ZM280.8,1720.5L280.8,1714L276,1689.4L283.4,1670.6L290.7,1689.4L285.9,1714L285.9,1720.5L283.4,1727ZM360.9,1720.5L360.1,1699.6L358.9,1689.4L368.2,1667.3L374.4,1674.2L380.4,1674.2L386.3,1689.4L384.8,1709.1L384.8,1720.5L380.4,1731.9L375.9,1731.9L368.2,1739.3ZM419.4,1720.5L419.2,1695.8L418.3,1689.4L425.6,1666.6L426.8,1658.3L428.9,1653.1L430.9,1658.3L432.1,1666.6L439.4,1689.4L438.5,1695.8L438.3,1720.5L428.9,1741.7ZM504.2,1720.5L503,1693L502.4,1689.4L510.9,1665.8L512.9,1658.3L512.9,1656.2L506.2,1627.3L513.8,1607.9L521.3,1627.3L514.6,1656.2L514.6,1658.3L514.8,1661L523.6,1689.4L522.2,1698.9L521.6,1720.5L513.8,1740.7ZM555.4,1720.5L554.4,1700.4L552.7,1689.4L562.3,1668.6L571.8,1689.4L570.1,1700.4L569.2,1720.5L562.3,1735.2ZM217,1627.3L222.7,1612.6L234,1625.1L234.8,1623.1L236.3,1627.3L234.8,1629.5L234,1629.5L222.7,1642ZM282.5,1627.3L283.4,1625.1L284.2,1625.1L295.5,1606L303.8,1627.3L295.5,1654.5L285.8,1633.5L283.4,1629.5ZM363.8,1627.3L368.2,1615.8L372.7,1627.3L368.2,1638.7ZM558.1,1627.3L562.3,1616.7L568.1,1627.3L562.3,1638.6ZM509.3,1565.1L513.8,1553.7L518.2,1565.1L513.8,1576.6ZM425.5,1534.1L428.9,1525.3L432.3,1534.1L428.9,1542.8Z" fill="#ff6900" fill-rule="evenodd" stroke="#ff6900" stroke-width="0.6"/>
<path d="M610.8,1709.7L606.7,1689.4L610.8,1678.9L610.8,1689.4ZM154.2,1720.5L154.8,1708L154.6,1689.4L162.1,1665.5L167.6,1672.6L174.2,1678.2L177.6,1689.4L177.6,1698.2L178.3,1720.5L174.2,1731.1L170.1,1731.1L162.1,1738.7ZM229.9,1720.5L229.4,1706.6L226,1689.4L234.8,1669.7L242.5,1689.4L239,1709.9L239,1720.5L234.8,1731.1ZM281.2,1720.5L281.2,1715.1L276.2,1689.4L283.4,1671.2L290.5,1689.4L285.5,1715.1L285.5,1720.5L283.4,1725.9ZM361.1,1720.5L360.3,1700.2L359.1,1689.4L368.2,1667.7L374.7,1674.9L380.4,1674.9L386,1689.4L384.5,1709.9L384.5,1720.5L380.4,1731.1L376.2,1731.1L368.2,1738.7ZM419.6,1720.5L419.4,1696.3L418.4,1689.4L426.3,1664.8L427.3,1658.3L428.9,1654.3L430.5,1658.3L431.4,1664.8L439.3,1689.4L438.3,1696.3L438.1,1720.5L428.9,1741.3ZM504.4,1720.5L503.3,1693.7L502.6,1689.4L512.6,1661.5L513.4,1658.3L513.4,1657.4L506.4,1627.3L513.8,1608.4L521.1,1627.3L514.1,1657.4L514.1,1658.3L514.2,1659.5L523.4,1689.4L522,1699.4L521.4,1720.5L513.8,1740.2ZM555.7,1720.5L554.8,1701.4L552.9,1689.4L562.3,1669.1L571.6,1689.4L569.7,1701.4L568.8,1720.5L562.3,1734.5ZM217.3,1627.3L222.7,1613.3L234.5,1626.4L234.8,1625.6L235.4,1627.3L234.8,1628.2L234.5,1628.2L222.7,1641.3ZM283,1627.3L283.4,1626.4L283.7,1626.4L295.5,1606.5L303.6,1627.3L295.5,1654L284.4,1629.9L283.4,1628.2ZM364.1,1627.3L368.2,1616.7L372.4,1627.3L368.2,1637.8ZM558.5,1627.3L562.3,1617.6L567.6,1627.3L562.3,1637.6ZM509.6,1565.1L513.8,1554.6L517.9,1565.1L513.8,1575.7ZM425.8,1534.1L428.9,1526.3L431.9,1534.1L428.9,1541.8Z" fill="#ff4100" fill-rule="evenodd" stroke="#ff4100" stroke-width="0.6"/>
<path d="M610.8,1708.1L607,1689.4L610.8,1679.7L610.8,1689.4ZM154.4,1720.5L155.1,1707.3L154.9,1689.4L162.1,1666.4L168.3,1674.4L174.2,1679.4L177.3,1689.4L177.3,1697.3L178,1720.5L174.2,1730.2L170.4,1730.2L162.1,1738.2ZM230.3,1720.5L229.9,1707.7L226.2,1689.4L234.8,1670.2L242.3,1689.4L238.6,1710.8L238.6,1720.5L234.8,1730.2ZM281.7,1720.5L281.7,1716.1L276.4,1689.4L283.4,1671.7L290.3,1689.4L285,1716.1L285,1720.5L283.4,1724.8ZM361.3,1720.5L360.6,1700.8L359.3,1689.4L368.2,1668.1L375,1675.6L380.4,1675.6L385.8,1689.4L384.2,1710.8L384.2,1720.5L380.4,1730.2L376.6,1730.2L368.2,1738.2ZM419.8,1720.5L419.6,1696.8L418.6,1689.4L427.1,1663L427.7,1658.3L428.9,1655.4L430,1658.3L430.7,1663L439.2,1689.4L438.1,1696.8L437.9,1720.5L428.9,1740.9ZM504.7,1720.5L503.5,1694.3L502.7,1689.4L513.8,1658.5L523.3,1689.4L521.8,1699.9L521.3,1720.5L513.8,1739.7ZM556.1,1720.5L555.2,1702.4L553.2,1689.4L562.3,1669.6L571.4,1689.4L569.3,1702.4L568.5,1720.5L562.3,1733.7ZM217.5,1627.3L222.7,1614L234.7,1627.3L222.7,1640.5ZM283.4,1627.3L295.5,1606.9L303.4,1627.3L295.5,1653.4ZM364.5,1627.3L368.2,1617.6L372,1627.3L368.2,1637ZM506.6,1627.3L513.8,1608.9L520.9,1627.3L513.8,1658.1ZM558.8,1627.3L562.3,1618.5L567.1,1627.3L562.3,1636.7ZM510,1565.1L513.8,1555.4L517.5,1565.1L513.8,1574.8ZM426.2,1534.1L428.9,1527.3L431.5,1534.1L428.9,1540.8Z" fill="#ff0000" fill-rule="evenodd" stroke="#ff0000" stroke-width="0.6"/>
</g>
<rect x="125.7" y="1347.6" width="486.9" height="400" fill="none" stroke="#101030" stroke-width="1.3"/>
<line x1="116.7" y1="1347.7" x2="125.7" y2="1347.7" stroke="#222" stroke-width="1.4"/>
<text x="99.4" y="1354.5" font-size="33.5" text-anchor="middle">15</text>
<line x1="120.7" y1="1425.3" x2="125.7" y2="1425.3" stroke="#222" stroke-width="1.4"/>
<line x1="116.4" y1="1503" x2="125.7" y2="1503" stroke="#222" stroke-width="1.4"/>
<text x="99.4" y="1509.8" font-size="33.5" text-anchor="middle">10</text>
<line x1="120.7" y1="1580.7" x2="125.7" y2="1580.7" stroke="#222" stroke-width="1.4"/>
<line x1="116.4" y1="1658.3" x2="125.7" y2="1658.3" stroke="#222" stroke-width="1.4"/>
<text x="99.4" y="1665.1" font-size="33.5" text-anchor="middle">5</text>
<text transform="translate(64 1581) rotate(-90)" font-size="33.5" text-anchor="middle" letter-spacing="1.2">Z(Å)</text>
<text x="287.5" y="1395.1" font-size="33.5" font-weight="bold" fill="#fff">TFSI<tspan dy="-13" font-size="20">-</tspan><tspan dy="13"> @ a-CNT</tspan></text>
<rect x="749.4" y="1344.7" width="485.2" height="360.3" fill="#0000ff"/>
<g clip-path="url(#cg2)">
<path d="M749.4,1593.3L761,1593.3L761.5,1593.3L773.1,1623.1L761.5,1653L761,1653L761.3,1654.2L749.4,1684.8L749.4,1654.2L749.4,1623.1ZM749.4,1469L761,1469L761.5,1469L773.1,1498.8L761.5,1528.6L749.9,1528.6L749.4,1528.6L749.4,1498.8ZM1232.8,1621.8L1221.2,1592L1232.8,1562.3L1232.8,1592ZM1232.8,1744.5L1221.9,1716.4L1221.9,1688.2L1221.2,1685.3L1232.8,1655.5L1232.8,1685.3L1232.8,1716.4ZM749.9,1716.4L761.5,1686.6L773,1716.4L761.5,1746.1ZM798.3,1716.4L809.8,1686.6L821.4,1716.4L809.8,1746.1ZM858.4,1716.4L870.2,1685.9L870.6,1685.3L882.3,1655L894.1,1685.3L894.4,1686.6L906,1716.4L894.4,1746.1L893.8,1746L882.3,1746L870.8,1746L870.2,1746.8ZM1003.4,1716.4L1003.4,1715.9L1003.4,1685.3L1015.3,1654.7L1027.2,1654.7L1027.3,1654.7L1039.2,1685.3L1039.2,1685.8L1039.2,1716.4L1027.3,1746.9L1015.5,1746.9L1015.3,1746.9ZM1148.3,1716.4L1148.3,1716L1148.3,1685.3L1148.6,1684.3L1148.6,1654.2L1160.3,1624.1L1172,1654.2L1172,1684.3L1172.2,1685.3L1172.2,1685.6L1172.2,1716.4L1160.3,1747.1ZM810.3,1623.1L821.9,1593.4L833.5,1623.1L821.9,1652.9ZM882.9,1623.1L894.4,1593.4L906,1623.1L894.4,1652.9ZM943.3,1623.1L954.8,1593.4L966.4,1623.1L954.8,1652.9ZM1088.3,1623.1L1099.9,1593.4L1111.4,1623.1L1099.9,1652.9ZM774.1,1592L785.7,1562.3L797.2,1592L785.7,1621.8ZM834.5,1592L846.1,1562.3L857.6,1592L846.1,1621.8ZM870.5,1592L870.6,1591.2L870.6,1561L882.3,1530.7L894.1,1530.7L894.4,1530.5L906.2,1561L894.4,1591.4L894.1,1592L882.3,1622.4ZM907,1592L918.6,1562.3L930.1,1592L918.6,1621.8ZM931.2,1592L942.8,1562.3L954.3,1592L942.8,1621.8ZM1003.3,1592L1015.3,1561.3L1015.7,1561L1027.3,1531L1039,1561L1039,1590.9L1039.3,1592L1027.3,1622.7L1015.4,1622.7L1015.3,1622.8ZM1076.2,1592L1087.8,1562.3L1099.3,1592L1087.8,1621.8ZM1136.3,1592L1148.2,1561.5L1148.7,1562.2L1160.3,1562.2L1171.9,1562.2L1172.4,1562.1L1184,1592L1172.4,1622L1171.9,1621.9L1160.3,1621.9L1148.7,1621.9L1148.2,1622.6ZM798.3,1561L809.8,1531.2L821.4,1561L809.8,1590.7ZM1124.5,1561L1136.1,1531.2L1147.7,1561L1136.1,1590.7ZM1209.1,1561L1220.7,1531.2L1232.3,1561L1220.7,1590.7Z" fill="#001aff" fill-rule="evenodd" stroke="#001aff" stroke-width="0.6"/>
<path d="M749.4,1593.6L760.9,1593.6L761.5,1593.6L773,1623.1L761.5,1652.6L760.9,1652.6L761.2,1654.2L749.4,1684.6L749.4,1654.2L749.4,1623.1ZM749.4,1469.3L760.9,1469.3L761.5,1469.3L772.9,1498.8L761.5,1528.3L750,1528.3L749.4,1528.3L749.4,1498.8ZM1232.8,1621.4L1221.4,1592L1232.8,1562.7L1232.8,1592ZM1232.8,1743.7L1222.2,1716.4L1222.2,1689L1221.4,1685.3L1232.8,1655.9L1232.8,1685.3L1232.8,1716.4ZM750.1,1716.4L761.5,1687L772.9,1716.4L761.5,1745.7ZM798.4,1716.4L809.8,1687L821.2,1716.4L809.8,1745.7ZM858.5,1716.4L870.2,1686L870.7,1685.3L882.3,1655.3L894,1685.3L894.4,1687L905.8,1716.4L894.4,1745.7L893.7,1745.6L882.3,1745.6L871,1745.6L870.2,1746.7ZM1003.4,1716.4L1003.4,1715.7L1003.4,1685.3L1015.3,1654.8L1027.1,1654.8L1027.3,1654.8L1039.2,1685.3L1039.2,1685.9L1039.2,1716.4L1027.3,1746.8L1015.5,1746.8L1015.3,1746.8ZM1148.4,1716.4L1148.4,1715.9L1148.4,1685.3L1148.7,1684L1148.7,1654.2L1160.3,1624.4L1171.9,1654.2L1171.9,1684L1172.2,1685.3L1172.2,1685.7L1172.2,1716.4L1160.3,1747ZM810.5,1623.1L821.9,1593.7L833.3,1623.1L821.9,1652.5ZM883,1623.1L894.4,1593.7L905.8,1623.1L894.4,1652.5ZM943.4,1623.1L954.8,1593.7L966.3,1623.1L954.8,1652.5ZM1088.4,1623.1L1099.9,1593.7L1111.3,1623.1L1099.9,1652.5ZM774.2,1592L785.7,1562.7L797.1,1592L785.7,1621.4ZM834.7,1592L846.1,1562.7L857.5,1592L846.1,1621.4ZM870.6,1592L870.7,1591L870.7,1561L882.3,1530.9L894,1530.9L894.4,1530.7L906.2,1561L894.4,1591.2L894.1,1592L882.3,1622.2ZM907.2,1592L918.6,1562.7L930,1592L918.6,1621.4ZM931.3,1592L942.8,1562.7L954.2,1592L942.8,1621.4ZM1003.3,1592L1015.3,1561.4L1015.8,1561L1027.3,1531.3L1038.9,1561L1038.9,1590.6L1039.2,1592L1027.3,1622.6L1015.5,1622.6L1015.3,1622.7ZM1076.3,1592L1087.8,1562.7L1099.2,1592L1087.8,1621.4ZM1136.4,1592L1148.2,1561.6L1148.8,1562.5L1160.3,1562.5L1171.8,1562.5L1172.4,1562.4L1183.9,1592L1172.4,1621.7L1171.8,1621.6L1160.3,1621.6L1148.8,1621.6L1148.2,1622.5ZM798.4,1561L809.8,1531.6L821.2,1561L809.8,1590.3ZM1124.7,1561L1136.1,1531.6L1147.5,1561L1136.1,1590.3ZM1209.3,1561L1220.7,1531.6L1232.1,1561L1220.7,1590.3Z" fill="#0040ff" fill-rule="evenodd" stroke="#0040ff" stroke-width="0.6"/>
<path d="M749.4,1593.9L760.8,1593.9L761.5,1593.9L772.8,1623.1L761.5,1652.3L760.8,1652.3L761.2,1654.2L749.4,1684.5L749.4,1654.2L749.4,1623.1ZM749.4,1469.7L760.7,1469.7L761.5,1469.7L772.8,1498.8L761.5,1527.9L750.2,1527.9L749.4,1527.9L749.4,1498.8ZM1232.8,1621.1L1221.5,1592L1232.8,1563L1232.8,1592ZM1232.8,1742.9L1222.5,1716.4L1222.5,1689.8L1221.5,1685.3L1232.8,1656.2L1232.8,1685.3L1232.8,1716.4ZM750.2,1716.4L761.5,1687.3L772.8,1716.4L761.5,1745.4ZM798.5,1716.4L809.8,1687.3L821.1,1716.4L809.8,1745.4ZM858.5,1716.4L870.2,1686.2L870.7,1685.3L882.3,1655.5L893.9,1685.3L894.4,1687.3L905.7,1716.4L894.4,1745.4L893.5,1745.2L882.3,1745.2L871.1,1745.2L870.2,1746.5ZM1003.5,1716.4L1003.5,1715.6L1003.5,1685.3L1015.3,1655L1027.1,1655L1027.3,1655L1039.1,1685.3L1039.1,1686L1039.1,1716.4L1027.3,1746.7L1015.6,1746.7L1015.3,1746.7ZM1148.4,1716.4L1148.4,1715.8L1148.4,1685.3L1148.8,1683.8L1148.8,1654.2L1160.3,1624.6L1171.8,1654.2L1171.8,1683.8L1172.1,1685.3L1172.1,1685.8L1172.1,1716.4L1160.3,1746.9ZM810.6,1623.1L821.9,1594.1L833.2,1623.1L821.9,1652.2ZM883.1,1623.1L894.4,1594.1L905.7,1623.1L894.4,1652.2ZM943.6,1623.1L954.8,1594.1L966.1,1623.1L954.8,1652.2ZM1088.6,1623.1L1099.9,1594.1L1111.1,1623.1L1099.9,1652.2ZM774.4,1592L785.7,1563L796.9,1592L785.7,1621.1ZM834.8,1592L846.1,1563L857.4,1592L846.1,1621.1ZM870.7,1592L870.7,1590.8L870.7,1561L882.3,1531.2L893.9,1531.2L894.4,1530.9L906.1,1561L894.4,1591L894,1592L882.3,1622ZM907.3,1592L918.6,1563L929.9,1592L918.6,1621.1ZM931.5,1592L942.8,1563L954,1592L942.8,1621.1ZM1003.4,1592L1015.3,1561.5L1015.9,1561L1027.3,1531.6L1038.8,1561L1038.8,1590.3L1039.2,1592L1027.3,1622.5L1015.5,1622.5L1015.3,1622.6ZM1076.5,1592L1087.8,1563L1099.1,1592L1087.8,1621.1ZM1136.4,1592L1148.2,1561.7L1148.9,1562.8L1160.3,1562.8L1171.6,1562.8L1172.4,1562.7L1183.8,1592L1172.4,1621.4L1171.6,1621.2L1160.3,1621.2L1148.9,1621.2L1148.2,1622.4ZM798.5,1561L809.8,1531.9L821.1,1561L809.8,1590ZM1124.8,1561L1136.1,1531.9L1147.4,1561L1136.1,1590ZM1209.4,1561L1220.7,1531.9L1232,1561L1220.7,1590Z" fill="#0065ff" fill-rule="evenodd" stroke="#0065ff" stroke-width="0.6"/>
<path d="M749.4,1594.2L760.6,1594.2L761.5,1594.2L772.7,1623.1L761.5,1652L760.6,1652L761.1,1654.2L749.4,1684.4L749.4,1654.2L749.4,1623.1ZM749.4,1470L760.6,1470L761.5,1470L772.7,1498.8L761.5,1527.6L750.3,1527.6L749.4,1527.6L749.4,1498.8ZM1232.8,1620.7L1221.6,1592L1232.8,1563.4L1232.8,1592ZM1232.8,1742.2L1222.8,1716.4L1222.8,1690.6L1221.6,1685.3L1232.8,1656.6L1232.8,1685.3L1232.8,1716.4ZM750.3,1716.4L761.5,1687.7L772.6,1716.4L761.5,1745ZM798.7,1716.4L809.8,1687.7L821,1716.4L809.8,1745ZM858.6,1716.4L870.2,1686.3L870.8,1685.3L882.3,1655.7L893.8,1685.3L894.4,1687.7L905.6,1716.4L894.4,1745L893.4,1744.8L882.3,1744.8L871.3,1744.8L870.2,1746.4ZM1003.5,1716.4L1003.5,1715.5L1003.5,1685.3L1015.3,1655.1L1027,1655.1L1027.3,1655.1L1039.1,1685.3L1039.1,1686.2L1039.1,1716.4L1027.3,1746.6L1015.6,1746.6L1015.3,1746.6ZM1148.5,1716.4L1148.5,1715.7L1148.5,1685.3L1148.9,1683.5L1148.9,1654.2L1160.3,1624.9L1171.7,1654.2L1171.7,1683.5L1172.1,1685.3L1172.1,1685.9L1172.1,1716.4L1160.3,1746.8ZM810.8,1623.1L821.9,1594.4L833.1,1623.1L821.9,1651.8ZM883.3,1623.1L894.4,1594.4L905.6,1623.1L894.4,1651.8ZM943.7,1623.1L954.8,1594.4L966,1623.1L954.8,1651.8ZM1088.7,1623.1L1099.9,1594.4L1111,1623.1L1099.9,1651.8ZM774.5,1592L785.7,1563.4L796.8,1592L785.7,1620.7ZM834.9,1592L846.1,1563.4L857.2,1592L846.1,1620.7ZM870.8,1592L870.8,1590.5L870.8,1561L882.3,1531.4L893.8,1531.4L894.4,1531.1L906,1561L894.4,1590.9L893.9,1592L882.3,1621.8ZM907.4,1592L918.6,1563.4L929.7,1592L918.6,1620.7ZM931.6,1592L942.8,1563.4L953.9,1592L942.8,1620.7ZM1003.4,1592L1015.3,1561.6L1016.1,1561L1027.3,1531.9L1038.6,1561L1038.6,1590L1039.1,1592L1027.3,1622.4L1015.6,1622.4L1015.3,1622.5ZM1076.6,1592L1087.8,1563.4L1098.9,1592L1087.8,1620.7ZM1136.5,1592L1148.2,1561.8L1149.1,1563.2L1160.3,1563.2L1171.5,1563.2L1172.4,1563L1183.7,1592L1172.4,1621.1L1171.5,1620.9L1160.3,1620.9L1149.1,1620.9L1148.2,1622.2ZM798.7,1561L809.8,1532.3L821,1561L809.8,1589.6ZM1125,1561L1136.1,1532.3L1147.3,1561L1136.1,1589.6ZM1209.6,1561L1220.7,1532.3L1231.9,1561L1220.7,1589.6Z" fill="#008bff" fill-rule="evenodd" stroke="#008bff" stroke-width="0.6"/>
<path d="M749.4,1594.6L760.5,1594.6L761.5,1594.6L772.6,1623.1L761.5,1651.7L760.5,1651.7L761.1,1654.2L749.4,1684.2L749.4,1654.2L749.4,1623.1ZM749.4,1470.4L760.5,1470.4L761.5,1470.4L772.5,1498.8L761.5,1527.2L750.4,1527.2L749.4,1527.2L749.4,1498.8ZM1232.8,1620.4L1221.8,1592L1232.8,1563.7L1232.8,1592ZM1232.8,1741.4L1223.1,1716.4L1223.1,1691.3L1221.8,1685.3L1232.8,1657L1232.8,1685.3L1232.8,1716.4ZM750.5,1716.4L761.5,1688L772.5,1716.4L761.5,1744.7ZM798.8,1716.4L809.8,1688L820.8,1716.4L809.8,1744.7ZM858.6,1716.4L870.2,1686.5L870.9,1685.3L882.3,1655.9L893.7,1685.3L894.4,1688L905.4,1716.4L894.4,1744.7L893.2,1744.4L882.3,1744.4L871.4,1744.4L870.2,1746.2ZM1003.6,1716.4L1003.6,1715.3L1003.6,1685.3L1015.3,1655.2L1027,1655.2L1027.3,1655.2L1039,1685.3L1039,1686.3L1039,1716.4L1027.3,1746.4L1015.7,1746.4L1015.3,1746.4ZM1148.5,1716.4L1148.5,1715.6L1148.5,1685.3L1149,1683.3L1149,1654.2L1160.3,1625.1L1171.6,1654.2L1171.6,1683.3L1172.1,1685.3L1172.1,1686L1172.1,1716.4L1160.3,1746.7ZM810.9,1623.1L821.9,1594.8L832.9,1623.1L821.9,1651.4ZM883.4,1623.1L894.4,1594.8L905.4,1623.1L894.4,1651.4ZM943.8,1623.1L954.8,1594.8L965.9,1623.1L954.8,1651.4ZM1088.8,1623.1L1099.9,1594.8L1110.9,1623.1L1099.9,1651.4ZM774.6,1592L785.7,1563.7L796.7,1592L785.7,1620.4ZM835.1,1592L846.1,1563.7L857.1,1592L846.1,1620.4ZM870.8,1592L870.9,1590.3L870.9,1561L882.3,1531.6L893.7,1531.6L894.4,1531.2L906,1561L894.4,1590.7L893.8,1592L882.3,1621.6ZM907.6,1592L918.6,1563.7L929.6,1592L918.6,1620.4ZM931.7,1592L942.8,1563.7L953.8,1592L942.8,1620.4ZM1003.5,1592L1015.3,1561.7L1016.2,1561L1027.3,1532.2L1038.5,1561L1038.5,1589.7L1039.1,1592L1027.3,1622.3L1015.6,1622.3L1015.3,1622.4ZM1076.8,1592L1087.8,1563.7L1098.8,1592L1087.8,1620.4ZM1136.5,1592L1148.2,1562L1149.2,1563.5L1160.3,1563.5L1171.4,1563.5L1172.4,1563.3L1183.5,1592L1172.4,1620.8L1171.4,1620.6L1160.3,1620.6L1149.2,1620.6L1148.2,1622.1ZM798.8,1561L809.8,1532.6L820.8,1561L809.8,1589.3ZM1125.1,1561L1136.1,1532.6L1147.1,1561L1136.1,1589.3ZM1209.7,1561L1220.7,1532.6L1231.7,1561L1220.7,1589.3Z" fill="#00b0ff" fill-rule="evenodd" stroke="#00b0ff" stroke-width="0.6"/>
<path d="M749.4,1594.9L760.4,1594.9L761.5,1594.9L772.5,1623.1L761.5,1651.4L760.4,1651.4L761,1654.2L749.4,1684.1L749.4,1654.2L749.4,1623.1ZM749.4,1470.7L760.3,1470.7L761.5,1470.7L772.4,1498.8L761.5,1526.9L750.6,1526.9L749.4,1526.9L749.4,1498.8ZM1232.8,1620L1221.9,1592L1232.8,1564.1L1232.8,1592ZM1232.8,1740.6L1223.4,1716.4L1223.4,1692.1L1221.9,1685.3L1232.8,1657.3L1232.8,1685.3L1232.8,1716.4ZM750.6,1716.4L761.5,1688.4L772.4,1716.4L761.5,1744.3ZM798.9,1716.4L809.8,1688.4L820.7,1716.4L809.8,1744.3ZM858.7,1716.4L870.2,1686.6L871,1685.3L882.3,1656.2L893.7,1685.3L894.4,1688.4L905.3,1716.4L894.4,1744.3L893.1,1744L882.3,1744L871.6,1744L870.2,1746.1ZM1003.6,1716.4L1003.6,1715.2L1003.6,1685.3L1015.3,1655.3L1026.9,1655.3L1027.3,1655.3L1039,1685.3L1039,1686.4L1039,1716.4L1027.3,1746.3L1015.7,1746.3L1015.3,1746.3ZM1148.5,1716.4L1148.5,1715.5L1148.5,1685.3L1149.1,1683L1149.1,1654.2L1160.3,1625.4L1171.5,1654.2L1171.5,1683L1172,1685.3L1172,1686.1L1172,1716.4L1160.3,1746.6ZM811,1623.1L821.9,1595.1L832.8,1623.1L821.9,1651.1ZM883.5,1623.1L894.4,1595.1L905.3,1623.1L894.4,1651.1ZM944,1623.1L954.8,1595.1L965.7,1623.1L954.8,1651.1ZM1089,1623.1L1099.9,1595.1L1110.7,1623.1L1099.9,1651.1ZM774.8,1592L785.7,1564.1L796.5,1592L785.7,1620ZM835.2,1592L846.1,1564.1L857,1592L846.1,1620ZM870.9,1592L871,1590.1L871,1561L882.3,1531.8L893.7,1531.8L894.4,1531.4L905.9,1561L894.4,1590.5L893.8,1592L882.3,1621.4ZM907.7,1592L918.6,1564.1L929.5,1592L918.6,1620ZM931.9,1592L942.8,1564.1L953.6,1592L942.8,1620ZM1003.5,1592L1015.3,1561.8L1016.3,1561L1027.3,1532.5L1038.4,1561L1038.4,1589.4L1039.1,1592L1027.3,1622.1L1015.6,1622.1L1015.3,1622.3ZM1076.9,1592L1087.8,1564.1L1098.6,1592L1087.8,1620ZM1136.6,1592L1148.2,1562.1L1149.3,1563.8L1160.3,1563.8L1171.3,1563.8L1172.4,1563.6L1183.4,1592L1172.4,1620.5L1171.3,1620.3L1160.3,1620.3L1149.3,1620.3L1148.2,1622ZM798.9,1561L809.8,1533L820.7,1561L809.8,1588.9ZM1125.2,1561L1136.1,1533L1147,1561L1136.1,1588.9ZM1209.8,1561L1220.7,1533L1231.6,1561L1220.7,1588.9Z" fill="#00d6ff" fill-rule="evenodd" stroke="#00d6ff" stroke-width="0.6"/>
<path d="M749.4,1595.2L760.3,1595.2L761.5,1595.2L772.3,1623.1L761.5,1651L760.3,1651L761,1654.2L749.4,1683.9L749.4,1654.2L749.4,1623.1ZM749.4,1471L760.2,1471L761.5,1471L772.3,1498.8L761.5,1526.6L750.7,1526.6L749.4,1526.6L749.4,1498.8ZM1232.8,1619.7L1222,1592L1232.8,1564.4L1232.8,1592ZM1232.8,1739.8L1223.7,1716.4L1223.7,1692.9L1222,1685.3L1232.8,1657.7L1232.8,1685.3L1232.8,1716.4ZM750.7,1716.4L761.5,1688.7L772.2,1716.4L761.5,1744ZM799.1,1716.4L809.8,1688.7L820.6,1716.4L809.8,1744ZM858.8,1716.4L870.2,1686.8L871.1,1685.3L882.3,1656.4L893.6,1685.3L894.4,1688.7L905.2,1716.4L894.4,1744L892.9,1743.6L882.3,1743.6L871.7,1743.6L870.2,1745.9ZM1003.7,1716.4L1003.7,1715.1L1003.7,1685.3L1015.3,1655.5L1026.9,1655.5L1027.3,1655.5L1038.9,1685.3L1038.9,1686.5L1038.9,1716.4L1027.3,1746.2L1015.8,1746.2L1015.3,1746.2ZM1148.6,1716.4L1148.6,1715.4L1148.6,1685.3L1149.2,1682.7L1149.2,1654.2L1160.3,1625.7L1171.4,1654.2L1171.4,1682.7L1172,1685.3L1172,1686.2L1172,1716.4L1160.3,1746.5ZM811.2,1623.1L821.9,1595.5L832.6,1623.1L821.9,1650.7ZM883.7,1623.1L894.4,1595.5L905.2,1623.1L894.4,1650.7ZM944.1,1623.1L954.8,1595.5L965.6,1623.1L954.8,1650.7ZM1089.1,1623.1L1099.9,1595.5L1110.6,1623.1L1099.9,1650.7ZM774.9,1592L785.7,1564.4L796.4,1592L785.7,1619.7ZM835.3,1592L846.1,1564.4L856.8,1592L846.1,1619.7ZM871,1592L871.1,1589.9L871.1,1561L882.3,1532.1L893.6,1532.1L894.4,1531.6L905.8,1561L894.4,1590.3L893.7,1592L882.3,1621.2ZM907.8,1592L918.6,1564.4L929.3,1592L918.6,1619.7ZM932,1592L942.8,1564.4L953.5,1592L942.8,1619.7ZM1003.5,1592L1015.3,1561.9L1016.4,1561L1027.3,1532.8L1038.3,1561L1038.3,1589.1L1039,1592L1027.3,1622L1015.7,1622L1015.3,1622.2ZM1077,1592L1087.8,1564.4L1098.5,1592L1087.8,1619.7ZM1136.6,1592L1148.2,1562.2L1149.4,1564.1L1160.3,1564.1L1171.1,1564.1L1172.4,1563.9L1183.3,1592L1172.4,1620.2L1171.1,1619.9L1160.3,1619.9L1149.4,1619.9L1148.2,1621.9ZM799.1,1561L809.8,1533.3L820.6,1561L809.8,1588.6ZM1125.4,1561L1136.1,1533.3L1146.8,1561L1136.1,1588.6ZM1210,1561L1220.7,1533.3L1231.4,1561L1220.7,1588.6Z" fill="#00ffff" fill-rule="evenodd" stroke="#00ffff" stroke-width="0.6"/>
<path d="M749.4,1598L759.2,1598L761.5,1598L771.3,1623.1L761.5,1648.2L759.2,1648.2L760.5,1654.2L749.4,1682.8L749.4,1654.2L749.4,1623.1ZM749.4,1473.9L759.1,1473.9L761.5,1473.9L771.2,1498.8L761.5,1523.7L751.8,1523.7L749.4,1523.7L749.4,1498.8ZM1232.8,1616.6L1223.2,1592L1232.8,1567.5L1232.8,1592ZM1232.8,1733.1L1226.3,1716.4L1226.3,1699.6L1223.2,1685.3L1232.8,1660.7L1232.8,1685.3L1232.8,1716.4ZM751.9,1716.4L761.5,1691.8L771,1716.4L761.5,1740.9ZM800.3,1716.4L809.8,1691.8L819.4,1716.4L809.8,1740.9ZM859.3,1716.4L870.2,1688.1L871.8,1685.3L882.3,1658.3L892.8,1685.3L894.4,1691.8L904,1716.4L894.4,1740.9L891.6,1740.3L882.3,1740.3L873,1740.3L870.2,1744.6ZM1004.1,1716.4L1004.1,1714L1004.1,1685.3L1015.3,1656.6L1026.4,1656.6L1027.3,1656.6L1038.5,1685.3L1038.5,1687.7L1038.5,1716.4L1027.3,1745.1L1016.2,1745.1L1015.3,1745.1ZM1148.9,1716.4L1148.9,1714.6L1148.9,1685.3L1150,1680.5L1150,1654.2L1160.3,1627.9L1170.5,1654.2L1170.5,1680.5L1171.7,1685.3L1171.7,1687.1L1171.7,1716.4L1160.3,1745.7ZM812.4,1623.1L821.9,1598.5L831.5,1623.1L821.9,1647.7ZM884.9,1623.1L894.4,1598.5L904,1623.1L894.4,1647.7ZM945.3,1623.1L954.8,1598.5L964.4,1623.1L954.8,1647.7ZM1090.3,1623.1L1099.9,1598.5L1109.4,1623.1L1099.9,1647.7ZM776.1,1592L785.7,1567.5L795.2,1592L785.7,1616.6ZM836.5,1592L846.1,1567.5L855.6,1592L846.1,1616.6ZM871.6,1592L871.8,1588L871.8,1561L882.3,1534L892.8,1534L894.4,1533.1L905.3,1561L894.4,1588.9L893,1592L882.3,1619.5ZM909,1592L918.6,1567.5L928.1,1592L918.6,1616.6ZM933.2,1592L942.8,1567.5L952.3,1592L942.8,1616.6ZM1003.8,1592L1015.3,1562.6L1017.4,1561L1027.3,1535.4L1037.3,1561L1037.3,1586.5L1038.6,1592L1027.3,1621.1L1016.1,1621.1L1015.3,1621.4ZM1078.2,1592L1087.8,1567.5L1097.3,1592L1087.8,1616.6ZM1137,1592L1148.2,1563.3L1150.5,1566.9L1160.3,1566.9L1170,1566.9L1172.4,1566.5L1182.3,1592L1172.4,1617.6L1170,1617.2L1160.3,1617.2L1150.5,1617.2L1148.2,1620.7ZM800.3,1561L809.8,1536.4L819.4,1561L809.8,1585.5ZM1126.6,1561L1136.1,1536.4L1145.7,1561L1136.1,1585.5ZM1211.1,1561L1220.7,1536.4L1230.3,1561L1220.7,1585.5Z" fill="#00ffe6" fill-rule="evenodd" stroke="#00ffe6" stroke-width="0.6"/>
<path d="M749.4,1598.9L758.8,1598.9L761.5,1598.9L770.9,1623.1L761.5,1647.3L758.8,1647.3L760.4,1654.2L749.4,1682.4L749.4,1654.2L749.4,1623.1ZM749.4,1474.9L758.7,1474.9L761.5,1474.9L770.8,1498.8L761.5,1522.7L752.2,1522.7L749.4,1522.7L749.4,1498.8ZM1232.8,1615.6L1223.6,1592L1232.8,1568.4L1232.8,1592ZM1232.8,1731L1227.1,1716.4L1227.1,1701.8L1223.6,1685.3L1232.8,1661.7L1232.8,1685.3L1232.8,1716.4ZM752.3,1716.4L761.5,1692.8L770.7,1716.4L761.5,1740ZM800.7,1716.4L809.8,1692.8L819,1716.4L809.8,1740ZM859.4,1716.4L870.2,1688.6L872.1,1685.3L882.3,1658.9L892.6,1685.3L894.4,1692.8L903.6,1716.4L894.4,1740L891.2,1739.2L882.3,1739.2L873.4,1739.2L870.2,1744.1ZM1004.2,1716.4L1004.2,1713.6L1004.2,1685.3L1015.3,1656.9L1026.3,1656.9L1027.3,1656.9L1038.4,1685.3L1038.4,1688L1038.4,1716.4L1027.3,1744.7L1016.3,1744.7L1015.3,1744.7ZM1149,1716.4L1149,1714.3L1149,1685.3L1150.3,1679.8L1150.3,1654.2L1160.3,1628.6L1170.2,1654.2L1170.2,1679.8L1171.6,1685.3L1171.6,1687.3L1171.6,1716.4L1160.3,1745.4ZM812.7,1623.1L821.9,1599.5L831.1,1623.1L821.9,1646.7ZM885.2,1623.1L894.4,1599.5L903.6,1623.1L894.4,1646.7ZM945.7,1623.1L954.8,1599.5L964,1623.1L954.8,1646.7ZM1090.7,1623.1L1099.9,1599.5L1109,1623.1L1099.9,1646.7ZM776.5,1592L785.7,1568.4L794.8,1592L785.7,1615.6ZM836.9,1592L846.1,1568.4L855.3,1592L846.1,1615.6ZM871.8,1592L872.1,1587.3L872.1,1561L882.3,1534.6L892.6,1534.6L894.4,1533.5L905.1,1561L894.4,1588.4L892.8,1592L882.3,1619ZM909.4,1592L918.6,1568.4L927.8,1592L918.6,1615.6ZM933.6,1592L942.8,1568.4L951.9,1592L942.8,1615.6ZM1003.9,1592L1015.3,1562.9L1017.7,1561L1027.3,1536.2L1037,1561L1037,1585.7L1038.5,1592L1027.3,1620.8L1016.2,1620.8L1015.3,1621.2ZM1078.6,1592L1087.8,1568.4L1096.9,1592L1087.8,1615.6ZM1137.2,1592L1148.2,1563.7L1150.9,1567.8L1160.3,1567.8L1169.7,1567.8L1172.4,1567.3L1182,1592L1172.4,1616.8L1169.7,1616.3L1160.3,1616.3L1150.9,1616.3L1148.2,1620.4ZM800.7,1561L809.8,1537.4L819,1561L809.8,1584.6ZM1126.9,1561L1136.1,1537.4L1145.3,1561L1136.1,1584.6ZM1211.5,1561L1220.7,1537.4L1229.9,1561L1220.7,1584.6Z" fill="#00ffbe" fill-rule="evenodd" stroke="#00ffbe" stroke-width="0.6"/>
<path d="M749.4,1599.8L758.5,1599.8L761.5,1599.8L770.5,1623.1L761.5,1646.4L758.5,1646.4L760.2,1654.2L749.4,1682L749.4,1654.2L749.4,1623.1ZM749.4,1475.8L758.3,1475.8L761.5,1475.8L770.4,1498.8L761.5,1521.8L752.6,1521.8L749.4,1521.8L749.4,1498.8ZM1232.8,1614.6L1224,1592L1232.8,1569.4L1232.8,1592ZM1232.8,1728.8L1228,1716.4L1228,1703.9L1224,1685.3L1232.8,1662.7L1232.8,1685.3L1232.8,1716.4ZM752.7,1716.4L761.5,1693.8L770.3,1716.4L761.5,1739ZM801,1716.4L809.8,1693.8L818.6,1716.4L809.8,1739ZM859.6,1716.4L870.2,1689L872.3,1685.3L882.3,1659.5L892.3,1685.3L894.4,1693.8L903.2,1716.4L894.4,1739L890.8,1738.1L882.3,1738.1L873.9,1738.1L870.2,1743.7ZM1004.4,1716.4L1004.4,1713.3L1004.4,1685.3L1015.3,1657.3L1026.1,1657.3L1027.3,1657.3L1038.2,1685.3L1038.2,1688.4L1038.2,1716.4L1027.3,1744.3L1016.5,1744.3L1015.3,1744.3ZM1149.1,1716.4L1149.1,1714L1149.1,1685.3L1150.6,1679.1L1150.6,1654.2L1160.3,1629.3L1169.9,1654.2L1169.9,1679.1L1171.5,1685.3L1171.5,1687.6L1171.5,1716.4L1160.3,1745.1ZM813.1,1623.1L821.9,1600.5L830.7,1623.1L821.9,1645.7ZM885.6,1623.1L894.4,1600.5L903.2,1623.1L894.4,1645.7ZM946.1,1623.1L954.8,1600.5L963.6,1623.1L954.8,1645.7ZM1091.1,1623.1L1099.9,1600.5L1108.6,1623.1L1099.9,1645.7ZM776.9,1592L785.7,1569.4L794.4,1592L785.7,1614.6ZM837.3,1592L846.1,1569.4L854.9,1592L846.1,1614.6ZM872.1,1592L872.3,1586.7L872.3,1561L882.3,1535.2L892.3,1535.2L894.4,1534L904.9,1561L894.4,1587.9L892.6,1592L882.3,1618.5ZM909.8,1592L918.6,1569.4L927.4,1592L918.6,1614.6ZM934,1592L942.8,1569.4L951.5,1592L942.8,1614.6ZM1004,1592L1015.3,1563.2L1018.1,1561L1027.3,1537.1L1036.6,1561L1036.6,1584.9L1038.4,1592L1027.3,1620.5L1016.3,1620.5L1015.3,1620.9ZM1079,1592L1087.8,1569.4L1096.6,1592L1087.8,1614.6ZM1137.3,1592L1148.2,1564.1L1151.2,1568.7L1160.3,1568.7L1169.3,1568.7L1172.4,1568.1L1181.7,1592L1172.4,1615.9L1169.3,1615.3L1160.3,1615.3L1151.2,1615.3L1148.2,1620ZM801,1561L809.8,1538.4L818.6,1561L809.8,1583.6ZM1127.3,1561L1136.1,1538.4L1144.9,1561L1136.1,1583.6ZM1211.9,1561L1220.7,1538.4L1229.5,1561L1220.7,1583.6Z" fill="#00ff96" fill-rule="evenodd" stroke="#00ff96" stroke-width="0.6"/>
<path d="M749.4,1600.7L758.1,1600.7L761.5,1600.7L770.2,1623.1L761.5,1645.5L758.1,1645.5L760.1,1654.2L749.4,1681.6L749.4,1654.2L749.4,1623.1ZM749.4,1476.8L758,1476.8L761.5,1476.8L770,1498.8L761.5,1520.8L752.9,1520.8L749.4,1520.8L749.4,1498.8ZM1232.8,1613.7L1224.4,1592L1232.8,1570.4L1232.8,1592ZM1232.8,1726.6L1228.8,1716.4L1228.8,1706.1L1224.4,1685.3L1232.8,1663.7L1232.8,1685.3L1232.8,1716.4ZM753.1,1716.4L761.5,1694.7L769.9,1716.4L761.5,1738ZM801.4,1716.4L809.8,1694.7L818.2,1716.4L809.8,1738ZM859.8,1716.4L870.2,1689.4L872.6,1685.3L882.3,1660.1L892.1,1685.3L894.4,1694.7L902.8,1716.4L894.4,1738L890.4,1737L882.3,1737L874.3,1737L870.2,1743.3ZM1004.5,1716.4L1004.5,1712.9L1004.5,1685.3L1015.3,1657.7L1026,1657.7L1027.3,1657.7L1038.1,1685.3L1038.1,1688.8L1038.1,1716.4L1027.3,1744L1016.6,1744L1015.3,1744ZM1149.2,1716.4L1149.2,1713.8L1149.2,1685.3L1150.9,1678.3L1150.9,1654.2L1160.3,1630.1L1169.7,1654.2L1169.7,1678.3L1171.4,1685.3L1171.4,1687.9L1171.4,1716.4L1160.3,1744.8ZM813.5,1623.1L821.9,1601.5L830.3,1623.1L821.9,1644.7ZM886,1623.1L894.4,1601.5L902.8,1623.1L894.4,1644.7ZM946.4,1623.1L954.8,1601.5L963.2,1623.1L954.8,1644.7ZM1091.5,1623.1L1099.9,1601.5L1108.3,1623.1L1099.9,1644.7ZM777.2,1592L785.7,1570.4L794.1,1592L785.7,1613.7ZM837.7,1592L846.1,1570.4L854.5,1592L846.1,1613.7ZM872.3,1592L872.6,1586.1L872.6,1561L882.3,1535.8L892.1,1535.8L894.4,1534.5L904.7,1561L894.4,1587.4L892.4,1592L882.3,1617.9ZM910.2,1592L918.6,1570.4L927,1592L918.6,1613.7ZM934.4,1592L942.8,1570.4L951.2,1592L942.8,1613.7ZM1004.1,1592L1015.3,1563.4L1018.4,1561L1027.3,1537.9L1036.3,1561L1036.3,1584L1038.3,1592L1027.3,1620.1L1016.4,1620.1L1015.3,1620.7ZM1079.4,1592L1087.8,1570.4L1096.2,1592L1087.8,1613.7ZM1137.5,1592L1148.2,1564.4L1151.6,1569.6L1160.3,1569.6L1169,1569.6L1172.4,1569L1181.3,1592L1172.4,1615.1L1169,1614.4L1160.3,1614.4L1151.6,1614.4L1148.2,1619.6ZM801.4,1561L809.8,1539.3L818.2,1561L809.8,1582.6ZM1127.7,1561L1136.1,1539.3L1144.5,1561L1136.1,1582.6ZM1212.3,1561L1220.7,1539.3L1229.1,1561L1220.7,1582.6Z" fill="#00ff6e" fill-rule="evenodd" stroke="#00ff6e" stroke-width="0.6"/>
<path d="M749.4,1601.6L757.8,1601.6L761.5,1601.6L769.8,1623.1L761.5,1644.6L757.8,1644.6L759.9,1654.2L749.4,1681.2L749.4,1654.2L749.4,1623.1ZM749.4,1477.7L757.6,1477.7L761.5,1477.7L769.7,1498.8L761.5,1519.9L753.3,1519.9L749.4,1519.9L749.4,1498.8ZM1232.8,1612.7L1224.8,1592L1232.8,1571.4L1232.8,1592ZM1232.8,1724.4L1229.6,1716.4L1229.6,1708.3L1224.8,1685.3L1232.8,1664.7L1232.8,1685.3L1232.8,1716.4ZM753.5,1716.4L761.5,1695.7L769.5,1716.4L761.5,1737ZM801.8,1716.4L809.8,1695.7L817.8,1716.4L809.8,1737ZM860,1716.4L870.2,1689.9L872.8,1685.3L882.3,1660.8L891.9,1685.3L894.4,1695.7L902.4,1716.4L894.4,1737L889.9,1735.9L882.3,1735.9L874.7,1735.9L870.2,1742.8ZM1004.7,1716.4L1004.7,1712.5L1004.7,1685.3L1015.3,1658L1025.9,1658L1027.3,1658L1037.9,1685.3L1037.9,1689.1L1037.9,1716.4L1027.3,1743.6L1016.8,1743.6L1015.3,1743.6ZM1149.3,1716.4L1149.3,1713.5L1149.3,1685.3L1151.2,1677.6L1151.2,1654.2L1160.3,1630.8L1169.4,1654.2L1169.4,1677.6L1171.2,1685.3L1171.2,1688.2L1171.2,1716.4L1160.3,1744.6ZM813.9,1623.1L821.9,1602.5L829.9,1623.1L821.9,1643.7ZM886.4,1623.1L894.4,1602.5L902.4,1623.1L894.4,1643.7ZM946.8,1623.1L954.8,1602.5L962.9,1623.1L954.8,1643.7ZM1091.8,1623.1L1099.9,1602.5L1107.9,1623.1L1099.9,1643.7ZM777.6,1592L785.7,1571.4L793.7,1592L785.7,1612.7ZM838.1,1592L846.1,1571.4L854.1,1592L846.1,1612.7ZM872.5,1592L872.8,1585.5L872.8,1561L882.3,1536.5L891.9,1536.5L894.4,1535L904.5,1561L894.4,1586.9L892.2,1592L882.3,1617.4ZM910.6,1592L918.6,1571.4L926.6,1592L918.6,1612.7ZM934.7,1592L942.8,1571.4L950.8,1592L942.8,1612.7ZM1004.2,1592L1015.3,1563.7L1018.7,1561L1027.3,1538.7L1036,1561L1036,1583.2L1038.2,1592L1027.3,1619.8L1016.5,1619.8L1015.3,1620.4ZM1079.8,1592L1087.8,1571.4L1095.8,1592L1087.8,1612.7ZM1137.6,1592L1148.2,1564.8L1151.9,1570.5L1160.3,1570.5L1168.6,1570.5L1172.4,1569.8L1181,1592L1172.4,1614.3L1168.6,1613.5L1160.3,1613.5L1151.9,1613.5L1148.2,1619.3ZM801.8,1561L809.8,1540.3L817.8,1561L809.8,1581.6ZM1128.1,1561L1136.1,1540.3L1144.1,1561L1136.1,1581.6ZM1212.7,1561L1220.7,1540.3L1228.7,1561L1220.7,1581.6Z" fill="#00ff47" fill-rule="evenodd" stroke="#00ff47" stroke-width="0.6"/>
<path d="M749.4,1602.5L757.4,1602.5L761.5,1602.5L769.5,1623.1L761.5,1643.7L757.4,1643.7L759.8,1654.2L749.4,1680.9L749.4,1654.2L749.4,1623.1ZM749.4,1478.7L757.2,1478.7L761.5,1478.7L769.3,1498.8L761.5,1518.9L753.7,1518.9L749.4,1518.9L749.4,1498.8ZM1232.8,1611.7L1225.2,1592L1232.8,1572.4L1232.8,1592ZM1232.8,1722.3L1230.5,1716.4L1230.5,1710.5L1225.2,1685.3L1232.8,1665.6L1232.8,1685.3L1232.8,1716.4ZM753.8,1716.4L761.5,1696.7L769.1,1716.4L761.5,1736ZM802.2,1716.4L809.8,1696.7L817.5,1716.4L809.8,1736ZM860.1,1716.4L870.2,1690.3L873,1685.3L882.3,1661.4L891.6,1685.3L894.4,1696.7L902.1,1716.4L894.4,1736L889.5,1734.9L882.3,1734.9L875.1,1734.9L870.2,1742.4ZM1004.8,1716.4L1004.8,1712.2L1004.8,1685.3L1015.3,1658.4L1025.7,1658.4L1027.3,1658.4L1037.8,1685.3L1037.8,1689.5L1037.8,1716.4L1027.3,1743.2L1016.9,1743.2L1015.3,1743.2ZM1149.4,1716.4L1149.4,1713.2L1149.4,1685.3L1151.5,1676.9L1151.5,1654.2L1160.3,1631.5L1169.1,1654.2L1169.1,1676.9L1171.1,1685.3L1171.1,1688.4L1171.1,1716.4L1160.3,1744.3ZM814.3,1623.1L821.9,1603.5L829.5,1623.1L821.9,1642.8ZM886.8,1623.1L894.4,1603.5L902.1,1623.1L894.4,1642.8ZM947.2,1623.1L954.8,1603.5L962.5,1623.1L954.8,1642.8ZM1092.2,1623.1L1099.9,1603.5L1107.5,1623.1L1099.9,1642.8ZM778,1592L785.7,1572.4L793.3,1592L785.7,1611.7ZM838.4,1592L846.1,1572.4L853.7,1592L846.1,1611.7ZM872.7,1592L873,1584.8L873,1561L882.3,1537.1L891.6,1537.1L894.4,1535.5L904.3,1561L894.4,1586.4L892,1592L882.3,1616.8ZM911,1592L918.6,1572.4L926.2,1592L918.6,1611.7ZM935.1,1592L942.8,1572.4L950.4,1592L942.8,1611.7ZM1004.3,1592L1015.3,1563.9L1019,1561L1027.3,1539.6L1035.7,1561L1035.7,1582.4L1038,1592L1027.3,1619.5L1016.7,1619.5L1015.3,1620.2ZM1080.1,1592L1087.8,1572.4L1095.4,1592L1087.8,1611.7ZM1137.7,1592L1148.2,1565.2L1152.3,1571.4L1160.3,1571.4L1168.3,1571.4L1172.4,1570.6L1180.7,1592L1172.4,1613.4L1168.3,1612.6L1160.3,1612.6L1152.3,1612.6L1148.2,1618.9ZM802.2,1561L809.8,1541.3L817.5,1561L809.8,1580.6ZM1128.5,1561L1136.1,1541.3L1143.7,1561L1136.1,1580.6ZM1213.1,1561L1220.7,1541.3L1228.3,1561L1220.7,1580.6Z" fill="#00ff1f" fill-rule="evenodd" stroke="#00ff1f" stroke-width="0.6"/>
<path d="M749.4,1603.4L757.1,1603.4L761.5,1603.4L769.1,1623.1L761.5,1642.8L757.1,1642.8L759.6,1654.2L749.4,1680.5L749.4,1654.2L749.4,1623.1ZM749.4,1479.6L756.9,1479.6L761.5,1479.6L768.9,1498.8L761.5,1518L754,1518L749.4,1518L749.4,1498.8ZM1232.8,1610.7L1225.5,1592L1232.8,1573.4L1232.8,1592ZM1232.8,1720.1L1231.3,1716.4L1231.3,1712.6L1225.5,1685.3L1232.8,1666.6L1232.8,1685.3L1232.8,1716.4ZM754.2,1716.4L761.5,1697.7L768.7,1716.4L761.5,1735ZM802.6,1716.4L809.8,1697.7L817.1,1716.4L809.8,1735ZM860.3,1716.4L870.2,1690.8L873.3,1685.3L882.3,1662L891.4,1685.3L894.4,1697.7L901.7,1716.4L894.4,1735L889.1,1733.8L882.3,1733.8L875.6,1733.8L870.2,1742ZM1005,1716.4L1005,1711.8L1005,1685.3L1015.3,1658.8L1025.6,1658.8L1027.3,1658.8L1037.7,1685.3L1037.7,1689.8L1037.7,1716.4L1027.3,1742.9L1017,1742.9L1015.3,1742.9ZM1149.5,1716.4L1149.5,1712.9L1149.5,1685.3L1151.7,1676.2L1151.7,1654.2L1160.3,1632.2L1168.8,1654.2L1168.8,1676.2L1171,1685.3L1171,1688.7L1171,1716.4L1160.3,1744ZM814.7,1623.1L821.9,1604.5L829.2,1623.1L821.9,1641.8ZM887.2,1623.1L894.4,1604.5L901.7,1623.1L894.4,1641.8ZM947.6,1623.1L954.8,1604.5L962.1,1623.1L954.8,1641.8ZM1092.6,1623.1L1099.9,1604.5L1107.1,1623.1L1099.9,1641.8ZM778.4,1592L785.7,1573.4L792.9,1592L785.7,1610.7ZM838.8,1592L846.1,1573.4L853.3,1592L846.1,1610.7ZM872.9,1592L873.3,1584.2L873.3,1561L882.3,1537.7L891.4,1537.7L894.4,1536L904.1,1561L894.4,1586L891.8,1592L882.3,1616.3ZM911.3,1592L918.6,1573.4L925.8,1592L918.6,1610.7ZM935.5,1592L942.8,1573.4L950,1592L942.8,1610.7ZM1004.4,1592L1015.3,1564.2L1019.4,1561L1027.3,1540.4L1035.3,1561L1035.3,1581.5L1037.9,1592L1027.3,1619.2L1016.8,1619.2L1015.3,1619.9ZM1080.5,1592L1087.8,1573.4L1095,1592L1087.8,1610.7ZM1137.9,1592L1148.2,1565.5L1152.6,1572.4L1160.3,1572.4L1167.9,1572.4L1172.4,1571.5L1180.4,1592L1172.4,1612.6L1167.9,1611.7L1160.3,1611.7L1152.6,1611.7L1148.2,1618.6ZM802.6,1561L809.8,1542.3L817.1,1561L809.8,1579.6ZM1128.9,1561L1136.1,1542.3L1143.4,1561L1136.1,1579.6ZM1213.5,1561L1220.7,1542.3L1228,1561L1220.7,1579.6Z" fill="#08ff00" fill-rule="evenodd" stroke="#08ff00" stroke-width="0.6"/>
<path d="M749.4,1604.3L756.7,1604.3L761.5,1604.3L768.8,1623.1L761.5,1641.9L756.7,1641.9L759.5,1654.2L749.4,1680.1L749.4,1654.2L749.4,1623.1ZM749.4,1480.6L756.5,1480.6L761.5,1480.6L768.6,1498.8L761.5,1517L754.4,1517L749.4,1517L749.4,1498.8ZM1232.8,1609.7L1225.9,1592L1232.8,1574.4L1232.8,1592ZM1232.8,1717.9L1232.2,1716.4L1232.2,1714.8L1225.9,1685.3L1232.8,1667.6L1232.8,1685.3L1232.8,1716.4ZM754.6,1716.4L761.5,1698.7L768.4,1716.4L761.5,1734ZM803,1716.4L809.8,1698.7L816.7,1716.4L809.8,1734ZM860.5,1716.4L870.2,1691.2L873.5,1685.3L882.3,1662.6L891.1,1685.3L894.4,1698.7L901.3,1716.4L894.4,1734L888.7,1732.7L882.3,1732.7L876,1732.7L870.2,1741.5ZM1005.1,1716.4L1005.1,1711.4L1005.1,1685.3L1015.3,1659.1L1025.4,1659.1L1027.3,1659.1L1037.5,1685.3L1037.5,1690.2L1037.5,1716.4L1027.3,1742.5L1017.2,1742.5L1015.3,1742.5ZM1149.6,1716.4L1149.6,1712.7L1149.6,1685.3L1152,1675.4L1152,1654.2L1160.3,1633L1168.5,1654.2L1168.5,1675.4L1170.9,1685.3L1170.9,1689L1170.9,1716.4L1160.3,1743.7ZM815,1623.1L821.9,1605.5L828.8,1623.1L821.9,1640.8ZM887.5,1623.1L894.4,1605.5L901.3,1623.1L894.4,1640.8ZM948,1623.1L954.8,1605.5L961.7,1623.1L954.8,1640.8ZM1093,1623.1L1099.9,1605.5L1106.7,1623.1L1099.9,1640.8ZM778.8,1592L785.7,1574.4L792.5,1592L785.7,1609.7ZM839.2,1592L846.1,1574.4L852.9,1592L846.1,1609.7ZM873.1,1592L873.5,1583.6L873.5,1561L882.3,1538.3L891.1,1538.3L894.4,1536.4L903.9,1561L894.4,1585.5L891.5,1592L882.3,1615.7ZM911.7,1592L918.6,1574.4L925.5,1592L918.6,1609.7ZM935.9,1592L942.8,1574.4L949.6,1592L942.8,1609.7ZM1004.5,1592L1015.3,1564.4L1019.7,1561L1027.3,1541.2L1035,1561L1035,1580.7L1037.8,1592L1027.3,1618.9L1016.9,1618.9L1015.3,1619.6ZM1080.9,1592L1087.8,1574.4L1094.6,1592L1087.8,1609.7ZM1138,1592L1148.2,1565.9L1153,1573.3L1160.3,1573.3L1167.6,1573.3L1172.4,1572.3L1180,1592L1172.4,1611.8L1167.6,1610.8L1160.3,1610.8L1153,1610.8L1148.2,1618.2ZM803,1561L809.8,1543.3L816.7,1561L809.8,1578.6ZM1129.2,1561L1136.1,1543.3L1143,1561L1136.1,1578.6ZM1213.8,1561L1220.7,1543.3L1227.6,1561L1220.7,1578.6Z" fill="#30ff00" fill-rule="evenodd" stroke="#30ff00" stroke-width="0.6"/>
<path d="M749.4,1605.2L756.3,1605.2L761.5,1605.2L768.4,1623.1L761.5,1641L756.3,1641L759.3,1654.2L749.4,1679.7L749.4,1654.2L749.4,1623.1ZM749.4,1481.5L756.1,1481.5L761.5,1481.5L768.2,1498.8L761.5,1516.1L754.8,1516.1L749.4,1516.1L749.4,1498.8ZM1232.8,1608.7L1226.3,1592L1232.8,1575.4L1232.8,1592ZM1232.8,1715.8L1226.3,1685.3L1232.8,1668.6L1232.8,1685.3ZM755,1716.4L761.5,1699.7L768,1716.4L761.5,1733ZM803.3,1716.4L809.8,1699.7L816.3,1716.4L809.8,1733ZM860.6,1716.4L870.2,1691.6L873.8,1685.3L882.3,1663.3L890.9,1685.3L894.4,1699.7L900.9,1716.4L894.4,1733L888.3,1731.6L882.3,1731.6L876.4,1731.6L870.2,1741.1ZM1005.2,1716.4L1005.2,1711.1L1005.2,1685.3L1015.3,1659.5L1025.3,1659.5L1027.3,1659.5L1037.4,1685.3L1037.4,1690.6L1037.4,1716.4L1027.3,1742.2L1017.3,1742.2L1015.3,1742.2ZM1149.7,1716.4L1149.7,1712.4L1149.7,1685.3L1152.3,1674.7L1152.3,1654.2L1160.3,1633.7L1168.3,1654.2L1168.3,1674.7L1170.8,1685.3L1170.8,1689.2L1170.8,1716.4L1160.3,1743.5ZM815.4,1623.1L821.9,1606.4L828.4,1623.1L821.9,1639.8ZM887.9,1623.1L894.4,1606.4L900.9,1623.1L894.4,1639.8ZM948.4,1623.1L954.8,1606.4L961.3,1623.1L954.8,1639.8ZM1093.4,1623.1L1099.9,1606.4L1106.3,1623.1L1099.9,1639.8ZM779.2,1592L785.7,1575.4L792.1,1592L785.7,1608.7ZM839.6,1592L846.1,1575.4L852.6,1592L846.1,1608.7ZM873.3,1592L873.8,1583L873.8,1561L882.3,1538.9L890.9,1538.9L894.4,1536.9L903.8,1561L894.4,1585L891.3,1592L882.3,1615.2ZM912.1,1592L918.6,1575.4L925.1,1592L918.6,1608.7ZM936.3,1592L942.8,1575.4L949.2,1592L942.8,1608.7ZM1004.6,1592L1015.3,1564.7L1020,1561L1027.3,1542.1L1034.7,1561L1034.7,1579.8L1037.7,1592L1027.3,1618.6L1017,1618.6L1015.3,1619.4ZM1081.3,1592L1087.8,1575.4L1094.3,1592L1087.8,1608.7ZM1138.2,1592L1148.2,1566.2L1153.3,1574.2L1160.3,1574.2L1167.2,1574.2L1172.4,1573.2L1179.7,1592L1172.4,1610.9L1167.2,1609.9L1160.3,1609.9L1153.3,1609.9L1148.2,1617.8ZM803.3,1561L809.8,1544.3L816.3,1561L809.8,1577.6ZM1129.6,1561L1136.1,1544.3L1142.6,1561L1136.1,1577.6ZM1214.2,1561L1220.7,1544.3L1227.2,1561L1220.7,1577.6Z" fill="#58ff00" fill-rule="evenodd" stroke="#58ff00" stroke-width="0.6"/>
<path d="M749.4,1606.2L756,1606.2L761.5,1606.2L768.1,1623.1L761.5,1640.1L756,1640.1L759.2,1654.2L749.4,1679.3L749.4,1654.2L749.4,1623.1ZM749.4,1482.4L755.8,1482.4L761.5,1482.4L767.8,1498.8L761.5,1515.2L755.1,1515.2L749.4,1515.2L749.4,1498.8ZM1232.8,1607.7L1226.7,1592L1232.8,1576.4L1232.8,1592ZM1232.8,1714L1226.7,1685.3L1232.8,1669.6L1232.8,1685.3ZM755.4,1716.4L761.5,1700.7L767.6,1716.4L761.5,1732ZM803.7,1716.4L809.8,1700.7L815.9,1716.4L809.8,1732ZM860.8,1716.4L870.2,1692.1L874,1685.3L882.3,1663.9L890.7,1685.3L894.4,1700.7L900.5,1716.4L894.4,1732L887.8,1730.5L882.3,1730.5L876.8,1730.5L870.2,1740.7ZM1005.4,1716.4L1005.4,1710.7L1005.4,1685.3L1015.3,1659.8L1025.2,1659.8L1027.3,1659.8L1037.2,1685.3L1037.2,1690.9L1037.2,1716.4L1027.3,1741.8L1017.5,1741.8L1015.3,1741.8ZM1149.8,1716.4L1149.8,1712.1L1149.8,1685.3L1152.6,1674L1152.6,1654.2L1160.3,1634.4L1168,1654.2L1168,1674L1170.7,1685.3L1170.7,1689.5L1170.7,1716.4L1160.3,1743.2ZM815.8,1623.1L821.9,1607.4L828,1623.1L821.9,1638.8ZM888.3,1623.1L894.4,1607.4L900.5,1623.1L894.4,1638.8ZM948.7,1623.1L954.8,1607.4L960.9,1623.1L954.8,1638.8ZM1093.8,1623.1L1099.9,1607.4L1106,1623.1L1099.9,1638.8ZM779.6,1592L785.7,1576.4L791.8,1592L785.7,1607.7ZM840,1592L846.1,1576.4L852.2,1592L846.1,1607.7ZM873.5,1592L874,1582.4L874,1561L882.3,1539.6L890.7,1539.6L894.4,1537.4L903.6,1561L894.4,1584.5L891.1,1592L882.3,1614.7ZM912.5,1592L918.6,1576.4L924.7,1592L918.6,1607.7ZM936.7,1592L942.8,1576.4L948.9,1592L942.8,1607.7ZM1004.7,1592L1015.3,1564.9L1020.3,1561L1027.3,1542.9L1034.4,1561L1034.4,1579L1037.6,1592L1027.3,1618.3L1017.1,1618.3L1015.3,1619.1ZM1081.7,1592L1087.8,1576.4L1093.9,1592L1087.8,1607.7ZM1138.3,1592L1148.2,1566.6L1153.7,1575.1L1160.3,1575.1L1166.9,1575.1L1172.4,1574L1179.4,1592L1172.4,1610.1L1166.9,1609L1160.3,1609L1153.7,1609L1148.2,1617.5ZM803.7,1561L809.8,1545.3L815.9,1561L809.8,1576.6ZM1130,1561L1136.1,1545.3L1142.2,1561L1136.1,1576.6ZM1214.6,1561L1220.7,1545.3L1226.8,1561L1220.7,1576.6Z" fill="#80ff00" fill-rule="evenodd" stroke="#80ff00" stroke-width="0.6"/>
<path d="M749.4,1607.1L755.6,1607.1L761.5,1607.1L767.7,1623.1L761.5,1639.2L755.6,1639.2L759,1654.2L749.4,1679L749.4,1654.2L749.4,1623.1ZM749.4,1483.4L755.4,1483.4L761.5,1483.4L767.5,1498.8L761.5,1514.2L755.5,1514.2L749.4,1514.2L749.4,1498.8ZM1232.8,1606.7L1227.1,1592L1232.8,1577.3L1232.8,1592ZM1232.8,1712.2L1227.1,1685.3L1232.8,1670.6L1232.8,1685.3ZM755.8,1716.4L761.5,1701.7L767.2,1716.4L761.5,1731.1ZM804.1,1716.4L809.8,1701.7L815.5,1716.4L809.8,1731.1ZM861,1716.4L870.2,1692.5L874.3,1685.3L882.3,1664.5L890.4,1685.3L894.4,1701.7L900.1,1716.4L894.4,1731.1L887.4,1729.4L882.3,1729.4L877.3,1729.4L870.2,1740.2ZM1005.5,1716.4L1005.5,1710.4L1005.5,1685.3L1015.3,1660.2L1025,1660.2L1027.3,1660.2L1037.1,1685.3L1037.1,1691.3L1037.1,1716.4L1027.3,1741.4L1017.6,1741.4L1015.3,1741.4ZM1149.9,1716.4L1149.9,1711.9L1149.9,1685.3L1152.9,1673.3L1152.9,1654.2L1160.3,1635.1L1167.7,1654.2L1167.7,1673.3L1170.6,1685.3L1170.6,1689.8L1170.6,1716.4L1160.3,1742.9ZM816.2,1623.1L821.9,1608.4L827.6,1623.1L821.9,1637.8ZM888.7,1623.1L894.4,1608.4L900.1,1623.1L894.4,1637.8ZM949.1,1623.1L954.8,1608.4L960.6,1623.1L954.8,1637.8ZM1094.1,1623.1L1099.9,1608.4L1105.6,1623.1L1099.9,1637.8ZM779.9,1592L785.7,1577.3L791.4,1592L785.7,1606.7ZM840.4,1592L846.1,1577.3L851.8,1592L846.1,1606.7ZM873.8,1592L874.3,1581.7L874.3,1561L882.3,1540.2L890.4,1540.2L894.4,1537.9L903.4,1561L894.4,1584L890.9,1592L882.3,1614.1ZM912.9,1592L918.6,1577.3L924.3,1592L918.6,1606.7ZM937,1592L942.8,1577.3L948.5,1592L942.8,1606.7ZM1004.8,1592L1015.3,1565.2L1020.7,1561L1027.3,1543.7L1034,1561L1034,1578.2L1037.4,1592L1027.3,1618L1017.3,1618L1015.3,1618.9ZM1082.1,1592L1087.8,1577.3L1093.5,1592L1087.8,1606.7ZM1138.4,1592L1148.2,1567L1154,1576L1160.3,1576L1166.5,1576L1172.4,1574.8L1179.1,1592L1172.4,1609.3L1166.5,1608.1L1160.3,1608.1L1154,1608.1L1148.2,1617.1ZM804.1,1561L809.8,1546.3L815.5,1561L809.8,1575.7ZM1130.4,1561L1136.1,1546.3L1141.8,1561L1136.1,1575.7ZM1215,1561L1220.7,1546.3L1226.4,1561L1220.7,1575.7Z" fill="#a7ff00" fill-rule="evenodd" stroke="#a7ff00" stroke-width="0.6"/>
<path d="M749.4,1608L755.3,1608L761.5,1608L767.4,1623.1L761.5,1638.3L755.3,1638.3L758.9,1654.2L749.4,1678.6L749.4,1654.2L749.4,1623.1ZM749.4,1484.3L755,1484.3L761.5,1484.3L767.1,1498.8L761.5,1513.3L755.9,1513.3L749.4,1513.3L749.4,1498.8ZM1232.8,1605.7L1227.5,1592L1232.8,1578.3L1232.8,1592ZM1232.8,1710.4L1227.5,1685.3L1232.8,1671.6L1232.8,1685.3ZM756.2,1716.4L761.5,1702.7L766.8,1716.4L761.5,1730.1ZM804.5,1716.4L809.8,1702.7L815.2,1716.4L809.8,1730.1ZM861.1,1716.4L870.2,1692.9L874.5,1685.3L882.3,1665.1L890.2,1685.3L894.4,1702.7L899.7,1716.4L894.4,1730.1L887,1728.3L882.3,1728.3L877.7,1728.3L870.2,1739.8ZM1005.7,1716.4L1005.7,1710L1005.7,1685.3L1015.3,1660.6L1024.9,1660.6L1027.3,1660.6L1037,1685.3L1037,1691.7L1037,1716.4L1027.3,1741.1L1017.7,1741.1L1015.3,1741.1ZM1150.1,1716.4L1150.1,1711.6L1150.1,1685.3L1153.1,1672.5L1153.1,1654.2L1160.3,1635.9L1167.4,1654.2L1167.4,1672.5L1170.5,1685.3L1170.5,1690.1L1170.5,1716.4L1160.3,1742.7ZM816.6,1623.1L821.9,1609.4L827.2,1623.1L821.9,1636.8ZM889.1,1623.1L894.4,1609.4L899.7,1623.1L894.4,1636.8ZM949.5,1623.1L954.8,1609.4L960.2,1623.1L954.8,1636.8ZM1094.5,1623.1L1099.9,1609.4L1105.2,1623.1L1099.9,1636.8ZM780.3,1592L785.7,1578.3L791,1592L785.7,1605.7ZM840.7,1592L846.1,1578.3L851.4,1592L846.1,1605.7ZM874,1592L874.5,1581.1L874.5,1561L882.3,1540.8L890.2,1540.8L894.4,1538.4L903.2,1561L894.4,1583.5L890.7,1592L882.3,1613.6ZM913.3,1592L918.6,1578.3L923.9,1592L918.6,1605.7ZM937.4,1592L942.8,1578.3L948.1,1592L942.8,1605.7ZM1004.9,1592L1015.3,1565.5L1021,1561L1027.3,1544.6L1033.7,1561L1033.7,1577.3L1037.3,1592L1027.3,1617.7L1017.4,1617.7L1015.3,1618.6ZM1082.4,1592L1087.8,1578.3L1093.1,1592L1087.8,1605.7ZM1138.6,1592L1148.2,1567.3L1154.4,1576.9L1160.3,1576.9L1166.2,1576.9L1172.4,1575.7L1178.7,1592L1172.4,1608.4L1166.2,1607.2L1160.3,1607.2L1154.4,1607.2L1148.2,1616.7ZM804.5,1561L809.8,1547.3L815.2,1561L809.8,1574.7ZM1130.8,1561L1136.1,1547.3L1141.4,1561L1136.1,1574.7ZM1215.4,1561L1220.7,1547.3L1226,1561L1220.7,1574.7Z" fill="#cfff00" fill-rule="evenodd" stroke="#cfff00" stroke-width="0.6"/>
<path d="M749.4,1608.9L754.9,1608.9L761.5,1608.9L767,1623.1L761.5,1637.4L754.9,1637.4L758.7,1654.2L749.4,1678.2L749.4,1654.2L749.4,1623.1ZM749.4,1485.3L754.7,1485.3L761.5,1485.3L766.7,1498.8L761.5,1512.3L756.2,1512.3L749.4,1512.3L749.4,1498.8ZM1232.8,1604.8L1227.8,1592L1232.8,1579.3L1232.8,1592ZM1232.8,1708.6L1227.8,1685.3L1232.8,1672.6L1232.8,1685.3ZM756.5,1716.4L761.5,1703.6L766.4,1716.4L761.5,1729.1ZM804.9,1716.4L809.8,1703.6L814.8,1716.4L809.8,1729.1ZM861.3,1716.4L870.2,1693.4L874.7,1685.3L882.3,1665.7L889.9,1685.3L894.4,1703.6L899.4,1716.4L894.4,1729.1L886.6,1727.2L882.3,1727.2L878.1,1727.2L870.2,1739.4ZM1005.8,1716.4L1005.8,1709.6L1005.8,1685.3L1015.3,1660.9L1024.7,1660.9L1027.3,1660.9L1036.8,1685.3L1036.8,1692L1036.8,1716.4L1027.3,1740.7L1017.9,1740.7L1015.3,1740.7ZM1150.2,1716.4L1150.2,1711.3L1150.2,1685.3L1153.4,1671.8L1153.4,1654.2L1160.3,1636.6L1167.1,1654.2L1167.1,1671.8L1170.4,1685.3L1170.4,1690.3L1170.4,1716.4L1160.3,1742.4ZM817,1623.1L821.9,1610.4L826.9,1623.1L821.9,1635.8ZM889.5,1623.1L894.4,1610.4L899.4,1623.1L894.4,1635.8ZM949.9,1623.1L954.8,1610.4L959.8,1623.1L954.8,1635.8ZM1094.9,1623.1L1099.9,1610.4L1104.8,1623.1L1099.9,1635.8ZM780.7,1592L785.7,1579.3L790.6,1592L785.7,1604.8ZM841.1,1592L846.1,1579.3L851,1592L846.1,1604.8ZM874.2,1592L874.7,1580.5L874.7,1561L882.3,1541.4L889.9,1541.4L894.4,1538.9L903,1561L894.4,1583.1L890.5,1592L882.3,1613ZM913.6,1592L918.6,1579.3L923.5,1592L918.6,1604.8ZM937.8,1592L942.8,1579.3L947.7,1592L942.8,1604.8ZM1005,1592L1015.3,1565.7L1021.3,1561L1027.3,1545.4L1033.4,1561L1033.4,1576.5L1037.2,1592L1027.3,1617.3L1017.5,1617.3L1015.3,1618.4ZM1082.8,1592L1087.8,1579.3L1092.7,1592L1087.8,1604.8ZM1138.7,1592L1148.2,1567.7L1154.7,1577.8L1160.3,1577.8L1165.8,1577.8L1172.4,1576.5L1178.4,1592L1172.4,1607.6L1165.8,1606.3L1160.3,1606.3L1154.7,1606.3L1148.2,1616.4ZM804.9,1561L809.8,1548.2L814.8,1561L809.8,1573.7ZM1131.2,1561L1136.1,1548.2L1141.1,1561L1136.1,1573.7ZM1215.8,1561L1220.7,1548.2L1225.6,1561L1220.7,1573.7Z" fill="#f7ff00" fill-rule="evenodd" stroke="#f7ff00" stroke-width="0.6"/>
<path d="M749.4,1609.8L754.6,1609.8L761.5,1609.8L766.7,1623.1L761.5,1636.5L754.6,1636.5L758.6,1654.2L749.4,1677.8L749.4,1654.2L749.4,1623.1ZM749.4,1486.2L754.3,1486.2L761.5,1486.2L766.4,1498.8L761.5,1511.4L756.6,1511.4L749.4,1511.4L749.4,1498.8ZM1232.8,1603.8L1228.2,1592L1232.8,1580.3L1232.8,1592ZM1232.8,1706.8L1228.2,1685.3L1232.8,1673.6L1232.8,1685.3ZM756.9,1716.4L761.5,1704.6L766,1716.4L761.5,1728.1ZM805.3,1716.4L809.8,1704.6L814.4,1716.4L809.8,1728.1ZM861.5,1716.4L870.2,1693.8L875,1685.3L882.3,1666.4L889.7,1685.3L894.4,1704.6L899,1716.4L894.4,1728.1L886.1,1726.2L882.3,1726.2L878.5,1726.2L870.2,1738.9ZM1005.9,1716.4L1005.9,1709.3L1005.9,1685.3L1015.3,1661.3L1024.6,1661.3L1027.3,1661.3L1036.7,1685.3L1036.7,1692.4L1036.7,1716.4L1027.3,1740.3L1018,1740.3L1015.3,1740.3ZM1150.3,1716.4L1150.3,1711L1150.3,1685.3L1153.7,1671.1L1153.7,1654.2L1160.3,1637.3L1166.8,1654.2L1166.8,1671.1L1170.3,1685.3L1170.3,1690.6L1170.3,1716.4L1160.3,1742.1ZM817.3,1623.1L821.9,1611.4L826.5,1623.1L821.9,1634.8ZM889.9,1623.1L894.4,1611.4L899,1623.1L894.4,1634.8ZM950.3,1623.1L954.8,1611.4L959.4,1623.1L954.8,1634.8ZM1095.3,1623.1L1099.9,1611.4L1104.4,1623.1L1099.9,1634.8ZM781.1,1592L785.7,1580.3L790.2,1592L785.7,1603.8ZM841.5,1592L846.1,1580.3L850.6,1592L846.1,1603.8ZM874.4,1592L875,1579.9L875,1561L882.3,1542L889.7,1542L894.4,1539.3L902.8,1561L894.4,1582.6L890.3,1592L882.3,1612.5ZM914,1592L918.6,1580.3L923.1,1592L918.6,1603.8ZM938.2,1592L942.8,1580.3L947.3,1592L942.8,1603.8ZM1005.1,1592L1015.3,1566L1021.6,1561L1027.3,1546.3L1033.1,1561L1033.1,1575.7L1037.1,1592L1027.3,1617L1017.6,1617L1015.3,1618.1ZM1083.2,1592L1087.8,1580.3L1092.3,1592L1087.8,1603.8ZM1138.9,1592L1148.2,1568.1L1155.1,1578.7L1160.3,1578.7L1165.5,1578.7L1172.4,1577.3L1178.1,1592L1172.4,1606.7L1165.5,1605.4L1160.3,1605.4L1155.1,1605.4L1148.2,1616ZM805.3,1561L809.8,1549.2L814.4,1561L809.8,1572.7ZM1131.6,1561L1136.1,1549.2L1140.7,1561L1136.1,1572.7ZM1216.1,1561L1220.7,1549.2L1225.3,1561L1220.7,1572.7Z" fill="#ffe000" fill-rule="evenodd" stroke="#ffe000" stroke-width="0.6"/>
<path d="M749.4,1610.7L754.2,1610.7L761.5,1610.7L766.3,1623.1L761.5,1635.6L754.2,1635.6L758.4,1654.2L749.4,1677.4L749.4,1654.2L749.4,1623.1ZM749.4,1487.2L753.9,1487.2L761.5,1487.2L766,1498.8L761.5,1510.4L757,1510.4L749.4,1510.4L749.4,1498.8ZM1232.8,1602.8L1228.6,1592L1232.8,1581.3L1232.8,1592ZM1232.8,1705L1228.6,1685.3L1232.8,1674.5L1232.8,1685.3ZM757.3,1716.4L761.5,1705.6L765.7,1716.4L761.5,1727.1ZM805.6,1716.4L809.8,1705.6L814,1716.4L809.8,1727.1ZM861.6,1716.4L870.2,1694.2L875.2,1685.3L882.3,1667L889.4,1685.3L894.4,1705.6L898.6,1716.4L894.4,1727.1L885.7,1725.1L882.3,1725.1L878.9,1725.1L870.2,1738.5ZM1006.1,1716.4L1006.1,1708.9L1006.1,1685.3L1015.3,1661.7L1024.4,1661.7L1027.3,1661.7L1036.5,1685.3L1036.5,1692.7L1036.5,1716.4L1027.3,1740L1018.2,1740L1015.3,1740ZM1150.4,1716.4L1150.4,1710.8L1150.4,1685.3L1154,1670.4L1154,1654.2L1160.3,1638L1166.6,1654.2L1166.6,1670.4L1170.2,1685.3L1170.2,1690.9L1170.2,1716.4L1160.3,1741.8ZM817.7,1623.1L821.9,1612.4L826.1,1623.1L821.9,1633.9ZM890.2,1623.1L894.4,1612.4L898.6,1623.1L894.4,1633.9ZM950.7,1623.1L954.8,1612.4L959,1623.1L954.8,1633.9ZM1095.7,1623.1L1099.9,1612.4L1104,1623.1L1099.9,1633.9ZM781.5,1592L785.7,1581.3L789.8,1592L785.7,1602.8ZM841.9,1592L846.1,1581.3L850.3,1592L846.1,1602.8ZM874.6,1592L875.2,1579.3L875.2,1561L882.3,1542.7L889.4,1542.7L894.4,1539.8L902.6,1561L894.4,1582.1L890.1,1592L882.3,1611.9ZM914.4,1592L918.6,1581.3L922.8,1592L918.6,1602.8ZM938.6,1592L942.8,1581.3L946.9,1592L942.8,1602.8ZM1005.2,1592L1015.3,1566.2L1022,1561L1027.3,1547.1L1032.7,1561L1032.7,1574.8L1036.9,1592L1027.3,1616.7L1017.7,1616.7L1015.3,1617.9ZM1083.6,1592L1087.8,1581.3L1091.9,1592L1087.8,1602.8ZM1139,1592L1148.2,1568.4L1155.4,1579.6L1160.3,1579.6L1165.1,1579.6L1172.4,1578.2L1177.8,1592L1172.4,1605.9L1165.1,1604.5L1160.3,1604.5L1155.4,1604.5L1148.2,1615.7ZM805.6,1561L809.8,1550.2L814,1561L809.8,1571.7ZM1131.9,1561L1136.1,1550.2L1140.3,1561L1136.1,1571.7ZM1216.5,1561L1220.7,1550.2L1224.9,1561L1220.7,1571.7Z" fill="#ffb800" fill-rule="evenodd" stroke="#ffb800" stroke-width="0.6"/>
<path d="M749.4,1611.6L753.9,1611.6L761.5,1611.6L766,1623.1L761.5,1634.6L753.9,1634.6L758.3,1654.2L749.4,1677L749.4,1654.2L749.4,1623.1ZM749.4,1488.1L753.6,1488.1L761.5,1488.1L765.6,1498.8L761.5,1509.5L757.3,1509.5L749.4,1509.5L749.4,1498.8ZM1232.8,1601.8L1229,1592L1232.8,1582.3L1232.8,1592ZM1232.8,1703.2L1229,1685.3L1232.8,1675.5L1232.8,1685.3ZM757.7,1716.4L761.5,1706.6L765.3,1716.4L761.5,1726.1ZM806,1716.4L809.8,1706.6L813.6,1716.4L809.8,1726.1ZM861.8,1716.4L870.2,1694.7L875.5,1685.3L882.3,1667.6L889.2,1685.3L894.4,1706.6L898.2,1716.4L894.4,1726.1L885.3,1724L882.3,1724L879.4,1724L870.2,1738.1ZM1006.2,1716.4L1006.2,1708.5L1006.2,1685.3L1015.3,1662L1024.3,1662L1027.3,1662L1036.4,1685.3L1036.4,1693.1L1036.4,1716.4L1027.3,1739.6L1018.3,1739.6L1015.3,1739.6ZM1150.5,1716.4L1150.5,1710.5L1150.5,1685.3L1154.3,1669.6L1154.3,1654.2L1160.3,1638.8L1166.3,1654.2L1166.3,1669.6L1170.1,1685.3L1170.1,1691.1L1170.1,1716.4L1160.3,1741.6ZM818.1,1623.1L821.9,1613.4L825.7,1623.1L821.9,1632.9ZM890.6,1623.1L894.4,1613.4L898.2,1623.1L894.4,1632.9ZM951,1623.1L954.8,1613.4L958.6,1623.1L954.8,1632.9ZM1096.1,1623.1L1099.9,1613.4L1103.6,1623.1L1099.9,1632.9ZM781.9,1592L785.7,1582.3L789.4,1592L785.7,1601.8ZM842.3,1592L846.1,1582.3L849.9,1592L846.1,1601.8ZM874.8,1592L875.5,1578.6L875.5,1561L882.3,1543.3L889.2,1543.3L894.4,1540.3L902.4,1561L894.4,1581.6L889.9,1592L882.3,1611.4ZM914.8,1592L918.6,1582.3L922.4,1592L918.6,1601.8ZM939,1592L942.8,1582.3L946.5,1592L942.8,1601.8ZM1005.3,1592L1015.3,1566.5L1022.3,1561L1027.3,1547.9L1032.4,1561L1032.4,1574L1036.8,1592L1027.3,1616.4L1017.9,1616.4L1015.3,1617.6ZM1084,1592L1087.8,1582.3L1091.6,1592L1087.8,1601.8ZM1139.2,1592L1148.2,1568.8L1155.8,1580.5L1160.3,1580.5L1164.8,1580.5L1172.4,1579L1177.4,1592L1172.4,1605.1L1164.8,1603.6L1160.3,1603.6L1155.8,1603.6L1148.2,1615.3ZM806,1561L809.8,1551.2L813.6,1561L809.8,1570.7ZM1132.3,1561L1136.1,1551.2L1139.9,1561L1136.1,1570.7ZM1216.9,1561L1220.7,1551.2L1224.5,1561L1220.7,1570.7Z" fill="#ff9100" fill-rule="evenodd" stroke="#ff9100" stroke-width="0.6"/>
<path d="M749.4,1612.5L753.5,1612.5L761.5,1612.5L765.6,1623.1L761.5,1633.7L753.5,1633.7L758.1,1654.2L749.4,1676.7L749.4,1654.2L749.4,1623.1ZM749.4,1489.1L753.2,1489.1L761.5,1489.1L765.3,1498.8L761.5,1508.5L757.7,1508.5L749.4,1508.5L749.4,1498.8ZM1232.8,1600.8L1229.4,1592L1232.8,1583.3L1232.8,1592ZM1232.8,1701.3L1229.4,1685.3L1232.8,1676.5L1232.8,1685.3ZM758.1,1716.4L761.5,1707.6L764.9,1716.4L761.5,1725.1ZM806.4,1716.4L809.8,1707.6L813.2,1716.4L809.8,1725.1ZM862,1716.4L870.2,1695.1L875.7,1685.3L882.3,1668.2L889,1685.3L894.4,1707.6L897.8,1716.4L894.4,1725.1L884.9,1722.9L882.3,1722.9L879.8,1722.9L870.2,1737.6ZM1006.4,1716.4L1006.4,1708.2L1006.4,1685.3L1015.3,1662.4L1024.2,1662.4L1027.3,1662.4L1036.3,1685.3L1036.3,1693.5L1036.3,1716.4L1027.3,1739.3L1018.4,1739.3L1015.3,1739.3ZM1150.6,1716.4L1150.6,1710.2L1150.6,1685.3L1154.6,1668.9L1154.6,1654.2L1160.3,1639.5L1166,1654.2L1166,1668.9L1170,1685.3L1170,1691.4L1170,1716.4L1160.3,1741.3ZM818.5,1623.1L821.9,1614.4L825.3,1623.1L821.9,1631.9ZM891,1623.1L894.4,1614.4L897.8,1623.1L894.4,1631.9ZM951.4,1623.1L954.8,1614.4L958.2,1623.1L954.8,1631.9ZM1096.5,1623.1L1099.9,1614.4L1103.3,1623.1L1099.9,1631.9ZM782.2,1592L785.7,1583.3L789.1,1592L785.7,1600.8ZM842.7,1592L846.1,1583.3L849.5,1592L846.1,1600.8ZM875,1592L875.7,1578L875.7,1561L882.3,1543.9L889,1543.9L894.4,1540.8L902.3,1561L894.4,1581.1L889.6,1592L882.3,1610.8ZM915.2,1592L918.6,1583.3L922,1592L918.6,1600.8ZM939.3,1592L942.8,1583.3L946.2,1592L942.8,1600.8ZM1005.4,1592L1015.3,1566.7L1022.6,1561L1027.3,1548.8L1032.1,1561L1032.1,1573.2L1036.7,1592L1027.3,1616.1L1018,1616.1L1015.3,1617.3ZM1084.4,1592L1087.8,1583.3L1091.2,1592L1087.8,1600.8ZM1139.3,1592L1148.2,1569.1L1156.2,1581.4L1160.3,1581.4L1164.4,1581.4L1172.4,1579.8L1177.1,1592L1172.4,1604.2L1164.4,1602.7L1160.3,1602.7L1156.2,1602.7L1148.2,1614.9ZM806.4,1561L809.8,1552.2L813.2,1561L809.8,1569.7ZM1132.7,1561L1136.1,1552.2L1139.5,1561L1136.1,1569.7ZM1217.3,1561L1220.7,1552.2L1224.1,1561L1220.7,1569.7Z" fill="#ff6900" fill-rule="evenodd" stroke="#ff6900" stroke-width="0.6"/>
<path d="M749.4,1613.4L753.2,1613.4L761.5,1613.4L765.3,1623.1L761.5,1632.8L753.2,1632.8L758,1654.2L749.4,1676.3L749.4,1654.2L749.4,1623.1ZM749.4,1490L752.8,1490L761.5,1490L764.9,1498.8L761.5,1507.6L758.1,1507.6L749.4,1507.6L749.4,1498.8ZM1232.8,1599.8L1229.8,1592L1232.8,1584.3L1232.8,1592ZM1232.8,1699.5L1229.8,1685.3L1232.8,1677.5L1232.8,1685.3ZM758.5,1716.4L761.5,1708.6L764.5,1716.4L761.5,1724.1ZM806.8,1716.4L809.8,1708.6L812.8,1716.4L809.8,1724.1ZM862.2,1716.4L870.2,1695.5L875.9,1685.3L882.3,1668.9L888.7,1685.3L894.4,1708.6L897.4,1716.4L894.4,1724.1L884.4,1721.8L882.3,1721.8L880.2,1721.8L870.2,1737.2ZM1006.5,1716.4L1006.5,1707.8L1006.5,1685.3L1015.3,1662.7L1024,1662.7L1027.3,1662.7L1036.1,1685.3L1036.1,1693.8L1036.1,1716.4L1027.3,1738.9L1018.6,1738.9L1015.3,1738.9ZM1150.7,1716.4L1150.7,1709.9L1150.7,1685.3L1154.8,1668.2L1154.8,1654.2L1160.3,1640.2L1165.7,1654.2L1165.7,1668.2L1169.9,1685.3L1169.9,1691.7L1169.9,1716.4L1160.3,1741ZM818.9,1623.1L821.9,1615.3L824.9,1623.1L821.9,1630.9ZM891.4,1623.1L894.4,1615.3L897.4,1623.1L894.4,1630.9ZM951.8,1623.1L954.8,1615.3L957.9,1623.1L954.8,1630.9ZM1096.8,1623.1L1099.9,1615.3L1102.9,1623.1L1099.9,1630.9ZM782.6,1592L785.7,1584.3L788.7,1592L785.7,1599.8ZM843.1,1592L846.1,1584.3L849.1,1592L846.1,1599.8ZM875.2,1592L875.9,1577.4L875.9,1561L882.3,1544.5L888.7,1544.5L894.4,1541.3L902.1,1561L894.4,1580.6L889.4,1592L882.3,1610.3ZM915.6,1592L918.6,1584.3L921.6,1592L918.6,1599.8ZM939.7,1592L942.8,1584.3L945.8,1592L942.8,1599.8ZM1005.5,1592L1015.3,1567L1022.9,1561L1027.3,1549.6L1031.8,1561L1031.8,1572.3L1036.6,1592L1027.3,1615.8L1018.1,1615.8L1015.3,1617.1ZM1084.7,1592L1087.8,1584.3L1090.8,1592L1087.8,1599.8ZM1139.4,1592L1148.2,1569.5L1156.5,1582.3L1160.3,1582.3L1164.1,1582.3L1172.4,1580.7L1176.8,1592L1172.4,1603.4L1164.1,1601.8L1160.3,1601.8L1156.5,1601.8L1148.2,1614.6ZM806.8,1561L809.8,1553.2L812.8,1561L809.8,1568.7ZM1133.1,1561L1136.1,1553.2L1139.1,1561L1136.1,1568.7ZM1217.7,1561L1220.7,1553.2L1223.7,1561L1220.7,1568.7Z" fill="#ff4100" fill-rule="evenodd" stroke="#ff4100" stroke-width="0.6"/>
<path d="M749.4,1614.3L752.8,1614.3L761.5,1614.3L764.9,1623.1L761.5,1631.9L752.8,1631.9L757.8,1654.2L749.4,1675.9L749.4,1654.2L749.4,1623.1ZM749.4,1491L752.4,1491L761.5,1491L764.5,1498.8L761.5,1506.6L758.4,1506.6L749.4,1506.6L749.4,1498.8ZM1232.8,1598.8L1230.2,1592L1232.8,1585.3L1232.8,1592ZM1232.8,1697.7L1230.2,1685.3L1232.8,1678.5L1232.8,1685.3ZM758.8,1716.4L761.5,1709.6L764.1,1716.4L761.5,1723.1ZM807.2,1716.4L809.8,1709.6L812.5,1716.4L809.8,1723.1ZM862.3,1716.4L870.2,1696L876.2,1685.3L882.3,1669.5L888.5,1685.3L894.4,1709.6L897.1,1716.4L894.4,1723.1L884,1720.7L882.3,1720.7L880.6,1720.7L870.2,1736.7ZM1006.6,1716.4L1006.6,1707.5L1006.6,1685.3L1015.3,1663.1L1023.9,1663.1L1027.3,1663.1L1036,1685.3L1036,1694.2L1036,1716.4L1027.3,1738.5L1018.7,1738.5L1015.3,1738.5ZM1150.8,1716.4L1150.8,1709.7L1150.8,1685.3L1155.1,1667.5L1155.1,1654.2L1160.3,1640.9L1165.4,1654.2L1165.4,1667.5L1169.8,1685.3L1169.8,1692L1169.8,1716.4L1160.3,1740.8ZM819.3,1623.1L821.9,1616.3L824.5,1623.1L821.9,1629.9ZM891.8,1623.1L894.4,1616.3L897.1,1623.1L894.4,1629.9ZM952.2,1623.1L954.8,1616.3L957.5,1623.1L954.8,1629.9ZM1097.2,1623.1L1099.9,1616.3L1102.5,1623.1L1099.9,1629.9ZM783,1592L785.7,1585.3L788.3,1592L785.7,1598.8ZM843.4,1592L846.1,1585.3L848.7,1592L846.1,1598.8ZM875.4,1592L876.2,1576.8L876.2,1561L882.3,1545.2L888.5,1545.2L894.4,1541.8L901.9,1561L894.4,1580.2L889.2,1592L882.3,1609.8ZM915.9,1592L918.6,1585.3L921.2,1592L918.6,1598.8ZM940.1,1592L942.8,1585.3L945.4,1592L942.8,1598.8ZM1005.6,1592L1015.3,1567.2L1023.3,1561L1027.3,1550.4L1031.4,1561L1031.4,1571.5L1036.5,1592L1027.3,1615.5L1018.2,1615.5L1015.3,1616.8ZM1085.1,1592L1087.8,1585.3L1090.4,1592L1087.8,1598.8ZM1139.6,1592L1148.2,1569.9L1156.9,1583.2L1160.3,1583.2L1163.7,1583.2L1172.4,1581.5L1176.5,1592L1172.4,1602.6L1163.7,1600.8L1160.3,1600.8L1156.9,1600.8L1148.2,1614.2ZM807.2,1561L809.8,1554.2L812.5,1561L809.8,1567.7ZM1133.5,1561L1136.1,1554.2L1138.7,1561L1136.1,1567.7ZM1218.1,1561L1220.7,1554.2L1223.3,1561L1220.7,1567.7Z" fill="#ff0000" fill-rule="evenodd" stroke="#ff0000" stroke-width="0.6"/>
</g>
<rect x="749.4" y="1344.7" width="485.2" height="400" fill="none" stroke="#101030" stroke-width="1.3"/>
<line x1="740.4" y1="1343.4" x2="749.4" y2="1343.4" stroke="#222" stroke-width="1.4"/>
<text x="722.8" y="1350.2" font-size="33.5" text-anchor="middle">15</text>
<line x1="744.4" y1="1421.1" x2="749.4" y2="1421.1" stroke="#222" stroke-width="1.4"/>
<line x1="740.1" y1="1498.8" x2="749.4" y2="1498.8" stroke="#222" stroke-width="1.4"/>
<text x="722.8" y="1505.6" font-size="33.5" text-anchor="middle">10</text>
<line x1="744.4" y1="1576.5" x2="749.4" y2="1576.5" stroke="#222" stroke-width="1.4"/>
<line x1="740.1" y1="1654.2" x2="749.4" y2="1654.2" stroke="#222" stroke-width="1.4"/>
<text x="722.8" y="1661" font-size="33.5" text-anchor="middle">5</text>
<text transform="translate(696.2 1576.8) rotate(-90)" font-size="33.5" text-anchor="middle" letter-spacing="1.2">Z(Å)</text>
<text x="891" y="1392.2" font-size="33.5" font-weight="bold" fill="#fff">Na<tspan dy="-13" font-size="20">+</tspan><tspan dy="13"> @ a-CNT</tspan></text>
<rect x="1379.9" y="1345.2" width="483.4" height="359.8" fill="#0000ff"/>
<g clip-path="url(#cg3)">
<path d="M1379.9,1657.4L1391,1686L1379.9,1714.6L1379.9,1686ZM1861.5,1555.8L1851.7,1530.7L1861.5,1505.5L1861.5,1530.7ZM1861.5,1618L1851.7,1592.8L1861.5,1567.6L1861.5,1592.8ZM1861.5,1742.3L1851.7,1717.1L1851.7,1711.2L1851.7,1686L1861.5,1660.9L1861.5,1686L1861.5,1717.1ZM1392.7,1717.1L1392.7,1688L1392.4,1686L1404,1656.1L1406.8,1662.3L1416,1662.3L1425.2,1686L1425.2,1693.4L1425.2,1717.1L1416,1740.8L1406.8,1740.8L1404,1746.2ZM1430,1717.1L1440.1,1690.9L1450.2,1717.1L1440.1,1743.2ZM1465.6,1717.1L1465.8,1712.9L1465.8,1686L1464.2,1680.1L1454.4,1654.9L1464.2,1629.8L1466.1,1623.9L1465.2,1621.2L1464.2,1622.3L1452.8,1592.8L1457.9,1578.1L1457.9,1561.7L1464.2,1545.4L1471.8,1530.7L1476.2,1519.3L1480.6,1530.7L1480.6,1542.1L1487.5,1561.7L1487.2,1564.4L1487.2,1592.8L1486.4,1597.7L1486.4,1623.9L1488.3,1629.8L1498,1654.9L1494.6,1669.7L1494.6,1686L1488.3,1702.3L1486.8,1717.1L1476.2,1744.5ZM1500.7,1717.1L1500.7,1687L1500.6,1686L1500.7,1685L1500.7,1654.9L1501.4,1652L1501.4,1623.9L1512.3,1595.8L1523.2,1623.9L1524.4,1627.6L1525,1623.9L1536.4,1594.4L1547.9,1623.9L1548.5,1638.6L1554.8,1654.9L1554.8,1669.7L1554.8,1686L1548.5,1702.3L1548.1,1717.1L1536.4,1747.2L1524.8,1747.2L1524.4,1747.6L1524,1747.2L1512.3,1747.2ZM1574.4,1717.1L1574.8,1711.2L1574.8,1686L1574.8,1680.1L1574.8,1654.9L1584.6,1629.8L1594.3,1629.8L1596.6,1624.9L1598,1623.9L1608.7,1596.5L1619.3,1623.9L1620.7,1624.6L1632.5,1654.9L1629.9,1662.3L1629.9,1686L1620.7,1709.7L1619.6,1717.1L1608.7,1745.2L1597.8,1745.2L1596.6,1747.4L1594.7,1743.2L1584.6,1743.2ZM1657.2,1717.1L1656.8,1709.7L1647.6,1686L1647.6,1662.3L1647.1,1654.9L1647.1,1629.8L1646.7,1623.9L1647.6,1616.5L1647.6,1592.8L1656.8,1569.1L1662.5,1561.7L1668.9,1545.4L1675.2,1561.7L1680.9,1571.6L1689.1,1592.8L1689.1,1614L1691,1623.9L1691,1628.8L1691,1654.9L1690.1,1662.3L1690.1,1686L1680.9,1709.7L1680.5,1717.1L1668.9,1747.2ZM1741.9,1717.1L1741.9,1688L1741.5,1686L1741.1,1676.2L1732.9,1654.9L1741.1,1633.7L1741.7,1623.9L1753.1,1594.4L1764.5,1623.9L1765.2,1638.6L1771.5,1638.6L1777.2,1629.8L1781,1623.9L1789.3,1602.6L1797.5,1602.6L1801.3,1597L1811.7,1623.9L1813.3,1629.8L1823.1,1654.9L1823.1,1680.1L1824.7,1686L1813.3,1715.4L1802,1715.4L1801.3,1715.7L1800,1713.8L1797.5,1717.1L1789.3,1738.3L1781,1738.3L1777.2,1738.3L1769,1717.1L1769,1695.9L1767.1,1686L1765.2,1671.3L1764.8,1686L1764.4,1688L1764.4,1717.1L1753.1,1746.2ZM1405.6,1592.8L1405.6,1566L1404.9,1561.7L1404.9,1559.3L1404.9,1530.7L1416,1502.1L1427.1,1530.7L1427.1,1559.3L1427.2,1561.7L1426.4,1566L1426.4,1592.8L1416,1619.7ZM1767.5,1592.8L1767.5,1586.9L1767.5,1561.7L1777.2,1536.6L1787,1561.7L1787,1567.6L1787,1592.8L1777.2,1618ZM1803.2,1592.8L1813.3,1566.7L1815.2,1561.7L1813.3,1559.5L1802.2,1530.7L1813.3,1501.9L1815,1499.6L1825.4,1472.7L1835.8,1499.6L1835.8,1526.5L1836.6,1530.7L1835.5,1535.6L1835.5,1561.7L1825.4,1587.9L1823.5,1592.8L1813.3,1619ZM1429.8,1561.7L1440.1,1535.2L1450.4,1561.7L1440.1,1588.3ZM1609.7,1561.7L1620.7,1533.4L1631.7,1561.7L1620.7,1590.1ZM1392.5,1499.6L1404,1469.9L1415.5,1499.6L1404,1529.3Z" fill="#001aff" fill-rule="evenodd" stroke="#001aff" stroke-width="0.6"/>
<path d="M1379.9,1658.1L1390.7,1686L1379.9,1714L1379.9,1686ZM1861.5,1554.3L1852.3,1530.7L1861.5,1507.1L1861.5,1530.7ZM1861.5,1616.4L1852.3,1592.8L1861.5,1569.2L1861.5,1592.8ZM1861.5,1740.7L1852.3,1717.1L1852.3,1709.6L1852.3,1686L1861.5,1662.4L1861.5,1686L1861.5,1717.1ZM1392.9,1717.1L1392.9,1688.5L1392.5,1686L1404,1656.4L1407.6,1664.3L1416,1664.3L1424.4,1686L1424.4,1695.3L1424.4,1717.1L1416,1738.8L1407.6,1738.8L1404,1745.7ZM1430.5,1717.1L1440.1,1692.2L1449.7,1717.1L1440.1,1741.9ZM1466,1717.1L1466.2,1711.8L1466.2,1686L1464.2,1678.6L1455,1654.9L1464.2,1631.3L1466.6,1623.9L1465.5,1620.5L1464.2,1621.9L1452.9,1592.8L1459.4,1574.2L1459.4,1561.7L1464.2,1549.3L1473.8,1530.7L1476.2,1524.5L1478.6,1530.7L1478.6,1536.9L1487.3,1561.7L1486.9,1565.1L1486.9,1592.8L1485.9,1599L1485.9,1623.9L1488.3,1631.3L1497.4,1654.9L1493.1,1673.6L1493.1,1686L1488.3,1698.4L1486.5,1717.1L1476.2,1743.5ZM1500.8,1717.1L1500.8,1687.3L1500.7,1686L1500.8,1684.8L1500.8,1654.9L1501.7,1651.2L1501.7,1623.9L1512.3,1596.5L1522.9,1623.9L1524.4,1628.5L1525.1,1623.9L1536.4,1594.8L1547.7,1623.9L1548.5,1642.5L1553.3,1654.9L1553.3,1673.6L1553.3,1686L1548.5,1698.4L1548,1717.1L1536.4,1746.9L1524.9,1746.9L1524.4,1747.5L1523.9,1746.9L1512.3,1746.9ZM1574.9,1717.1L1575.4,1709.6L1575.4,1686L1575.4,1678.6L1575.4,1654.9L1584.6,1631.3L1593.7,1631.3L1596.6,1625.2L1598.4,1623.9L1608.7,1597.5L1618.9,1623.9L1620.7,1624.8L1632.4,1654.9L1629.1,1664.3L1629.1,1686L1620.7,1707.8L1619.3,1717.1L1608.7,1744.4L1598.1,1744.4L1596.6,1747.2L1594.2,1741.9L1584.6,1741.9ZM1657.3,1717.1L1656.8,1707.8L1648.4,1686L1648.4,1664.3L1647.7,1654.9L1647.7,1631.3L1647.2,1623.9L1648.4,1614.6L1648.4,1592.8L1656.8,1571.1L1664,1561.7L1668.9,1549.3L1673.7,1561.7L1680.9,1574.2L1688.1,1592.8L1688.1,1611.5L1690.5,1623.9L1690.5,1630.1L1690.5,1654.9L1689.3,1664.3L1689.3,1686L1680.9,1707.8L1680.4,1717.1L1668.9,1746.9ZM1742.1,1717.1L1742.1,1688.5L1741.6,1686L1741.1,1673.6L1733.9,1654.9L1741.1,1636.3L1741.9,1623.9L1753.1,1594.9L1764.4,1623.9L1765.2,1642.5L1770,1642.5L1777.2,1631.3L1782,1623.9L1789.3,1605.2L1796.5,1605.2L1801.3,1598.1L1811.3,1623.9L1813.3,1631.3L1822.5,1654.9L1822.5,1678.6L1824.5,1686L1813.3,1714.9L1802.1,1714.9L1801.3,1715.4L1799.7,1712.9L1796.5,1717.1L1789.3,1735.7L1782,1735.7L1777.2,1735.7L1770,1717.1L1770,1698.4L1767.6,1686L1765.2,1667.4L1764.7,1686L1764.2,1688.5L1764.2,1717.1L1753.1,1745.7ZM1406,1592.8L1406,1567.1L1405.1,1561.7L1405.2,1558.6L1405.2,1530.7L1416,1502.7L1426.9,1530.7L1426.9,1558.6L1426.9,1561.7L1426,1567.1L1426,1592.8L1416,1618.6ZM1768.1,1592.8L1768.1,1585.4L1768.1,1561.7L1777.2,1538.1L1786.4,1561.7L1786.4,1569.2L1786.4,1592.8L1777.2,1616.4ZM1803.7,1592.8L1813.3,1568L1815.7,1561.7L1813.3,1558.9L1802.4,1530.7L1813.3,1502.5L1815.4,1499.6L1825.4,1473.9L1835.4,1499.6L1835.4,1525.3L1836.3,1530.7L1835,1536.9L1835,1561.7L1825.4,1586.6L1823,1592.8L1813.3,1617.7ZM1430.3,1561.7L1440.1,1536.4L1449.9,1561.7L1440.1,1587.1ZM1610,1561.7L1620.7,1534.1L1631.4,1561.7L1620.7,1589.4ZM1392.6,1499.6L1404,1470.3L1415.3,1499.6L1404,1528.9Z" fill="#0040ff" fill-rule="evenodd" stroke="#0040ff" stroke-width="0.6"/>
<path d="M1379.9,1658.7L1390.5,1686L1379.9,1713.3L1379.9,1686ZM1861.5,1552.7L1852.9,1530.7L1861.5,1508.6L1861.5,1530.7ZM1861.5,1614.9L1852.9,1592.8L1861.5,1570.8L1861.5,1592.8ZM1861.5,1739.1L1852.9,1717.1L1852.9,1708.1L1852.9,1686L1861.5,1664L1861.5,1686L1861.5,1717.1ZM1393.1,1717.1L1393.1,1689L1392.6,1686L1404,1656.8L1408.3,1666.2L1416,1666.2L1423.7,1686L1423.7,1697.3L1423.7,1717.1L1416,1736.9L1408.3,1736.9L1404,1745.2ZM1431,1717.1L1440.1,1693.5L1449.2,1717.1L1440.1,1740.7ZM1466.4,1717.1L1466.7,1710.7L1466.7,1686L1464.2,1677L1455.6,1654.9L1464.2,1632.9L1467.1,1623.9L1465.8,1619.8L1464.2,1621.5L1453.1,1592.8L1460.9,1570.3L1460.9,1561.7L1464.2,1553.2L1475.8,1530.7L1476.2,1529.6L1476.6,1530.7L1476.6,1531.7L1487.1,1561.7L1486.7,1565.8L1486.7,1592.8L1485.3,1600.3L1485.3,1623.9L1488.3,1632.9L1496.8,1654.9L1491.6,1677.5L1491.6,1686L1488.3,1694.6L1486.1,1717.1L1476.2,1742.5ZM1500.9,1717.1L1500.9,1687.5L1500.7,1686L1500.9,1684.5L1500.9,1654.9L1502,1650.4L1502,1623.9L1512.3,1597.3L1522.6,1623.9L1524.4,1629.5L1525.3,1623.9L1536.4,1595.2L1547.5,1623.9L1548.5,1646.4L1551.8,1654.9L1551.8,1677.5L1551.8,1686L1548.5,1694.6L1547.9,1717.1L1536.4,1746.7L1525,1746.7L1524.4,1747.3L1523.8,1746.7L1512.3,1746.7ZM1575.4,1717.1L1576,1708.1L1576,1686L1576,1677L1576,1654.9L1584.6,1632.9L1593.1,1632.9L1596.6,1625.5L1598.8,1623.9L1608.7,1598.4L1618.5,1623.9L1620.7,1625L1632.3,1654.9L1628.4,1666.2L1628.4,1686L1620.7,1705.8L1619,1717.1L1608.7,1743.7L1598.4,1743.7L1596.6,1747L1593.7,1740.7L1584.6,1740.7ZM1657.4,1717.1L1656.8,1705.8L1649.1,1686L1649.1,1666.2L1648.3,1654.9L1648.3,1632.9L1647.7,1623.9L1649.1,1612.6L1649.1,1592.8L1656.8,1573L1665.5,1561.7L1668.9,1553.2L1672.2,1561.7L1680.9,1576.8L1687.1,1592.8L1687.1,1608.9L1690,1623.9L1690,1631.4L1690,1654.9L1688.6,1666.2L1688.6,1686L1680.9,1705.8L1680.3,1717.1L1668.9,1746.7ZM1742.3,1717.1L1742.3,1689L1741.7,1686L1741.1,1671L1734.9,1654.9L1741.1,1638.9L1742.1,1623.9L1753.1,1595.3L1764.2,1623.9L1765.2,1646.4L1768.5,1646.4L1777.2,1632.9L1783,1623.9L1789.3,1607.8L1795.5,1607.8L1801.3,1599.2L1810.8,1623.9L1813.3,1632.9L1821.9,1654.9L1821.9,1677L1824.3,1686L1813.3,1714.4L1802.3,1714.4L1801.3,1715L1799.4,1712.1L1795.5,1717.1L1789.3,1733.1L1783,1733.1L1777.2,1733.1L1771,1717.1L1771,1701L1768.1,1686L1765.2,1663.5L1764.6,1686L1764,1689L1764,1717.1L1753.1,1745.2ZM1406.5,1592.8L1406.5,1568.2L1405.3,1561.7L1405.4,1558L1405.4,1530.7L1416,1503.4L1426.6,1530.7L1426.6,1558L1426.7,1561.7L1425.6,1568.2L1425.6,1592.8L1416,1617.4ZM1768.7,1592.8L1768.7,1583.8L1768.7,1561.7L1777.2,1539.7L1785.8,1561.7L1785.8,1570.8L1785.8,1592.8L1777.2,1614.9ZM1804.2,1592.8L1813.3,1569.2L1816.2,1561.7L1813.3,1558.3L1802.6,1530.7L1813.3,1503.1L1815.8,1499.6L1825.4,1475L1834.9,1499.6L1834.9,1524.2L1836.1,1530.7L1834.5,1538.2L1834.5,1561.7L1825.4,1585.3L1822.5,1592.8L1813.3,1616.4ZM1430.7,1561.7L1440.1,1537.6L1449.5,1561.7L1440.1,1585.9ZM1610.2,1561.7L1620.7,1534.8L1631.1,1561.7L1620.7,1588.7ZM1392.8,1499.6L1404,1470.7L1415.2,1499.6L1404,1528.5Z" fill="#0065ff" fill-rule="evenodd" stroke="#0065ff" stroke-width="0.6"/>
<path d="M1379.9,1659.4L1390.2,1686L1379.9,1712.7L1379.9,1686ZM1861.5,1551.2L1853.5,1530.7L1861.5,1510.2L1861.5,1530.7ZM1861.5,1613.3L1853.5,1592.8L1861.5,1572.3L1861.5,1592.8ZM1861.5,1737.6L1853.5,1717.1L1853.5,1706.5L1853.5,1686L1861.5,1665.5L1861.5,1686L1861.5,1717.1ZM1393.3,1717.1L1393.3,1689.5L1392.8,1686L1404,1657.1L1409.1,1668.2L1416,1668.2L1422.9,1686L1422.9,1699.2L1422.9,1717.1L1416,1735L1409.1,1735L1404,1744.6ZM1431.5,1717.1L1440.1,1694.8L1448.7,1717.1L1440.1,1739.4ZM1466.7,1717.1L1467.1,1709.5L1467.1,1686L1464.2,1675.5L1456.2,1654.9L1464.2,1634.4L1467.6,1623.9L1466,1619.1L1464.2,1621L1453.2,1592.8L1462.4,1566.4L1462.4,1561.7L1464.2,1557.1L1471.4,1543.1L1476.2,1531.1L1486.8,1561.7L1486.4,1566.5L1486.4,1592.8L1484.8,1601.6L1484.8,1623.9L1488.3,1634.4L1496.2,1654.9L1490.1,1681.4L1490.1,1686L1488.3,1690.7L1485.7,1717.1L1476.2,1741.6ZM1501,1717.1L1501,1687.8L1500.8,1686L1501,1684.3L1501,1654.9L1502.3,1649.7L1502.3,1623.9L1512.3,1598.1L1522.3,1623.9L1524.4,1630.5L1525.5,1623.9L1536.4,1595.6L1547.4,1623.9L1548.5,1650.3L1550.3,1654.9L1550.3,1681.4L1550.3,1686L1548.5,1690.7L1547.8,1717.1L1536.4,1746.4L1525.1,1746.4L1524.4,1747.2L1523.7,1746.4L1512.3,1746.4ZM1575.9,1717.1L1576.6,1706.5L1576.6,1686L1576.6,1675.5L1576.6,1654.9L1584.6,1634.4L1592.5,1634.4L1596.6,1625.8L1599.2,1623.9L1608.7,1599.4L1618.1,1623.9L1620.7,1625.2L1632.2,1654.9L1627.6,1668.2L1627.6,1686L1620.7,1703.9L1618.7,1717.1L1608.7,1742.9L1598.7,1742.9L1596.6,1746.8L1593.2,1739.4L1584.6,1739.4ZM1657.5,1717.1L1656.8,1703.9L1649.9,1686L1649.9,1668.2L1648.9,1654.9L1648.9,1634.4L1648.2,1623.9L1649.9,1610.7L1649.9,1592.8L1656.8,1574.9L1667.1,1561.7L1668.9,1557.1L1670.7,1561.7L1680.9,1579.3L1686.1,1592.8L1686.1,1606.3L1689.5,1623.9L1689.5,1632.7L1689.5,1654.9L1687.8,1668.2L1687.8,1686L1680.9,1703.9L1680.2,1717.1L1668.9,1746.4ZM1742.5,1717.1L1742.5,1689.5L1741.8,1686L1741.1,1668.4L1735.9,1654.9L1741.1,1641.5L1742.2,1623.9L1753.1,1595.7L1764,1623.9L1765.2,1650.3L1767,1650.3L1777.2,1634.4L1784,1623.9L1789.3,1610.4L1794.5,1610.4L1801.3,1600.4L1810.4,1623.9L1813.3,1634.4L1821.3,1654.9L1821.3,1675.5L1824.2,1686L1813.3,1714L1802.5,1714L1801.3,1714.7L1799,1711.2L1794.5,1717.1L1789.3,1730.6L1784,1730.6L1777.2,1730.6L1772,1717.1L1772,1703.6L1768.6,1686L1765.2,1659.6L1764.4,1686L1763.8,1689.5L1763.8,1717.1L1753.1,1744.6ZM1406.9,1592.8L1406.9,1569.3L1405.6,1561.7L1405.7,1557.3L1405.7,1530.7L1416,1504L1426.4,1530.7L1426.4,1557.3L1426.5,1561.7L1425.1,1569.3L1425.1,1592.8L1416,1616.3ZM1769.3,1592.8L1769.3,1582.2L1769.3,1561.7L1777.2,1541.2L1785.2,1561.7L1785.2,1572.3L1785.2,1592.8L1777.2,1613.3ZM1804.7,1592.8L1813.3,1570.5L1816.7,1561.7L1813.3,1557.7L1802.9,1530.7L1813.3,1503.7L1816.3,1499.6L1825.4,1476.1L1834.5,1499.6L1834.5,1523.1L1835.9,1530.7L1834,1539.5L1834,1561.7L1825.4,1584L1822,1592.8L1813.3,1615.1ZM1431.2,1561.7L1440.1,1538.8L1449,1561.7L1440.1,1584.7ZM1610.5,1561.7L1620.7,1535.5L1630.9,1561.7L1620.7,1588ZM1392.9,1499.6L1404,1471L1415,1499.6L1404,1528.2Z" fill="#008bff" fill-rule="evenodd" stroke="#008bff" stroke-width="0.6"/>
<path d="M1379.9,1660L1390,1686L1379.9,1712L1379.9,1686ZM1861.5,1549.6L1854.1,1530.7L1861.5,1511.7L1861.5,1530.7ZM1861.5,1611.8L1854.1,1592.8L1861.5,1573.9L1861.5,1592.8ZM1861.5,1736L1854.1,1717.1L1854.1,1705L1854.1,1686L1861.5,1667.1L1861.5,1686L1861.5,1717.1ZM1393.5,1717.1L1393.5,1690.1L1392.9,1686L1404,1657.4L1409.8,1670.1L1416,1670.1L1422.2,1686L1422.2,1701.2L1422.2,1717.1L1416,1733L1409.8,1733L1404,1744.1ZM1432,1717.1L1440.1,1696.1L1448.2,1717.1L1440.1,1738.1ZM1467.1,1717.1L1467.5,1708.4L1467.5,1686L1464.2,1673.9L1456.8,1654.9L1464.2,1636L1468.1,1623.9L1466.3,1618.4L1464.2,1620.6L1453.4,1592.8L1463.9,1562.5L1463.9,1561.7L1464.2,1561L1465.4,1558.6L1476.2,1531.7L1486.6,1561.7L1486.1,1567.2L1486.1,1592.8L1484.3,1602.9L1484.3,1623.9L1488.3,1636L1495.6,1654.9L1488.6,1685.2L1488.6,1686L1488.3,1686.8L1485.3,1717.1L1476.2,1740.6ZM1501.1,1717.1L1501.1,1688L1500.9,1686L1501.1,1684L1501.1,1654.9L1502.6,1648.9L1502.6,1623.9L1512.3,1598.9L1522,1623.9L1524.4,1631.5L1525.6,1623.9L1536.4,1596L1547.2,1623.9L1548.5,1654.2L1548.8,1654.9L1548.8,1685.2L1548.8,1686L1548.5,1686.8L1547.7,1717.1L1536.4,1746.1L1525.2,1746.1L1524.4,1747.1L1523.6,1746.1L1512.3,1746.1ZM1576.5,1717.1L1577.2,1705L1577.2,1686L1577.2,1673.9L1577.2,1654.9L1584.6,1636L1591.9,1636L1596.6,1626L1599.6,1623.9L1608.7,1600.4L1617.8,1623.9L1620.7,1625.4L1632.1,1654.9L1626.9,1670.1L1626.9,1686L1620.7,1701.9L1618.3,1717.1L1608.7,1742.1L1599,1742.1L1596.6,1746.6L1592.7,1738.1L1584.6,1738.1ZM1657.6,1717.1L1656.8,1701.9L1650.6,1686L1650.6,1670.1L1649.5,1654.9L1649.5,1636L1648.7,1623.9L1650.6,1608.7L1650.6,1592.8L1656.8,1576.9L1668.6,1561.7L1668.9,1561L1669.2,1561.7L1680.9,1581.9L1685.1,1592.8L1685.1,1603.7L1689,1623.9L1689,1634L1689,1654.9L1687.1,1670.1L1687.1,1686L1680.9,1701.9L1680.1,1717.1L1668.9,1746.1ZM1742.7,1717.1L1742.7,1690.1L1741.9,1686L1741.1,1665.8L1736.9,1654.9L1741.1,1644.1L1742.4,1623.9L1753.1,1596.2L1763.9,1623.9L1765.2,1654.2L1765.5,1654.2L1777.2,1636L1785,1623.9L1789.3,1613L1793.5,1613L1801.3,1601.5L1810,1623.9L1813.3,1636L1820.7,1654.9L1820.7,1673.9L1824,1686L1813.3,1713.5L1802.7,1713.5L1801.3,1714.3L1798.7,1710.4L1793.5,1717.1L1789.3,1728L1785,1728L1777.2,1728L1773,1717.1L1773,1706.2L1769.1,1686L1765.2,1655.7L1764.3,1686L1763.6,1690.1L1763.6,1717.1L1753.1,1744.1ZM1407.3,1592.8L1407.3,1570.4L1405.8,1561.7L1405.9,1556.7L1405.9,1530.7L1416,1504.6L1426.1,1530.7L1426.1,1556.7L1426.3,1561.7L1424.7,1570.4L1424.7,1592.8L1416,1615.2ZM1769.9,1592.8L1769.9,1580.7L1769.9,1561.7L1777.2,1542.8L1784.6,1561.7L1784.6,1573.9L1784.6,1592.8L1777.2,1611.8ZM1805.2,1592.8L1813.3,1571.8L1817.2,1561.7L1813.3,1557.1L1803.1,1530.7L1813.3,1504.3L1816.7,1499.6L1825.4,1477.2L1834.1,1499.6L1834.1,1522L1835.7,1530.7L1833.5,1540.8L1833.5,1561.7L1825.4,1582.7L1821.5,1592.8L1813.3,1613.8ZM1431.7,1561.7L1440.1,1540L1448.5,1561.7L1440.1,1583.5ZM1610.8,1561.7L1620.7,1536.2L1630.6,1561.7L1620.7,1587.3ZM1393.1,1499.6L1404,1471.4L1414.9,1499.6L1404,1527.8Z" fill="#00b0ff" fill-rule="evenodd" stroke="#00b0ff" stroke-width="0.6"/>
<path d="M1379.9,1660.6L1389.7,1686L1379.9,1711.4L1379.9,1686ZM1861.5,1548.1L1854.8,1530.7L1861.5,1513.3L1861.5,1530.7ZM1861.5,1610.2L1854.8,1592.8L1861.5,1575.4L1861.5,1592.8ZM1861.5,1734.5L1854.8,1717.1L1854.8,1703.4L1854.8,1686L1861.5,1668.6L1861.5,1686L1861.5,1717.1ZM1393.7,1717.1L1393.7,1690.6L1393,1686L1404,1657.7L1410.6,1672L1416,1672L1421.4,1686L1421.4,1703.1L1421.4,1717.1L1416,1731.1L1410.6,1731.1L1404,1743.6ZM1432.5,1717.1L1440.1,1697.4L1447.7,1717.1L1440.1,1736.8ZM1467.5,1717.1L1468,1707.3L1468,1686L1464.2,1672.3L1457.4,1654.9L1464.2,1637.6L1468.6,1623.9L1466.6,1617.7L1464.2,1620.2L1453.6,1592.8L1464.2,1562.1L1464.4,1561.7L1476.2,1532.3L1486.4,1561.7L1485.9,1568L1485.9,1592.8L1483.8,1604.2L1483.8,1623.9L1488.3,1637.6L1495,1654.9L1488.3,1683.9L1487.8,1686L1487.9,1687.1L1484.9,1717.1L1476.2,1739.6ZM1501.2,1717.1L1501.2,1688.3L1501,1686L1501.2,1683.7L1501.2,1654.9L1502.9,1648.1L1502.9,1623.9L1512.3,1599.6L1521.7,1623.9L1524.4,1632.4L1525.8,1623.9L1536.4,1596.4L1547.1,1623.9L1548.3,1654.6L1548.4,1654.9L1548.4,1655.1L1548.4,1686L1548.4,1686.2L1547.6,1717.1L1536.4,1745.9L1525.3,1745.9L1524.4,1746.9L1523.5,1745.9L1512.3,1745.9ZM1577,1717.1L1577.8,1703.4L1577.8,1686L1577.8,1672.3L1577.8,1654.9L1584.6,1637.6L1591.3,1637.6L1596.6,1626.3L1599.9,1623.9L1608.7,1601.4L1617.4,1623.9L1620.7,1625.6L1632.1,1654.9L1626.1,1672L1626.1,1686L1620.7,1700L1618,1717.1L1608.7,1741.3L1599.3,1741.3L1596.6,1746.5L1592.2,1736.8L1584.6,1736.8ZM1657.7,1717.1L1656.8,1700L1651.4,1686L1651.4,1672L1650.1,1654.9L1650.1,1637.6L1649.2,1623.9L1651.4,1606.8L1651.4,1592.8L1656.8,1578.8L1667.7,1564.8L1668.9,1562.3L1671.3,1568L1680.9,1584.5L1684.1,1592.8L1684.1,1601.1L1688.5,1623.9L1688.5,1635.3L1688.5,1654.9L1686.3,1672L1686.3,1686L1680.9,1700L1680,1717.1L1668.9,1745.9ZM1742.9,1717.1L1742.9,1690.6L1742,1686L1741.1,1663.2L1737.9,1654.9L1741.1,1646.7L1742.6,1623.9L1753.1,1596.6L1763.7,1623.9L1765,1654.6L1765.1,1654.9L1765.1,1655.2L1764.2,1686L1763.4,1690.6L1763.4,1717.1L1753.1,1743.6ZM1774,1717.1L1774,1708.8L1769.6,1686L1765.8,1656.5L1766,1654.9L1777.2,1637.6L1786,1623.9L1789.3,1615.6L1792.5,1615.6L1801.3,1602.6L1809.6,1623.9L1813.3,1637.6L1820.1,1654.9L1820.1,1672.3L1823.8,1686L1813.3,1713.1L1802.9,1713.1L1801.3,1714L1798.4,1709.5L1792.5,1717.1L1789.3,1725.4L1786,1725.4L1777.2,1725.4ZM1407.8,1592.8L1407.8,1571.5L1406,1561.7L1406.2,1556L1406.2,1530.7L1416,1505.3L1425.9,1530.7L1425.9,1556L1426,1561.7L1424.3,1571.5L1424.3,1592.8L1416,1614.1ZM1770.5,1592.8L1770.5,1579.1L1770.5,1561.7L1777.2,1544.3L1784,1561.7L1784,1575.4L1784,1592.8L1777.2,1610.2ZM1805.7,1592.8L1813.3,1573.1L1817.7,1561.7L1813.3,1556.5L1803.3,1530.7L1813.3,1504.9L1817.1,1499.6L1825.4,1478.3L1833.6,1499.6L1833.6,1520.9L1835.5,1530.7L1833,1542.1L1833,1561.7L1825.4,1581.4L1821,1592.8L1813.3,1612.5ZM1432.1,1561.7L1440.1,1541.2L1448.1,1561.7L1440.1,1582.3ZM1611.1,1561.7L1620.7,1536.9L1630.3,1561.7L1620.7,1586.6ZM1393.2,1499.6L1404,1471.8L1414.8,1499.6L1404,1527.4Z" fill="#00d6ff" fill-rule="evenodd" stroke="#00d6ff" stroke-width="0.6"/>
<path d="M1379.9,1661.3L1389.5,1686L1379.9,1710.7L1379.9,1686ZM1861.5,1546.5L1855.4,1530.7L1861.5,1514.8L1861.5,1530.7ZM1861.5,1608.7L1855.4,1592.8L1861.5,1577L1861.5,1592.8ZM1861.5,1732.9L1855.4,1717.1L1855.4,1701.9L1855.4,1686L1861.5,1670.2L1861.5,1686L1861.5,1717.1ZM1393.9,1717.1L1393.9,1691.1L1393.1,1686L1404,1658L1411.4,1674L1416,1674L1420.7,1686L1420.7,1705.1L1420.7,1717.1L1416,1729.1L1411.4,1729.1L1404,1743.1ZM1433,1717.1L1440.1,1698.7L1447.2,1717.1L1440.1,1735.5ZM1467.9,1717.1L1468.4,1706.2L1468.4,1686L1464.2,1670.8L1458,1654.9L1464.2,1639.1L1469.1,1623.9L1466.9,1617L1464.2,1619.8L1453.7,1592.8L1464.2,1562.6L1464.6,1561.7L1476.2,1532.9L1486.2,1561.7L1485.6,1568.7L1485.6,1592.8L1483.3,1605.5L1483.3,1623.9L1488.3,1639.1L1494.4,1654.9L1488.3,1681.4L1487.2,1686L1487.4,1688.4L1484.6,1717.1L1476.2,1738.6ZM1501.3,1717.1L1501.3,1688.6L1501,1686L1501.3,1683.5L1501.3,1654.9L1503.2,1647.3L1503.2,1623.9L1512.3,1600.4L1521.4,1623.9L1524.4,1633.4L1525.9,1623.9L1536.4,1596.8L1546.9,1623.9L1548.1,1654.1L1548.3,1654.9L1548.3,1655.3L1548.3,1686L1548.3,1686.5L1547.5,1717.1L1536.4,1745.6L1525.4,1745.6L1524.4,1746.8L1523.4,1745.6L1512.3,1745.6ZM1577.5,1717.1L1578.4,1701.9L1578.4,1686L1578.4,1670.8L1578.4,1654.9L1584.6,1639.1L1590.7,1639.1L1596.6,1626.6L1600.3,1623.9L1608.7,1602.3L1617,1623.9L1620.7,1625.8L1632,1654.9L1625.4,1674L1625.4,1686L1620.7,1698.1L1617.7,1717.1L1608.7,1740.5L1599.6,1740.5L1596.6,1746.3L1591.7,1735.5L1584.6,1735.5ZM1657.8,1717.1L1656.8,1698.1L1652.2,1686L1652.2,1674L1650.7,1654.9L1650.7,1639.1L1649.7,1623.9L1652.2,1604.8L1652.2,1592.8L1656.8,1580.8L1666.1,1568.7L1668.9,1563L1674.3,1575.7L1680.9,1587.1L1683.1,1592.8L1683.1,1598.5L1688,1623.9L1688,1636.6L1688,1654.9L1685.6,1674L1685.6,1686L1680.9,1698.1L1679.9,1717.1L1668.9,1745.6ZM1743.1,1717.1L1743.1,1691.1L1742.1,1686L1741.1,1660.6L1738.9,1654.9L1741.1,1649.3L1742.7,1623.9L1753.1,1597L1763.5,1623.9L1764.8,1654.1L1765.1,1654.9L1765,1655.5L1764.1,1686L1763.2,1691.1L1763.2,1717.1L1753.1,1743.1ZM1775,1717.1L1775,1711.4L1770.1,1686L1766.5,1658.4L1767,1654.9L1777.2,1639.1L1787,1623.9L1789.3,1618.2L1791.5,1618.2L1801.3,1603.7L1809.1,1623.9L1813.3,1639.1L1819.5,1654.9L1819.5,1670.8L1823.6,1686L1813.3,1712.6L1803,1712.6L1801.3,1713.6L1798,1708.6L1791.5,1717.1L1789.3,1722.8L1787,1722.8L1777.2,1722.8ZM1408.2,1592.8L1408.2,1572.6L1406.2,1561.7L1406.4,1555.4L1406.4,1530.7L1416,1505.9L1425.6,1530.7L1425.6,1555.4L1425.8,1561.7L1423.8,1572.6L1423.8,1592.8L1416,1613ZM1771.1,1592.8L1771.1,1577.6L1771.1,1561.7L1777.2,1545.9L1783.4,1561.7L1783.4,1577L1783.4,1592.8L1777.2,1608.7ZM1806.2,1592.8L1813.3,1574.4L1818.3,1561.7L1813.3,1555.9L1803.6,1530.7L1813.3,1505.5L1817.5,1499.6L1825.4,1479.4L1833.2,1499.6L1833.2,1519.8L1835.2,1530.7L1832.5,1543.4L1832.5,1561.7L1825.4,1580.1L1820.5,1592.8L1813.3,1611.2ZM1432.6,1561.7L1440.1,1542.4L1447.6,1561.7L1440.1,1581.1ZM1611.3,1561.7L1620.7,1537.6L1630.1,1561.7L1620.7,1585.9ZM1393.3,1499.6L1404,1472.2L1414.6,1499.6L1404,1527Z" fill="#00ffff" fill-rule="evenodd" stroke="#00ffff" stroke-width="0.6"/>
<path d="M1379.9,1666.9L1387.3,1686L1379.9,1705.2L1379.9,1686ZM1861.5,1533.2L1860.5,1530.7L1861.5,1528.2L1861.5,1530.7ZM1861.5,1595.3L1860.5,1592.8L1861.5,1590.3L1861.5,1592.8ZM1861.5,1719.6L1860.5,1717.1L1860.5,1688.5L1860.5,1686L1861.5,1683.5L1861.5,1686L1861.5,1717.1ZM1395.6,1717.1L1395.6,1695.5L1394.2,1686L1404,1660.7L1415.7,1686L1415.4,1687.7L1415.4,1717.1L1404,1738.6ZM1437.3,1717.1L1440.1,1709.8L1442.9,1717.1L1440.1,1724.3ZM1471.1,1717.1L1472.1,1696.7L1472.1,1686L1464.2,1657.4L1463.2,1654.9L1464.2,1652.5L1473.4,1623.9L1469.2,1610.9L1464.2,1616.2L1455.1,1592.8L1464.2,1566.6L1466.7,1561.7L1476.2,1538.1L1484.4,1561.7L1483.2,1574.7L1483.2,1592.8L1479,1616.6L1479,1623.9L1488.3,1652.5L1489.2,1654.9L1488.3,1659.1L1482,1686L1483,1699.5L1481.3,1717.1L1476.2,1730.3ZM1502.1,1717.1L1502.1,1690.8L1501.7,1686L1502.1,1681.3L1502.1,1654.9L1505.8,1640.7L1505.8,1623.9L1512.3,1607.1L1518.8,1623.9L1524.4,1641.7L1527.3,1623.9L1536.4,1600.3L1545.5,1623.9L1546.6,1650.2L1547.6,1654.9L1547.6,1657.1L1547.6,1686L1547.3,1688.9L1546.6,1717.1L1536.4,1743.4L1526.2,1743.4L1524.4,1745.6L1522.5,1743.4L1512.3,1743.4ZM1581.8,1717.1L1583.6,1688.5L1583.6,1686L1583.6,1657.4L1583.6,1654.9L1584.6,1652.5L1585.5,1652.5L1596.6,1629L1603.5,1623.9L1608.7,1610.7L1613.8,1623.9L1620.7,1627.5L1631.4,1654.9L1620.7,1685.5L1620.2,1686L1619.5,1689.1L1615.2,1717.1L1608.7,1733.9L1602.2,1733.9L1596.6,1744.6L1587.4,1724.3L1584.6,1724.3ZM1658.7,1717.1L1657.1,1686.7L1657,1686L1658.6,1681.4L1656.8,1667.4L1655.9,1654.9L1655.9,1652.5L1654,1623.9L1656.8,1602.1L1657.6,1592.8L1668.9,1569.1L1679,1592.8L1680.9,1609.4L1683.7,1623.9L1683.7,1647.7L1683.7,1654.9L1680.9,1676.7L1679.1,1681.4L1680.8,1686L1680.6,1686.7L1679.1,1717.1L1668.9,1743.4ZM1744.8,1717.1L1744.8,1695.5L1743.1,1686L1741.9,1656.9L1741.4,1654.9L1742.4,1651.6L1744.2,1623.9L1753.1,1600.8L1762.1,1623.9L1763.2,1649.9L1764.6,1654.9L1764,1658.1L1763.2,1686L1761.5,1695.5L1761.5,1717.1L1753.1,1738.6ZM1774.4,1686L1773,1675.1L1775.6,1654.9L1777.2,1652.5L1779.6,1648.7L1789.3,1628.4L1794.1,1623.9L1801.3,1613.2L1805.4,1623.9L1813.3,1652.5L1814.3,1654.9L1814.3,1657.4L1822.1,1686L1813.3,1708.7L1804.6,1708.7L1801.3,1710.6L1795.1,1701.2L1789.3,1708.8L1782.8,1700.5L1777.2,1700.5ZM1411.9,1592.8L1411.9,1582.2L1408.2,1561.7L1408.6,1549.8L1408.6,1530.7L1416,1511.5L1423.4,1530.7L1423.4,1549.8L1423.8,1561.7L1420.1,1582.2L1420.1,1592.8L1416,1603.5ZM1776.3,1592.8L1776.3,1564.2L1776.3,1561.7L1777.2,1559.3L1778.2,1561.7L1778.2,1590.3L1778.2,1592.8L1777.2,1595.3ZM1810.5,1592.8L1813.3,1585.6L1822.6,1561.7L1813.3,1550.7L1805.6,1530.7L1813.3,1510.6L1821.2,1499.6L1825.4,1488.9L1829.5,1499.6L1829.5,1510.3L1833.3,1530.7L1828.2,1554.5L1828.2,1561.7L1825.4,1569L1816.1,1592.8L1813.3,1600.1ZM1436.6,1561.7L1440.1,1552.7L1443.6,1561.7L1440.1,1570.8ZM1613.7,1561.7L1620.7,1543.7L1627.7,1561.7L1620.7,1579.8ZM1394.6,1499.6L1404,1475.3L1413.4,1499.6L1404,1523.9Z" fill="#00ffe6" fill-rule="evenodd" stroke="#00ffe6" stroke-width="0.6"/>
<path d="M1379.9,1668.7L1386.6,1686L1379.9,1703.4L1379.9,1686ZM1396.2,1717.1L1396.2,1697L1394.5,1686L1404,1661.5L1415.3,1686L1414.6,1689.7L1414.6,1717.1L1404,1737.2ZM1438.7,1717.1L1440.1,1713.5L1441.5,1717.1L1440.1,1720.7ZM1472.2,1717.1L1473.3,1693.6L1473.3,1686L1466,1659.6L1464.6,1654.9L1467.8,1645.6L1474.8,1623.9L1470,1608.9L1464.2,1615L1455.6,1592.8L1464.2,1567.9L1467.4,1561.7L1476.2,1539.8L1483.9,1561.7L1482.5,1576.7L1482.5,1592.8L1477.6,1620.3L1477.6,1623.9L1484.6,1645.6L1487.8,1654.9L1486.5,1659.6L1480.3,1686L1481.6,1703.1L1480.3,1717.1L1476.2,1727.6ZM1502.4,1717.1L1502.4,1691.5L1501.9,1686L1502.4,1680.5L1502.4,1654.9L1506.7,1638.5L1506.7,1623.9L1512.3,1609.3L1518,1623.9L1524.4,1644.5L1527.7,1623.9L1536.4,1601.5L1545.1,1623.9L1546.1,1648.9L1547.4,1654.9L1547.4,1657.6L1547.4,1686L1547,1689.7L1546.3,1717.1L1536.4,1742.7L1526.5,1742.7L1524.4,1745.2L1522.3,1742.7L1512.3,1742.7ZM1583.2,1717.1L1584.6,1695.3L1584.7,1686L1584.7,1685.6L1584.7,1654.9L1596.6,1629.8L1604.6,1623.9L1608.7,1613.4L1612.7,1623.9L1620.7,1628L1631.1,1654.9L1620.7,1684.9L1619.7,1686L1618.1,1692.8L1614.3,1717.1L1608.7,1731.7L1603,1731.7L1596.6,1744L1586,1720.7L1584.6,1720.7ZM1658.9,1717.1L1657.4,1687.6L1657.1,1686L1660.7,1675.9L1658,1654.9L1656.8,1645.6L1655.4,1623.9L1656.8,1613L1658.6,1592.8L1668.9,1571.1L1678.1,1592.8L1680.9,1616.6L1682.3,1623.9L1682.3,1651.3L1682.3,1654.9L1680.9,1665.8L1677,1675.9L1680.6,1686L1680.3,1687.6L1678.8,1717.1L1668.9,1742.7ZM1745.3,1717.1L1745.3,1697L1743.4,1686L1742.2,1657.8L1741.6,1654.9L1742.9,1650.2L1744.6,1623.9L1753.1,1602L1761.6,1623.9L1762.7,1648.5L1764.5,1654.9L1763.6,1658.9L1762.9,1686L1760.9,1697L1760.9,1717.1L1753.1,1737.2ZM1775.8,1686L1775.1,1680.6L1777.2,1664.3L1778.1,1657.3L1777.6,1654.9L1789.3,1630.4L1796.2,1623.9L1801.3,1616.3L1804.2,1623.9L1811.5,1650.3L1813.3,1654.9L1813.1,1655.5L1813.3,1655.7L1821.6,1686L1813.3,1707.4L1805,1707.4L1801.3,1709.6L1794.2,1698.8L1789.3,1705.2L1780,1693.3L1777.2,1693.3ZM1413.1,1592.8L1413.1,1585.3L1408.9,1561.7L1409.3,1548L1409.3,1530.7L1416,1513.3L1422.7,1530.7L1422.7,1548L1423.2,1561.7L1418.9,1585.3L1418.9,1592.8L1416,1600.4ZM1811.9,1592.8L1813.3,1589.2L1824,1561.7L1813.3,1549.1L1806.2,1530.7L1813.3,1512.3L1822.5,1499.6L1825.4,1492.1L1828.3,1499.6L1828.3,1507.1L1832.7,1530.7L1826.8,1558.1L1826.8,1561.7L1825.4,1565.4L1814.7,1592.8L1813.3,1596.4ZM1437.9,1561.7L1440.1,1556L1442.3,1561.7L1440.1,1567.5ZM1614.5,1561.7L1620.7,1545.6L1626.9,1561.7L1620.7,1577.8ZM1395,1499.6L1404,1476.4L1413,1499.6L1404,1522.8Z" fill="#00ffbe" fill-rule="evenodd" stroke="#00ffbe" stroke-width="0.6"/>
<path d="M1379.9,1670.5L1385.9,1686L1379.9,1701.6L1379.9,1686ZM1396.8,1717.1L1396.8,1698.4L1394.8,1686L1404,1662.4L1414.9,1686L1413.8,1691.7L1413.8,1717.1L1404,1735.7ZM1440.1,1717.1M1473.2,1717.1L1474.5,1690.5L1474.5,1686L1470.2,1670.5L1465.7,1654.9L1476.2,1623.9L1470.7,1606.9L1464.2,1613.9L1456,1592.8L1464.2,1569.2L1468,1561.7L1476.2,1541.4L1483.3,1561.7L1481.7,1578.7L1481.7,1592.8L1476.2,1623.9L1486.8,1654.9L1482.2,1670.5L1478.6,1686L1480.2,1706.7L1479.2,1717.1L1476.2,1724.9ZM1502.7,1717.1L1502.7,1692.2L1502.1,1686L1502.7,1679.8L1502.7,1654.9L1507.5,1636.3L1507.5,1623.9L1512.3,1611.5L1517.2,1623.9L1524.4,1647.2L1528.2,1623.9L1536.4,1602.6L1544.7,1623.9L1545.6,1647.6L1547.2,1654.9L1547.2,1658.2L1547.2,1686L1546.7,1690.5L1546,1717.1L1536.4,1741.9L1526.8,1741.9L1524.4,1744.8L1522,1741.9L1512.3,1741.9ZM1584.6,1717.1L1585.1,1686L1585.1,1684.7L1585.1,1654.9L1596.6,1630.5L1605.6,1623.9L1608.7,1616.1L1611.7,1623.9L1620.7,1628.5L1630.9,1654.9L1620.7,1684.3L1619.2,1686L1616.7,1696.4L1613.5,1717.1L1608.7,1729.5L1603.8,1729.5L1596.6,1743.5ZM1659.2,1717.1L1657.7,1688.4L1657.3,1686L1662.8,1670.5L1660.8,1654.9L1656.8,1623.9L1659.5,1592.8L1668.9,1573L1677.3,1592.8L1680.9,1623.9L1680.9,1654.9L1674.9,1670.5L1680.4,1686L1680,1688.4L1678.5,1717.1L1668.9,1741.9ZM1745.9,1717.1L1745.9,1698.4L1743.7,1686L1742.5,1658.7L1741.7,1654.9L1743.5,1648.7L1745.1,1623.9L1753.1,1603.2L1761.2,1623.9L1762.2,1647.2L1764.3,1654.9L1763.3,1659.7L1762.6,1686L1760.4,1698.4L1760.4,1717.1L1753.1,1735.7ZM1777.2,1686L1780.2,1662.7L1778.6,1654.9L1789.3,1632.4L1798.3,1623.9L1801.3,1619.4L1803,1623.9L1807.3,1639.4L1813.1,1654.9L1812.6,1656.8L1813.3,1657.5L1821.1,1686L1813.3,1706.1L1805.5,1706.1L1801.3,1708.6L1793.3,1696.4L1789.3,1701.6ZM1414.3,1592.8L1414.3,1588.4L1409.5,1561.7L1410,1546.2L1410,1530.7L1416,1515.1L1422,1530.7L1422,1546.2L1422.5,1561.7L1417.7,1588.4L1417.7,1592.8L1416,1597.2ZM1813.3,1592.8L1825.4,1561.7L1813.3,1547.4L1806.9,1530.7L1813.3,1513.9L1823.7,1499.6L1825.4,1495.2L1827.1,1499.6L1827.1,1504L1832.1,1530.7L1825.4,1561.7ZM1439.2,1561.7L1440.1,1559.4L1441,1561.7L1440.1,1564.1ZM1615.2,1561.7L1620.7,1547.6L1626.2,1561.7L1620.7,1575.9ZM1395.4,1499.6L1404,1477.4L1412.6,1499.6L1404,1521.8Z" fill="#00ff96" fill-rule="evenodd" stroke="#00ff96" stroke-width="0.6"/>
<path d="M1379.9,1672.3L1385.2,1686L1379.9,1699.7L1379.9,1686ZM1397.3,1717.1L1397.3,1699.9L1395.2,1686L1404,1663.3L1414.5,1686L1413.1,1693.6L1413.1,1717.1L1404,1734.3ZM1474.3,1717.1L1475.7,1687.4L1475.7,1686L1474.4,1681.4L1466.7,1654.9L1476.2,1627L1485.7,1654.9L1478,1681.4L1476.9,1686L1478.8,1710.4L1478.2,1717.1L1476.2,1722.1ZM1503,1717.1L1503,1693L1502.3,1686L1503,1679.1L1503,1654.9L1508.4,1634.1L1508.4,1623.9L1512.3,1613.6L1516.3,1623.9L1524.4,1649.9L1528.6,1623.9L1536.4,1603.8L1544.2,1623.9L1545.1,1646.4L1547,1654.9L1547,1658.8L1547,1686L1546.4,1691.2L1545.8,1717.1L1536.4,1741.2L1527.1,1741.2L1524.4,1744.4L1521.7,1741.2L1512.3,1741.2ZM1584.8,1717.1L1584.9,1716.2L1585.4,1686L1585.5,1683.7L1585.5,1654.9L1596.6,1631.3L1606.7,1623.9L1608.7,1618.8L1610.6,1623.9L1620.7,1629.1L1630.7,1654.9L1620.7,1683.7L1618.7,1686L1615.3,1700L1612.6,1717.1L1608.7,1727.3L1604.7,1727.3L1596.6,1743ZM1659.5,1717.1L1658.1,1689.2L1657.5,1686L1664.9,1665L1663.6,1654.9L1661,1634.8L1657.9,1623.9L1658,1620.8L1660.4,1592.8L1668.9,1575L1676.4,1592.8L1679.7,1620.8L1679.8,1623.9L1676.7,1634.8L1676.7,1654.9L1672.8,1665L1680.3,1686L1679.6,1689.2L1678.2,1717.1L1668.9,1741.2ZM1746.5,1717.1L1746.5,1699.9L1744,1686L1742.9,1659.5L1741.9,1654.9L1744.1,1647.3L1745.6,1623.9L1753.1,1604.4L1760.7,1623.9L1761.6,1645.8L1764.2,1654.9L1763,1660.6L1762.3,1686L1759.8,1699.9L1759.8,1717.1L1753.1,1734.3ZM1780,1686L1782.3,1668.2L1779.5,1654.9L1789.3,1634.3L1800.4,1623.9L1801.3,1622.5L1801.8,1623.9L1803.1,1628.5L1812.9,1654.9L1812.1,1658.1L1813.3,1659.4L1820.6,1686L1813.3,1704.8L1806,1704.8L1801.3,1707.6L1792.3,1694L1789.3,1697.9ZM1415.5,1592.8L1415.5,1591.5L1410.2,1561.7L1410.7,1544.4L1410.7,1530.7L1416,1516.9L1421.3,1530.7L1421.3,1544.4L1421.9,1561.7L1416.5,1591.5L1416.5,1592.8L1416,1594.1ZM1456.5,1592.8L1464.2,1570.5L1468.7,1561.7L1476.2,1543.1L1482.7,1561.7L1480.9,1580.7L1480.9,1592.8L1476.2,1619.5L1471.5,1605L1464.2,1612.7ZM1616,1561.7L1620.7,1549.6L1625.4,1561.7L1620.7,1573.9ZM1807.5,1530.7L1813.3,1515.6L1824.9,1499.6L1825.4,1498.3L1825.9,1499.6L1825.9,1500.9L1831.4,1530.7L1825.4,1558.8L1824.2,1558.6L1813.3,1545.7ZM1395.8,1499.6L1404,1478.4L1412.2,1499.6L1404,1520.8Z" fill="#00ff6e" fill-rule="evenodd" stroke="#00ff6e" stroke-width="0.6"/>
<path d="M1379.9,1674.1L1384.5,1686L1379.9,1697.9L1379.9,1686ZM1397.9,1717.1L1397.9,1701.3L1395.5,1686L1404,1664.1L1414.1,1686L1412.3,1695.6L1412.3,1717.1L1404,1732.8ZM1475.3,1717.1L1476.2,1698.4L1477.4,1714L1477.1,1717.1L1476.2,1719.4ZM1503.3,1717.1L1503.3,1693.7L1502.5,1686L1503.3,1678.4L1503.3,1654.9L1509.2,1632L1509.2,1623.9L1512.3,1615.8L1515.5,1623.9L1524.4,1652.6L1529.1,1623.9L1536.4,1604.9L1543.8,1623.9L1544.6,1645.1L1546.7,1654.9L1546.7,1659.4L1546.7,1686L1546.1,1692L1545.5,1717.1L1536.4,1740.5L1527.3,1740.5L1524.4,1744L1521.4,1740.5L1512.3,1740.5ZM1585.1,1717.1L1585.3,1715.3L1585.7,1686L1585.8,1682.8L1585.8,1654.9L1596.6,1632.1L1607.8,1623.9L1608.7,1621.5L1609.6,1623.9L1620.7,1629.6L1630.5,1654.9L1620.7,1683.1L1618.1,1686L1613.9,1703.6L1611.8,1717.1L1608.7,1725.2L1605.5,1725.2L1596.6,1742.4ZM1659.8,1717.1L1658.4,1690.1L1657.6,1686L1667.1,1659.6L1666.4,1654.9L1665.2,1645.6L1659.1,1623.9L1659.2,1617.7L1661.4,1592.8L1668.9,1577L1675.6,1592.8L1678.5,1617.7L1678.6,1623.9L1672.5,1645.6L1672.5,1654.9L1670.7,1659.6L1680.1,1686L1679.3,1690.1L1677.9,1717.1L1668.9,1740.5ZM1747,1717.1L1747,1701.3L1744.3,1686L1743.2,1660.4L1742,1654.9L1744.6,1645.8L1746,1623.9L1753.1,1605.6L1760.2,1623.9L1761.1,1644.5L1764.1,1654.9L1762.7,1661.4L1762,1686L1759.2,1701.3L1759.2,1717.1L1753.1,1732.8ZM1782.8,1686L1784.4,1673.6L1780.4,1654.9L1789.3,1636.3L1800.6,1625.7L1801.3,1624.2L1812.7,1654.9L1811.6,1659.3L1813.3,1661.2L1820.1,1686L1813.3,1703.6L1806.5,1703.6L1801.3,1706.6L1791.4,1691.5L1789.3,1694.3ZM1467.8,1654.9L1476.2,1630.1L1484.6,1654.9L1476.2,1683.9ZM1456.9,1592.8L1464.2,1571.8L1469.4,1561.7L1476.2,1544.8L1482.1,1561.7L1480.2,1582.6L1480.2,1592.8L1476.2,1615.2L1472.3,1603L1464.2,1611.5ZM1410.8,1561.7L1411.4,1542.6L1411.4,1530.7L1416,1518.8L1420.6,1530.7L1420.6,1542.6L1421.2,1561.7L1416,1590.7ZM1616.8,1561.7L1620.7,1551.6L1624.6,1561.7L1620.7,1571.9ZM1808.1,1530.7L1813.3,1517.3L1824.6,1501.7L1825.4,1501.5L1830.8,1530.7L1825.4,1555.9L1823,1555.5L1813.3,1544.1ZM1396.2,1499.6L1404,1479.5L1411.8,1499.6L1404,1519.7Z" fill="#00ff47" fill-rule="evenodd" stroke="#00ff47" stroke-width="0.6"/>
<path d="M1379.9,1675.9L1383.8,1686L1379.9,1696.1L1379.9,1686ZM1398.4,1717.1L1398.4,1702.8L1395.8,1686L1404,1665L1413.7,1686L1411.5,1697.6L1411.5,1717.1L1404,1731.4ZM1503.5,1717.1L1503.5,1694.4L1502.7,1686L1503.5,1677.6L1503.5,1654.9L1510.1,1629.8L1510.1,1623.9L1512.3,1618L1514.6,1623.9L1523.8,1653.4L1524.3,1654.9L1524.4,1655.1L1524.4,1654.9L1524.5,1654.7L1529.5,1623.9L1536.4,1606.1L1543.3,1623.9L1544.1,1643.8L1546.5,1654.9L1546.5,1659.9L1546.5,1686L1545.8,1692.8L1545.2,1717.1L1536.4,1739.8L1527.6,1739.8L1524.4,1743.6L1521.1,1739.8L1512.3,1739.8ZM1585.3,1717.1L1585.6,1714.4L1586.1,1686L1586.2,1681.8L1586.2,1654.9L1596.6,1632.9L1608.6,1624L1608.7,1624L1608.7,1624L1620.7,1630.2L1630.3,1654.9L1620.7,1682.5L1617.6,1686L1612.5,1707.3L1610.9,1717.1L1608.7,1723L1606.4,1723L1596.6,1741.9ZM1660.1,1717.1L1658.7,1690.9L1657.8,1686L1668.9,1655L1679.9,1686L1679,1690.9L1677.6,1717.1L1668.9,1739.8ZM1747.6,1717.1L1747.6,1702.8L1744.6,1686L1743.6,1661.3L1742.2,1654.9L1745.2,1644.4L1746.5,1623.9L1753.1,1606.8L1759.8,1623.9L1760.6,1643.1L1763.9,1654.9L1762.4,1662.2L1761.7,1686L1758.7,1702.8L1758.7,1717.1L1753.1,1731.4ZM1785.6,1686L1786.5,1679L1781.4,1654.9L1789.3,1638.3L1799.4,1628.8L1801.3,1624.7L1812.5,1654.9L1811.1,1660.6L1813.3,1663L1819.6,1686L1813.3,1702.3L1807,1702.3L1801.3,1705.7L1790.5,1689.1L1789.3,1690.7ZM1468.8,1654.9L1476.2,1633.2L1483.6,1654.9L1476.2,1680.3ZM1660.2,1623.9L1660.4,1614.6L1662.3,1592.8L1668.9,1579L1674.8,1592.8L1677.3,1614.6L1677.5,1623.9L1668.9,1654.4ZM1457.4,1592.8L1464.2,1573.2L1470.1,1561.7L1476.2,1546.4L1481.5,1561.7L1479.4,1584.6L1479.4,1592.8L1476.2,1610.8L1473,1601L1464.2,1610.3ZM1411.5,1561.7L1412.1,1540.8L1412.1,1530.7L1416,1520.6L1419.9,1530.7L1419.9,1540.8L1420.6,1561.7L1416,1587.1ZM1617.5,1561.7L1620.7,1553.5L1623.9,1561.7L1620.7,1569.9ZM1808.8,1530.7L1813.3,1519L1823.2,1505.3L1825.4,1504.9L1830.2,1530.7L1825.4,1553L1821.8,1552.4L1813.3,1542.4ZM1396.6,1499.6L1404,1480.5L1411.4,1499.6L1404,1518.7Z" fill="#00ff1f" fill-rule="evenodd" stroke="#00ff1f" stroke-width="0.6"/>
<path d="M1379.9,1677.7L1383.1,1686L1379.9,1694.3L1379.9,1686ZM1399,1717.1L1399,1704.2L1396.2,1686L1404,1665.9L1413.3,1686L1410.8,1699.6L1410.8,1717.1L1404,1729.9ZM1503.8,1717.1L1503.8,1695.1L1502.9,1686L1503.8,1676.9L1503.8,1654.9L1510.9,1627.6L1510.9,1623.9L1512.3,1620.2L1513.8,1623.9L1519.6,1642.5L1523.9,1654.9L1524.4,1656.1L1524.7,1654.9L1525.3,1652.7L1530,1623.9L1536.4,1607.2L1542.9,1623.9L1543.6,1642.5L1546.3,1654.9L1546.3,1660.5L1546.3,1686L1545.5,1693.6L1544.9,1717.1L1536.4,1739L1527.9,1739L1524.4,1743.2L1520.8,1739L1512.3,1739ZM1585.6,1717.1L1586,1713.5L1586.4,1686L1586.6,1680.9L1586.6,1654.9L1596.6,1633.6L1608.2,1625.1L1608.7,1624.5L1609,1624.7L1620.7,1630.7L1630.1,1654.9L1620.7,1681.9L1617.1,1686L1611.1,1710.9L1610.1,1717.1L1608.7,1720.8L1607.2,1720.8L1596.6,1741.3ZM1660.3,1717.1L1659,1691.8L1657.9,1686L1668.9,1655.5L1679.8,1686L1678.7,1691.8L1677.4,1717.1L1668.9,1739ZM1748.2,1717.1L1748.2,1704.2L1744.9,1686L1743.9,1662.2L1742.3,1654.9L1745.8,1642.9L1747,1623.9L1753.1,1608L1759.3,1623.9L1760.1,1641.7L1763.8,1654.9L1762,1663.1L1761.4,1686L1758.1,1704.2L1758.1,1717.1L1753.1,1729.9ZM1788.5,1686L1788.7,1684.5L1782.3,1654.9L1789.3,1640.3L1798.2,1631.9L1801.3,1625.2L1812.3,1654.9L1810.6,1661.9L1813.3,1664.8L1819.1,1686L1813.3,1701L1807.5,1701L1801.3,1704.7L1789.5,1686.7L1789.3,1687.1ZM1469.9,1654.9L1476.2,1636.3L1482.5,1654.9L1476.2,1676.7ZM1661.3,1623.9L1661.6,1611.5L1663.2,1592.8L1668.9,1580.9L1673.9,1592.8L1676.1,1611.5L1676.4,1623.9L1668.9,1650.4ZM1457.8,1592.8L1464.2,1574.5L1470.7,1561.7L1476.2,1548.1L1481,1561.7L1478.6,1586.6L1478.6,1592.8L1476.2,1606.5L1473.8,1599L1464.2,1609.2ZM1412.1,1561.7L1412.8,1539L1412.8,1530.7L1416,1522.4L1419.2,1530.7L1419.2,1539L1419.9,1561.7L1416,1583.5ZM1618.3,1561.7L1620.7,1555.5L1623.1,1561.7L1620.7,1568ZM1809.4,1530.7L1813.3,1520.6L1821.8,1508.9L1825.4,1508.2L1829.6,1530.7L1825.4,1550.1L1820.6,1549.3L1813.3,1540.7ZM1397,1499.6L1404,1481.5L1411,1499.6L1404,1517.7Z" fill="#08ff00" fill-rule="evenodd" stroke="#08ff00" stroke-width="0.6"/>
<path d="M1379.9,1679.5L1382.4,1686L1379.9,1692.5L1379.9,1686ZM1399.6,1717.1L1399.6,1705.7L1396.5,1686L1404,1666.8L1412.9,1686L1410,1701.6L1410,1717.1L1404,1728.5ZM1504.1,1717.1L1504.1,1695.9L1503.2,1686L1504.1,1676.2L1504.1,1654.9L1511.7,1625.4L1511.7,1623.9L1512.3,1622.3L1512.9,1623.9L1515.3,1631.6L1523.6,1654.9L1524.4,1657.1L1524.9,1654.9L1526,1650.7L1530.4,1623.9L1536.4,1608.3L1542.4,1623.9L1543.1,1641.2L1546.1,1654.9L1546.1,1661.1L1546.1,1686L1545.2,1694.3L1544.6,1717.1L1536.4,1738.3L1528.2,1738.3L1524.4,1742.8L1520.6,1738.3L1512.3,1738.3ZM1585.8,1717.1L1586.3,1712.6L1586.7,1686L1586.9,1679.9L1586.9,1654.9L1596.6,1634.4L1607.8,1626.2L1608.7,1625L1609.2,1625.3L1620.7,1631.3L1629.9,1654.9L1620.7,1681.3L1616.6,1686L1609.7,1714.5L1609.3,1717.1L1608.7,1718.6L1608.1,1718.6L1596.6,1740.8ZM1660.6,1717.1L1659.4,1692.6L1658.1,1686L1668.9,1655.9L1679.6,1686L1678.3,1692.6L1677.1,1717.1L1668.9,1738.3ZM1748.7,1717.1L1748.7,1705.7L1745.2,1686L1744.2,1663L1742.5,1654.9L1746.3,1641.5L1747.4,1623.9L1753.1,1609.2L1758.8,1623.9L1759.5,1640.4L1763.6,1654.9L1761.7,1663.9L1761.1,1686L1757.5,1705.7L1757.5,1717.1L1753.1,1728.5ZM1789.7,1686L1789.3,1682.9L1783.2,1654.9L1789.3,1642.2L1797,1635L1801.3,1625.7L1812.1,1654.9L1810.1,1663.2L1813.3,1666.6L1818.6,1686L1813.3,1699.7L1808,1699.7L1801.3,1703.7ZM1471,1654.9L1476.2,1639.4L1481.5,1654.9L1476.2,1673.1ZM1662.4,1623.9L1662.8,1608.3L1664.2,1592.8L1668.9,1582.9L1673.1,1592.8L1674.9,1608.3L1675.3,1623.9L1668.9,1646.5ZM1458.3,1592.8L1464.2,1575.8L1471.4,1561.7L1476.2,1549.8L1480.4,1561.7L1477.9,1588.6L1477.9,1592.8L1476.2,1602.1L1474.6,1597L1464.2,1608ZM1412.8,1561.7L1413.5,1537.1L1413.5,1530.7L1416,1524.2L1418.5,1530.7L1418.5,1537.1L1419.3,1561.7L1416,1579.9ZM1619.1,1561.7L1620.7,1557.5L1622.3,1561.7L1620.7,1566ZM1810.1,1530.7L1813.3,1522.3L1820.4,1512.5L1825.4,1511.5L1828.9,1530.7L1825.4,1547.2L1819.4,1546.2L1813.3,1539ZM1397.4,1499.6L1404,1482.6L1410.6,1499.6L1404,1516.6Z" fill="#30ff00" fill-rule="evenodd" stroke="#30ff00" stroke-width="0.6"/>
<path d="M1379.9,1681.4L1381.7,1686L1379.9,1690.7L1379.9,1686ZM1400.1,1717.1L1400.1,1707.1L1396.9,1686L1404,1667.6L1412.5,1686L1409.2,1703.5L1409.2,1717.1L1404,1727ZM1504.4,1717.1L1504.4,1696.6L1503.4,1686L1504.4,1675.5L1504.4,1654.9L1512.3,1624.2L1523.2,1654.9L1524.4,1658.1L1525.2,1654.9L1526.8,1648.7L1530.8,1623.9L1536.4,1609.5L1542,1623.9L1542.7,1640L1545.9,1654.9L1545.9,1661.7L1545.9,1686L1544.9,1695.1L1544.4,1717.1L1536.4,1737.6L1528.5,1737.6L1524.4,1742.4L1520.3,1737.6L1512.3,1737.6ZM1586.1,1717.1L1586.7,1711.7L1587.1,1686L1587.3,1679L1587.3,1654.9L1596.6,1635.2L1607.3,1627.3L1608.7,1625.5L1609.5,1626L1620.7,1631.8L1629.7,1654.9L1620.7,1680.7L1616,1686L1608.7,1716.5L1608.6,1717.1L1596.6,1740.2ZM1660.9,1717.1L1659.7,1693.4L1658.3,1686L1668.9,1656.4L1679.4,1686L1678,1693.4L1676.8,1717.1L1668.9,1737.6ZM1749.3,1717.1L1749.3,1707.1L1745.5,1686L1744.6,1663.9L1742.6,1654.9L1746.9,1640L1747.9,1623.9L1753.1,1610.4L1758.4,1623.9L1759,1639L1763.5,1654.9L1761.4,1664.7L1760.8,1686L1757,1707.1L1757,1717.1L1753.1,1727ZM1790.4,1686L1789.3,1678.6L1784.2,1654.9L1789.3,1644.2L1795.8,1638.1L1801.3,1626.2L1811.9,1654.9L1809.7,1664.5L1813.3,1668.4L1818.2,1686L1813.3,1698.4L1808.5,1698.4L1801.3,1702.7ZM1472,1654.9L1476.2,1642.5L1480.4,1654.9L1476.2,1669.4ZM1663.6,1623.9L1664,1605.2L1665.1,1592.8L1668.9,1584.9L1672.2,1592.8L1673.7,1605.2L1674.2,1623.9L1668.9,1642.5ZM1458.7,1592.8L1464.2,1577.1L1472.1,1561.7L1476.2,1551.5L1479.8,1561.7L1477.1,1590.6L1477.1,1592.8L1476.2,1597.8L1475.3,1595.1L1464.2,1606.8ZM1413.4,1561.7L1414.2,1535.3L1414.2,1530.7L1416,1526L1417.8,1530.7L1417.8,1535.3L1418.6,1561.7L1416,1576.2ZM1619.8,1561.7L1620.7,1559.5L1621.6,1561.7L1620.7,1564ZM1810.7,1530.7L1813.3,1524L1819,1516.2L1825.4,1514.9L1828.3,1530.7L1825.4,1544.3L1818.2,1543.1L1813.3,1537.4ZM1397.8,1499.6L1404,1483.6L1410.2,1499.6L1404,1515.6Z" fill="#58ff00" fill-rule="evenodd" stroke="#58ff00" stroke-width="0.6"/>
<path d="M1379.9,1683.2L1381,1686L1379.9,1688.9L1379.9,1686ZM1400.7,1717.1L1400.7,1708.6L1397.2,1686L1404,1668.5L1412.1,1686L1408.5,1705.5L1408.5,1717.1L1404,1725.6ZM1504.7,1717.1L1504.7,1697.3L1503.6,1686L1504.7,1674.7L1504.7,1654.9L1512.3,1625.3L1522.8,1654.9L1524.4,1659L1525.5,1654.9L1527.6,1646.8L1531.3,1623.9L1536.4,1610.6L1541.6,1623.9L1542.2,1638.7L1545.6,1654.9L1545.6,1662.2L1545.6,1686L1544.6,1695.9L1544.1,1717.1L1536.4,1736.9L1528.8,1736.9L1524.4,1742L1520,1736.9L1512.3,1736.9ZM1586.3,1717.1L1587,1710.7L1587.4,1686L1587.7,1678L1587.7,1654.9L1596.6,1636L1606.9,1628.4L1608.7,1626L1609.7,1626.7L1620.7,1632.3L1629.5,1654.9L1620.7,1680.1L1615.5,1686L1608.7,1714.3L1608.3,1717.1L1596.6,1739.7ZM1661.2,1717.1L1660,1694.3L1658.4,1686L1668.9,1656.9L1679.3,1686L1677.7,1694.3L1676.5,1717.1L1668.9,1736.9ZM1749.8,1717.1L1749.8,1708.6L1745.8,1686L1744.9,1664.8L1742.8,1654.9L1747.4,1638.6L1748.4,1623.9L1753.1,1611.6L1757.9,1623.9L1758.5,1637.7L1763.3,1654.9L1761.1,1665.6L1760.5,1686L1756.4,1708.6L1756.4,1717.1L1753.1,1725.6ZM1791,1686L1789.3,1674.2L1785.1,1654.9L1789.3,1646.2L1794.6,1641.2L1801.3,1626.7L1811.8,1654.9L1809.2,1665.7L1813.3,1670.2L1817.7,1686L1813.3,1697.2L1809,1697.2L1801.3,1701.7ZM1473.1,1654.9L1476.2,1645.6L1479.4,1654.9L1476.2,1665.8ZM1664.7,1623.9L1665.2,1602.1L1666,1592.8L1668.9,1586.9L1671.4,1592.8L1672.5,1602.1L1673,1623.9L1668.9,1638.6ZM1459.2,1592.8L1464.2,1578.4L1472.8,1561.7L1476.2,1553.1L1479.2,1561.7L1476.3,1592.5L1476.3,1592.8L1476.2,1593.4L1476.1,1593.1L1464.2,1605.7ZM1414.1,1561.7L1414.9,1533.5L1414.9,1530.7L1416,1527.8L1417.1,1530.7L1417.1,1533.5L1418,1561.7L1416,1572.6ZM1620.6,1561.7L1620.7,1561.5L1620.8,1561.7L1620.7,1562ZM1811.4,1530.7L1813.3,1525.7L1817.5,1519.8L1825.4,1518.2L1827.7,1530.7L1825.4,1541.4L1816.9,1540L1813.3,1535.7ZM1398.2,1499.6L1404,1484.7L1409.8,1499.6L1404,1514.5Z" fill="#80ff00" fill-rule="evenodd" stroke="#80ff00" stroke-width="0.6"/>
<path d="M1379.9,1685L1380.3,1686L1379.9,1687.1L1379.9,1686ZM1401.3,1717.1L1401.3,1710L1397.5,1686L1404,1669.4L1411.7,1686L1407.7,1707.5L1407.7,1717.1L1404,1724.1ZM1505,1717.1L1505,1698L1503.8,1686L1505,1674L1505,1654.9L1512.3,1626.4L1522.4,1654.9L1524.4,1660L1525.7,1654.9L1528.3,1644.8L1531.7,1623.9L1536.4,1611.8L1541.1,1623.9L1541.7,1637.4L1545.4,1654.9L1545.4,1662.8L1545.4,1686L1544.3,1696.7L1543.8,1717.1L1536.4,1736.1L1529,1736.1L1524.4,1741.6L1519.7,1736.1L1512.3,1736.1ZM1586.6,1717.1L1587.4,1709.8L1587.8,1686L1588,1677.1L1588,1654.9L1596.6,1636.8L1606.5,1629.5L1608.7,1626.5L1610,1627.4L1620.7,1632.9L1629.2,1654.9L1620.7,1679.5L1615,1686L1608.7,1712.1L1608,1717.1L1596.6,1739.1ZM1661.5,1717.1L1660.3,1695.1L1658.6,1686L1668.9,1657.3L1679.1,1686L1677.4,1695.1L1676.2,1717.1L1668.9,1736.1ZM1750.4,1717.1L1750.4,1710L1746.1,1686L1745.2,1665.6L1742.9,1654.9L1748,1637.1L1748.9,1623.9L1753.1,1612.8L1757.4,1623.9L1758,1636.3L1763.2,1654.9L1760.7,1666.4L1760.2,1686L1755.9,1710L1755.9,1717.1L1753.1,1724.1ZM1791.7,1686L1789.3,1669.9L1786,1654.9L1789.3,1648.2L1793.4,1644.3L1801.3,1627.2L1811.6,1654.9L1808.7,1667L1813.3,1672L1817.2,1686L1813.3,1695.9L1809.5,1695.9L1801.3,1700.7ZM1474.1,1654.9L1476.2,1648.7L1478.3,1654.9L1476.2,1662.2ZM1665.8,1623.9L1666.4,1599L1667,1592.8L1668.9,1588.9L1670.5,1592.8L1671.3,1599L1671.9,1623.9L1668.9,1634.6ZM1459.6,1592.8L1464.2,1579.7L1473.4,1561.7L1476.2,1554.8L1478.6,1561.7L1476.2,1587.5L1475.3,1592.8L1464.2,1604.5ZM1414.7,1561.7L1415.6,1531.7L1415.6,1530.7L1416,1529.6L1416.4,1530.7L1416.4,1531.7L1417.3,1561.7L1416,1569ZM1812,1530.7L1813.3,1527.3L1816.1,1523.4L1825.4,1521.6L1827.1,1530.7L1825.4,1538.5L1815.7,1536.9L1813.3,1534ZM1398.6,1499.6L1404,1485.7L1409.4,1499.6L1404,1513.5Z" fill="#a7ff00" fill-rule="evenodd" stroke="#a7ff00" stroke-width="0.6"/>
<path d="M1401.8,1717.1L1401.8,1711.5L1397.9,1686L1404,1670.2L1411.3,1686L1406.9,1709.5L1406.9,1717.1L1404,1722.7ZM1505.2,1717.1L1505.2,1698.8L1504,1686L1505.2,1673.3L1505.2,1654.9L1512.3,1627.5L1522,1654.9L1524.4,1661L1526,1654.9L1529.1,1642.8L1532.2,1623.9L1536.4,1612.9L1540.7,1623.9L1541.2,1636.1L1545.2,1654.9L1545.2,1663.4L1545.2,1686L1544,1697.4L1543.5,1717.1L1536.4,1735.4L1529.3,1735.4L1524.4,1741.2L1519.4,1735.4L1512.3,1735.4ZM1586.8,1717.1L1587.7,1708.9L1588.1,1686L1588.4,1676.2L1588.4,1654.9L1596.6,1637.5L1606.1,1630.6L1608.7,1627.1L1610.3,1628.1L1620.7,1633.4L1629,1654.9L1620.7,1678.9L1614.5,1686L1608.7,1709.9L1607.7,1717.1L1596.6,1738.6ZM1661.8,1717.1L1660.7,1695.9L1658.8,1686L1668.9,1657.8L1678.9,1686L1677.1,1695.9L1676,1717.1L1668.9,1735.4ZM1751,1717.1L1751,1711.5L1746.4,1686L1745.6,1666.5L1743.1,1654.9L1748.6,1635.7L1749.3,1623.9L1753.1,1614L1756.9,1623.9L1757.4,1634.9L1763,1654.9L1760.4,1667.3L1759.9,1686L1755.3,1711.5L1755.3,1717.1L1753.1,1722.7ZM1792.3,1686L1789.3,1665.5L1787,1654.9L1789.3,1650.1L1792.2,1647.4L1801.3,1627.7L1811.4,1654.9L1808.2,1668.3L1813.3,1673.9L1816.7,1686L1813.3,1694.6L1810,1694.6L1801.3,1699.7ZM1475.2,1654.9L1476.2,1651.8L1477.3,1654.9L1476.2,1658.6ZM1666.9,1623.9L1667.7,1595.9L1667.9,1592.8L1668.9,1590.8L1669.7,1592.8L1670.1,1595.9L1670.8,1623.9L1668.9,1630.7ZM1460.1,1592.8L1464.2,1581L1474.1,1561.7L1476.2,1556.5L1478,1561.7L1476.2,1581.3L1474.2,1592.8L1464.2,1603.3ZM1415.4,1561.7L1416,1540L1416.7,1561.7L1416,1565.4ZM1812.7,1530.7L1813.3,1529L1814.7,1527L1825.4,1524.9L1826.4,1530.7L1825.4,1535.6L1814.5,1533.8L1813.3,1532.3ZM1399,1499.6L1404,1486.7L1409,1499.6L1404,1512.5Z" fill="#cfff00" fill-rule="evenodd" stroke="#cfff00" stroke-width="0.6"/>
<path d="M1402.4,1717.1L1402.4,1712.9L1398.2,1686L1404,1671.1L1410.9,1686L1406.2,1711.4L1406.2,1717.1L1404,1721.2ZM1505.5,1717.1L1505.5,1699.5L1504.2,1686L1505.5,1672.6L1505.5,1654.9L1512.3,1628.5L1521.6,1654.9L1524.4,1662L1526.3,1654.9L1529.9,1640.8L1532.6,1623.9L1536.4,1614.1L1540.2,1623.9L1540.7,1634.8L1545,1654.9L1545,1663.9L1545,1686L1543.7,1698.2L1543.2,1717.1L1536.4,1734.7L1529.6,1734.7L1524.4,1740.8L1519.2,1734.7L1512.3,1734.7ZM1587.1,1717.1L1588.1,1708L1588.4,1686L1588.8,1675.2L1588.8,1654.9L1596.6,1638.3L1605.6,1631.6L1608.7,1627.6L1610.5,1628.7L1620.7,1634L1628.8,1654.9L1620.7,1678.3L1613.9,1686L1608.7,1707.8L1607.5,1717.1L1596.6,1738.1ZM1662,1717.1L1661,1696.8L1658.9,1686L1668.9,1658.3L1678.8,1686L1676.7,1696.8L1675.7,1717.1L1668.9,1734.7ZM1751.5,1717.1L1751.5,1712.9L1746.7,1686L1745.9,1667.4L1743.2,1654.9L1749.1,1634.2L1749.8,1623.9L1753.1,1615.2L1756.5,1623.9L1756.9,1633.6L1762.9,1654.9L1760.1,1668.1L1759.6,1686L1754.7,1712.9L1754.7,1717.1L1753.1,1721.2ZM1793,1686L1789.3,1661.2L1787.9,1654.9L1789.3,1652.1L1791,1650.5L1801.3,1628.2L1811.2,1654.9L1807.7,1669.6L1813.3,1675.7L1816.2,1686L1813.3,1693.3L1810.5,1693.3L1801.3,1698.7ZM1476.2,1654.9M1668.1,1623.9L1668.9,1592.8L1669.7,1623.9L1668.9,1626.7ZM1460.6,1592.8L1464.2,1582.3L1474.8,1561.7L1476.2,1558.2L1477.5,1561.7L1476.2,1575.1L1473.1,1592.8L1464.2,1602.2ZM1416,1561.7M1813.3,1530.7L1825.4,1528.3L1825.8,1530.7L1825.4,1532.7ZM1399.4,1499.6L1404,1487.8L1408.6,1499.6L1404,1511.4Z" fill="#f7ff00" fill-rule="evenodd" stroke="#f7ff00" stroke-width="0.6"/>
<path d="M1402.9,1717.1L1402.9,1714.4L1398.5,1686L1404,1672L1410.5,1686L1405.4,1713.4L1405.4,1717.1L1404,1719.8ZM1505.8,1717.1L1505.8,1700.2L1504.4,1686L1505.8,1671.8L1505.8,1654.9L1512.3,1629.6L1521.3,1654.9L1524.4,1663L1526.5,1654.9L1530.6,1638.9L1533.1,1623.9L1536.4,1615.2L1539.8,1623.9L1540.2,1633.6L1544.8,1654.9L1544.8,1664.5L1544.8,1686L1543.4,1699L1543,1717.1L1536.4,1734L1529.9,1734L1524.4,1740.4L1518.9,1734L1512.3,1734ZM1587.3,1717.1L1588.4,1707.1L1588.8,1686L1589.1,1674.3L1589.1,1654.9L1596.6,1639.1L1605.2,1632.7L1608.7,1628.1L1610.8,1629.4L1620.7,1634.5L1628.6,1654.9L1620.7,1677.6L1613.4,1686L1608.7,1705.6L1607.2,1717.1L1596.6,1737.5ZM1662.3,1717.1L1661.3,1697.6L1659.1,1686L1668.9,1658.7L1678.6,1686L1676.4,1697.6L1675.4,1717.1L1668.9,1734ZM1752.1,1717.1L1752.1,1714.4L1747,1686L1746.2,1668.2L1743.4,1654.9L1749.7,1632.8L1750.3,1623.9L1753.1,1616.5L1756,1623.9L1756.4,1632.2L1762.7,1654.9L1759.8,1668.9L1759.3,1686L1754.2,1714.4L1754.2,1717.1L1753.1,1719.8ZM1793.6,1686L1789.3,1656.8L1788.9,1654.9L1789.3,1654.1L1789.8,1653.6L1801.3,1628.7L1811,1654.9L1807.2,1670.9L1813.3,1677.5L1815.7,1686L1813.3,1692.1L1811,1692.1L1801.3,1697.7ZM1461,1592.8L1464.2,1583.6L1475.4,1561.7L1476.2,1559.8L1476.9,1561.7L1476.2,1568.8L1471.9,1592.8L1464.2,1601ZM1399.8,1499.6L1404,1488.8L1408.2,1499.6L1404,1510.4Z" fill="#ffe000" fill-rule="evenodd" stroke="#ffe000" stroke-width="0.6"/>
<path d="M1403.5,1717.1L1403.5,1715.8L1398.9,1686L1404,1672.8L1410.1,1686L1404.6,1715.4L1404.6,1717.1L1404,1718.3ZM1506.1,1717.1L1506.1,1700.9L1504.6,1686L1506.1,1671.1L1506.1,1654.9L1512.3,1630.7L1520.9,1654.9L1524.4,1664L1526.8,1654.9L1531.4,1636.9L1533.5,1623.9L1536.4,1616.4L1539.3,1623.9L1539.7,1632.3L1544.5,1654.9L1544.5,1665.1L1544.5,1686L1543.1,1699.8L1542.7,1717.1L1536.4,1733.2L1530.2,1733.2L1524.4,1740L1518.6,1733.2L1512.3,1733.2ZM1587.6,1717.1L1588.8,1706.2L1589.1,1686L1589.5,1673.3L1589.5,1654.9L1596.6,1639.9L1604.8,1633.8L1608.7,1628.6L1611.1,1630.1L1620.7,1635.1L1628.4,1654.9L1620.7,1677L1612.9,1686L1608.7,1703.4L1606.9,1717.1L1596.6,1737ZM1662.6,1717.1L1661.6,1698.4L1659.3,1686L1668.9,1659.2L1678.4,1686L1676.1,1698.4L1675.1,1717.1L1668.9,1733.2ZM1752.7,1717.1L1752.7,1715.8L1747.3,1686L1746.6,1669.1L1743.5,1654.9L1750.2,1631.3L1750.7,1623.9L1753.1,1617.7L1755.5,1623.9L1755.8,1630.9L1762.6,1654.9L1759.4,1669.8L1759,1686L1753.6,1715.8L1753.6,1717.1L1753.1,1718.3ZM1794.3,1686L1789.9,1656.5L1789.4,1654.9L1801.3,1629.2L1810.8,1654.9L1806.7,1672.1L1813.3,1679.3L1815.2,1686L1813.3,1690.8L1811.5,1690.8L1801.3,1696.8ZM1461.5,1592.8L1464.2,1584.9L1476.1,1561.7L1476.2,1561.5L1476.3,1561.7L1476.2,1562.6L1470.8,1592.8L1464.2,1599.8ZM1400.2,1499.6L1404,1489.8L1407.8,1499.6L1404,1509.4Z" fill="#ffb800" fill-rule="evenodd" stroke="#ffb800" stroke-width="0.6"/>
<path d="M1506.4,1717.1L1506.4,1701.7L1504.8,1686L1506.4,1670.4L1506.4,1654.9L1512.3,1631.8L1520.5,1654.9L1524.4,1665L1527,1654.9L1532.1,1634.9L1533.9,1623.9L1536.4,1617.5L1538.9,1623.9L1539.2,1631L1544.3,1654.9L1544.3,1665.7L1544.3,1686L1542.8,1700.6L1542.4,1717.1L1536.4,1732.5L1530.4,1732.5L1524.4,1739.6L1518.3,1732.5L1512.3,1732.5ZM1587.8,1717.1L1589.1,1705.3L1589.4,1686L1589.9,1672.4L1589.9,1654.9L1596.6,1640.6L1604.4,1634.9L1608.7,1629.1L1611.3,1630.8L1620.7,1635.6L1628.2,1654.9L1620.7,1676.4L1612.3,1686L1608.7,1701.2L1606.6,1717.1L1596.6,1736.4ZM1662.9,1717.1L1662,1699.3L1659.4,1686L1668.9,1659.6L1678.3,1686L1675.8,1699.3L1674.8,1717.1L1668.9,1732.5ZM1399.2,1686L1404,1673.7L1409.7,1686L1404,1716.8ZM1747.6,1686L1746.9,1670L1743.7,1654.9L1750.8,1629.9L1751.2,1623.9L1753.1,1618.9L1755.1,1623.9L1755.3,1629.5L1762.5,1654.9L1759.1,1670.6L1758.7,1686L1753.1,1716.9ZM1794.9,1686L1790.9,1659.2L1789.6,1654.9L1801.3,1629.7L1810.6,1654.9L1806.2,1673.4L1813.3,1681.1L1814.7,1686L1813.3,1689.5L1812,1689.5L1801.3,1695.8ZM1461.9,1592.8L1464.2,1586.3L1474.5,1566.3L1469.7,1592.8L1464.2,1598.7ZM1400.6,1499.6L1404,1490.9L1407.4,1499.6L1404,1508.3Z" fill="#ff9100" fill-rule="evenodd" stroke="#ff9100" stroke-width="0.6"/>
<path d="M1506.6,1717.1L1506.6,1702.4L1505.1,1686L1506.6,1669.7L1506.6,1654.9L1512.3,1632.9L1520.1,1654.9L1524.4,1666L1527.3,1654.9L1532.9,1632.9L1534.4,1623.9L1536.4,1618.6L1538.4,1623.9L1538.7,1629.7L1544.1,1654.9L1544.1,1666.2L1544.1,1686L1542.5,1701.3L1542.1,1717.1L1536.4,1731.8L1530.7,1731.8L1524.4,1739.2L1518,1731.8L1512.3,1731.8ZM1588,1717.1L1589.5,1704.4L1589.8,1686L1590.2,1671.4L1590.2,1654.9L1596.6,1641.4L1604,1636L1608.7,1629.7L1611.6,1631.5L1620.7,1636.2L1628,1654.9L1620.7,1675.8L1611.8,1686L1608.7,1699.1L1606.3,1717.1L1596.6,1735.9ZM1663.2,1717.1L1662.3,1700.1L1659.6,1686L1668.9,1660.1L1678.1,1686L1675.4,1700.1L1674.6,1717.1L1668.9,1731.8ZM1399.5,1686L1404,1674.6L1409.3,1686L1404,1714.6ZM1747.9,1686L1747.3,1670.9L1743.8,1654.9L1751.4,1628.4L1751.7,1623.9L1753.1,1620.1L1754.6,1623.9L1754.8,1628.2L1762.3,1654.9L1758.8,1671.4L1758.4,1686L1753.1,1715.2ZM1795.6,1686L1792,1661.9L1789.9,1654.9L1801.3,1630.2L1810.4,1654.9L1805.7,1674.7L1813.3,1682.9L1814.2,1686L1813.3,1688.2L1812.5,1688.2L1801.3,1694.8ZM1462.4,1592.8L1464.2,1587.6L1472.4,1571.6L1468.6,1592.8L1464.2,1597.5ZM1401,1499.6L1404,1491.9L1407,1499.6L1404,1507.3Z" fill="#ff6900" fill-rule="evenodd" stroke="#ff6900" stroke-width="0.6"/>
<path d="M1506.9,1717.1L1506.9,1703.1L1505.3,1686L1506.9,1668.9L1506.9,1654.9L1512.3,1634L1519.7,1654.9L1524.4,1667L1527.6,1654.9L1533.7,1630.9L1534.8,1623.9L1536.4,1619.8L1538,1623.9L1538.2,1628.4L1543.9,1654.9L1543.9,1666.8L1543.9,1686L1542.2,1702.1L1541.8,1717.1L1536.4,1731.1L1531,1731.1L1524.4,1738.8L1517.8,1731.1L1512.3,1731.1ZM1588.3,1717.1L1589.8,1703.5L1590.1,1686L1590.6,1670.5L1590.6,1654.9L1596.6,1642.2L1603.5,1637.1L1608.7,1630.2L1611.9,1632.1L1620.7,1636.7L1627.8,1654.9L1620.7,1675.2L1611.3,1686L1608.7,1696.9L1606,1717.1L1596.6,1735.3ZM1663.4,1717.1L1662.6,1701L1659.8,1686L1668.9,1660.6L1677.9,1686L1675.1,1701L1674.3,1717.1L1668.9,1731.1ZM1399.9,1686L1404,1675.5L1408.9,1686L1404,1712.4ZM1748.2,1686L1747.6,1671.7L1743.9,1654.9L1751.9,1627L1752.1,1623.9L1753.1,1621.3L1754.1,1623.9L1754.3,1626.8L1762.2,1654.9L1758.5,1672.3L1758.1,1686L1753.1,1713.5ZM1796.2,1686L1793,1664.7L1790.1,1654.9L1801.3,1630.7L1810.3,1654.9L1805.2,1676L1813.3,1684.7L1813.7,1686L1813.3,1686.9L1813,1686.9L1801.3,1693.8ZM1462.8,1592.8L1464.2,1588.9L1470.3,1576.9L1467.5,1592.8L1464.2,1596.3ZM1401.4,1499.6L1404,1492.9L1406.6,1499.6L1404,1506.3Z" fill="#ff4100" fill-rule="evenodd" stroke="#ff4100" stroke-width="0.6"/>
<path d="M1507.2,1717.1L1507.2,1703.8L1505.5,1686L1507.2,1668.2L1507.2,1654.9L1512.3,1635.1L1519.3,1654.9L1524.4,1667.9L1527.8,1654.9L1534.4,1629L1535.3,1623.9L1536.4,1620.9L1537.6,1623.9L1537.7,1627.2L1543.6,1654.9L1543.6,1667.4L1543.6,1686L1541.9,1702.9L1541.6,1717.1L1536.4,1730.3L1531.3,1730.3L1524.4,1738.4L1517.5,1730.3L1512.3,1730.3ZM1588.5,1717.1L1590.2,1702.6L1590.5,1686L1591,1669.5L1591,1654.9L1596.6,1643L1603.1,1638.2L1608.7,1630.7L1612.1,1632.8L1620.7,1637.2L1627.6,1654.9L1620.7,1674.6L1610.8,1686L1608.7,1694.7L1605.8,1717.1L1596.6,1734.8ZM1663.7,1717.1L1662.9,1701.8L1659.9,1686L1668.9,1661L1677.8,1686L1674.8,1701.8L1674,1717.1L1668.9,1730.3ZM1400.2,1686L1404,1676.3L1408.5,1686L1404,1710.3ZM1748.5,1686L1747.9,1672.6L1744.1,1654.9L1752.5,1625.5L1752.6,1623.9L1753.1,1622.5L1753.7,1623.9L1753.7,1625.4L1762,1654.9L1758.1,1673.1L1757.8,1686L1753.1,1711.8ZM1796.8,1686L1794.1,1667.4L1790.3,1654.9L1801.3,1631.3L1810.1,1654.9L1804.7,1677.2L1812.9,1686L1801.3,1692.8ZM1463.3,1592.8L1464.2,1590.2L1468.3,1582.2L1466.4,1592.8L1464.2,1595.1ZM1401.8,1499.6L1404,1494L1406.2,1499.6L1404,1505.2Z" fill="#ff0000" fill-rule="evenodd" stroke="#ff0000" stroke-width="0.6"/>
</g>
<rect x="1379.9" y="1345.2" width="483.4" height="400" fill="none" stroke="#101030" stroke-width="1.3"/>
<line x1="1361.9" y1="1344.2" x2="1379.9" y2="1344.2" stroke="#222" stroke-width="1.4"/>
<text x="1341.1" y="1351" font-size="33.5" text-anchor="middle">15</text>
<line x1="1374.9" y1="1421.9" x2="1379.9" y2="1421.9" stroke="#222" stroke-width="1.4"/>
<line x1="1370.6" y1="1499.6" x2="1379.9" y2="1499.6" stroke="#222" stroke-width="1.4"/>
<text x="1352.3" y="1506.4" font-size="33.5" text-anchor="middle">10</text>
<line x1="1374.9" y1="1577.3" x2="1379.9" y2="1577.3" stroke="#222" stroke-width="1.4"/>
<line x1="1370.6" y1="1654.9" x2="1379.9" y2="1654.9" stroke="#222" stroke-width="1.4"/>
<text x="1352.3" y="1661.7" font-size="33.5" text-anchor="middle">5</text>
<text transform="translate(1324.9 1577.6) rotate(-90)" font-size="33.5" text-anchor="middle" letter-spacing="1.2">Z(Å)</text>
<text x="1542.5" y="1392.7" font-size="33.5" font-weight="bold" fill="#fff">TFSI<tspan dy="-13" font-size="20">-</tspan><tspan dy="13"> @ Cu</tspan></text>
<rect x="2028.9" y="1344.2" width="486.1" height="360.8" fill="#0000ff"/>
<g clip-path="url(#cg4)">
<path d="M2028.9,1625.9L2040.2,1654.9L2028.9,1683.9L2028.9,1654.9ZM2029.2,1717.1L2029.2,1716.4L2029.2,1686L2041,1655.6L2052.8,1686L2052.8,1686.8L2052.8,1717.1L2041,1747.5ZM2138.1,1717.1L2138.2,1716.3L2138.2,1686L2150,1655.7L2161.7,1686L2161.7,1716.3L2161.9,1717.1L2150,1747.8ZM2283.3,1717.1L2283.5,1716.3L2283.5,1686L2295.3,1655.7L2307,1686L2307,1716.3L2307.2,1717.1L2295.3,1747.9ZM2416.5,1717.1L2416.7,1716.3L2416.7,1686L2428.4,1655.7L2440.2,1686L2440.2,1716.3L2440.4,1717.1L2428.4,1747.8ZM2102,1686L2113.6,1656.1L2125.3,1686L2113.6,1715.9ZM2174.7,1686L2186.3,1656.1L2197.9,1686L2186.3,1715.9ZM2465.2,1686L2476.9,1656.1L2488.5,1686L2476.9,1715.9ZM2489.4,1686L2501.1,1656.1L2512.7,1686L2501.1,1715.9ZM2211,1654.9L2222.6,1625L2234.3,1625L2234.7,1625L2246.4,1654.9L2234.7,1684.8L2223.1,1684.8L2222.6,1684.8ZM2029.2,1623.8L2029.2,1623L2029.2,1592.7L2029.2,1591.8L2029.2,1561.5L2041,1531.3L2052.8,1561.5L2052.8,1591.8L2052.8,1592.7L2052.8,1623L2052.8,1623.8L2041,1654.2ZM2077.6,1623.8L2089.4,1593.4L2089.7,1592.7L2101.5,1562.3L2113.4,1592.7L2101.5,1623L2101.3,1623.8L2089.4,1654.2ZM2138.1,1623.8L2138.2,1623L2138.2,1592.7L2150,1562.3L2150.4,1561.5L2162.1,1531.4L2173.8,1561.5L2173.8,1591.7L2174,1592.7L2169.6,1604.5L2169.6,1623.8L2162.1,1643.1L2154.6,1643.1L2150,1654.4ZM2271.2,1623.8L2283.1,1593.2L2283.3,1592.7L2295.3,1561.9L2307.2,1592.7L2307.2,1623.4L2307.3,1623.8L2295.3,1654.6L2295.1,1654.4L2283.1,1654.4ZM2344.2,1623.8L2355.8,1593.9L2367.4,1623.8L2355.8,1653.7ZM2392.4,1623.8L2404.2,1593.3L2404.5,1592.7L2416.3,1562.2L2416.6,1561.5L2428.4,1531.1L2440.3,1561.5L2428.4,1592L2428.2,1592.7L2416.3,1623.1L2416.1,1623.8L2404.2,1654.2ZM2428.7,1623.8L2440.5,1593.2L2452.4,1623.8L2440.5,1654.3ZM2392.6,1561.5L2404.2,1531.7L2415.8,1561.5L2404.2,1591.4ZM2453.2,1499.3L2464.8,1469.5L2476.3,1499.3L2464.8,1529.1ZM2077.9,1468.2L2089.4,1438.4L2101,1468.2L2089.4,1498Z" fill="#001aff" fill-rule="evenodd" stroke="#001aff" stroke-width="0.6"/>
<path d="M2028.9,1626.4L2040,1654.9L2028.9,1683.4L2028.9,1654.9ZM2029.3,1717.1L2029.3,1716.2L2029.3,1686L2041,1655.8L2052.8,1686L2052.8,1687L2052.8,1717.1L2041,1747.3ZM2138.1,1717.1L2138.3,1716.1L2138.3,1686L2150,1656L2161.7,1686L2161.7,1716.1L2161.8,1717.1L2150,1747.6ZM2283.3,1717.1L2283.6,1716.1L2283.6,1686L2295.3,1655.9L2307,1686L2307,1716.1L2307.2,1717.1L2295.3,1747.8ZM2416.5,1717.1L2416.7,1716.1L2416.7,1686L2428.4,1656L2440.1,1686L2440.1,1716.1L2440.3,1717.1L2428.4,1747.7ZM2102.1,1686L2113.6,1656.5L2125.2,1686L2113.6,1715.6ZM2174.8,1686L2186.3,1656.5L2197.8,1686L2186.3,1715.6ZM2465.4,1686L2476.9,1656.5L2488.4,1686L2476.9,1715.6ZM2489.6,1686L2501.1,1656.5L2512.6,1686L2501.1,1715.6ZM2211.1,1654.9L2222.6,1625.3L2234.1,1625.3L2234.7,1625.3L2246.2,1654.9L2234.7,1684.5L2223.2,1684.5L2222.6,1684.5ZM2029.2,1623.8L2029.3,1622.8L2029.3,1592.7L2029.3,1591.6L2029.3,1561.5L2041,1531.5L2052.7,1561.5L2052.7,1591.6L2052.8,1592.7L2052.8,1622.8L2052.8,1623.8L2041,1654ZM2077.7,1623.8L2089.4,1593.6L2089.8,1592.7L2101.5,1562.5L2113.3,1592.7L2101.5,1622.8L2101.2,1623.8L2089.4,1654ZM2138.1,1623.8L2138.2,1622.8L2138.2,1592.7L2150,1562.5L2150.5,1561.5L2162.1,1531.7L2173.7,1561.5L2173.7,1591.4L2174,1592.7L2168.4,1607.6L2168.4,1623.8L2162.1,1640L2155.8,1640L2150,1654.3ZM2271.3,1623.8L2283.1,1593.3L2283.3,1592.7L2295.3,1562L2307.2,1592.7L2307.2,1623.3L2307.2,1623.8L2295.3,1654.6L2295,1654.3L2283.1,1654.3ZM2344.3,1623.8L2355.8,1594.2L2367.3,1623.8L2355.8,1653.3ZM2392.4,1623.8L2404.2,1593.5L2404.5,1592.7L2416.3,1562.4L2416.7,1561.5L2428.4,1531.2L2440.2,1561.5L2428.4,1591.8L2428.1,1592.7L2416.3,1623L2416,1623.8L2404.2,1654.1ZM2428.7,1623.8L2440.5,1593.4L2452.4,1623.8L2440.5,1654.2ZM2392.7,1561.5L2404.2,1532L2415.7,1561.5L2404.2,1591.1ZM2453.3,1499.3L2464.8,1469.9L2476.2,1499.3L2464.8,1528.7ZM2078,1468.2L2089.4,1438.8L2100.9,1468.2L2089.4,1497.6Z" fill="#0040ff" fill-rule="evenodd" stroke="#0040ff" stroke-width="0.6"/>
<path d="M2028.9,1627L2039.8,1654.9L2028.9,1682.8L2028.9,1654.9ZM2029.3,1717.1L2029.3,1716L2029.3,1686L2041,1656L2052.7,1686L2052.7,1687.1L2052.7,1717.1L2041,1747.1ZM2138.2,1717.1L2138.4,1715.9L2138.4,1686L2150,1656.2L2161.6,1686L2161.6,1715.9L2161.8,1717.1L2150,1747.5ZM2283.3,1717.1L2283.6,1715.9L2283.6,1686L2295.3,1656.2L2306.9,1686L2306.9,1715.9L2307.2,1717.1L2295.3,1747.8ZM2416.6,1717.1L2416.8,1715.9L2416.8,1686L2428.4,1656.2L2440,1686L2440,1715.9L2440.3,1717.1L2428.4,1747.6ZM2102.3,1686L2113.6,1656.8L2125,1686L2113.6,1715.3ZM2174.9,1686L2186.3,1656.8L2197.7,1686L2186.3,1715.3ZM2465.5,1686L2476.9,1656.8L2488.2,1686L2476.9,1715.3ZM2489.7,1686L2501.1,1656.8L2512.5,1686L2501.1,1715.3ZM2211.2,1654.9L2222.6,1625.6L2234,1625.6L2234.7,1625.6L2246.1,1654.9L2234.7,1684.2L2223.3,1684.2L2222.6,1684.2ZM2029.3,1623.8L2029.3,1622.7L2029.3,1592.7L2029.4,1591.3L2029.4,1561.5L2041,1531.7L2052.6,1561.5L2052.6,1591.3L2052.7,1592.7L2052.7,1622.7L2052.7,1623.8L2041,1653.8ZM2077.8,1623.8L2089.4,1593.8L2089.9,1592.7L2101.5,1562.7L2113.2,1592.7L2101.5,1622.7L2101.1,1623.8L2089.4,1653.8ZM2138.2,1623.8L2138.3,1622.7L2138.3,1592.7L2150,1562.7L2150.6,1561.5L2162.1,1531.9L2173.6,1561.5L2173.6,1591.2L2173.9,1592.7L2167.2,1610.7L2167.2,1623.8L2162.1,1636.9L2157,1636.9L2150,1654.1ZM2271.3,1623.8L2283.1,1593.4L2283.4,1592.7L2295.3,1562.1L2307.1,1592.7L2307.1,1623.2L2307.2,1623.8L2295.3,1654.5L2295,1654.1L2283.1,1654.1ZM2344.4,1623.8L2355.8,1594.5L2367.2,1623.8L2355.8,1653ZM2392.5,1623.8L2404.2,1593.7L2404.6,1592.7L2416.3,1562.5L2416.7,1561.5L2428.4,1531.4L2440.2,1561.5L2428.4,1591.7L2428,1592.7L2416.3,1622.8L2415.9,1623.8L2404.2,1653.9ZM2428.8,1623.8L2440.5,1593.5L2452.3,1623.8L2440.5,1654ZM2392.8,1561.5L2404.2,1532.3L2415.6,1561.5L2404.2,1590.8ZM2453.4,1499.3L2464.8,1470.2L2476.1,1499.3L2464.8,1528.4ZM2078.1,1468.2L2089.4,1439.1L2100.7,1468.2L2089.4,1497.2Z" fill="#0065ff" fill-rule="evenodd" stroke="#0065ff" stroke-width="0.6"/>
<path d="M2028.9,1627.6L2039.5,1654.9L2028.9,1682.2L2028.9,1654.9ZM2029.4,1717.1L2029.4,1715.8L2029.4,1686L2041,1656.2L2052.6,1686L2052.6,1687.3L2052.6,1717.1L2041,1746.9ZM2138.2,1717.1L2138.5,1715.6L2138.5,1686L2150,1656.4L2161.5,1686L2161.5,1715.6L2161.7,1717.1L2150,1747.4ZM2283.4,1717.1L2283.7,1715.7L2283.7,1686L2295.3,1656.4L2306.8,1686L2306.8,1715.7L2307.1,1717.1L2295.3,1747.7ZM2416.6,1717.1L2416.9,1715.6L2416.9,1686L2428.4,1656.4L2440,1686L2440,1715.6L2440.2,1717.1L2428.4,1747.5ZM2102.4,1686L2113.6,1657.1L2124.9,1686L2113.6,1714.9ZM2175,1686L2186.3,1657.1L2197.5,1686L2186.3,1714.9ZM2465.6,1686L2476.9,1657.1L2488.1,1686L2476.9,1714.9ZM2489.8,1686L2501.1,1657.1L2512.3,1686L2501.1,1714.9ZM2211.3,1654.9L2222.6,1625.9L2233.9,1625.9L2234.7,1625.9L2246,1654.9L2234.7,1683.9L2223.4,1683.9L2222.6,1683.9ZM2029.4,1623.8L2029.4,1622.5L2029.4,1592.7L2029.5,1591.1L2029.5,1561.5L2041,1532L2052.5,1561.5L2052.5,1591.1L2052.6,1592.7L2052.6,1622.5L2052.6,1623.8L2041,1653.6ZM2077.8,1623.8L2089.4,1594L2090,1592.7L2101.5,1562.9L2113.1,1592.7L2101.5,1622.5L2101,1623.8L2089.4,1653.6ZM2138.2,1623.8L2138.4,1622.5L2138.4,1592.7L2150,1562.9L2150.7,1561.5L2162.1,1532.2L2173.5,1561.5L2173.5,1590.9L2173.9,1592.7L2166,1613.8L2166,1623.8L2162.1,1633.7L2158.2,1633.7L2150,1654ZM2271.4,1623.8L2283.1,1593.5L2283.4,1592.7L2295.3,1562.2L2307.1,1592.7L2307.1,1623.1L2307.2,1623.8L2295.3,1654.4L2294.9,1654L2283.1,1654ZM2344.5,1623.8L2355.8,1594.9L2367,1623.8L2355.8,1652.7ZM2392.6,1623.8L2404.2,1593.8L2404.7,1592.7L2416.3,1562.7L2416.8,1561.5L2428.4,1531.6L2440.1,1561.5L2428.4,1591.5L2428,1592.7L2416.3,1622.6L2415.9,1623.8L2404.2,1653.7ZM2428.8,1623.8L2440.5,1593.7L2452.2,1623.8L2440.5,1653.9ZM2393,1561.5L2404.2,1532.6L2415.5,1561.5L2404.2,1590.5ZM2453.6,1499.3L2464.8,1470.6L2475.9,1499.3L2464.8,1528ZM2078.3,1468.2L2089.4,1439.5L2100.6,1468.2L2089.4,1496.9Z" fill="#008bff" fill-rule="evenodd" stroke="#008bff" stroke-width="0.6"/>
<path d="M2028.9,1628.1L2039.3,1654.9L2028.9,1681.7L2028.9,1654.9ZM2029.5,1717.1L2029.5,1715.6L2029.5,1686L2041,1656.4L2052.5,1686L2052.5,1687.5L2052.5,1717.1L2041,1746.7ZM2138.3,1717.1L2138.5,1715.4L2138.5,1686L2150,1656.6L2161.4,1686L2161.4,1715.4L2161.7,1717.1L2150,1747.2ZM2283.4,1717.1L2283.8,1715.5L2283.8,1686L2295.3,1656.6L2306.7,1686L2306.7,1715.5L2307.1,1717.1L2295.3,1747.6ZM2416.7,1717.1L2417,1715.4L2417,1686L2428.4,1656.6L2439.9,1686L2439.9,1715.4L2440.2,1717.1L2428.4,1747.4ZM2102.5,1686L2113.6,1657.4L2124.8,1686L2113.6,1714.6ZM2175.2,1686L2186.3,1657.4L2197.4,1686L2186.3,1714.6ZM2465.7,1686L2476.9,1657.4L2488,1686L2476.9,1714.6ZM2490,1686L2501.1,1657.4L2512.2,1686L2501.1,1714.6ZM2211.5,1654.9L2222.6,1626.2L2233.8,1626.2L2234.7,1626.2L2245.9,1654.9L2234.7,1683.6L2223.6,1683.6L2222.6,1683.6ZM2029.5,1623.8L2029.5,1622.3L2029.5,1592.7L2029.6,1590.9L2029.6,1561.5L2041,1532.2L2052.4,1561.5L2052.4,1590.9L2052.5,1592.7L2052.5,1622.3L2052.6,1623.8L2041,1653.5ZM2077.9,1623.8L2089.4,1594.2L2090,1592.7L2101.5,1563.1L2113.1,1592.7L2101.5,1622.3L2101,1623.8L2089.4,1653.4ZM2138.3,1623.8L2138.5,1622.3L2138.5,1592.7L2150,1563.1L2150.8,1561.5L2162.1,1532.4L2173.4,1561.5L2173.4,1590.6L2173.8,1592.7L2164.7,1616.9L2164.7,1623.8L2162.1,1630.6L2159.4,1630.6L2150,1653.9ZM2271.4,1623.8L2283.1,1593.7L2283.4,1592.7L2295.3,1562.3L2307.1,1592.7L2307.1,1623L2307.1,1623.8L2295.3,1654.3L2294.9,1653.9L2283.1,1653.9ZM2344.7,1623.8L2355.8,1595.2L2366.9,1623.8L2355.8,1652.4ZM2392.6,1623.8L2404.2,1594L2404.7,1592.7L2416.3,1562.9L2416.9,1561.5L2428.4,1531.8L2440,1561.5L2428.4,1591.3L2427.9,1592.7L2416.3,1622.4L2415.8,1623.8L2404.2,1653.6ZM2428.9,1623.8L2440.5,1593.8L2452.2,1623.8L2440.5,1653.7ZM2393.1,1561.5L2404.2,1532.9L2415.3,1561.5L2404.2,1590.1ZM2453.7,1499.3L2464.8,1470.9L2475.8,1499.3L2464.8,1527.7ZM2078.4,1468.2L2089.4,1439.8L2100.5,1468.2L2089.4,1496.5Z" fill="#00b0ff" fill-rule="evenodd" stroke="#00b0ff" stroke-width="0.6"/>
<path d="M2028.9,1628.7L2039.1,1654.9L2028.9,1681.1L2028.9,1654.9ZM2029.6,1717.1L2029.6,1715.4L2029.6,1686L2041,1656.6L2052.4,1686L2052.4,1687.7L2052.4,1717.1L2041,1746.5ZM2138.3,1717.1L2138.6,1715.2L2138.6,1686L2150,1656.9L2161.3,1686L2161.3,1715.2L2161.6,1717.1L2150,1747.1ZM2283.4,1717.1L2283.9,1715.2L2283.9,1686L2295.3,1656.8L2306.6,1686L2306.6,1715.2L2307.1,1717.1L2295.3,1747.5ZM2416.7,1717.1L2417.1,1715.2L2417.1,1686L2428.4,1656.9L2439.8,1686L2439.8,1715.2L2440.2,1717.1L2428.4,1747.3ZM2102.7,1686L2113.6,1657.8L2124.6,1686L2113.6,1714.3ZM2175.3,1686L2186.3,1657.8L2197.3,1686L2186.3,1714.3ZM2465.9,1686L2476.9,1657.8L2487.9,1686L2476.9,1714.3ZM2490.1,1686L2501.1,1657.8L2512.1,1686L2501.1,1714.3ZM2211.6,1654.9L2222.6,1626.5L2233.7,1626.5L2234.7,1626.5L2245.8,1654.9L2234.7,1683.3L2223.7,1683.3L2222.6,1683.3ZM2029.5,1623.8L2029.6,1622.1L2029.6,1592.7L2029.7,1590.6L2029.7,1561.5L2041,1532.4L2052.3,1561.5L2052.3,1590.6L2052.4,1592.7L2052.4,1622.1L2052.5,1623.8L2041,1653.3ZM2078,1623.8L2089.4,1594.4L2090.1,1592.7L2101.5,1563.3L2113,1592.7L2101.5,1622.1L2100.9,1623.8L2089.4,1653.2ZM2138.3,1623.8L2138.5,1622.1L2138.5,1592.7L2150,1563.3L2150.9,1561.5L2162.1,1532.7L2173.3,1561.5L2173.3,1590.4L2173.8,1592.7L2163.5,1620L2163.5,1623.8L2162.1,1627.5L2160.6,1627.5L2150,1653.8ZM2271.5,1623.8L2283.1,1593.8L2283.5,1592.7L2295.3,1562.4L2307,1592.7L2307,1622.9L2307.1,1623.8L2295.3,1654.3L2294.8,1653.8L2283.1,1653.8ZM2344.8,1623.8L2355.8,1595.5L2366.8,1623.8L2355.8,1652ZM2392.7,1623.8L2404.2,1594.2L2404.8,1592.7L2416.3,1563.1L2416.9,1561.5L2428.4,1531.9L2439.9,1561.5L2428.4,1591.1L2427.8,1592.7L2416.3,1622.3L2415.7,1623.8L2404.2,1653.4ZM2429,1623.8L2440.5,1594L2452.1,1623.8L2440.5,1653.6ZM2393.2,1561.5L2404.2,1533.3L2415.2,1561.5L2404.2,1589.8ZM2453.9,1499.3L2464.8,1471.3L2475.7,1499.3L2464.8,1527.3ZM2078.5,1468.2L2089.4,1440.2L2100.3,1468.2L2089.4,1496.2Z" fill="#00d6ff" fill-rule="evenodd" stroke="#00d6ff" stroke-width="0.6"/>
<path d="M2028.9,1629.2L2038.9,1654.9L2028.9,1680.6L2028.9,1654.9ZM2029.6,1717.1L2029.6,1715.2L2029.6,1686L2041,1656.8L2052.4,1686L2052.4,1687.9L2052.4,1717.1L2041,1746.4ZM2138.4,1717.1L2138.7,1715L2138.7,1686L2150,1657.1L2161.2,1686L2161.2,1715L2161.6,1717.1L2150,1747ZM2283.5,1717.1L2284,1715L2284,1686L2295.3,1657L2306.5,1686L2306.5,1715L2307,1717.1L2295.3,1747.4ZM2416.8,1717.1L2417.2,1715L2417.2,1686L2428.4,1657.1L2439.7,1686L2439.7,1715L2440.1,1717.1L2428.4,1747.2ZM2102.8,1686L2113.6,1658.1L2124.5,1686L2113.6,1714ZM2175.4,1686L2186.3,1658.1L2197.2,1686L2186.3,1714ZM2466,1686L2476.9,1658.1L2487.7,1686L2476.9,1714ZM2490.2,1686L2501.1,1658.1L2511.9,1686L2501.1,1714ZM2211.7,1654.9L2222.6,1626.8L2233.5,1626.8L2234.7,1626.8L2245.6,1654.9L2234.7,1683L2223.8,1683L2222.6,1683ZM2029.6,1623.8L2029.6,1621.9L2029.6,1592.7L2029.8,1590.4L2029.8,1561.5L2041,1532.7L2052.2,1561.5L2052.2,1590.4L2052.4,1592.7L2052.4,1621.9L2052.4,1623.8L2041,1653.1ZM2078.1,1623.8L2089.4,1594.6L2090.2,1592.7L2101.5,1563.4L2112.9,1592.7L2101.5,1621.9L2100.8,1623.8L2089.4,1653ZM2138.4,1623.8L2138.6,1621.9L2138.6,1592.7L2150,1563.4L2151,1561.5L2162.1,1533L2173.2,1561.5L2173.2,1590.1L2173.8,1592.7L2162.3,1623.2L2162.3,1623.8L2162.1,1624.4L2161.8,1624.4L2150,1653.6ZM2271.5,1623.8L2283.1,1593.9L2283.5,1592.7L2295.3,1562.5L2307,1592.7L2307,1622.8L2307.1,1623.8L2295.3,1654.2L2294.8,1653.6L2283.1,1653.6ZM2344.9,1623.8L2355.8,1595.8L2366.7,1623.8L2355.8,1651.7ZM2392.8,1623.8L2404.2,1594.4L2404.9,1592.7L2416.3,1563.2L2417,1561.5L2428.4,1532.1L2439.9,1561.5L2428.4,1591L2427.8,1592.7L2416.3,1622.1L2415.7,1623.8L2404.2,1653.2ZM2429,1623.8L2440.5,1594.2L2452.1,1623.8L2440.5,1653.4ZM2393.3,1561.5L2404.2,1533.6L2415.1,1561.5L2404.2,1589.5ZM2454,1499.3L2464.8,1471.6L2475.5,1499.3L2464.8,1527ZM2078.7,1468.2L2089.4,1440.5L2100.2,1468.2L2089.4,1495.8Z" fill="#00ffff" fill-rule="evenodd" stroke="#00ffff" stroke-width="0.6"/>
<path d="M2028.9,1634L2037,1654.9L2028.9,1675.8L2028.9,1654.9ZM2030.3,1717.1L2030.3,1713.6L2030.3,1686L2041,1658.5L2051.7,1686L2051.7,1689.6L2051.7,1717.1L2041,1744.7ZM2138.8,1717.1L2139.5,1713L2139.5,1686L2150,1659L2160.5,1686L2160.5,1713L2161.1,1717.1L2150,1745.9ZM2283.8,1717.1L2284.7,1713.2L2284.7,1686L2295.3,1658.9L2305.8,1686L2305.8,1713.2L2306.7,1717.1L2295.3,1746.7ZM2417.1,1717.1L2417.9,1713L2417.9,1686L2428.4,1659L2439,1686L2439,1713L2439.7,1717.1L2428.4,1746.2ZM2103.9,1686L2113.6,1660.9L2123.4,1686L2113.6,1711.2ZM2176.5,1686L2186.3,1660.9L2196.1,1686L2186.3,1711.2ZM2467.1,1686L2476.9,1660.9L2486.6,1686L2476.9,1711.2ZM2491.3,1686L2501.1,1660.9L2510.9,1686L2501.1,1711.2ZM2212.7,1654.9L2222.6,1629.5L2232.5,1629.5L2234.7,1629.5L2244.6,1654.9L2234.7,1680.3L2224.8,1680.3L2222.6,1680.3ZM2030.2,1623.8L2030.3,1620.2L2030.3,1592.7L2030.5,1588.4L2030.5,1561.5L2041,1534.6L2051.5,1561.5L2051.5,1588.4L2051.7,1592.7L2051.7,1620.2L2051.8,1623.8L2041,1651.5ZM2078.7,1623.8L2089.4,1596.2L2090.8,1592.7L2101.5,1565.1L2112.3,1592.7L2101.5,1620.2L2100.2,1623.8L2089.4,1651.3ZM2138.8,1623.8L2139.3,1620.2L2139.3,1592.7L2150,1565.1L2151.8,1561.5L2162.1,1535.2L2172.3,1561.5L2172.3,1587.9L2173.4,1592.7L2162.1,1622.8L2161.6,1623.8L2150,1652.5ZM2272,1623.8L2283.1,1595L2283.8,1592.7L2295.3,1563.3L2306.7,1592.7L2306.7,1622L2306.9,1623.8L2295.3,1653.6L2294.3,1652.5L2283.1,1652.5ZM2346,1623.8L2355.8,1598.6L2365.6,1623.8L2355.8,1648.9ZM2393.4,1623.8L2404.2,1595.8L2405.5,1592.7L2416.3,1564.7L2417.6,1561.5L2428.4,1533.6L2439.3,1561.5L2428.4,1589.5L2427.2,1592.7L2416.3,1620.6L2415.1,1623.8L2404.2,1651.7ZM2429.5,1623.8L2440.5,1595.5L2451.6,1623.8L2440.5,1652.1ZM2394.4,1561.5L2404.2,1536.4L2414,1561.5L2404.2,1586.7ZM2455.2,1499.3L2464.8,1474.7L2474.3,1499.3L2464.8,1523.9ZM2079.9,1468.2L2089.4,1443.6L2099,1468.2L2089.4,1492.8Z" fill="#00ffe6" fill-rule="evenodd" stroke="#00ffe6" stroke-width="0.6"/>
<path d="M2028.9,1635.6L2036.4,1654.9L2028.9,1674.2L2028.9,1654.9ZM2030.5,1717.1L2030.5,1713L2030.5,1686L2041,1659L2051.5,1686L2051.5,1690.1L2051.5,1717.1L2041,1744.1ZM2138.9,1717.1L2139.7,1712.4L2139.7,1686L2150,1659.6L2160.2,1686L2160.2,1712.4L2161,1717.1L2150,1745.5ZM2283.9,1717.1L2284.9,1712.6L2284.9,1686L2295.3,1659.5L2305.6,1686L2305.6,1712.6L2306.7,1717.1L2295.3,1746.4ZM2417.2,1717.1L2418.2,1712.4L2418.2,1686L2428.4,1659.6L2438.7,1686L2438.7,1712.4L2439.6,1717.1L2428.4,1745.9ZM2104.2,1686L2113.6,1661.8L2123.1,1686L2113.6,1710.3ZM2176.9,1686L2186.3,1661.8L2195.7,1686L2186.3,1710.3ZM2467.4,1686L2476.9,1661.8L2486.3,1686L2476.9,1710.3ZM2491.6,1686L2501.1,1661.8L2510.5,1686L2501.1,1710.3ZM2213.1,1654.9L2222.6,1630.4L2232.2,1630.4L2234.7,1630.4L2244.3,1654.9L2234.7,1679.4L2225.2,1679.4L2222.6,1679.4ZM2030.4,1623.8L2030.5,1619.7L2030.5,1592.7L2030.8,1587.8L2030.8,1561.5L2041,1535.3L2051.2,1561.5L2051.2,1587.8L2051.5,1592.7L2051.5,1619.7L2051.6,1623.8L2041,1651ZM2078.9,1623.8L2089.4,1596.8L2091,1592.7L2101.5,1565.7L2112,1592.7L2101.5,1619.7L2099.9,1623.8L2089.4,1650.8ZM2138.9,1623.8L2139.5,1619.7L2139.5,1592.7L2150,1565.7L2152.1,1561.5L2162.1,1535.9L2172,1561.5L2172,1587.2L2173.3,1592.7L2162.1,1622.5L2161.5,1623.8L2150,1652.2ZM2272.1,1623.8L2283.1,1595.4L2284,1592.7L2295.3,1563.6L2306.6,1592.7L2306.6,1621.7L2306.8,1623.8L2295.3,1653.4L2294.2,1652.2L2283.1,1652.2ZM2346.4,1623.8L2355.8,1599.5L2365.2,1623.8L2355.8,1648ZM2393.5,1623.8L2404.2,1596.3L2405.6,1592.7L2416.3,1565.2L2417.8,1561.5L2428.4,1534.1L2439.1,1561.5L2428.4,1589L2427,1592.7L2416.3,1620.1L2414.9,1623.8L2404.2,1651.2ZM2429.7,1623.8L2440.5,1595.9L2451.4,1623.8L2440.5,1651.7ZM2394.8,1561.5L2404.2,1537.3L2413.7,1561.5L2404.2,1585.8ZM2455.6,1499.3L2464.8,1475.7L2473.9,1499.3L2464.8,1522.9ZM2080.2,1468.2L2089.4,1444.6L2098.6,1468.2L2089.4,1491.8Z" fill="#00ffbe" fill-rule="evenodd" stroke="#00ffbe" stroke-width="0.6"/>
<path d="M2028.9,1637.1L2035.8,1654.9L2028.9,1672.7L2028.9,1654.9ZM2030.7,1717.1L2030.7,1712.5L2030.7,1686L2041,1659.6L2051.3,1686L2051.3,1690.7L2051.3,1717.1L2041,1743.6ZM2139.1,1717.1L2139.9,1711.8L2139.9,1686L2150,1660.2L2160,1686L2160,1711.8L2160.9,1717.1L2150,1745.1ZM2284,1717.1L2285.2,1712L2285.2,1686L2295.3,1660.1L2305.3,1686L2305.3,1712L2306.6,1717.1L2295.3,1746.2ZM2417.4,1717.1L2418.4,1711.8L2418.4,1686L2428.4,1660.2L2438.5,1686L2438.5,1711.8L2439.5,1717.1L2428.4,1745.6ZM2104.6,1686L2113.6,1662.7L2122.7,1686L2113.6,1709.4ZM2177.2,1686L2186.3,1662.7L2195.4,1686L2186.3,1709.4ZM2467.8,1686L2476.9,1662.7L2485.9,1686L2476.9,1709.4ZM2492,1686L2501.1,1662.7L2510.2,1686L2501.1,1709.4ZM2213.4,1654.9L2222.6,1631.2L2231.8,1631.2L2234.7,1631.2L2243.9,1654.9L2234.7,1678.6L2225.5,1678.6L2222.6,1678.6ZM2030.6,1623.8L2030.7,1619.1L2030.7,1592.7L2031,1587.2L2031,1561.5L2041,1535.9L2051,1561.5L2051,1587.2L2051.3,1592.7L2051.3,1619.1L2051.4,1623.8L2041,1650.5ZM2079.1,1623.8L2089.4,1597.3L2091.3,1592.7L2101.5,1566.2L2111.8,1592.7L2101.5,1619.1L2099.7,1623.8L2089.4,1650.2ZM2139.1,1623.8L2139.7,1619.1L2139.7,1592.7L2150,1566.2L2152.4,1561.5L2162.1,1536.6L2171.8,1561.5L2171.8,1586.4L2173.1,1592.7L2162.1,1622.2L2161.3,1623.8L2150,1651.8ZM2272.3,1623.8L2283.1,1595.8L2284.1,1592.7L2295.3,1563.9L2306.5,1592.7L2306.5,1621.4L2306.7,1623.8L2295.3,1653.2L2294,1651.8L2283.1,1651.8ZM2346.7,1623.8L2355.8,1600.4L2364.9,1623.8L2355.8,1647.1ZM2393.7,1623.8L2404.2,1596.8L2405.8,1592.7L2416.3,1565.7L2417.9,1561.5L2428.4,1534.6L2438.9,1561.5L2428.4,1588.5L2426.8,1592.7L2416.3,1619.6L2414.7,1623.8L2404.2,1650.8ZM2429.9,1623.8L2440.5,1596.3L2451.2,1623.8L2440.5,1651.2ZM2395.1,1561.5L2404.2,1538.2L2413.3,1561.5L2404.2,1584.9ZM2456,1499.3L2464.8,1476.7L2473.6,1499.3L2464.8,1521.9ZM2080.6,1468.2L2089.4,1445.5L2098.2,1468.2L2089.4,1490.8Z" fill="#00ff96" fill-rule="evenodd" stroke="#00ff96" stroke-width="0.6"/>
<path d="M2028.9,1638.7L2035.2,1654.9L2028.9,1671.1L2028.9,1654.9ZM2030.9,1717.1L2030.9,1711.9L2030.9,1686L2041,1660.1L2051.1,1686L2051.1,1691.2L2051.1,1717.1L2041,1743ZM2139.2,1717.1L2140.2,1711.2L2140.2,1686L2150,1660.9L2159.8,1686L2159.8,1711.2L2160.7,1717.1L2150,1744.8ZM2284.1,1717.1L2285.4,1711.3L2285.4,1686L2295.3,1660.7L2305.1,1686L2305.1,1711.3L2306.5,1717.1L2295.3,1745.9ZM2417.5,1717.1L2418.6,1711.2L2418.6,1686L2428.4,1660.9L2438.2,1686L2438.2,1711.2L2439.4,1717.1L2428.4,1745.3ZM2104.9,1686L2113.6,1663.6L2122.4,1686L2113.6,1708.5ZM2177.6,1686L2186.3,1663.6L2195,1686L2186.3,1708.5ZM2468.1,1686L2476.9,1663.6L2485.6,1686L2476.9,1708.5ZM2492.3,1686L2501.1,1663.6L2509.8,1686L2501.1,1708.5ZM2213.8,1654.9L2222.6,1632.1L2231.5,1632.1L2234.7,1632.1L2243.6,1654.9L2234.7,1677.7L2225.9,1677.7L2222.6,1677.7ZM2030.8,1623.8L2030.9,1618.6L2030.9,1592.7L2031.3,1586.5L2031.3,1561.5L2041,1536.6L2050.7,1561.5L2050.7,1586.5L2051.1,1592.7L2051.1,1618.6L2051.2,1623.8L2041,1649.9ZM2079.4,1623.8L2089.4,1597.9L2091.5,1592.7L2101.5,1566.8L2111.6,1592.7L2101.5,1618.6L2099.5,1623.8L2089.4,1649.7ZM2139.2,1623.8L2139.9,1618.6L2139.9,1592.7L2150,1566.8L2152.7,1561.5L2162.1,1537.4L2171.5,1561.5L2171.5,1585.7L2173,1592.7L2162.1,1621.8L2161.2,1623.8L2150,1651.4ZM2272.4,1623.8L2283.1,1596.1L2284.2,1592.7L2295.3,1564.1L2306.3,1592.7L2306.3,1621.2L2306.6,1623.8L2295.3,1653L2293.9,1651.4L2283.1,1651.4ZM2347.1,1623.8L2355.8,1601.3L2364.5,1623.8L2355.8,1646.2ZM2393.9,1623.8L2404.2,1597.3L2406,1592.7L2416.3,1566.2L2418.1,1561.5L2428.4,1535.1L2438.7,1561.5L2428.4,1588L2426.6,1592.7L2416.3,1619.1L2414.5,1623.8L2404.2,1650.3ZM2430,1623.8L2440.5,1596.7L2451.1,1623.8L2440.5,1650.8ZM2395.5,1561.5L2404.2,1539.1L2412.9,1561.5L2404.2,1584ZM2456.3,1499.3L2464.8,1477.7L2473.2,1499.3L2464.8,1520.9ZM2081,1468.2L2089.4,1446.5L2097.9,1468.2L2089.4,1489.8Z" fill="#00ff6e" fill-rule="evenodd" stroke="#00ff6e" stroke-width="0.6"/>
<path d="M2028.9,1640.2L2034.6,1654.9L2028.9,1669.6L2028.9,1654.9ZM2031.1,1717.1L2031.1,1711.4L2031.1,1686L2041,1660.7L2050.9,1686L2050.9,1691.8L2050.9,1717.1L2041,1742.5ZM2139.4,1717.1L2140.4,1710.6L2140.4,1686L2150,1661.5L2159.5,1686L2159.5,1710.6L2160.6,1717.1L2150,1744.4ZM2284.1,1717.1L2285.6,1710.7L2285.6,1686L2295.3,1661.3L2304.9,1686L2304.9,1710.7L2306.4,1717.1L2295.3,1745.7ZM2417.6,1717.1L2418.9,1710.6L2418.9,1686L2428.4,1661.5L2438,1686L2438,1710.6L2439.3,1717.1L2428.4,1745ZM2105.3,1686L2113.6,1664.5L2122,1686L2113.6,1707.5ZM2177.9,1686L2186.3,1664.5L2194.7,1686L2186.3,1707.5ZM2468.5,1686L2476.9,1664.5L2485.2,1686L2476.9,1707.5ZM2492.7,1686L2501.1,1664.5L2509.5,1686L2501.1,1707.5ZM2214.1,1654.9L2222.6,1633L2231.1,1633L2234.7,1633L2243.2,1654.9L2234.7,1676.8L2226.2,1676.8L2222.6,1676.8ZM2031,1623.8L2031.1,1618L2031.1,1592.7L2031.5,1585.9L2031.5,1561.5L2041,1537.2L2050.5,1561.5L2050.5,1585.9L2050.9,1592.7L2050.9,1618L2051,1623.8L2041,1649.4ZM2079.6,1623.8L2089.4,1598.4L2091.7,1592.7L2101.5,1567.3L2111.4,1592.7L2101.5,1618L2099.3,1623.8L2089.4,1649.1ZM2139.4,1623.8L2140.1,1618L2140.1,1592.7L2150,1567.3L2153,1561.5L2162.1,1538.1L2171.2,1561.5L2171.2,1585L2172.9,1592.7L2162.1,1621.5L2161,1623.8L2150,1651.1ZM2272.5,1623.8L2283.1,1596.5L2284.3,1592.7L2295.3,1564.4L2306.2,1592.7L2306.2,1620.9L2306.5,1623.8L2295.3,1652.8L2293.8,1651.1L2283.1,1651.1ZM2347.4,1623.8L2355.8,1602.3L2364.2,1623.8L2355.8,1645.3ZM2394.1,1623.8L2404.2,1597.8L2406.2,1592.7L2416.3,1566.7L2418.3,1561.5L2428.4,1535.5L2438.6,1561.5L2428.4,1587.5L2426.4,1592.7L2416.3,1618.7L2414.3,1623.8L2404.2,1649.8ZM2430.2,1623.8L2440.5,1597.2L2450.9,1623.8L2440.5,1650.4ZM2395.8,1561.5L2404.2,1540L2412.6,1561.5L2404.2,1583.1ZM2456.7,1499.3L2464.8,1478.6L2472.8,1499.3L2464.8,1520ZM2081.4,1468.2L2089.4,1447.5L2097.5,1468.2L2089.4,1488.8Z" fill="#00ff47" fill-rule="evenodd" stroke="#00ff47" stroke-width="0.6"/>
<path d="M2028.9,1641.8L2034,1654.9L2028.9,1668L2028.9,1654.9ZM2031.4,1717.1L2031.4,1710.8L2031.4,1686L2041,1661.2L2050.7,1686L2050.7,1692.3L2050.7,1717.1L2041,1742ZM2139.5,1717.1L2140.7,1709.9L2140.7,1686L2150,1662.1L2159.3,1686L2159.3,1709.9L2160.4,1717.1L2150,1744.1ZM2284.2,1717.1L2285.9,1710.1L2285.9,1686L2295.3,1661.9L2304.6,1686L2304.6,1710.1L2306.3,1717.1L2295.3,1745.5ZM2417.7,1717.1L2419.1,1709.9L2419.1,1686L2428.4,1662.1L2437.7,1686L2437.7,1709.9L2439.1,1717.1L2428.4,1744.7ZM2105.6,1686L2113.6,1665.4L2121.7,1686L2113.6,1706.6ZM2178.3,1686L2186.3,1665.4L2194.3,1686L2186.3,1706.6ZM2468.8,1686L2476.9,1665.4L2484.9,1686L2476.9,1706.6ZM2493.1,1686L2501.1,1665.4L2509.1,1686L2501.1,1706.6ZM2214.4,1654.9L2222.6,1633.9L2230.8,1633.9L2234.7,1633.9L2242.9,1654.9L2234.7,1675.9L2226.5,1675.9L2222.6,1675.9ZM2031.2,1623.8L2031.4,1617.5L2031.4,1592.7L2031.8,1585.2L2031.8,1561.5L2041,1537.8L2050.2,1561.5L2050.2,1585.2L2050.7,1592.7L2050.7,1617.5L2050.8,1623.8L2041,1648.9ZM2079.8,1623.8L2089.4,1599L2091.9,1592.7L2101.5,1567.8L2111.2,1592.7L2101.5,1617.5L2099.1,1623.8L2089.4,1648.6ZM2139.5,1623.8L2140.3,1617.5L2140.3,1592.7L2150,1567.8L2153.2,1561.5L2162.1,1538.8L2170.9,1561.5L2170.9,1584.3L2172.8,1592.7L2162.1,1621.2L2160.9,1623.8L2150,1650.7ZM2272.7,1623.8L2283.1,1596.9L2284.4,1592.7L2295.3,1564.7L2306.1,1592.7L2306.1,1620.6L2306.5,1623.8L2295.3,1652.6L2293.6,1650.7L2283.1,1650.7ZM2347.8,1623.8L2355.8,1603.2L2363.8,1623.8L2355.8,1644.4ZM2394.3,1623.8L2404.2,1598.3L2406.4,1592.7L2416.3,1567.1L2418.5,1561.5L2428.4,1536L2438.4,1561.5L2428.4,1587.1L2426.3,1592.7L2416.3,1618.2L2414.1,1623.8L2404.2,1649.3ZM2430.4,1623.8L2440.5,1597.6L2450.7,1623.8L2440.5,1650ZM2396.2,1561.5L2404.2,1540.9L2412.2,1561.5L2404.2,1582.2ZM2457.1,1499.3L2464.8,1479.6L2472.4,1499.3L2464.8,1519ZM2081.8,1468.2L2089.4,1448.5L2097.1,1468.2L2089.4,1487.8Z" fill="#00ff1f" fill-rule="evenodd" stroke="#00ff1f" stroke-width="0.6"/>
<path d="M2028.9,1643.3L2033.4,1654.9L2028.9,1666.5L2028.9,1654.9ZM2031.6,1717.1L2031.6,1710.3L2031.6,1686L2041,1661.7L2050.5,1686L2050.5,1692.9L2050.5,1717.1L2041,1741.4ZM2139.6,1717.1L2140.9,1709.3L2140.9,1686L2150,1662.7L2159,1686L2159,1709.3L2160.3,1717.1L2150,1743.7ZM2284.3,1717.1L2286.1,1709.5L2286.1,1686L2295.3,1662.5L2304.4,1686L2304.4,1709.5L2306.2,1717.1L2295.3,1745.2ZM2417.8,1717.1L2419.4,1709.3L2419.4,1686L2428.4,1662.7L2437.5,1686L2437.5,1709.3L2439,1717.1L2428.4,1744.3ZM2106,1686L2113.6,1666.3L2121.3,1686L2113.6,1705.7ZM2178.6,1686L2186.3,1666.3L2194,1686L2186.3,1705.7ZM2469.2,1686L2476.9,1666.3L2484.5,1686L2476.9,1705.7ZM2493.4,1686L2501.1,1666.3L2508.7,1686L2501.1,1705.7ZM2214.8,1654.9L2222.6,1634.7L2230.5,1634.7L2234.7,1634.7L2242.6,1654.9L2234.7,1675.1L2226.9,1675.1L2222.6,1675.1ZM2031.4,1623.8L2031.6,1616.9L2031.6,1592.7L2032,1584.6L2032,1561.5L2041,1538.5L2050,1561.5L2050,1584.6L2050.5,1592.7L2050.5,1616.9L2050.6,1623.8L2041,1648.4ZM2080,1623.8L2089.4,1599.5L2092.1,1592.7L2101.5,1568.4L2111,1592.7L2101.5,1616.9L2098.9,1623.8L2089.4,1648.1ZM2139.6,1623.8L2140.5,1616.9L2140.5,1592.7L2150,1568.4L2153.5,1561.5L2162.1,1539.5L2170.6,1561.5L2170.6,1583.5L2172.7,1592.7L2162.1,1620.9L2160.8,1623.8L2150,1650.3ZM2272.8,1623.8L2283.1,1597.2L2284.5,1592.7L2295.3,1565L2306,1592.7L2306,1620.4L2306.4,1623.8L2295.3,1652.4L2293.5,1650.3L2283.1,1650.3ZM2348.1,1623.8L2355.8,1604.1L2363.5,1623.8L2355.8,1643.5ZM2394.5,1623.8L2404.2,1598.7L2406.6,1592.7L2416.3,1567.6L2418.7,1561.5L2428.4,1536.5L2438.2,1561.5L2428.4,1586.6L2426.1,1592.7L2416.3,1617.7L2414,1623.8L2404.2,1648.8ZM2430.5,1623.8L2440.5,1598L2450.6,1623.8L2440.5,1649.5ZM2396.6,1561.5L2404.2,1541.8L2411.9,1561.5L2404.2,1581.2ZM2457.5,1499.3L2464.8,1480.6L2472,1499.3L2464.8,1518ZM2082.2,1468.2L2089.4,1449.5L2096.7,1468.2L2089.4,1486.9Z" fill="#08ff00" fill-rule="evenodd" stroke="#08ff00" stroke-width="0.6"/>
<path d="M2028.9,1644.9L2032.8,1654.9L2028.9,1664.9L2028.9,1654.9ZM2031.8,1717.1L2031.8,1709.7L2031.8,1686L2041,1662.3L2050.2,1686L2050.2,1693.4L2050.2,1717.1L2041,1740.9ZM2139.8,1717.1L2141.2,1708.7L2141.2,1686L2150,1663.3L2158.8,1686L2158.8,1708.7L2160.2,1717.1L2150,1743.3ZM2284.4,1717.1L2286.3,1708.9L2286.3,1686L2295.3,1663.1L2304.2,1686L2304.2,1708.9L2306.1,1717.1L2295.3,1745ZM2418,1717.1L2419.6,1708.7L2419.6,1686L2428.4,1663.3L2437.3,1686L2437.3,1708.7L2438.9,1717.1L2428.4,1744ZM2106.3,1686L2113.6,1667.2L2121,1686L2113.6,1704.8ZM2179,1686L2186.3,1667.2L2193.6,1686L2186.3,1704.8ZM2469.5,1686L2476.9,1667.2L2484.2,1686L2476.9,1704.8ZM2493.8,1686L2501.1,1667.2L2508.4,1686L2501.1,1704.8ZM2215.1,1654.9L2222.6,1635.6L2230.1,1635.6L2234.7,1635.6L2242.2,1654.9L2234.7,1674.2L2227.2,1674.2L2222.6,1674.2ZM2031.6,1623.8L2031.8,1616.4L2031.8,1592.7L2032.3,1584L2032.3,1561.5L2041,1539.1L2049.7,1561.5L2049.7,1584L2050.2,1592.7L2050.2,1616.4L2050.4,1623.8L2041,1647.9ZM2080.2,1623.8L2089.4,1600.1L2092.3,1592.7L2101.5,1568.9L2110.8,1592.7L2101.5,1616.4L2098.7,1623.8L2089.4,1647.5ZM2139.8,1623.8L2140.7,1616.4L2140.7,1592.7L2150,1568.9L2153.8,1561.5L2162.1,1540.3L2170.4,1561.5L2170.4,1582.8L2172.5,1592.7L2162.1,1620.6L2160.6,1623.8L2150,1650ZM2273,1623.8L2283.1,1597.6L2284.6,1592.7L2295.3,1565.2L2305.9,1592.7L2305.9,1620.1L2306.3,1623.8L2295.3,1652.2L2293.3,1650L2283.1,1650ZM2348.5,1623.8L2355.8,1605L2363.1,1623.8L2355.8,1642.6ZM2394.7,1623.8L2404.2,1599.2L2406.8,1592.7L2416.3,1568.1L2418.9,1561.5L2428.4,1537L2438,1561.5L2428.4,1586.1L2425.9,1592.7L2416.3,1617.2L2413.8,1623.8L2404.2,1648.3ZM2430.7,1623.8L2440.5,1598.5L2450.4,1623.8L2440.5,1649.1ZM2396.9,1561.5L2404.2,1542.7L2411.5,1561.5L2404.2,1580.3ZM2457.9,1499.3L2464.8,1481.6L2471.6,1499.3L2464.8,1517ZM2082.6,1468.2L2089.4,1450.5L2096.3,1468.2L2089.4,1485.9Z" fill="#30ff00" fill-rule="evenodd" stroke="#30ff00" stroke-width="0.6"/>
<path d="M2028.9,1646.5L2032.2,1654.9L2028.9,1663.3L2028.9,1654.9ZM2032,1717.1L2032,1709.2L2032,1686L2041,1662.8L2050,1686L2050,1694L2050,1717.1L2041,1740.3ZM2139.9,1717.1L2141.4,1708.1L2141.4,1686L2150,1664L2158.5,1686L2158.5,1708.1L2160,1717.1L2150,1743ZM2284.5,1717.1L2286.6,1708.3L2286.6,1686L2295.3,1663.7L2303.9,1686L2303.9,1708.3L2306,1717.1L2295.3,1744.7ZM2418.1,1717.1L2419.9,1708.1L2419.9,1686L2428.4,1664L2437,1686L2437,1708.1L2438.8,1717.1L2428.4,1743.7ZM2106.7,1686L2113.6,1668.1L2120.6,1686L2113.6,1703.9ZM2179.3,1686L2186.3,1668.1L2193.3,1686L2186.3,1703.9ZM2469.9,1686L2476.9,1668.1L2483.8,1686L2476.9,1703.9ZM2494.1,1686L2501.1,1668.1L2508,1686L2501.1,1703.9ZM2215.4,1654.9L2222.6,1636.5L2229.8,1636.5L2234.7,1636.5L2241.9,1654.9L2234.7,1673.3L2227.6,1673.3L2222.6,1673.3ZM2031.8,1623.8L2032,1615.8L2032,1592.7L2032.5,1583.3L2032.5,1561.5L2041,1539.8L2049.5,1561.5L2049.5,1583.3L2050,1592.7L2050,1615.8L2050.2,1623.8L2041,1647.3ZM2080.4,1623.8L2089.4,1600.6L2092.5,1592.7L2101.5,1569.5L2110.6,1592.7L2101.5,1615.8L2098.5,1623.8L2089.4,1647ZM2139.9,1623.8L2141,1615.8L2141,1592.7L2150,1569.5L2154.1,1561.5L2162.1,1541L2170.1,1561.5L2170.1,1582.1L2172.4,1592.7L2162.1,1620.2L2160.5,1623.8L2150,1649.6ZM2273.1,1623.8L2283.1,1598L2284.7,1592.7L2295.3,1565.5L2305.8,1592.7L2305.8,1619.8L2306.2,1623.8L2295.3,1652L2293.2,1649.6L2283.1,1649.6ZM2348.8,1623.8L2355.8,1605.9L2362.8,1623.8L2355.8,1641.7ZM2394.9,1623.8L2404.2,1599.7L2407,1592.7L2416.3,1568.6L2419.1,1561.5L2428.4,1537.5L2437.8,1561.5L2428.4,1585.6L2425.7,1592.7L2416.3,1616.7L2413.6,1623.8L2404.2,1647.8ZM2430.9,1623.8L2440.5,1598.9L2450.2,1623.8L2440.5,1648.7ZM2397.3,1561.5L2404.2,1543.6L2411.2,1561.5L2404.2,1579.4ZM2458.3,1499.3L2464.8,1482.6L2471.2,1499.3L2464.8,1516ZM2082.9,1468.2L2089.4,1451.5L2095.9,1468.2L2089.4,1484.9Z" fill="#58ff00" fill-rule="evenodd" stroke="#58ff00" stroke-width="0.6"/>
<path d="M2028.9,1648L2031.6,1654.9L2028.9,1661.8L2028.9,1654.9ZM2032.2,1717.1L2032.2,1708.7L2032.2,1686L2041,1663.4L2049.8,1686L2049.8,1694.5L2049.8,1717.1L2041,1739.8ZM2140.1,1717.1L2141.6,1707.4L2141.6,1686L2150,1664.6L2158.3,1686L2158.3,1707.4L2159.9,1717.1L2150,1742.6ZM2284.6,1717.1L2286.8,1707.7L2286.8,1686L2295.3,1664.3L2303.7,1686L2303.7,1707.7L2305.9,1717.1L2295.3,1744.5ZM2418.2,1717.1L2420.1,1707.4L2420.1,1686L2428.4,1664.6L2436.8,1686L2436.8,1707.4L2438.7,1717.1L2428.4,1743.4ZM2107,1686L2113.6,1669L2120.3,1686L2113.6,1703ZM2179.7,1686L2186.3,1669L2192.9,1686L2186.3,1703ZM2470.3,1686L2476.9,1669L2483.5,1686L2476.9,1703ZM2494.5,1686L2501.1,1669L2507.7,1686L2501.1,1703ZM2215.8,1654.9L2222.6,1637.3L2229.4,1637.3L2234.7,1637.3L2241.5,1654.9L2234.7,1672.5L2227.9,1672.5L2222.6,1672.5ZM2032,1623.8L2032.2,1615.3L2032.2,1592.7L2032.8,1582.7L2032.8,1561.5L2041,1540.4L2049.2,1561.5L2049.2,1582.7L2049.8,1592.7L2049.8,1615.3L2050,1623.8L2041,1646.8ZM2080.6,1623.8L2089.4,1601.1L2092.7,1592.7L2101.5,1570L2110.4,1592.7L2101.5,1615.3L2098.2,1623.8L2089.4,1646.4ZM2140.1,1623.8L2141.2,1615.3L2141.2,1592.7L2150,1570L2154.4,1561.5L2162.1,1541.7L2169.8,1561.5L2169.8,1581.4L2172.3,1592.7L2162.1,1619.9L2160.3,1623.8L2150,1649.2ZM2273.2,1623.8L2283.1,1598.3L2284.8,1592.7L2295.3,1565.8L2305.7,1592.7L2305.7,1619.5L2306.2,1623.8L2295.3,1651.8L2293.1,1649.2L2283.1,1649.2ZM2349.2,1623.8L2355.8,1606.8L2362.4,1623.8L2355.8,1640.8ZM2395,1623.8L2404.2,1600.2L2407.2,1592.7L2416.3,1569.1L2419.3,1561.5L2428.4,1538L2437.6,1561.5L2428.4,1585.1L2425.5,1592.7L2416.3,1616.2L2413.4,1623.8L2404.2,1647.4ZM2431,1623.8L2440.5,1599.3L2450.1,1623.8L2440.5,1648.2ZM2397.6,1561.5L2404.2,1544.6L2410.8,1561.5L2404.2,1578.5ZM2458.6,1499.3L2464.8,1483.6L2470.9,1499.3L2464.8,1515ZM2083.3,1468.2L2089.4,1452.5L2095.5,1468.2L2089.4,1483.9Z" fill="#80ff00" fill-rule="evenodd" stroke="#80ff00" stroke-width="0.6"/>
<path d="M2028.9,1649.6L2031,1654.9L2028.9,1660.2L2028.9,1654.9ZM2032.4,1717.1L2032.4,1708.1L2032.4,1686L2041,1663.9L2049.6,1686L2049.6,1695L2049.6,1717.1L2041,1739.2ZM2140.2,1717.1L2141.9,1706.8L2141.9,1686L2150,1665.2L2158.1,1686L2158.1,1706.8L2159.7,1717.1L2150,1742.2ZM2284.7,1717.1L2287.1,1707.1L2287.1,1686L2295.3,1664.9L2303.5,1686L2303.5,1707.1L2305.8,1717.1L2295.3,1744.2ZM2418.3,1717.1L2420.3,1706.8L2420.3,1686L2428.4,1665.2L2436.5,1686L2436.5,1706.8L2438.5,1717.1L2428.4,1743.1ZM2107.4,1686L2113.6,1669.9L2119.9,1686L2113.6,1702.1ZM2180,1686L2186.3,1669.9L2192.5,1686L2186.3,1702.1ZM2470.6,1686L2476.9,1669.9L2483.1,1686L2476.9,1702.1ZM2494.8,1686L2501.1,1669.9L2507.3,1686L2501.1,1702.1ZM2216.1,1654.9L2222.6,1638.2L2229.1,1638.2L2234.7,1638.2L2241.2,1654.9L2234.7,1671.6L2228.2,1671.6L2222.6,1671.6ZM2032.2,1623.8L2032.4,1614.8L2032.4,1592.7L2033,1582L2033,1561.5L2041,1541L2049,1561.5L2049,1582L2049.6,1592.7L2049.6,1614.8L2049.8,1623.8L2041,1646.3ZM2080.8,1623.8L2089.4,1601.7L2092.9,1592.7L2101.5,1570.6L2110.1,1592.7L2101.5,1614.8L2098,1623.8L2089.4,1645.9ZM2140.2,1623.8L2141.4,1614.8L2141.4,1592.7L2150,1570.6L2154.7,1561.5L2162.1,1542.5L2169.5,1561.5L2169.5,1580.6L2172.2,1592.7L2162.1,1619.6L2160.2,1623.8L2150,1648.9ZM2273.4,1623.8L2283.1,1598.7L2284.9,1592.7L2295.3,1566.1L2305.6,1592.7L2305.6,1619.3L2306.1,1623.8L2295.3,1651.6L2292.9,1648.9L2283.1,1648.9ZM2349.5,1623.8L2355.8,1607.7L2362,1623.8L2355.8,1639.9ZM2395.2,1623.8L2404.2,1600.7L2407.3,1592.7L2416.3,1569.6L2419.4,1561.5L2428.4,1538.4L2437.4,1561.5L2428.4,1584.6L2425.3,1592.7L2416.3,1615.8L2413.2,1623.8L2404.2,1646.9ZM2431.2,1623.8L2440.5,1599.7L2449.9,1623.8L2440.5,1647.8ZM2398,1561.5L2404.2,1545.5L2410.5,1561.5L2404.2,1577.6ZM2459,1499.3L2464.8,1484.6L2470.5,1499.3L2464.8,1514ZM2083.7,1468.2L2089.4,1453.5L2095.2,1468.2L2089.4,1482.9Z" fill="#a7ff00" fill-rule="evenodd" stroke="#a7ff00" stroke-width="0.6"/>
<path d="M2028.9,1651.1L2030.4,1654.9L2028.9,1658.7L2028.9,1654.9ZM2032.6,1717.1L2032.6,1707.6L2032.6,1686L2041,1664.5L2049.4,1686L2049.4,1695.6L2049.4,1717.1L2041,1738.7ZM2140.3,1717.1L2142.1,1706.2L2142.1,1686L2150,1665.8L2157.8,1686L2157.8,1706.2L2159.6,1717.1L2150,1741.9ZM2284.8,1717.1L2287.3,1706.5L2287.3,1686L2295.3,1665.5L2303.2,1686L2303.2,1706.5L2305.7,1717.1L2295.3,1744ZM2418.5,1717.1L2420.6,1706.2L2420.6,1686L2428.4,1665.8L2436.3,1686L2436.3,1706.2L2438.4,1717.1L2428.4,1742.8ZM2107.7,1686L2113.6,1670.8L2119.6,1686L2113.6,1701.2ZM2180.4,1686L2186.3,1670.8L2192.2,1686L2186.3,1701.2ZM2471,1686L2476.9,1670.8L2482.8,1686L2476.9,1701.2ZM2495.2,1686L2501.1,1670.8L2507,1686L2501.1,1701.2ZM2216.5,1654.9L2222.6,1639.1L2228.8,1639.1L2234.7,1639.1L2240.9,1654.9L2234.7,1670.7L2228.6,1670.7L2222.6,1670.7ZM2032.4,1623.8L2032.6,1614.2L2032.6,1592.7L2033.3,1581.4L2033.3,1561.5L2041,1541.7L2048.7,1561.5L2048.7,1581.4L2049.4,1592.7L2049.4,1614.2L2049.6,1623.8L2041,1645.8ZM2081.1,1623.8L2089.4,1602.2L2093.2,1592.7L2101.5,1571.1L2109.9,1592.7L2101.5,1614.2L2097.8,1623.8L2089.4,1645.3ZM2140.3,1623.8L2141.6,1614.2L2141.6,1592.7L2150,1571.1L2154.9,1561.5L2162.1,1543.2L2169.2,1561.5L2169.2,1579.9L2172.1,1592.7L2162.1,1619.3L2160,1623.8L2150,1648.5ZM2273.5,1623.8L2283.1,1599L2285,1592.7L2295.3,1566.3L2305.5,1592.7L2305.5,1619L2306,1623.8L2295.3,1651.4L2292.8,1648.5L2283.1,1648.5ZM2349.9,1623.8L2355.8,1608.6L2361.7,1623.8L2355.8,1639ZM2395.4,1623.8L2404.2,1601.2L2407.5,1592.7L2416.3,1570L2419.6,1561.5L2428.4,1538.9L2437.2,1561.5L2428.4,1584.2L2425.1,1592.7L2416.3,1615.3L2413,1623.8L2404.2,1646.4ZM2431.4,1623.8L2440.5,1600.2L2449.7,1623.8L2440.5,1647.4ZM2398.3,1561.5L2404.2,1546.4L2410.1,1561.5L2404.2,1576.7ZM2459.4,1499.3L2464.8,1485.6L2470.1,1499.3L2464.8,1513ZM2084.1,1468.2L2089.4,1454.5L2094.8,1468.2L2089.4,1481.9Z" fill="#cfff00" fill-rule="evenodd" stroke="#cfff00" stroke-width="0.6"/>
<path d="M2028.9,1652.7L2029.8,1654.9L2028.9,1657.1L2028.9,1654.9ZM2032.8,1717.1L2032.8,1707L2032.8,1686L2041,1665L2049.2,1686L2049.2,1696.1L2049.2,1717.1L2041,1738.1ZM2140.5,1717.1L2142.4,1705.6L2142.4,1686L2150,1666.5L2157.6,1686L2157.6,1705.6L2159.5,1717.1L2150,1741.5ZM2284.9,1717.1L2287.5,1705.9L2287.5,1686L2295.3,1666.1L2303,1686L2303,1705.9L2305.6,1717.1L2295.3,1743.8ZM2418.6,1717.1L2420.8,1705.6L2420.8,1686L2428.4,1666.5L2436,1686L2436,1705.6L2438.3,1717.1L2428.4,1742.5ZM2108.1,1686L2113.6,1671.8L2119.2,1686L2113.6,1700.3ZM2180.7,1686L2186.3,1671.8L2191.8,1686L2186.3,1700.3ZM2471.3,1686L2476.9,1671.8L2482.4,1686L2476.9,1700.3ZM2495.5,1686L2501.1,1671.8L2506.6,1686L2501.1,1700.3ZM2216.8,1654.9L2222.6,1640L2228.4,1640L2234.7,1640L2240.5,1654.9L2234.7,1669.8L2228.9,1669.8L2222.6,1669.8ZM2032.6,1623.8L2032.8,1613.7L2032.8,1592.7L2033.5,1580.8L2033.5,1561.5L2041,1542.3L2048.5,1561.5L2048.5,1580.8L2049.2,1592.7L2049.2,1613.7L2049.4,1623.8L2041,1645.3ZM2081.3,1623.8L2089.4,1602.8L2093.4,1592.7L2101.5,1571.7L2109.7,1592.7L2101.5,1613.7L2097.6,1623.8L2089.4,1644.8ZM2140.5,1623.8L2141.8,1613.7L2141.8,1592.7L2150,1571.7L2155.2,1561.5L2162.1,1543.9L2168.9,1561.5L2168.9,1579.2L2171.9,1592.7L2162.1,1618.9L2159.9,1623.8L2150,1648.2ZM2273.7,1623.8L2283.1,1599.4L2285.1,1592.7L2295.3,1566.6L2305.4,1592.7L2305.4,1618.7L2305.9,1623.8L2295.3,1651.2L2292.6,1648.2L2283.1,1648.2ZM2350.2,1623.8L2355.8,1609.5L2361.3,1623.8L2355.8,1638ZM2395.6,1623.8L2404.2,1601.7L2407.7,1592.7L2416.3,1570.5L2419.8,1561.5L2428.4,1539.4L2437,1561.5L2428.4,1583.7L2424.9,1592.7L2416.3,1614.8L2412.8,1623.8L2404.2,1645.9ZM2431.5,1623.8L2440.5,1600.6L2449.6,1623.8L2440.5,1647ZM2398.7,1561.5L2404.2,1547.3L2409.8,1561.5L2404.2,1575.8ZM2459.8,1499.3L2464.8,1486.6L2469.7,1499.3L2464.8,1512ZM2084.5,1468.2L2089.4,1455.4L2094.4,1468.2L2089.4,1480.9Z" fill="#f7ff00" fill-rule="evenodd" stroke="#f7ff00" stroke-width="0.6"/>
<path d="M2028.9,1654.2L2029.2,1654.9L2028.9,1655.6L2028.9,1654.9ZM2033,1717.1L2033,1706.5L2033,1686L2041,1665.6L2049,1686L2049,1696.7L2049,1717.1L2041,1737.6ZM2140.6,1717.1L2142.6,1705L2142.6,1686L2150,1667.1L2157.3,1686L2157.3,1705L2159.3,1717.1L2150,1741.2ZM2285,1717.1L2287.8,1705.3L2287.8,1686L2295.3,1666.7L2302.8,1686L2302.8,1705.3L2305.5,1717.1L2295.3,1743.5ZM2418.7,1717.1L2421.1,1705L2421.1,1686L2428.4,1667.1L2435.8,1686L2435.8,1705L2438.2,1717.1L2428.4,1742.2ZM2108.5,1686L2113.6,1672.7L2118.8,1686L2113.6,1699.4ZM2181.1,1686L2186.3,1672.7L2191.5,1686L2186.3,1699.4ZM2471.7,1686L2476.9,1672.7L2482.1,1686L2476.9,1699.4ZM2495.9,1686L2501.1,1672.7L2506.3,1686L2501.1,1699.4ZM2217.1,1654.9L2222.6,1640.8L2228.1,1640.8L2234.7,1640.8L2240.2,1654.9L2234.7,1669L2229.2,1669L2222.6,1669ZM2032.8,1623.8L2033,1613.1L2033,1592.7L2033.8,1580.1L2033.8,1561.5L2041,1543L2048.2,1561.5L2048.2,1580.1L2049,1592.7L2049,1613.1L2049.2,1623.8L2041,1644.7ZM2081.5,1623.8L2089.4,1603.3L2093.6,1592.7L2101.5,1572.2L2109.5,1592.7L2101.5,1613.1L2097.4,1623.8L2089.4,1644.2ZM2140.6,1623.8L2142,1613.1L2142,1592.7L2150,1572.2L2155.5,1561.5L2162.1,1544.6L2168.7,1561.5L2168.7,1578.4L2171.8,1592.7L2162.1,1618.6L2159.7,1623.8L2150,1647.8ZM2273.8,1623.8L2283.1,1599.8L2285.2,1592.7L2295.3,1566.9L2305.3,1592.7L2305.3,1618.5L2305.9,1623.8L2295.3,1651L2292.5,1647.8L2283.1,1647.8ZM2350.6,1623.8L2355.8,1610.4L2361,1623.8L2355.8,1637.1ZM2395.8,1623.8L2404.2,1602.1L2407.9,1592.7L2416.3,1571L2420,1561.5L2428.4,1539.9L2436.9,1561.5L2428.4,1583.2L2424.7,1592.7L2416.3,1614.3L2412.6,1623.8L2404.2,1645.4ZM2431.7,1623.8L2440.5,1601L2449.4,1623.8L2440.5,1646.5ZM2399,1561.5L2404.2,1548.2L2409.4,1561.5L2404.2,1574.9ZM2460.2,1499.3L2464.8,1487.6L2469.3,1499.3L2464.8,1511ZM2084.9,1468.2L2089.4,1456.4L2094,1468.2L2089.4,1479.9Z" fill="#ffe000" fill-rule="evenodd" stroke="#ffe000" stroke-width="0.6"/>
<path d="M2033.3,1717.1L2033.3,1705.9L2033.3,1686L2041,1666.1L2048.8,1686L2048.8,1697.2L2048.8,1717.1L2041,1737.1ZM2140.8,1717.1L2142.8,1704.3L2142.8,1686L2150,1667.7L2157.1,1686L2157.1,1704.3L2159.2,1717.1L2150,1740.8ZM2285.1,1717.1L2288,1704.7L2288,1686L2295.3,1667.3L2302.5,1686L2302.5,1704.7L2305.4,1717.1L2295.3,1743.3ZM2418.8,1717.1L2421.3,1704.3L2421.3,1686L2428.4,1667.7L2435.6,1686L2435.6,1704.3L2438.1,1717.1L2428.4,1741.9ZM2108.8,1686L2113.6,1673.6L2118.5,1686L2113.6,1698.5ZM2181.4,1686L2186.3,1673.6L2191.1,1686L2186.3,1698.5ZM2472,1686L2476.9,1673.6L2481.7,1686L2476.9,1698.5ZM2496.2,1686L2501.1,1673.6L2505.9,1686L2501.1,1698.5ZM2217.5,1654.9L2222.6,1641.7L2227.7,1641.7L2234.7,1641.7L2239.9,1654.9L2234.7,1668.1L2229.6,1668.1L2222.6,1668.1ZM2033.1,1623.8L2033.3,1612.6L2033.3,1592.7L2034,1579.5L2034,1561.5L2041,1543.6L2048,1561.5L2048,1579.5L2048.8,1592.7L2048.8,1612.6L2049,1623.8L2041,1644.2ZM2081.7,1623.8L2089.4,1603.9L2093.8,1592.7L2101.5,1572.7L2109.3,1592.7L2101.5,1612.6L2097.2,1623.8L2089.4,1643.7ZM2140.8,1623.8L2142.2,1612.6L2142.2,1592.7L2150,1572.7L2155.8,1561.5L2162.1,1545.4L2168.4,1561.5L2168.4,1577.7L2171.7,1592.7L2162.1,1618.3L2159.6,1623.8L2150,1647.4ZM2273.9,1623.8L2283.1,1600.1L2285.3,1592.7L2295.3,1567.1L2305.2,1592.7L2305.2,1618.2L2305.8,1623.8L2295.3,1650.8L2292.4,1647.4L2283.1,1647.4ZM2350.9,1623.8L2355.8,1611.3L2360.6,1623.8L2355.8,1636.2ZM2396,1623.8L2404.2,1602.6L2408.1,1592.7L2416.3,1571.5L2420.2,1561.5L2428.4,1540.4L2436.7,1561.5L2428.4,1582.7L2424.6,1592.7L2416.3,1613.8L2412.5,1623.8L2404.2,1644.9ZM2431.9,1623.8L2440.5,1601.4L2449.2,1623.8L2440.5,1646.1ZM2399.4,1561.5L2404.2,1549.1L2409.1,1561.5L2404.2,1574ZM2460.6,1499.3L2464.8,1488.5L2468.9,1499.3L2464.8,1510.1ZM2085.3,1468.2L2089.4,1457.4L2093.6,1468.2L2089.4,1478.9Z" fill="#ffb800" fill-rule="evenodd" stroke="#ffb800" stroke-width="0.6"/>
<path d="M2033.5,1717.1L2033.5,1705.4L2033.5,1686L2041,1666.6L2048.5,1686L2048.5,1697.8L2048.5,1717.1L2041,1736.5ZM2140.9,1717.1L2143.1,1703.7L2143.1,1686L2150,1668.3L2156.9,1686L2156.9,1703.7L2159,1717.1L2150,1740.4ZM2285.2,1717.1L2288.2,1704.1L2288.2,1686L2295.3,1668L2302.3,1686L2302.3,1704.1L2305.3,1717.1L2295.3,1743ZM2418.9,1717.1L2421.6,1703.7L2421.6,1686L2428.4,1668.3L2435.3,1686L2435.3,1703.7L2437.9,1717.1L2428.4,1741.5ZM2109.2,1686L2113.6,1674.5L2118.1,1686L2113.6,1697.6ZM2181.8,1686L2186.3,1674.5L2190.8,1686L2186.3,1697.6ZM2472.4,1686L2476.9,1674.5L2481.4,1686L2476.9,1697.6ZM2496.6,1686L2501.1,1674.5L2505.6,1686L2501.1,1697.6ZM2217.8,1654.9L2222.6,1642.6L2227.4,1642.6L2234.7,1642.6L2239.5,1654.9L2234.7,1667.2L2229.9,1667.2L2222.6,1667.2ZM2033.3,1623.8L2033.5,1612L2033.5,1592.7L2034.3,1578.8L2034.3,1561.5L2041,1544.2L2047.7,1561.5L2047.7,1578.8L2048.5,1592.7L2048.5,1612L2048.8,1623.8L2041,1643.7ZM2081.9,1623.8L2089.4,1604.4L2094,1592.7L2101.5,1573.3L2109.1,1592.7L2101.5,1612L2097,1623.8L2089.4,1643.2ZM2140.9,1623.8L2142.4,1612L2142.4,1592.7L2150,1573.3L2156.1,1561.5L2162.1,1546.1L2168.1,1561.5L2168.1,1577L2171.6,1592.7L2162.1,1618L2159.4,1623.8L2150,1647.1ZM2274.1,1623.8L2283.1,1600.5L2285.4,1592.7L2295.3,1567.4L2305.1,1592.7L2305.1,1617.9L2305.7,1623.8L2295.3,1650.6L2292.2,1647.1L2283.1,1647.1ZM2351.3,1623.8L2355.8,1612.2L2360.3,1623.8L2355.8,1635.3ZM2396.2,1623.8L2404.2,1603.1L2408.3,1592.7L2416.3,1572L2420.4,1561.5L2428.4,1540.9L2436.5,1561.5L2428.4,1582.2L2424.4,1592.7L2416.3,1613.3L2412.3,1623.8L2404.2,1644.5ZM2432,1623.8L2440.5,1601.9L2449.1,1623.8L2440.5,1645.7ZM2399.7,1561.5L2404.2,1550L2408.7,1561.5L2404.2,1573.1ZM2461,1499.3L2464.8,1489.5L2468.6,1499.3L2464.8,1509.1ZM2085.6,1468.2L2089.4,1458.4L2093.2,1468.2L2089.4,1477.9Z" fill="#ff9100" fill-rule="evenodd" stroke="#ff9100" stroke-width="0.6"/>
<path d="M2033.7,1717.1L2033.7,1704.8L2033.7,1686L2041,1667.2L2048.3,1686L2048.3,1698.3L2048.3,1717.1L2041,1736ZM2141.1,1717.1L2143.3,1703.1L2143.3,1686L2150,1668.9L2156.6,1686L2156.6,1703.1L2158.9,1717.1L2150,1740.1ZM2285.3,1717.1L2288.5,1703.5L2288.5,1686L2295.3,1668.6L2302,1686L2302,1703.5L2305.2,1717.1L2295.3,1742.8ZM2419.1,1717.1L2421.8,1703.1L2421.8,1686L2428.4,1668.9L2435.1,1686L2435.1,1703.1L2437.8,1717.1L2428.4,1741.2ZM2109.5,1686L2113.6,1675.4L2117.8,1686L2113.6,1696.7ZM2182.2,1686L2186.3,1675.4L2190.4,1686L2186.3,1696.7ZM2472.7,1686L2476.9,1675.4L2481,1686L2476.9,1696.7ZM2496.9,1686L2501.1,1675.4L2505.2,1686L2501.1,1696.7ZM2218.2,1654.9L2222.6,1643.4L2227.1,1643.4L2234.7,1643.4L2239.2,1654.9L2234.7,1666.4L2230.3,1666.4L2222.6,1666.4ZM2033.5,1623.8L2033.7,1611.5L2033.7,1592.7L2034.5,1578.2L2034.5,1561.5L2041,1544.9L2047.5,1561.5L2047.5,1578.2L2048.3,1592.7L2048.3,1611.5L2048.6,1623.8L2041,1643.2ZM2082.1,1623.8L2089.4,1605L2094.2,1592.7L2101.5,1573.8L2108.9,1592.7L2101.5,1611.5L2096.8,1623.8L2089.4,1642.6ZM2141.1,1623.8L2142.6,1611.5L2142.6,1592.7L2150,1573.8L2156.3,1561.5L2162.1,1546.8L2167.8,1561.5L2167.8,1576.3L2171.5,1592.7L2162.1,1617.6L2159.3,1623.8L2150,1646.7ZM2274.2,1623.8L2283.1,1600.9L2285.5,1592.7L2295.3,1567.7L2305,1592.7L2305,1617.6L2305.6,1623.8L2295.3,1650.4L2292.1,1646.7L2283.1,1646.7ZM2351.7,1623.8L2355.8,1613.1L2359.9,1623.8L2355.8,1634.4ZM2396.4,1623.8L2404.2,1603.6L2408.5,1592.7L2416.3,1572.5L2420.6,1561.5L2428.4,1541.3L2436.3,1561.5L2428.4,1581.7L2424.2,1592.7L2416.3,1612.9L2412.1,1623.8L2404.2,1644ZM2432.2,1623.8L2440.5,1602.3L2448.9,1623.8L2440.5,1645.3ZM2400.1,1561.5L2404.2,1550.9L2408.4,1561.5L2404.2,1572.2ZM2461.3,1499.3L2464.8,1490.5L2468.2,1499.3L2464.8,1508.1ZM2086,1468.2L2089.4,1459.4L2092.8,1468.2L2089.4,1477Z" fill="#ff6900" fill-rule="evenodd" stroke="#ff6900" stroke-width="0.6"/>
<path d="M2033.9,1717.1L2033.9,1704.3L2033.9,1686L2041,1667.7L2048.1,1686L2048.1,1698.9L2048.1,1717.1L2041,1735.4ZM2141.2,1717.1L2143.6,1702.5L2143.6,1686L2150,1669.6L2156.4,1686L2156.4,1702.5L2158.7,1717.1L2150,1739.7ZM2285.4,1717.1L2288.7,1702.9L2288.7,1686L2295.3,1669.2L2301.8,1686L2301.8,1702.9L2305.1,1717.1L2295.3,1742.6ZM2419.2,1717.1L2422,1702.5L2422,1686L2428.4,1669.6L2434.8,1686L2434.8,1702.5L2437.7,1717.1L2428.4,1740.9ZM2109.9,1686L2113.6,1676.3L2117.4,1686L2113.6,1695.7ZM2182.5,1686L2186.3,1676.3L2190.1,1686L2186.3,1695.7ZM2473.1,1686L2476.9,1676.3L2480.6,1686L2476.9,1695.7ZM2497.3,1686L2501.1,1676.3L2504.9,1686L2501.1,1695.7ZM2218.5,1654.9L2222.6,1644.3L2226.7,1644.3L2234.7,1644.3L2238.8,1654.9L2234.7,1665.5L2230.6,1665.5L2222.6,1665.5ZM2033.7,1623.8L2033.9,1610.9L2033.9,1592.7L2034.8,1577.6L2034.8,1561.5L2041,1545.5L2047.2,1561.5L2047.2,1577.6L2048.1,1592.7L2048.1,1610.9L2048.4,1623.8L2041,1642.7ZM2082.3,1623.8L2089.4,1605.5L2094.4,1592.7L2101.5,1574.4L2108.7,1592.7L2101.5,1610.9L2096.5,1623.8L2089.4,1642.1ZM2141.2,1623.8L2142.9,1610.9L2142.9,1592.7L2150,1574.4L2156.6,1561.5L2162.1,1547.5L2167.5,1561.5L2167.5,1575.5L2171.3,1592.7L2162.1,1617.3L2159.1,1623.8L2150,1646.3ZM2274.4,1623.8L2283.1,1601.2L2285.6,1592.7L2295.3,1568L2304.9,1592.7L2304.9,1617.4L2305.5,1623.8L2295.3,1650.2L2291.9,1646.3L2283.1,1646.3ZM2352,1623.8L2355.8,1614.1L2359.6,1623.8L2355.8,1633.5ZM2396.6,1623.8L2404.2,1604.1L2408.7,1592.7L2416.3,1573L2420.8,1561.5L2428.4,1541.8L2436.1,1561.5L2428.4,1581.2L2424,1592.7L2416.3,1612.4L2411.9,1623.8L2404.2,1643.5ZM2432.4,1623.8L2440.5,1602.7L2448.7,1623.8L2440.5,1644.8ZM2400.4,1561.5L2404.2,1551.8L2408,1561.5L2404.2,1571.3ZM2461.7,1499.3L2464.8,1491.5L2467.8,1499.3L2464.8,1507.1ZM2086.4,1468.2L2089.4,1460.4L2092.5,1468.2L2089.4,1476Z" fill="#ff4100" fill-rule="evenodd" stroke="#ff4100" stroke-width="0.6"/>
<path d="M2034.1,1717.1L2034.1,1703.8L2034.1,1686L2041,1668.3L2047.9,1686L2047.9,1699.4L2047.9,1717.1L2041,1734.9ZM2141.3,1717.1L2143.8,1701.8L2143.8,1686L2150,1670.2L2156.1,1686L2156.1,1701.8L2158.6,1717.1L2150,1739.3ZM2285.5,1717.1L2288.9,1702.3L2288.9,1686L2295.3,1669.8L2301.6,1686L2301.6,1702.3L2305,1717.1L2295.3,1742.3ZM2419.3,1717.1L2422.3,1701.8L2422.3,1686L2428.4,1670.2L2434.6,1686L2434.6,1701.8L2437.6,1717.1L2428.4,1740.6ZM2110.2,1686L2113.6,1677.2L2117.1,1686L2113.6,1694.8ZM2182.9,1686L2186.3,1677.2L2189.7,1686L2186.3,1694.8ZM2473.4,1686L2476.9,1677.2L2480.3,1686L2476.9,1694.8ZM2497.6,1686L2501.1,1677.2L2504.5,1686L2501.1,1694.8ZM2218.8,1654.9L2222.6,1645.2L2226.4,1645.2L2234.7,1645.2L2238.5,1654.9L2234.7,1664.6L2230.9,1664.6L2222.6,1664.6ZM2033.9,1623.8L2034.1,1610.4L2034.1,1592.7L2035,1576.9L2035,1561.5L2041,1546.2L2047,1561.5L2047,1576.9L2047.9,1592.7L2047.9,1610.4L2048.2,1623.8L2041,1642.2ZM2082.5,1623.8L2089.4,1606L2094.6,1592.7L2101.5,1574.9L2108.4,1592.7L2101.5,1610.4L2096.3,1623.8L2089.4,1641.5ZM2141.3,1623.8L2143.1,1610.4L2143.1,1592.7L2150,1574.9L2156.9,1561.5L2162.1,1548.3L2167.2,1561.5L2167.2,1574.8L2171.2,1592.7L2162.1,1617L2159,1623.8L2150,1646ZM2274.5,1623.8L2283.1,1601.6L2285.8,1592.7L2295.3,1568.2L2304.8,1592.7L2304.8,1617.1L2305.5,1623.8L2295.3,1650L2291.8,1646L2283.1,1646ZM2352.4,1623.8L2355.8,1615L2359.2,1623.8L2355.8,1632.6ZM2396.7,1623.8L2404.2,1604.6L2408.8,1592.7L2416.3,1573.4L2421,1561.5L2428.4,1542.3L2435.9,1561.5L2428.4,1580.8L2423.8,1592.7L2416.3,1611.9L2411.7,1623.8L2404.2,1643ZM2432.5,1623.8L2440.5,1603.2L2448.6,1623.8L2440.5,1644.4ZM2400.8,1561.5L2404.2,1552.7L2407.7,1561.5L2404.2,1570.4ZM2462.1,1499.3L2464.8,1492.5L2467.4,1499.3L2464.8,1506.1ZM2086.8,1468.2L2089.4,1461.4L2092.1,1468.2L2089.4,1475Z" fill="#ff0000" fill-rule="evenodd" stroke="#ff0000" stroke-width="0.6"/>
</g>
<rect x="2028.9" y="1344.2" width="486.1" height="400" fill="none" stroke="#101030" stroke-width="1.3"/>
<line x1="2019.9" y1="1343.7" x2="2028.9" y2="1343.7" stroke="#222" stroke-width="1.4"/>
<text x="1993.3" y="1350.5" font-size="33.5" text-anchor="middle">15</text>
<line x1="2023.9" y1="1421.5" x2="2028.9" y2="1421.5" stroke="#222" stroke-width="1.4"/>
<line x1="2019.6" y1="1499.3" x2="2028.9" y2="1499.3" stroke="#222" stroke-width="1.4"/>
<text x="1993.3" y="1506.1" font-size="33.5" text-anchor="middle">10</text>
<line x1="2023.9" y1="1577.1" x2="2028.9" y2="1577.1" stroke="#222" stroke-width="1.4"/>
<line x1="2019.6" y1="1654.9" x2="2028.9" y2="1654.9" stroke="#222" stroke-width="1.4"/>
<text x="1993.3" y="1661.7" font-size="33.5" text-anchor="middle">5</text>
<text transform="translate(1966.9 1577.3) rotate(-90)" font-size="33.5" text-anchor="middle" letter-spacing="1.2">Z(Å)</text>
<text x="2220" y="1391.7" font-size="33.5" font-weight="bold" fill="#fff">Na<tspan dy="-13" font-size="20">+</tspan><tspan dy="13"> @ Cu</tspan></text>
<ellipse cx="2256.9" cy="1346" rx="15" ry="20" fill="#2a6cff" opacity="0.45" filter="url(#gblur)" clip-path="url(#cg4)"/>
<ellipse cx="2320.5" cy="1346" rx="15" ry="20" fill="#2a6cff" opacity="0.45" filter="url(#gblur)" clip-path="url(#cg4)"/>
<ellipse cx="2403.7" cy="1346" rx="15" ry="20" fill="#2a6cff" opacity="0.45" filter="url(#gblur)" clip-path="url(#cg4)"/>
<ellipse cx="2457.5" cy="1346" rx="15" ry="20" fill="#2a6cff" opacity="0.45" filter="url(#gblur)" clip-path="url(#cg4)"/>
<rect x="2609.3" y="1437.6" width="30.5" height="347" fill="url(#gcb)" stroke="#222" stroke-width="1"/>
<line x1="2640" y1="1437.6" x2="2646.5" y2="1437.6" stroke="#333" stroke-width="1.3"/>
<text x="2649.5" y="1441.9" font-size="33.5">18.0</text>
<line x1="2640" y1="1507.9" x2="2646.5" y2="1507.9" stroke="#333" stroke-width="1.3"/>
<text x="2649.5" y="1512.2" font-size="33.5">14.4</text>
<line x1="2640" y1="1576.9" x2="2646.5" y2="1576.9" stroke="#333" stroke-width="1.3"/>
<text x="2649.5" y="1581.2" font-size="33.5">10.8</text>
<line x1="2640" y1="1646" x2="2646.5" y2="1646" stroke="#333" stroke-width="1.3"/>
<text x="2649.5" y="1650.3" font-size="33.5">7.2</text>
<line x1="2640" y1="1715.2" x2="2646.5" y2="1715.2" stroke="#333" stroke-width="1.3"/>
<text x="2649.5" y="1719.5" font-size="33.5">3.6</text>
<text x="2549.5" y="1388.8" font-size="33.5">ρ(atoms / nm<tspan dy="-13" font-size="19">3</tspan><tspan dy="13">)</tspan></text>
<text x="19.5" y="1326.5" font-size="57">g</text>
<rect x="0" y="0" width="2.2" height="1700" fill="#000"/>
</svg>
</body></html>
